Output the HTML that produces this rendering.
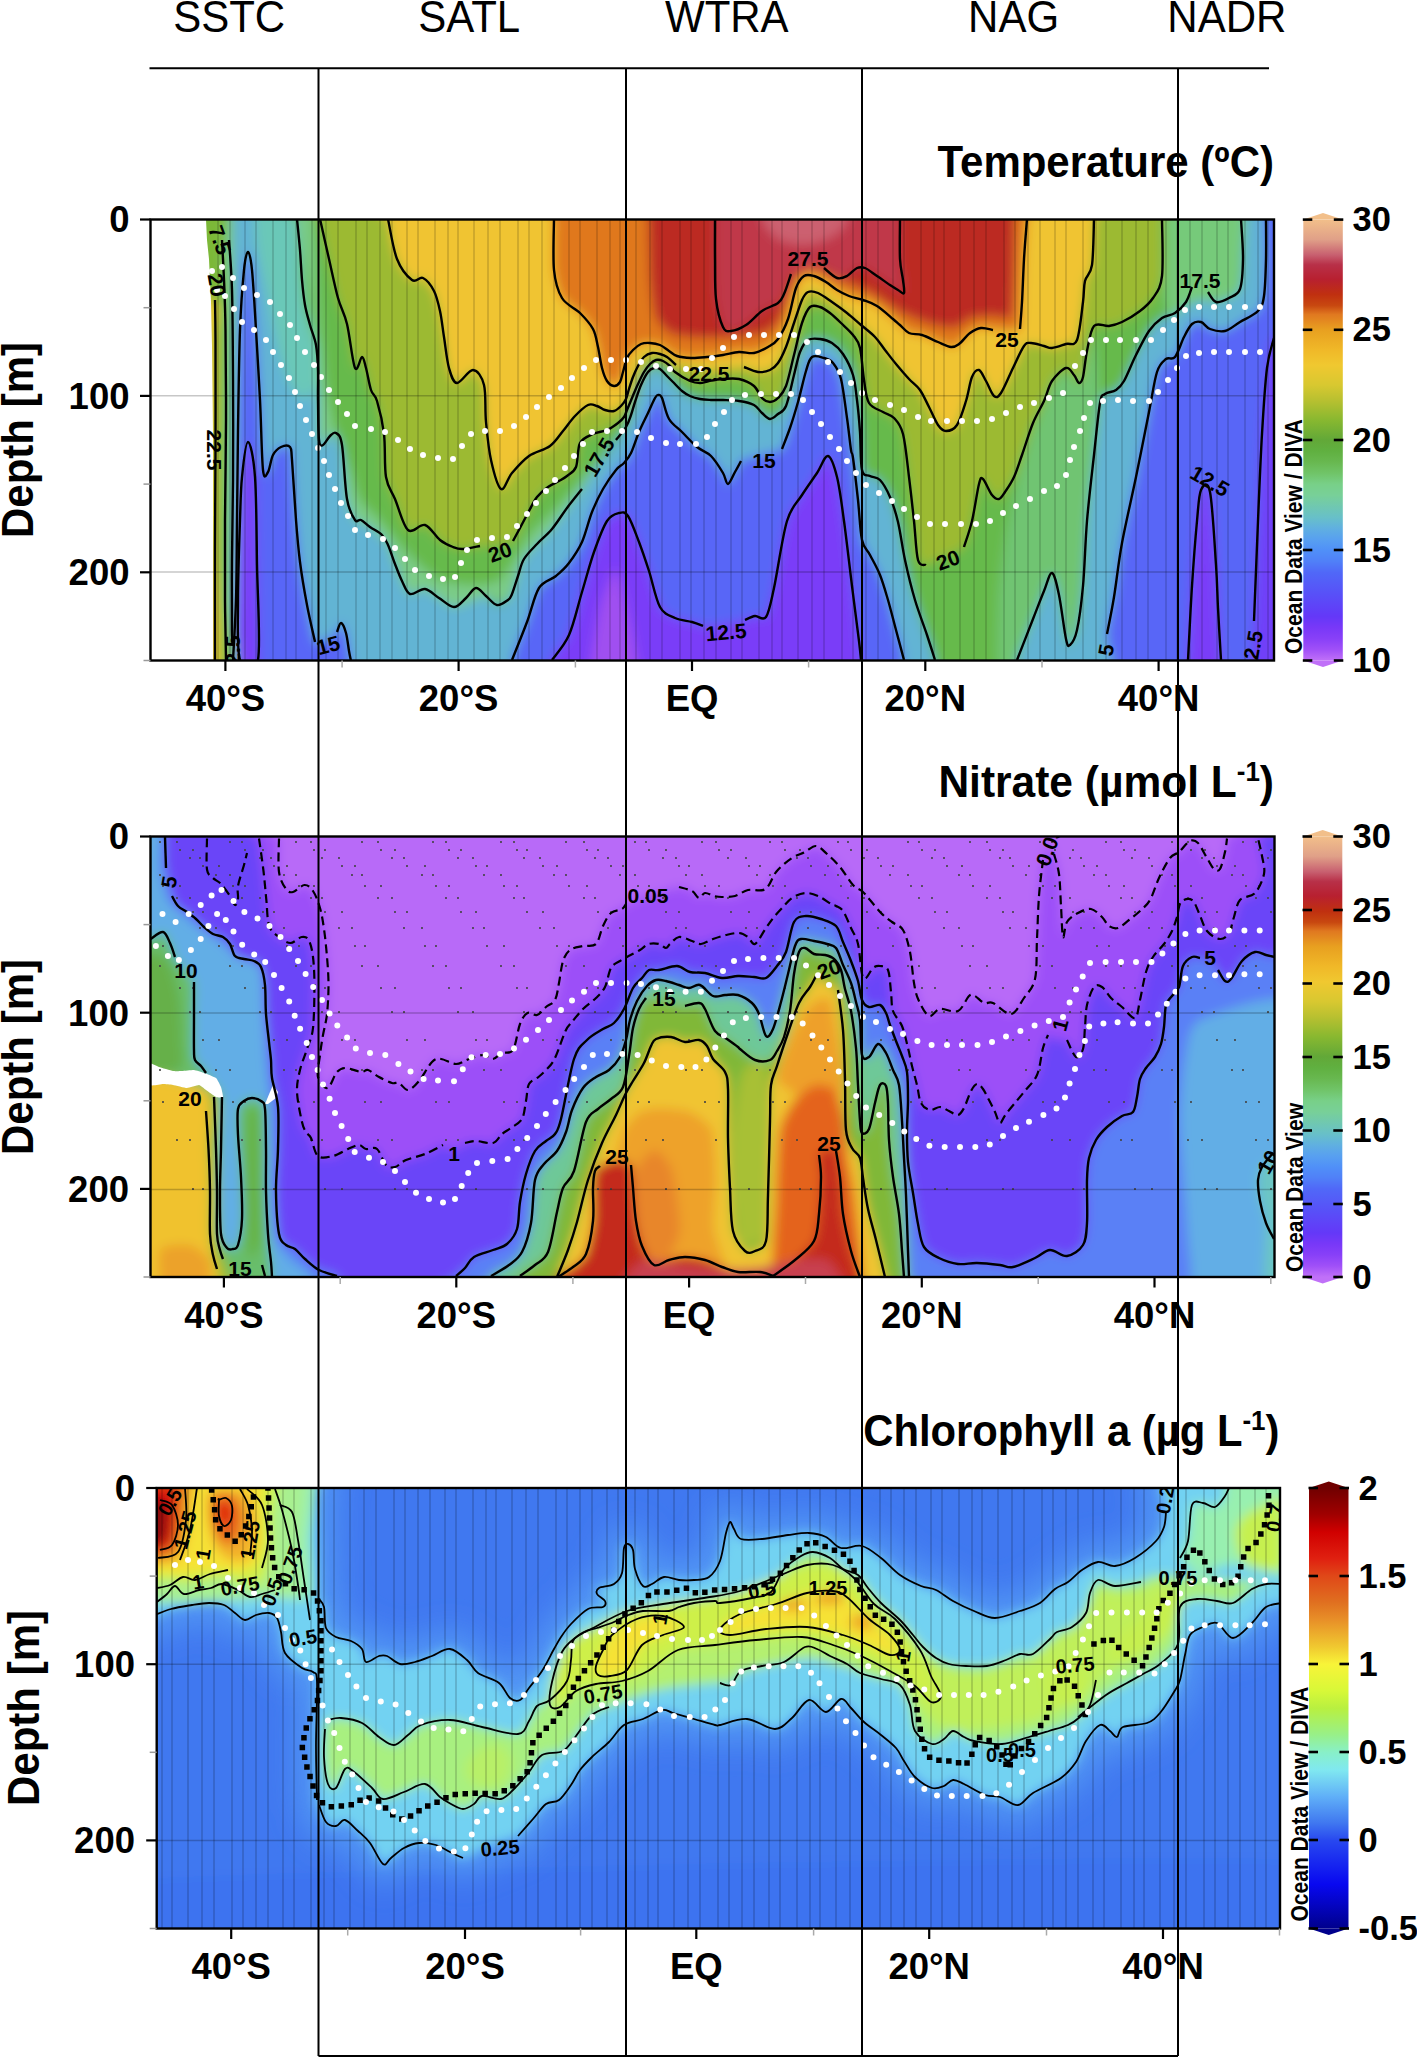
<!DOCTYPE html><html><head><meta charset="utf-8"><style>html,body{margin:0;padding:0;background:#fff;overflow:hidden}svg{display:block}text{font-family:"Liberation Sans", sans-serif;fill:#000}</style></head><body>
<svg width="1417" height="2059" viewBox="0 0 1417 2059">
<defs>
<filter id="b6" x="-5%" y="-10%" width="110%" height="120%"><feGaussianBlur stdDeviation="5.5"/></filter>
<filter id="b14" x="-10%" y="-20%" width="120%" height="140%"><feGaussianBlur stdDeviation="16"/></filter>
<clipPath id="c1"><rect x="150.5" y="219.5" width="1123.5" height="441.0"/></clipPath>
<clipPath id="c2"><rect x="150.5" y="836.5" width="1124.0" height="440.5"/></clipPath>
<clipPath id="c3"><rect x="156.7" y="1488.0" width="1123.3" height="440.5"/></clipPath>
<linearGradient id="gT" x1="0" y1="0" x2="0" y2="1"><stop offset="0.0000" stop-color="#f2bf8a"/><stop offset="0.0450" stop-color="#e0a088"/><stop offset="0.0800" stop-color="#c86070"/><stop offset="0.1025" stop-color="#b83048"/><stop offset="0.1350" stop-color="#b82030"/><stop offset="0.1700" stop-color="#c03010"/><stop offset="0.1950" stop-color="#c84810"/><stop offset="0.2150" stop-color="#e07820"/><stop offset="0.2500" stop-color="#e8a020"/><stop offset="0.2950" stop-color="#f0b828"/><stop offset="0.3300" stop-color="#f0c830"/><stop offset="0.3750" stop-color="#d8c830"/><stop offset="0.4100" stop-color="#b8c030"/><stop offset="0.4550" stop-color="#88b830"/><stop offset="0.5000" stop-color="#62a838"/><stop offset="0.5250" stop-color="#60b040"/><stop offset="0.5500" stop-color="#68b850"/><stop offset="0.5750" stop-color="#70c468"/><stop offset="0.6000" stop-color="#78d088"/><stop offset="0.6250" stop-color="#78d098"/><stop offset="0.6500" stop-color="#70c8b0"/><stop offset="0.6750" stop-color="#68c0c8"/><stop offset="0.7000" stop-color="#60b0e0"/><stop offset="0.7250" stop-color="#58a0f0"/><stop offset="0.7500" stop-color="#5090f8"/><stop offset="0.7750" stop-color="#5080f8"/><stop offset="0.8000" stop-color="#5068f8"/><stop offset="0.8500" stop-color="#5850f8"/><stop offset="0.9000" stop-color="#6438f8"/><stop offset="0.9250" stop-color="#7838f8"/><stop offset="0.9500" stop-color="#8840f8"/><stop offset="0.9750" stop-color="#a050f8"/><stop offset="1.0000" stop-color="#c070f8"/></linearGradient>
<linearGradient id="gN" x1="0" y1="0" x2="0" y2="1"><stop offset="0.0000" stop-color="#f2bf8a"/><stop offset="0.0450" stop-color="#e0a088"/><stop offset="0.0800" stop-color="#c86070"/><stop offset="0.1025" stop-color="#b83048"/><stop offset="0.1350" stop-color="#b82030"/><stop offset="0.1700" stop-color="#c03010"/><stop offset="0.1950" stop-color="#c84810"/><stop offset="0.2150" stop-color="#e07820"/><stop offset="0.2500" stop-color="#e8a020"/><stop offset="0.2950" stop-color="#f0b828"/><stop offset="0.3300" stop-color="#f0c830"/><stop offset="0.3750" stop-color="#d8c830"/><stop offset="0.4100" stop-color="#b8c030"/><stop offset="0.4550" stop-color="#88b830"/><stop offset="0.5000" stop-color="#62a838"/><stop offset="0.5250" stop-color="#60b040"/><stop offset="0.5500" stop-color="#68b850"/><stop offset="0.5750" stop-color="#70c468"/><stop offset="0.6000" stop-color="#78d088"/><stop offset="0.6250" stop-color="#78d098"/><stop offset="0.6500" stop-color="#70c8b0"/><stop offset="0.6750" stop-color="#68c0c8"/><stop offset="0.7000" stop-color="#60b0e0"/><stop offset="0.7250" stop-color="#58a0f0"/><stop offset="0.7500" stop-color="#5090f8"/><stop offset="0.7750" stop-color="#5080f8"/><stop offset="0.8000" stop-color="#5068f8"/><stop offset="0.8500" stop-color="#5850f8"/><stop offset="0.9000" stop-color="#6438f8"/><stop offset="0.9250" stop-color="#7838f8"/><stop offset="0.9500" stop-color="#8840f8"/><stop offset="0.9750" stop-color="#a050f8"/><stop offset="1.0000" stop-color="#c070f8"/></linearGradient>
<linearGradient id="gC" x1="0" y1="0" x2="0" y2="1"><stop offset="0.0000" stop-color="#700000"/><stop offset="0.0600" stop-color="#a00000"/><stop offset="0.1000" stop-color="#d00000"/><stop offset="0.1600" stop-color="#e02010"/><stop offset="0.2000" stop-color="#e04818"/><stop offset="0.2600" stop-color="#e07020"/><stop offset="0.3000" stop-color="#e89028"/><stop offset="0.3600" stop-color="#f0c830"/><stop offset="0.4000" stop-color="#f8f438"/><stop offset="0.4600" stop-color="#d8f838"/><stop offset="0.5000" stop-color="#b8f040"/><stop offset="0.5600" stop-color="#98f088"/><stop offset="0.6000" stop-color="#88f0c8"/><stop offset="0.6400" stop-color="#80e8f0"/><stop offset="0.7000" stop-color="#60b0f8"/><stop offset="0.7600" stop-color="#4078f0"/><stop offset="0.8000" stop-color="#2848f0"/><stop offset="0.9000" stop-color="#0808f0"/><stop offset="1.0000" stop-color="#00008c"/></linearGradient>
</defs>
<rect width="1417" height="2059" fill="#fff"/>
<g clip-path="url(#c1)">
<g filter="url(#b6)">
<path d="M120.5,189.5 C238.8,139.4 1185.7,139.4 1304.0,189.5 C1422.3,239.6 1422.3,640.4 1304.0,690.5 C1185.7,740.6 238.8,740.6 120.5,690.5 C2.2,640.4 2.2,239.6 120.5,189.5 Z" fill="#5866f7"/>
<path d="M120.5,189.5 C238.8,139.4 1189.5,189.5 1304.0,189.5 C1418.5,189.5 1269.8,182.6 1266.0,189.5 C1262.2,196.4 1266.2,248.3 1266.0,259.0 C1265.8,269.6 1264.8,290.8 1264.0,296.0 C1263.2,301.2 1260.4,308.4 1258.0,311.0 C1255.6,313.6 1243.3,320.0 1240.0,322.0 C1236.7,324.0 1228.0,330.3 1225.0,331.0 C1222.0,331.7 1212.4,329.9 1210.0,329.0 C1207.6,328.1 1202.8,322.5 1201.0,322.0 C1199.2,321.5 1193.7,322.5 1192.0,324.0 C1190.3,325.5 1185.7,333.7 1184.0,337.0 C1182.3,340.3 1176.8,354.8 1175.0,357.0 C1173.2,359.2 1167.8,357.5 1166.0,359.0 C1164.2,360.5 1158.7,366.7 1157.0,372.0 C1155.3,377.3 1151.1,401.5 1149.0,412.0 C1146.9,422.5 1138.7,463.9 1136.0,477.0 C1133.3,490.1 1124.2,531.0 1122.0,543.0 C1119.8,555.0 1115.5,587.9 1114.0,597.0 C1112.5,606.1 1107.9,624.6 1107.0,634.0 C1106.1,643.4 1125.3,684.9 1105.0,690.5 C1084.7,696.1 924.1,693.5 904.0,690.5 C883.9,687.5 904.8,666.0 904.0,660.0 C903.2,654.0 897.6,636.0 896.0,630.0 C894.4,624.0 889.6,605.5 888.0,600.0 C886.4,594.5 881.8,579.5 880.0,575.0 C878.2,570.5 871.8,558.5 870.0,555.0 C868.2,551.5 863.2,545.5 862.0,540.0 C860.8,534.5 858.9,508.2 858.0,500.0 C857.1,491.8 854.1,466.2 853.0,458.0 C851.9,449.8 848.2,425.9 847.0,418.0 C845.8,410.1 842.4,384.5 841.0,379.0 C839.6,373.5 834.7,365.1 833.0,363.0 C831.3,360.9 826.1,358.6 824.0,358.0 C821.9,357.4 813.8,355.7 812.0,357.0 C810.2,358.3 807.4,366.5 806.0,371.0 C804.6,375.5 799.6,396.3 798.0,402.0 C796.4,407.7 791.6,423.3 790.0,428.0 C788.4,432.7 785.0,446.3 782.0,449.0 C779.0,451.7 764.1,453.8 760.0,455.0 C755.9,456.2 743.5,459.3 741.0,461.0 C738.5,462.7 736.3,469.7 735.0,472.0 C733.7,474.3 729.2,483.9 728.0,484.0 C726.8,484.1 724.7,475.8 723.0,473.0 C721.3,470.2 713.6,458.6 711.0,456.0 C708.4,453.4 699.9,449.4 697.0,447.0 C694.1,444.6 684.8,434.8 682.0,432.0 C679.2,429.2 671.0,422.4 669.0,419.0 C667.0,415.6 663.1,400.4 662.0,398.0 C660.9,395.6 658.7,395.0 658.0,395.0 C657.3,395.0 656.0,396.2 655.0,398.0 C654.0,399.8 649.6,409.6 648.0,413.0 C646.4,416.4 640.7,428.0 639.0,432.0 C637.3,436.0 632.5,449.9 631.0,453.0 C629.5,456.1 625.5,461.3 624.0,463.0 C622.5,464.7 618.1,467.4 616.0,470.0 C613.9,472.6 605.4,484.8 603.0,489.0 C600.6,493.2 594.1,506.7 592.0,512.0 C589.9,517.3 584.3,536.9 582.0,542.0 C579.7,547.1 571.6,559.6 569.0,563.0 C566.4,566.4 559.0,573.5 556.0,576.0 C553.0,578.5 541.9,583.4 539.0,588.0 C536.1,592.6 529.7,614.8 527.0,622.0 C524.3,629.2 513.7,653.1 512.0,660.0 C510.3,666.9 526.1,687.5 510.0,690.5 C493.9,693.5 366.9,693.5 351.0,690.5 C335.1,687.5 351.2,665.0 351.0,661.0 C350.8,657.0 349.5,653.8 349.0,651.0 C348.5,648.2 346.8,635.8 346.0,633.0 C345.2,630.2 341.9,623.1 341.0,623.0 C340.1,622.9 338.5,630.3 337.0,632.0 C335.5,633.7 328.2,639.0 326.0,640.0 C323.8,641.0 316.9,645.5 315.0,642.0 C313.1,638.5 308.5,613.0 307.0,605.0 C305.5,597.0 301.1,570.5 300.0,562.0 C298.9,553.5 296.8,530.2 296.0,520.0 C295.2,509.8 292.6,467.3 292.0,460.0 C291.4,452.7 291.1,448.3 290.0,447.0 C288.9,445.7 282.7,446.2 281.0,447.0 C279.3,447.8 274.3,452.5 273.0,455.0 C271.7,457.5 269.0,470.5 268.0,472.0 C267.0,473.5 263.8,477.2 263.0,470.0 C262.2,462.8 260.7,414.0 260.0,400.0 C259.3,386.0 256.8,343.0 256.0,330.0 C255.2,317.0 252.8,277.8 252.0,270.0 C251.2,262.2 248.8,252.0 248.0,252.0 C247.2,252.0 244.8,262.2 244.0,270.0 C243.2,277.8 240.6,314.0 240.0,330.0 C239.4,346.0 238.3,411.0 238.0,430.0 C237.7,449.0 237.2,503.0 237.0,520.0 C236.8,537.0 236.4,586.0 236.0,600.0 C235.6,614.0 233.3,651.0 233.0,660.0 C232.7,669.0 244.2,687.5 233.0,690.5 C221.8,693.5 131.8,740.6 120.5,690.5 C109.2,640.4 2.2,239.6 120.5,189.5 Z" fill="#62b4d4"/>
<path d="M256.0,189.5 C260.1,184.9 292.9,186.6 297.0,189.5 C301.1,192.4 296.7,212.9 297.0,219.0 C297.3,225.1 299.5,243.9 300.0,250.0 C300.5,256.1 301.5,274.5 302.0,280.0 C302.5,285.5 304.2,300.5 305.0,305.0 C305.8,309.5 308.9,321.0 310.0,325.0 C311.1,329.0 315.2,339.5 316.0,345.0 C316.8,350.5 319.1,374.5 318.0,380.0 C316.9,385.5 307.8,399.5 305.0,400.0 C302.2,400.5 292.7,390.0 290.0,385.0 C287.3,380.0 280.2,358.5 278.0,350.0 C275.8,341.5 269.8,308.8 268.0,300.0 C266.2,291.2 261.2,268.5 260.0,262.0 C258.8,255.5 256.4,242.2 256.0,235.0 C255.6,227.8 251.9,194.1 256.0,189.5 Z" fill="#6ac8b8"/>
<path d="M297.0,189.5 C202.6,192.4 296.7,212.9 297.0,219.0 C297.3,225.1 299.5,243.9 300.0,250.0 C300.5,256.1 301.5,274.5 302.0,280.0 C302.5,285.5 304.2,300.5 305.0,305.0 C305.8,309.5 308.9,321.0 310.0,325.0 C311.1,329.0 315.2,340.5 316.0,345.0 C316.8,349.5 317.8,364.5 318.0,370.0 C318.2,375.5 317.9,393.0 318.0,400.0 C318.1,407.0 318.5,435.5 319.0,440.0 C319.5,444.5 321.9,445.4 323.0,445.0 C324.1,444.6 328.7,437.2 330.0,436.0 C331.3,434.8 334.8,432.1 336.0,433.0 C337.2,433.9 340.9,438.4 342.0,445.0 C343.1,451.6 345.7,491.5 347.0,499.0 C348.3,506.5 353.6,517.9 355.0,520.0 C356.4,522.1 359.5,519.3 361.0,520.0 C362.5,520.7 367.9,525.5 370.0,527.0 C372.1,528.5 380.2,533.2 382.0,535.0 C383.8,536.8 386.7,542.1 388.0,545.0 C389.3,547.9 393.6,560.4 395.0,564.0 C396.4,567.6 400.5,578.0 402.0,581.0 C403.5,584.0 407.7,593.2 410.0,594.0 C412.3,594.8 422.1,588.6 425.0,589.0 C427.9,589.4 436.1,596.2 439.0,598.0 C441.9,599.8 451.3,607.0 454.0,607.0 C456.7,607.0 463.8,599.9 466.0,598.0 C468.2,596.1 474.0,588.2 476.0,588.0 C478.0,587.8 483.9,594.3 486.0,596.0 C488.1,597.7 494.8,604.6 497.0,605.0 C499.2,605.4 506.5,601.1 508.0,600.0 C509.5,598.9 511.0,596.4 512.0,594.0 C513.0,591.6 516.8,579.5 518.0,576.0 C519.2,572.5 522.1,562.2 524.0,559.0 C525.9,555.8 534.2,547.0 537.0,544.0 C539.8,541.0 549.0,532.6 552.0,529.0 C555.0,525.4 564.0,512.0 567.0,508.0 C570.0,504.0 578.9,493.3 582.0,489.0 C585.1,484.7 594.6,469.9 598.0,465.0 C601.4,460.1 613.2,443.8 616.0,440.0 C618.8,436.2 624.5,429.5 626.0,427.0 C627.5,424.5 630.1,417.5 631.0,415.0 C631.9,412.5 634.0,405.0 635.0,402.0 C636.0,399.0 639.7,388.0 641.0,385.0 C642.3,382.0 646.7,373.7 648.0,372.0 C649.3,370.3 652.8,368.3 654.0,368.0 C655.2,367.7 658.7,368.2 660.0,369.0 C661.3,369.8 665.7,374.7 667.0,376.0 C668.3,377.3 671.5,380.5 673.0,382.0 C674.5,383.5 680.3,389.6 682.0,391.0 C683.7,392.4 688.2,395.2 690.0,396.0 C691.8,396.8 697.9,398.6 700.0,399.0 C702.1,399.4 708.7,399.9 711.0,400.0 C713.3,400.1 720.2,399.9 723.0,400.0 C725.8,400.1 735.9,400.5 739.0,401.0 C742.1,401.5 751.7,403.8 754.0,405.0 C756.3,406.2 760.4,411.6 762.0,413.0 C763.6,414.4 768.4,418.9 770.0,419.0 C771.6,419.1 776.4,415.3 778.0,414.0 C779.6,412.7 784.4,409.9 786.0,406.0 C787.6,402.1 792.6,380.4 794.0,375.0 C795.4,369.6 798.6,355.5 800.0,352.0 C801.4,348.5 806.0,341.3 808.0,340.0 C810.0,338.7 817.6,338.7 820.0,339.0 C822.4,339.3 829.7,341.5 832.0,343.0 C834.3,344.5 840.9,350.8 843.0,354.0 C845.1,357.2 851.6,370.4 853.0,375.0 C854.4,379.6 856.3,394.3 857.0,400.0 C857.7,405.7 859.5,425.0 860.0,432.0 C860.5,439.0 861.0,465.6 862.0,470.0 C863.0,474.4 868.2,475.0 870.0,476.0 C871.8,477.0 878.0,477.9 880.0,480.0 C882.0,482.1 888.2,492.8 890.0,497.0 C891.8,501.2 896.5,515.7 898.0,522.0 C899.5,528.3 903.3,552.2 905.0,560.0 C906.7,567.8 912.8,592.5 915.0,600.0 C917.2,607.5 925.0,629.0 927.0,635.0 C929.0,641.0 934.2,654.5 935.0,660.0 C935.8,665.5 926.8,687.5 935.0,690.5 C943.2,693.5 1008.8,693.5 1017.0,690.5 C1025.2,687.5 1015.4,667.1 1017.0,660.0 C1018.6,652.9 1030.3,625.9 1033.0,619.0 C1035.7,612.1 1042.1,595.6 1044.0,591.0 C1045.9,586.4 1050.5,572.6 1052.0,573.0 C1053.5,573.4 1057.6,588.4 1059.0,595.0 C1060.4,601.6 1064.9,634.0 1066.0,639.0 C1067.1,644.0 1068.9,645.9 1070.0,645.0 C1071.1,644.1 1075.7,635.9 1077.0,630.0 C1078.3,624.1 1082.0,596.9 1083.0,586.0 C1084.0,575.1 1085.9,534.1 1087.0,521.0 C1088.1,507.9 1092.7,466.8 1094.0,455.0 C1095.3,443.2 1098.9,409.1 1100.0,403.0 C1101.1,396.9 1103.4,395.3 1105.0,394.0 C1106.6,392.7 1114.1,391.3 1116.0,390.0 C1117.9,388.7 1122.0,384.5 1124.0,381.0 C1126.0,377.5 1133.5,360.0 1136.0,355.0 C1138.5,350.0 1146.4,334.7 1149.0,331.0 C1151.6,327.3 1159.4,319.8 1162.0,318.0 C1164.6,316.2 1172.6,314.6 1175.0,313.0 C1177.4,311.4 1184.3,304.6 1186.0,302.0 C1187.7,299.4 1190.6,288.2 1192.0,287.0 C1193.4,285.8 1198.4,289.5 1200.0,290.0 C1201.6,290.5 1206.4,290.8 1208.0,292.0 C1209.6,293.2 1213.9,301.4 1216.0,302.0 C1218.1,302.6 1226.6,299.3 1229.0,298.0 C1231.4,296.7 1238.6,292.9 1240.0,289.0 C1241.4,285.1 1242.9,266.0 1243.0,259.0 C1243.1,252.0 1241.2,225.9 1241.0,219.0 C1240.8,212.1 1335.4,192.4 1241.0,189.5 C1146.6,186.6 391.4,186.6 297.0,189.5 Z" fill="#66ba4c"/>
<path d="M298.0,189.5 C296.8,192.4 297.3,211.9 298.0,219.0 C298.7,226.1 303.6,251.9 305.0,260.0 C306.4,268.1 310.8,291.0 312.0,300.0 C313.2,309.0 316.4,340.0 317.0,350.0 C317.6,360.0 317.8,391.0 318.0,400.0 C318.2,409.0 318.5,435.5 319.0,440.0 C319.5,444.5 321.9,445.4 323.0,445.0 C324.1,444.6 328.7,437.2 330.0,436.0 C331.3,434.8 334.8,432.1 336.0,433.0 C337.2,433.9 340.9,438.4 342.0,445.0 C343.1,451.6 345.7,491.5 347.0,499.0 C348.3,506.5 352.7,517.2 355.0,520.0 C357.3,522.8 366.7,524.5 370.0,527.0 C373.3,529.5 384.8,539.6 388.0,545.0 C391.2,550.4 399.8,576.1 402.0,581.0 C404.2,585.9 407.7,593.2 410.0,594.0 C412.3,594.8 420.6,587.7 425.0,589.0 C429.4,590.3 447.9,606.3 454.0,607.0 C460.1,607.7 480.6,596.7 486.0,596.0 C491.4,595.3 504.2,603.7 508.0,600.0 C511.8,596.3 519.6,566.1 524.0,559.0 C528.4,551.9 546.2,536.0 552.0,529.0 C557.8,522.0 577.4,495.4 582.0,489.0 C586.6,482.6 594.6,469.9 598.0,465.0 C601.4,460.1 615.3,441.0 616.0,440.0 C616.7,439.0 607.6,452.0 605.0,455.0 C602.4,458.0 594.5,465.0 590.0,470.0 C585.5,475.0 566.0,498.5 560.0,505.0 C554.0,511.5 536.0,527.5 530.0,535.0 C524.0,542.5 506.0,575.0 500.0,580.0 C494.0,585.0 476.0,585.0 470.0,585.0 C464.0,585.0 445.0,582.0 440.0,580.0 C435.0,578.0 424.0,568.5 420.0,565.0 C416.0,561.5 404.0,549.5 400.0,545.0 C396.0,540.5 384.0,524.5 380.0,520.0 C376.0,515.5 363.0,505.0 360.0,500.0 C357.0,495.0 352.5,477.0 350.0,470.0 C347.5,463.0 337.5,439.0 335.0,430.0 C332.5,421.0 326.7,393.0 325.0,380.0 C323.3,367.0 319.5,319.1 318.0,300.0 C316.5,280.9 312.0,200.6 310.0,189.5 C308.0,178.4 299.2,186.6 298.0,189.5 Z" fill="#7ccc88"/>
<path d="M1170.0,189.5 C1177.6,183.4 1234.7,182.6 1242.0,189.5 C1249.3,196.4 1243.2,249.1 1243.0,259.0 C1242.8,268.9 1241.4,285.1 1240.0,289.0 C1238.6,292.9 1231.4,296.7 1229.0,298.0 C1226.6,299.3 1218.9,301.8 1216.0,302.0 C1213.1,302.2 1203.0,299.6 1200.0,300.0 C1197.0,300.4 1188.8,304.4 1186.0,306.0 C1183.2,307.6 1174.1,316.6 1172.0,316.0 C1169.9,315.4 1165.6,306.6 1165.0,300.0 C1164.4,293.4 1165.5,261.1 1166.0,250.0 C1166.5,238.9 1162.4,195.6 1170.0,189.5 Z" fill="#76ca7a"/>
<path d="M998.0,690.5 C996.1,681.5 997.3,615.0 998.0,600.0 C998.7,585.0 1003.3,551.0 1005.0,540.0 C1006.7,529.0 1012.5,500.0 1015.0,490.0 C1017.5,480.0 1027.1,448.5 1030.0,440.0 C1032.9,431.5 1041.8,410.5 1044.0,405.0 C1046.2,399.5 1049.8,388.3 1052.0,385.0 C1054.2,381.7 1063.2,372.0 1066.0,372.0 C1068.8,372.0 1077.9,386.2 1080.0,385.0 C1082.1,383.8 1085.6,365.0 1087.0,360.0 C1088.4,355.0 1092.7,330.7 1094.0,335.0 C1095.3,339.3 1100.0,391.0 1100.0,403.0 C1100.0,415.0 1095.3,443.2 1094.0,455.0 C1092.7,466.8 1088.1,507.9 1087.0,521.0 C1085.9,534.1 1084.0,575.1 1083.0,586.0 C1082.0,596.9 1078.3,624.1 1077.0,630.0 C1075.7,635.9 1071.1,644.1 1070.0,645.0 C1068.9,645.9 1067.1,644.0 1066.0,639.0 C1064.9,634.0 1060.4,601.6 1059.0,595.0 C1057.6,588.4 1053.5,573.4 1052.0,573.0 C1050.5,572.6 1045.9,586.4 1044.0,591.0 C1042.1,595.6 1035.7,612.1 1033.0,619.0 C1030.3,625.9 1018.6,652.9 1017.0,660.0 C1015.4,667.1 1018.9,687.5 1017.0,690.5 C1015.1,693.5 999.9,699.5 998.0,690.5 Z" fill="#70c472"/>
<path d="M320.0,189.5 C235.8,192.4 319.1,212.1 320.0,219.0 C320.9,225.9 327.2,251.1 329.0,259.0 C330.8,266.9 336.2,291.5 338.0,298.0 C339.8,304.5 345.3,317.0 347.0,324.0 C348.7,331.0 353.5,364.7 355.0,368.0 C356.5,371.3 360.9,357.0 362.0,357.0 C363.1,357.0 365.1,364.7 366.0,368.0 C366.9,371.3 369.9,386.7 371.0,390.0 C372.1,393.3 375.7,396.6 377.0,401.0 C378.3,405.4 383.1,426.4 384.0,434.0 C384.9,441.6 384.9,470.5 386.0,477.0 C387.1,483.5 392.8,493.7 395.0,499.0 C397.2,504.3 405.0,527.4 408.0,530.0 C411.0,532.6 421.8,524.0 425.0,525.0 C428.2,526.0 437.2,537.8 440.0,540.0 C442.8,542.2 450.7,546.1 453.0,547.0 C455.3,547.9 460.3,549.1 463.0,549.0 C465.7,548.9 476.7,546.4 480.0,546.0 C483.3,545.6 492.7,545.5 496.0,545.0 C499.3,544.5 510.6,542.7 513.0,541.0 C515.4,539.3 518.4,531.0 520.0,528.0 C521.6,525.0 527.3,514.1 529.0,511.0 C530.7,507.9 535.1,499.4 537.0,497.0 C538.9,494.6 545.8,488.6 548.0,487.0 C550.2,485.4 557.1,482.1 559.0,481.0 C560.9,479.9 565.3,477.4 567.0,476.0 C568.7,474.6 574.7,470.3 576.0,467.0 C577.3,463.7 578.3,446.3 580.0,443.0 C581.7,439.7 590.3,435.3 593.0,434.0 C595.7,432.7 604.5,431.1 607.0,430.0 C609.5,428.9 616.3,424.3 618.0,423.0 C619.7,421.7 623.1,418.3 624.0,417.0 C624.9,415.7 626.2,411.9 627.0,410.0 C627.8,408.1 630.9,400.6 632.0,398.0 C633.1,395.4 636.8,386.6 638.0,384.0 C639.2,381.4 642.8,374.0 644.0,372.0 C645.2,370.0 648.8,365.2 650.0,364.0 C651.2,362.8 654.7,360.3 656.0,360.0 C657.3,359.7 661.6,360.4 663.0,361.0 C664.4,361.6 668.8,364.9 670.0,366.0 C671.2,367.1 673.0,370.5 675.0,372.0 C677.0,373.5 687.5,379.9 690.0,381.0 C692.5,382.1 698.1,383.0 700.0,383.0 C701.9,383.0 706.7,381.4 709.0,381.0 C711.3,380.6 720.0,379.2 723.0,379.0 C726.0,378.8 735.9,378.3 739.0,379.0 C742.1,379.7 751.7,384.1 754.0,386.0 C756.3,387.9 760.4,396.4 762.0,398.0 C763.6,399.6 768.4,402.0 770.0,402.0 C771.6,402.0 776.4,399.6 778.0,398.0 C779.6,396.4 784.4,390.3 786.0,386.0 C787.6,381.7 792.4,361.3 794.0,355.0 C795.6,348.7 800.4,327.8 802.0,323.0 C803.6,318.2 808.2,308.6 810.0,307.0 C811.8,305.4 818.0,306.4 820.0,307.0 C822.0,307.6 827.9,311.4 830.0,313.0 C832.1,314.6 838.7,320.8 841.0,323.0 C843.3,325.2 851.1,332.5 853.0,335.0 C854.9,337.5 858.9,343.5 860.0,348.0 C861.1,352.5 863.1,374.5 864.0,380.0 C864.9,385.5 867.1,399.8 869.0,403.0 C870.9,406.2 880.5,410.5 883.0,412.0 C885.5,413.5 892.0,415.8 894.0,418.0 C896.0,420.2 901.5,428.1 903.0,434.0 C904.5,439.9 907.9,468.3 909.0,477.0 C910.1,485.7 913.1,512.7 914.0,521.0 C914.9,529.3 916.8,555.6 918.0,560.0 C919.2,564.4 923.3,565.4 926.0,565.0 C928.7,564.6 941.2,557.8 945.0,556.0 C948.8,554.2 961.3,550.5 964.0,547.0 C966.7,543.5 970.5,527.3 972.0,521.0 C973.5,514.7 977.9,488.2 979.0,484.0 C980.1,479.8 981.7,477.9 983.0,479.0 C984.3,480.1 990.4,493.0 992.0,495.0 C993.6,497.0 997.7,499.3 999.0,499.0 C1000.3,498.7 1003.5,494.2 1005.0,492.0 C1006.5,489.8 1012.3,480.7 1014.0,477.0 C1015.7,473.3 1020.1,460.4 1022.0,455.0 C1023.9,449.6 1030.8,428.4 1033.0,423.0 C1035.2,417.6 1042.1,405.2 1044.0,401.0 C1045.9,396.8 1049.8,384.3 1052.0,381.0 C1054.2,377.7 1063.8,368.6 1066.0,368.0 C1068.2,367.4 1072.7,373.5 1074.0,375.0 C1075.3,376.5 1078.1,382.8 1079.0,383.0 C1079.9,383.2 1082.2,380.2 1083.0,377.0 C1083.8,373.8 1085.9,356.1 1087.0,351.0 C1088.1,345.9 1091.8,328.5 1094.0,326.0 C1096.2,323.5 1106.2,326.4 1109.0,326.0 C1111.8,325.6 1118.9,323.5 1122.0,322.0 C1125.1,320.5 1136.9,313.4 1140.0,311.0 C1143.1,308.6 1150.8,301.5 1153.0,298.0 C1155.2,294.5 1161.1,283.9 1162.0,276.0 C1162.9,268.1 1162.0,227.7 1162.0,219.0 C1162.0,210.3 1246.2,192.4 1162.0,189.5 C1077.8,186.6 404.2,186.6 320.0,189.5 Z" fill="#9cba32"/>
<path d="M388.0,189.5 C317.4,192.4 387.1,212.1 388.0,219.0 C388.9,225.9 394.6,252.9 397.0,259.0 C399.4,265.1 409.4,278.1 412.0,280.0 C414.6,281.9 420.8,276.9 423.0,278.0 C425.2,279.1 432.3,287.7 434.0,291.0 C435.7,294.3 439.0,306.4 440.0,311.0 C441.0,315.6 443.1,331.3 444.0,337.0 C444.9,342.7 447.7,363.4 449.0,368.0 C450.3,372.6 454.6,382.8 457.0,383.0 C459.4,383.2 470.3,369.8 473.0,370.0 C475.7,370.2 482.7,379.8 484.0,385.0 C485.3,390.2 485.3,414.5 486.0,422.0 C486.7,429.5 489.5,453.3 491.0,460.0 C492.5,466.7 498.9,487.7 501.0,489.0 C503.1,490.3 509.2,476.3 512.0,473.0 C514.8,469.7 525.2,458.7 529.0,456.0 C532.8,453.3 546.6,448.5 550.0,446.0 C553.4,443.5 560.5,434.0 563.0,431.0 C565.5,428.0 572.5,418.6 575.0,416.0 C577.5,413.4 585.8,406.0 588.0,405.0 C590.2,404.0 595.3,405.5 597.0,406.0 C598.7,406.5 603.3,409.5 605.0,410.0 C606.7,410.5 612.4,411.4 614.0,411.0 C615.6,410.6 619.8,407.2 621.0,406.0 C622.2,404.8 625.2,400.7 626.0,399.0 C626.8,397.3 628.3,391.2 629.0,389.0 C629.7,386.8 632.1,379.3 633.0,377.0 C633.9,374.7 636.9,368.0 638.0,366.0 C639.1,364.0 642.6,358.3 644.0,357.0 C645.4,355.7 650.4,353.3 652.0,353.0 C653.6,352.7 658.5,353.6 660.0,354.0 C661.5,354.4 665.4,355.9 667.0,357.0 C668.6,358.1 671.7,363.7 676.0,365.0 C680.3,366.3 703.2,369.8 710.0,370.0 C716.8,370.2 739.2,366.8 744.0,367.0 C748.8,367.2 755.4,371.7 758.0,372.0 C760.6,372.3 768.0,370.9 770.0,370.0 C772.0,369.1 776.4,365.3 778.0,363.0 C779.6,360.7 784.4,351.0 786.0,347.0 C787.6,343.0 792.4,327.7 794.0,323.0 C795.6,318.3 800.6,303.1 802.0,300.0 C803.4,296.9 806.4,292.7 808.0,292.0 C809.6,291.3 815.6,292.0 818.0,293.0 C820.4,294.0 829.1,300.0 832.0,302.0 C834.9,304.0 844.1,310.7 847.0,313.0 C849.9,315.3 858.2,322.6 861.0,325.0 C863.8,327.4 872.6,334.5 875.0,337.0 C877.4,339.5 882.9,347.3 885.0,350.0 C887.1,352.7 893.6,361.1 896.0,364.0 C898.4,366.9 906.6,376.4 909.0,379.0 C911.4,381.6 918.0,387.2 920.0,390.0 C922.0,392.8 927.2,403.5 929.0,407.0 C930.8,410.5 936.3,422.6 938.0,425.0 C939.7,427.4 944.1,431.0 946.0,431.0 C947.9,431.0 955.0,428.0 957.0,425.0 C959.0,422.0 964.5,405.8 966.0,401.0 C967.5,396.2 970.7,380.1 972.0,377.0 C973.3,373.9 977.6,369.6 979.0,370.0 C980.4,370.4 984.5,378.4 986.0,381.0 C987.5,383.6 992.5,394.8 994.0,396.0 C995.5,397.2 999.1,395.8 1001.0,393.0 C1002.9,390.2 1010.7,372.7 1013.0,368.0 C1015.3,363.3 1022.2,348.5 1024.0,346.0 C1025.8,343.5 1029.0,343.0 1031.0,343.0 C1033.0,343.0 1041.9,345.5 1044.0,346.0 C1046.1,346.5 1049.8,348.2 1052.0,348.0 C1054.2,347.8 1063.5,344.8 1066.0,344.0 C1068.5,343.2 1075.3,344.2 1077.0,340.0 C1078.7,335.8 1082.2,307.9 1083.0,302.0 C1083.8,296.1 1084.1,284.7 1085.0,281.0 C1085.9,277.3 1091.1,271.2 1092.0,265.0 C1092.9,258.8 1093.8,226.6 1094.0,219.0 C1094.2,211.4 1164.6,192.4 1094.0,189.5 C1023.4,186.6 458.6,186.6 388.0,189.5 Z" fill="#f0c430"/>
<path d="M554.0,189.5 C506.7,192.4 554.0,210.9 554.0,219.0 C554.0,227.1 553.2,262.1 554.0,270.0 C554.8,277.9 559.4,293.7 562.0,298.0 C564.6,302.3 576.9,309.9 580.0,313.0 C583.1,316.1 591.2,325.6 593.0,329.0 C594.8,332.4 597.1,343.1 598.0,347.0 C598.9,350.9 601.1,364.6 602.0,368.0 C602.9,371.4 605.8,379.2 607.0,381.0 C608.2,382.8 612.7,385.9 614.0,386.0 C615.3,386.1 619.1,383.4 620.0,382.0 C620.9,380.6 622.3,374.4 623.0,372.0 C623.7,369.6 626.0,360.2 627.0,358.0 C628.0,355.8 631.6,351.4 633.0,350.0 C634.4,348.6 639.3,344.7 641.0,344.0 C642.7,343.3 648.1,342.9 650.0,343.0 C651.9,343.1 658.1,344.2 660.0,345.0 C661.9,345.8 667.3,349.9 669.0,351.0 C670.7,352.1 674.8,355.3 677.0,356.0 C679.2,356.7 688.0,357.9 691.0,358.0 C694.0,358.1 703.8,357.3 707.0,357.0 C710.2,356.7 719.8,355.5 723.0,355.0 C726.2,354.5 735.9,352.2 739.0,352.0 C742.1,351.8 751.1,353.5 754.0,353.0 C756.9,352.5 765.6,348.4 768.0,347.0 C770.4,345.6 776.0,341.8 778.0,339.0 C780.0,336.2 786.2,324.1 788.0,319.0 C789.8,313.9 794.4,292.3 796.0,288.0 C797.6,283.7 802.2,277.2 804.0,276.0 C805.8,274.8 811.8,275.4 814.0,276.0 C816.2,276.6 823.7,280.6 826.0,282.0 C828.3,283.4 834.7,288.6 837.0,290.0 C839.3,291.4 846.4,295.0 849.0,296.0 C851.6,297.0 860.2,299.0 863.0,300.0 C865.8,301.0 874.0,304.1 877.0,306.0 C880.0,307.9 890.7,317.1 893.0,319.0 C895.3,320.9 898.4,323.6 900.0,325.0 C901.6,326.4 906.8,332.0 909.0,333.0 C911.2,334.0 919.1,334.1 922.0,335.0 C924.9,335.9 935.1,340.8 938.0,342.0 C940.9,343.2 948.9,346.8 951.0,347.0 C953.1,347.2 957.1,345.4 959.0,344.0 C960.9,342.6 967.8,334.6 970.0,333.0 C972.2,331.4 978.7,328.3 981.0,328.0 C983.3,327.7 990.5,329.7 993.0,330.0 C995.5,330.3 1003.3,331.1 1006.0,331.0 C1008.7,330.9 1018.4,331.9 1020.0,329.0 C1021.6,326.1 1021.6,309.0 1022.0,302.0 C1022.4,295.0 1023.5,267.3 1024.0,259.0 C1024.5,250.7 1026.7,225.9 1027.0,219.0 C1027.3,212.1 1074.3,192.4 1027.0,189.5 C979.7,186.6 601.3,186.6 554.0,189.5 Z" fill="#e0781c"/>
<path d="M648.0,189.5 C611.3,192.4 647.8,209.9 648.0,219.0 C648.2,228.1 649.2,270.1 650.0,280.0 C650.8,289.9 653.8,312.6 656.0,318.0 C658.2,323.4 667.6,332.0 672.0,334.0 C676.4,336.0 694.2,337.7 700.0,338.0 C705.8,338.3 724.0,337.4 730.0,337.0 C736.0,336.6 755.4,335.2 760.0,334.0 C764.6,332.8 773.4,328.0 776.0,325.0 C778.6,322.0 784.0,308.7 786.0,304.0 C788.0,299.3 793.4,281.6 796.0,278.0 C798.6,274.4 807.6,267.8 812.0,268.0 C816.4,268.2 834.2,277.6 840.0,280.0 C845.8,282.4 864.0,288.8 870.0,292.0 C876.0,295.2 894.0,308.8 900.0,312.0 C906.0,315.2 924.5,322.4 930.0,324.0 C935.5,325.6 950.8,328.6 955.0,328.0 C959.2,327.4 968.0,319.2 972.0,318.0 C976.0,316.8 991.0,316.4 995.0,316.0 C999.0,315.6 1010.0,323.7 1012.0,314.0 C1014.0,304.3 1014.7,231.4 1015.0,219.0 C1015.3,206.6 1051.7,192.4 1015.0,189.5 C978.3,186.6 684.7,186.6 648.0,189.5 Z" fill="#bc2a20"/>
<path d="M715.0,189.5 C696.5,192.4 715.0,211.9 715.0,219.0 C715.0,226.1 714.9,252.0 715.0,260.0 C715.1,268.0 715.2,292.3 716.0,299.0 C716.8,305.7 721.5,323.8 723.0,327.0 C724.5,330.2 728.7,331.2 731.0,331.0 C733.3,330.8 742.9,327.0 746.0,325.0 C749.1,323.0 758.8,313.2 762.0,311.0 C765.2,308.8 775.8,304.7 778.0,303.0 C780.2,301.3 782.7,296.9 784.0,294.0 C785.3,291.1 788.6,276.4 791.0,274.0 C793.4,271.6 804.7,270.6 808.0,270.0 C811.3,269.4 821.1,267.2 824.0,268.0 C826.9,268.8 834.7,277.2 837.0,278.0 C839.3,278.8 845.0,277.0 847.0,276.0 C849.0,275.0 855.2,268.8 857.0,268.0 C858.8,267.2 863.0,267.2 865.0,268.0 C867.0,268.8 874.5,274.3 877.0,276.0 C879.5,277.7 887.9,283.6 890.0,285.0 C892.1,286.4 896.6,289.2 898.0,290.0 C899.4,290.8 903.5,294.0 904.0,293.0 C904.5,292.0 903.4,283.4 903.0,280.0 C902.6,276.6 900.3,265.1 900.0,259.0 C899.7,252.9 900.0,225.9 900.0,219.0 C900.0,212.1 918.5,192.4 900.0,189.5 C881.5,186.6 733.5,186.6 715.0,189.5 Z" fill="#c03848"/>
<path d="M760.0,189.5 C751.5,193.1 763.0,219.9 765.0,225.0 C767.0,230.1 776.0,238.0 780.0,240.0 C784.0,242.0 800.0,245.2 805.0,245.0 C810.0,244.8 826.0,240.0 830.0,238.0 C834.0,236.0 843.0,229.8 845.0,225.0 C847.0,220.2 858.5,193.1 850.0,189.5 C841.5,185.9 768.5,185.9 760.0,189.5 Z" fill="#cc6070"/>
<path d="M240.0,690.5 C238.0,681.5 238.0,617.0 238.0,600.0 C238.0,583.0 239.6,532.3 240.0,520.0 C240.4,507.7 241.2,484.8 242.0,477.0 C242.8,469.2 246.7,442.0 248.0,442.0 C249.3,442.0 254.1,464.7 255.0,477.0 C255.9,489.3 256.7,543.6 257.0,565.0 C257.3,586.4 259.7,678.0 258.0,690.5 C256.3,703.0 242.0,699.5 240.0,690.5 Z" fill="#7a3cf8"/>
<path d="M552.0,690.5 C521.1,687.5 550.3,665.5 552.0,660.0 C553.7,654.5 566.0,641.8 569.0,635.0 C572.0,628.2 579.5,600.3 582.0,592.0 C584.5,583.7 591.5,559.1 594.0,552.0 C596.5,544.9 604.5,524.9 607.0,521.0 C609.5,517.1 616.9,513.5 619.0,513.0 C621.1,512.5 626.0,513.1 628.0,516.0 C630.0,518.9 636.9,536.5 639.0,542.0 C641.1,547.5 646.9,564.5 649.0,571.0 C651.1,577.5 657.4,602.3 660.0,607.0 C662.6,611.7 671.8,616.5 675.0,618.0 C678.2,619.5 689.2,621.2 692.0,622.0 C694.8,622.8 699.7,625.8 703.0,626.0 C706.3,626.2 720.8,624.6 725.0,624.0 C729.2,623.4 742.0,620.8 745.0,620.0 C748.0,619.2 752.9,616.3 755.0,616.0 C757.1,615.7 764.1,619.8 766.0,617.0 C767.9,614.2 771.9,597.6 774.0,588.0 C776.1,578.4 784.2,530.3 787.0,521.0 C789.8,511.7 799.0,499.8 802.0,495.0 C805.0,490.2 814.4,476.9 817.0,473.0 C819.6,469.1 826.0,455.6 828.0,456.0 C830.0,456.4 835.4,470.5 837.0,477.0 C838.6,483.5 842.5,510.1 844.0,521.0 C845.5,531.9 850.5,574.0 852.0,586.0 C853.5,598.0 858.1,633.6 859.0,641.0 C859.9,648.4 860.8,655.0 861.0,660.0 C861.2,665.0 891.9,687.5 861.0,690.5 C830.1,693.5 582.9,693.5 552.0,690.5 Z" fill="#7a3cf8"/>
<path d="M590.0,690.5 C586.0,682.5 597.5,622.0 600.0,610.0 C602.5,598.0 612.5,571.0 615.0,570.0 C617.5,569.0 622.5,588.0 625.0,600.0 C627.5,612.0 643.5,681.5 640.0,690.5 C636.5,699.5 594.0,698.5 590.0,690.5 Z" fill="#a050f0"/>
<path d="M1188.0,690.5 C1184.7,687.5 1187.6,670.5 1188.0,660.0 C1188.4,649.5 1191.1,599.9 1192.0,586.0 C1192.9,572.1 1196.1,530.6 1197.0,521.0 C1197.9,511.4 1199.7,492.9 1201.0,490.0 C1202.3,487.1 1208.5,484.5 1210.0,492.0 C1211.5,499.5 1215.2,553.4 1216.0,565.0 C1216.8,576.6 1217.5,598.5 1218.0,608.0 C1218.5,617.5 1220.7,651.8 1221.0,660.0 C1221.3,668.2 1224.3,687.5 1221.0,690.5 C1217.7,693.5 1191.3,693.5 1188.0,690.5 Z" fill="#7a3cf8"/>
<path d="M1304.0,330.0 C1301.0,294.8 1277.7,334.2 1274.0,338.0 C1270.3,341.8 1268.2,358.4 1267.0,368.0 C1265.8,377.6 1262.9,418.7 1262.0,434.0 C1261.1,449.3 1258.8,502.3 1258.0,521.0 C1257.2,539.7 1254.6,604.0 1254.0,621.0 C1253.4,638.0 1247.0,683.5 1252.0,690.5 C1257.0,697.5 1298.8,726.5 1304.0,690.5 C1309.2,654.5 1307.0,365.2 1304.0,330.0 Z" fill="#7040f8"/>
<path d="M120.5,189.5 C131.8,139.4 221.8,186.6 233.0,189.5 C244.2,192.4 233.0,211.9 233.0,219.0 C233.0,226.1 232.9,251.9 233.0,260.0 C233.1,268.1 234.0,286.0 234.0,300.0 C234.0,314.0 233.1,380.0 233.0,400.0 C232.9,420.0 233.1,480.0 233.0,500.0 C232.9,520.0 232.1,581.0 232.0,600.0 C231.9,619.0 243.2,681.5 232.0,690.5 C220.8,699.5 131.7,740.6 120.5,690.5 C109.3,640.4 109.2,239.6 120.5,189.5 Z" fill="#78cc80"/>
<path d="M120.5,189.5 C130.7,139.4 211.7,182.4 222.0,189.5 C232.3,196.6 223.6,248.9 224.0,260.0 C224.4,271.1 225.8,286.0 226.0,300.0 C226.2,314.0 226.1,380.0 226.0,400.0 C225.9,420.0 225.1,480.0 225.0,500.0 C224.9,520.0 224.9,581.0 225.0,600.0 C225.1,619.0 236.4,681.5 226.0,690.5 C215.6,699.5 131.1,740.6 120.5,690.5 C110.0,640.4 110.3,239.6 120.5,189.5 Z" fill="#7cb838"/>
<path d="M120.5,290.0 C129.8,250.9 203.5,295.0 213.0,300.0 C222.5,305.0 215.2,325.0 215.5,340.0 C215.8,355.0 215.5,429.0 215.5,450.0 C215.5,471.0 215.4,526.0 215.5,550.0 C215.6,574.0 225.5,676.5 216.0,690.5 C206.5,704.5 130.1,730.5 120.5,690.5 C111.0,650.5 111.2,329.1 120.5,290.0 Z" fill="#e8c430"/>
</g>
<path d="M150.5,219.5 L206.0,219.5 L207.0,240.0 L209.0,259.0 L211.0,302.0 L212.0,346.0 L213.0,434.0 L213.0,660.5 L150.5,660.5 Z" fill="#fff"/>
<path d="M218.0,219.5 V660.5 M230.0,219.5 V660.5 M245.0,219.5 V660.5 M256.0,219.5 V660.5 M273.0,219.5 V660.5 M286.0,219.5 V660.5 M296.0,219.5 V660.5 M312.0,219.5 V660.5 M326.0,219.5 V660.5 M338.0,219.5 V660.5 M356.0,219.5 V660.5 M367.0,219.5 V660.5 M380.0,219.5 V660.5 M392.0,219.5 V660.5 M407.0,219.5 V660.5 M418.0,219.5 V660.5 M435.0,219.5 V660.5 M448.0,219.5 V660.5 M458.0,219.5 V660.5 M474.0,219.5 V660.5 M488.0,219.5 V660.5 M500.0,219.5 V660.5 M518.0,219.5 V660.5 M529.0,219.5 V660.5 M542.0,219.5 V660.5 M554.0,219.5 V660.5 M569.0,219.5 V660.5 M580.0,219.5 V660.5 M597.0,219.5 V660.5 M610.0,219.5 V660.5 M620.0,219.5 V660.5 M636.0,219.5 V660.5 M650.0,219.5 V660.5 M662.0,219.5 V660.5 M680.0,219.5 V660.5 M691.0,219.5 V660.5 M704.0,219.5 V660.5 M716.0,219.5 V660.5 M731.0,219.5 V660.5 M742.0,219.5 V660.5 M759.0,219.5 V660.5 M772.0,219.5 V660.5 M782.0,219.5 V660.5 M798.0,219.5 V660.5 M812.0,219.5 V660.5 M824.0,219.5 V660.5 M842.0,219.5 V660.5 M853.0,219.5 V660.5 M866.0,219.5 V660.5 M878.0,219.5 V660.5 M893.0,219.5 V660.5 M904.0,219.5 V660.5 M921.0,219.5 V660.5 M934.0,219.5 V660.5 M944.0,219.5 V660.5 M960.0,219.5 V660.5 M974.0,219.5 V660.5 M986.0,219.5 V660.5 M1004.0,219.5 V660.5 M1015.0,219.5 V660.5 M1028.0,219.5 V660.5 M1040.0,219.5 V660.5 M1055.0,219.5 V660.5 M1066.0,219.5 V660.5 M1083.0,219.5 V660.5 M1096.0,219.5 V660.5 M1106.0,219.5 V660.5 M1122.0,219.5 V660.5 M1136.0,219.5 V660.5 M1148.0,219.5 V660.5 M1166.0,219.5 V660.5 M1177.0,219.5 V660.5 M1190.0,219.5 V660.5 M1202.0,219.5 V660.5 M1217.0,219.5 V660.5 M1228.0,219.5 V660.5 M1245.0,219.5 V660.5 M1258.0,219.5 V660.5 M1268.0,219.5 V660.5" stroke="#000" stroke-opacity="0.28" stroke-width="1" fill="none"/>
<line x1="150.5" y1="395.7" x2="1274.0" y2="395.7" stroke="#000" stroke-opacity="0.22" stroke-width="1.5"/>
<line x1="150.5" y1="571.9" x2="1274.0" y2="571.9" stroke="#000" stroke-opacity="0.22" stroke-width="1.5"/>
<path d="M715.0,219.0 C715.0,225.8 714.8,246.7 715.0,260.0 C715.2,273.3 714.7,287.8 716.0,299.0 C717.3,310.2 720.5,321.7 723.0,327.0 C725.5,332.3 727.2,331.3 731.0,331.0 C734.8,330.7 740.8,328.3 746.0,325.0 C751.2,321.7 756.7,314.7 762.0,311.0 C767.3,307.3 774.3,305.8 778.0,303.0 C781.7,300.2 781.8,298.8 784.0,294.0 C786.2,289.2 789.8,277.3 791.0,274.0" fill="none" stroke="#000" stroke-width="2.4" stroke-linejoin="round"/>
<path d="M824.0,268.0 C826.2,269.7 833.2,276.7 837.0,278.0 C840.8,279.3 843.7,277.7 847.0,276.0 C850.3,274.3 854.0,269.3 857.0,268.0 C860.0,266.7 861.7,266.7 865.0,268.0 C868.3,269.3 872.8,273.2 877.0,276.0 C881.2,278.8 886.5,282.7 890.0,285.0 C893.5,287.3 895.7,288.7 898.0,290.0 C900.3,291.3 903.2,294.7 904.0,293.0 C904.8,291.3 903.7,285.7 903.0,280.0 C902.3,274.3 900.5,269.2 900.0,259.0 C899.5,248.8 900.0,225.7 900.0,219.0" fill="none" stroke="#000" stroke-width="2.4" stroke-linejoin="round"/>
<path d="M554.0,219.0 C554.0,227.5 552.7,256.8 554.0,270.0 C555.3,283.2 557.7,290.8 562.0,298.0 C566.3,305.2 574.8,307.8 580.0,313.0 C585.2,318.2 590.0,323.3 593.0,329.0 C596.0,334.7 596.5,340.5 598.0,347.0 C599.5,353.5 600.5,362.3 602.0,368.0 C603.5,373.7 605.0,378.0 607.0,381.0 C609.0,384.0 611.8,385.8 614.0,386.0 C616.2,386.2 618.5,384.3 620.0,382.0 C621.5,379.7 621.8,376.0 623.0,372.0 C624.2,368.0 625.3,361.7 627.0,358.0 C628.7,354.3 630.7,352.3 633.0,350.0 C635.3,347.7 638.2,345.2 641.0,344.0 C643.8,342.8 646.8,342.8 650.0,343.0 C653.2,343.2 656.8,343.7 660.0,345.0 C663.2,346.3 666.2,349.2 669.0,351.0 C671.8,352.8 673.3,354.8 677.0,356.0 C680.7,357.2 686.0,357.8 691.0,358.0 C696.0,358.2 701.7,357.5 707.0,357.0 C712.3,356.5 717.7,355.8 723.0,355.0 C728.3,354.2 733.8,352.3 739.0,352.0 C744.2,351.7 749.2,353.8 754.0,353.0 C758.8,352.2 764.0,349.3 768.0,347.0 C772.0,344.7 774.7,343.7 778.0,339.0 C781.3,334.3 785.0,327.5 788.0,319.0 C791.0,310.5 793.3,295.2 796.0,288.0 C798.7,280.8 801.0,278.0 804.0,276.0 C807.0,274.0 810.3,275.0 814.0,276.0 C817.7,277.0 822.2,279.7 826.0,282.0 C829.8,284.3 833.2,287.7 837.0,290.0 C840.8,292.3 844.7,294.3 849.0,296.0 C853.3,297.7 858.3,298.3 863.0,300.0 C867.7,301.7 872.0,302.8 877.0,306.0 C882.0,309.2 889.2,315.8 893.0,319.0 C896.8,322.2 897.3,322.7 900.0,325.0 C902.7,327.3 905.3,331.3 909.0,333.0 C912.7,334.7 917.2,333.5 922.0,335.0 C926.8,336.5 933.2,340.0 938.0,342.0 C942.8,344.0 947.5,346.7 951.0,347.0 C954.5,347.3 955.8,346.3 959.0,344.0 C962.2,341.7 966.3,335.7 970.0,333.0 C973.7,330.3 977.2,328.5 981.0,328.0 C984.8,327.5 991.0,329.7 993.0,330.0" fill="none" stroke="#000" stroke-width="2.4" stroke-linejoin="round"/>
<path d="M1020.0,329.0 C1020.3,324.5 1021.3,313.7 1022.0,302.0 C1022.7,290.3 1023.2,272.8 1024.0,259.0 C1024.8,245.2 1026.5,225.7 1027.0,219.0" fill="none" stroke="#000" stroke-width="2.4" stroke-linejoin="round"/>
<path d="M388.0,219.0 C389.5,225.7 393.0,248.8 397.0,259.0 C401.0,269.2 407.7,276.8 412.0,280.0 C416.3,283.2 419.3,276.2 423.0,278.0 C426.7,279.8 431.2,285.5 434.0,291.0 C436.8,296.5 438.3,303.3 440.0,311.0 C441.7,318.7 442.5,327.5 444.0,337.0 C445.5,346.5 446.8,360.3 449.0,368.0 C451.2,375.7 453.0,382.7 457.0,383.0 C461.0,383.3 468.5,369.7 473.0,370.0 C477.5,370.3 481.8,376.3 484.0,385.0 C486.2,393.7 484.8,409.5 486.0,422.0 C487.2,434.5 488.5,448.8 491.0,460.0 C493.5,471.2 497.5,486.8 501.0,489.0 C504.5,491.2 507.3,478.5 512.0,473.0 C516.7,467.5 522.7,460.5 529.0,456.0 C535.3,451.5 544.3,450.2 550.0,446.0 C555.7,441.8 558.8,436.0 563.0,431.0 C567.2,426.0 570.8,420.3 575.0,416.0 C579.2,411.7 584.3,406.7 588.0,405.0 C591.7,403.3 594.2,405.2 597.0,406.0 C599.8,406.8 602.2,409.2 605.0,410.0 C607.8,410.8 611.3,411.7 614.0,411.0 C616.7,410.3 619.0,408.0 621.0,406.0 C623.0,404.0 624.7,401.8 626.0,399.0 C627.3,396.2 627.8,392.7 629.0,389.0 C630.2,385.3 631.5,380.8 633.0,377.0 C634.5,373.2 636.2,369.3 638.0,366.0 C639.8,362.7 641.7,359.2 644.0,357.0 C646.3,354.8 649.3,353.5 652.0,353.0 C654.7,352.5 657.5,353.3 660.0,354.0 C662.5,354.7 664.3,355.2 667.0,357.0 C669.7,358.8 674.5,363.7 676.0,365.0" fill="none" stroke="#000" stroke-width="2.4" stroke-linejoin="round"/>
<path d="M744.0,367.0 C746.3,367.8 753.7,371.5 758.0,372.0 C762.3,372.5 766.7,371.5 770.0,370.0 C773.3,368.5 775.3,366.8 778.0,363.0 C780.7,359.2 783.3,353.7 786.0,347.0 C788.7,340.3 791.3,330.8 794.0,323.0 C796.7,315.2 799.7,305.2 802.0,300.0 C804.3,294.8 805.3,293.2 808.0,292.0 C810.7,290.8 814.0,291.3 818.0,293.0 C822.0,294.7 827.2,298.7 832.0,302.0 C836.8,305.3 842.2,309.2 847.0,313.0 C851.8,316.8 856.3,321.0 861.0,325.0 C865.7,329.0 871.0,332.8 875.0,337.0 C879.0,341.2 881.5,345.5 885.0,350.0 C888.5,354.5 892.0,359.2 896.0,364.0 C900.0,368.8 905.0,374.7 909.0,379.0 C913.0,383.3 916.7,385.3 920.0,390.0 C923.3,394.7 926.0,401.2 929.0,407.0 C932.0,412.8 935.2,421.0 938.0,425.0 C940.8,429.0 942.8,431.0 946.0,431.0 C949.2,431.0 953.7,430.0 957.0,425.0 C960.3,420.0 963.5,409.0 966.0,401.0 C968.5,393.0 969.8,382.2 972.0,377.0 C974.2,371.8 976.7,369.3 979.0,370.0 C981.3,370.7 983.5,376.7 986.0,381.0 C988.5,385.3 991.5,394.0 994.0,396.0 C996.5,398.0 997.8,397.7 1001.0,393.0 C1004.2,388.3 1009.2,375.8 1013.0,368.0 C1016.8,360.2 1021.0,350.2 1024.0,346.0 C1027.0,341.8 1027.7,343.0 1031.0,343.0 C1034.3,343.0 1040.5,345.2 1044.0,346.0 C1047.5,346.8 1048.3,348.3 1052.0,348.0 C1055.7,347.7 1061.8,345.3 1066.0,344.0 C1070.2,342.7 1074.2,347.0 1077.0,340.0 C1079.8,333.0 1081.7,311.8 1083.0,302.0 C1084.3,292.2 1083.5,287.2 1085.0,281.0 C1086.5,274.8 1090.5,275.3 1092.0,265.0 C1093.5,254.7 1093.7,226.7 1094.0,219.0" fill="none" stroke="#000" stroke-width="2.4" stroke-linejoin="round"/>
<path d="M320.0,219.0 C321.5,225.7 326.0,245.8 329.0,259.0 C332.0,272.2 335.0,287.2 338.0,298.0 C341.0,308.8 344.2,312.3 347.0,324.0 C349.8,335.7 352.5,362.5 355.0,368.0 C357.5,373.5 360.2,357.0 362.0,357.0 C363.8,357.0 364.5,362.5 366.0,368.0 C367.5,373.5 369.2,384.5 371.0,390.0 C372.8,395.5 374.8,393.7 377.0,401.0 C379.2,408.3 382.5,421.3 384.0,434.0 C385.5,446.7 384.2,466.2 386.0,477.0 C387.8,487.8 391.3,490.2 395.0,499.0 C398.7,507.8 403.0,525.7 408.0,530.0 C413.0,534.3 419.7,523.3 425.0,525.0 C430.3,526.7 435.3,536.3 440.0,540.0 C444.7,543.7 449.2,545.5 453.0,547.0 C456.8,548.5 458.5,549.2 463.0,549.0 C467.5,548.8 477.2,546.5 480.0,546.0" fill="none" stroke="#000" stroke-width="2.4" stroke-linejoin="round"/>
<path d="M513.0,541.0 C514.2,538.8 517.3,533.0 520.0,528.0 C522.7,523.0 526.2,516.2 529.0,511.0 C531.8,505.8 533.8,501.0 537.0,497.0 C540.2,493.0 544.3,489.7 548.0,487.0 C551.7,484.3 555.8,482.8 559.0,481.0 C562.2,479.2 564.2,478.3 567.0,476.0 C569.8,473.7 573.8,472.5 576.0,467.0 C578.2,461.5 577.2,448.5 580.0,443.0 C582.8,437.5 588.5,436.2 593.0,434.0 C597.5,431.8 602.8,431.8 607.0,430.0 C611.2,428.2 615.2,425.2 618.0,423.0 C620.8,420.8 622.5,419.2 624.0,417.0 C625.5,414.8 625.7,413.2 627.0,410.0 C628.3,406.8 630.2,402.3 632.0,398.0 C633.8,393.7 636.0,388.3 638.0,384.0 C640.0,379.7 642.0,375.3 644.0,372.0 C646.0,368.7 648.0,366.0 650.0,364.0 C652.0,362.0 653.8,360.5 656.0,360.0 C658.2,359.5 660.7,360.0 663.0,361.0 C665.3,362.0 668.0,364.2 670.0,366.0 C672.0,367.8 671.7,369.5 675.0,372.0 C678.3,374.5 685.8,379.2 690.0,381.0 C694.2,382.8 696.8,383.0 700.0,383.0 C703.2,383.0 705.2,381.7 709.0,381.0 C712.8,380.3 718.0,379.3 723.0,379.0 C728.0,378.7 733.8,377.8 739.0,379.0 C744.2,380.2 750.2,382.8 754.0,386.0 C757.8,389.2 759.3,395.3 762.0,398.0 C764.7,400.7 767.3,402.0 770.0,402.0 C772.7,402.0 775.3,400.7 778.0,398.0 C780.7,395.3 783.3,393.2 786.0,386.0 C788.7,378.8 791.3,365.5 794.0,355.0 C796.7,344.5 799.3,331.0 802.0,323.0 C804.7,315.0 807.0,309.7 810.0,307.0 C813.0,304.3 816.7,306.0 820.0,307.0 C823.3,308.0 826.5,310.3 830.0,313.0 C833.5,315.7 837.2,319.3 841.0,323.0 C844.8,326.7 849.8,330.8 853.0,335.0 C856.2,339.2 858.2,340.5 860.0,348.0 C861.8,355.5 862.5,370.8 864.0,380.0 C865.5,389.2 865.8,397.7 869.0,403.0 C872.2,408.3 878.8,409.5 883.0,412.0 C887.2,414.5 890.7,414.3 894.0,418.0 C897.3,421.7 900.5,424.2 903.0,434.0 C905.5,443.8 907.2,462.5 909.0,477.0 C910.8,491.5 912.5,507.2 914.0,521.0 C915.5,534.8 916.0,552.7 918.0,560.0 C920.0,567.3 924.7,564.2 926.0,565.0" fill="none" stroke="#000" stroke-width="2.4" stroke-linejoin="round"/>
<path d="M964.0,547.0 C965.3,542.7 969.5,531.5 972.0,521.0 C974.5,510.5 977.2,491.0 979.0,484.0 C980.8,477.0 980.8,477.2 983.0,479.0 C985.2,480.8 989.3,491.7 992.0,495.0 C994.7,498.3 996.8,499.5 999.0,499.0 C1001.2,498.5 1002.5,495.7 1005.0,492.0 C1007.5,488.3 1011.2,483.2 1014.0,477.0 C1016.8,470.8 1018.8,464.0 1022.0,455.0 C1025.2,446.0 1029.3,432.0 1033.0,423.0 C1036.7,414.0 1040.8,408.0 1044.0,401.0 C1047.2,394.0 1048.3,386.5 1052.0,381.0 C1055.7,375.5 1062.3,369.0 1066.0,368.0 C1069.7,367.0 1071.8,372.5 1074.0,375.0 C1076.2,377.5 1077.5,382.7 1079.0,383.0 C1080.5,383.3 1081.7,382.3 1083.0,377.0 C1084.3,371.7 1085.2,359.5 1087.0,351.0 C1088.8,342.5 1090.3,330.2 1094.0,326.0 C1097.7,321.8 1104.3,326.7 1109.0,326.0 C1113.7,325.3 1116.8,324.5 1122.0,322.0 C1127.2,319.5 1134.8,315.0 1140.0,311.0 C1145.2,307.0 1149.3,303.8 1153.0,298.0 C1156.7,292.2 1160.5,289.2 1162.0,276.0 C1163.5,262.8 1162.0,228.5 1162.0,219.0" fill="none" stroke="#000" stroke-width="2.4" stroke-linejoin="round"/>
<path d="M297.0,219.0 C297.5,224.2 299.2,239.8 300.0,250.0 C300.8,260.2 301.2,270.8 302.0,280.0 C302.8,289.2 303.7,297.5 305.0,305.0 C306.3,312.5 308.2,318.3 310.0,325.0 C311.8,331.7 314.7,337.5 316.0,345.0 C317.3,352.5 317.7,360.8 318.0,370.0 C318.3,379.2 317.8,388.3 318.0,400.0 C318.2,411.7 318.2,432.5 319.0,440.0 C319.8,447.5 321.2,445.7 323.0,445.0 C324.8,444.3 327.8,438.0 330.0,436.0 C332.2,434.0 334.0,431.5 336.0,433.0 C338.0,434.5 340.2,434.0 342.0,445.0 C343.8,456.0 344.8,486.5 347.0,499.0 C349.2,511.5 352.7,516.5 355.0,520.0 C357.3,523.5 358.5,518.8 361.0,520.0 C363.5,521.2 366.5,524.5 370.0,527.0 C373.5,529.5 379.0,532.0 382.0,535.0 C385.0,538.0 385.8,540.2 388.0,545.0 C390.2,549.8 392.7,558.0 395.0,564.0 C397.3,570.0 399.5,576.0 402.0,581.0 C404.5,586.0 406.2,592.7 410.0,594.0 C413.8,595.3 420.2,588.3 425.0,589.0 C429.8,589.7 434.2,595.0 439.0,598.0 C443.8,601.0 449.5,607.0 454.0,607.0 C458.5,607.0 462.3,601.2 466.0,598.0 C469.7,594.8 472.7,588.3 476.0,588.0 C479.3,587.7 482.5,593.2 486.0,596.0 C489.5,598.8 493.3,604.3 497.0,605.0 C500.7,605.7 505.5,601.8 508.0,600.0 C510.5,598.2 510.3,598.0 512.0,594.0 C513.7,590.0 516.0,581.8 518.0,576.0 C520.0,570.2 520.8,564.3 524.0,559.0 C527.2,553.7 532.3,549.0 537.0,544.0 C541.7,539.0 547.0,535.0 552.0,529.0 C557.0,523.0 562.0,514.7 567.0,508.0 C572.0,501.3 579.5,492.2 582.0,489.0" fill="none" stroke="#000" stroke-width="2.4" stroke-linejoin="round"/>
<path d="M616.0,440.0 C617.7,437.8 623.5,431.2 626.0,427.0 C628.5,422.8 629.5,419.2 631.0,415.0 C632.5,410.8 633.3,407.0 635.0,402.0 C636.7,397.0 638.8,390.0 641.0,385.0 C643.2,380.0 645.8,374.8 648.0,372.0 C650.2,369.2 652.0,368.5 654.0,368.0 C656.0,367.5 657.8,367.7 660.0,369.0 C662.2,370.3 664.8,373.8 667.0,376.0 C669.2,378.2 670.5,379.5 673.0,382.0 C675.5,384.5 679.2,388.7 682.0,391.0 C684.8,393.3 687.0,394.7 690.0,396.0 C693.0,397.3 696.5,398.3 700.0,399.0 C703.5,399.7 707.2,399.8 711.0,400.0 C714.8,400.2 718.3,399.8 723.0,400.0 C727.7,400.2 733.8,400.2 739.0,401.0 C744.2,401.8 750.2,403.0 754.0,405.0 C757.8,407.0 759.3,410.7 762.0,413.0 C764.7,415.3 767.3,418.8 770.0,419.0 C772.7,419.2 775.3,416.2 778.0,414.0 C780.7,411.8 783.3,412.5 786.0,406.0 C788.7,399.5 791.7,384.0 794.0,375.0 C796.3,366.0 797.7,357.8 800.0,352.0 C802.3,346.2 804.7,342.2 808.0,340.0 C811.3,337.8 816.0,338.5 820.0,339.0 C824.0,339.5 828.2,340.5 832.0,343.0 C835.8,345.5 839.5,348.7 843.0,354.0 C846.5,359.3 850.7,367.3 853.0,375.0 C855.3,382.7 855.8,390.5 857.0,400.0 C858.2,409.5 859.2,420.3 860.0,432.0 C860.8,443.7 860.3,462.7 862.0,470.0 C863.7,477.3 867.0,474.3 870.0,476.0 C873.0,477.7 876.7,476.5 880.0,480.0 C883.3,483.5 887.0,490.0 890.0,497.0 C893.0,504.0 895.5,511.5 898.0,522.0 C900.5,532.5 902.2,547.0 905.0,560.0 C907.8,573.0 911.3,587.5 915.0,600.0 C918.7,612.5 923.7,625.0 927.0,635.0 C930.3,645.0 933.7,655.8 935.0,660.0" fill="none" stroke="#000" stroke-width="2.4" stroke-linejoin="round"/>
<path d="M1017.0,660.0 C1019.7,653.2 1028.5,630.5 1033.0,619.0 C1037.5,607.5 1040.8,598.7 1044.0,591.0 C1047.2,583.3 1049.5,572.3 1052.0,573.0 C1054.5,573.7 1056.7,584.0 1059.0,595.0 C1061.3,606.0 1064.2,630.7 1066.0,639.0 C1067.8,647.3 1068.2,646.5 1070.0,645.0 C1071.8,643.5 1074.8,639.8 1077.0,630.0 C1079.2,620.2 1081.3,604.2 1083.0,586.0 C1084.7,567.8 1085.2,542.8 1087.0,521.0 C1088.8,499.2 1091.8,474.7 1094.0,455.0 C1096.2,435.3 1098.2,413.2 1100.0,403.0 C1101.8,392.8 1102.3,396.2 1105.0,394.0 C1107.7,391.8 1112.8,392.2 1116.0,390.0 C1119.2,387.8 1120.7,386.8 1124.0,381.0 C1127.3,375.2 1131.8,363.3 1136.0,355.0 C1140.2,346.7 1144.7,337.2 1149.0,331.0 C1153.3,324.8 1157.7,321.0 1162.0,318.0 C1166.3,315.0 1171.0,315.7 1175.0,313.0 C1179.0,310.3 1183.2,306.3 1186.0,302.0 C1188.8,297.7 1191.0,289.5 1192.0,287.0" fill="none" stroke="#000" stroke-width="2.4" stroke-linejoin="round"/>
<path d="M1208.0,292.0 C1209.3,293.7 1212.5,301.0 1216.0,302.0 C1219.5,303.0 1225.0,300.2 1229.0,298.0 C1233.0,295.8 1237.7,295.5 1240.0,289.0 C1242.3,282.5 1242.8,270.7 1243.0,259.0 C1243.2,247.3 1241.3,225.7 1241.0,219.0" fill="none" stroke="#000" stroke-width="2.4" stroke-linejoin="round"/>
<path d="M233.0,660.0 C233.5,650.0 235.3,623.3 236.0,600.0 C236.7,576.7 236.7,548.3 237.0,520.0 C237.3,491.7 237.5,461.7 238.0,430.0 C238.5,398.3 239.0,356.7 240.0,330.0 C241.0,303.3 242.7,283.0 244.0,270.0 C245.3,257.0 246.7,252.0 248.0,252.0 C249.3,252.0 250.7,257.0 252.0,270.0 C253.3,283.0 254.7,308.3 256.0,330.0 C257.3,351.7 258.8,376.7 260.0,400.0 C261.2,423.3 261.7,458.0 263.0,470.0 C264.3,482.0 266.3,474.5 268.0,472.0 C269.7,469.5 270.8,459.2 273.0,455.0 C275.2,450.8 278.2,448.3 281.0,447.0 C283.8,445.7 288.2,444.8 290.0,447.0 C291.8,449.2 291.0,447.8 292.0,460.0 C293.0,472.2 294.7,503.0 296.0,520.0 C297.3,537.0 298.2,547.8 300.0,562.0 C301.8,576.2 304.5,591.7 307.0,605.0 C309.5,618.3 313.7,635.8 315.0,642.0" fill="none" stroke="#000" stroke-width="2.4" stroke-linejoin="round"/>
<path d="M337.0,632.0 C337.7,630.5 339.5,622.8 341.0,623.0 C342.5,623.2 344.7,628.3 346.0,633.0 C347.3,637.7 348.2,646.3 349.0,651.0 C349.8,655.7 350.7,659.3 351.0,661.0" fill="none" stroke="#000" stroke-width="2.4" stroke-linejoin="round"/>
<path d="M512.0,660.0 C514.5,653.7 522.5,634.0 527.0,622.0 C531.5,610.0 534.2,595.7 539.0,588.0 C543.8,580.3 551.0,580.2 556.0,576.0 C561.0,571.8 564.7,568.7 569.0,563.0 C573.3,557.3 578.2,550.5 582.0,542.0 C585.8,533.5 588.5,520.8 592.0,512.0 C595.5,503.2 599.0,496.0 603.0,489.0 C607.0,482.0 612.5,474.3 616.0,470.0 C619.5,465.7 621.5,465.8 624.0,463.0 C626.5,460.2 628.5,458.2 631.0,453.0 C633.5,447.8 636.2,438.7 639.0,432.0 C641.8,425.3 645.3,418.7 648.0,413.0 C650.7,407.3 653.3,401.0 655.0,398.0 C656.7,395.0 656.8,395.0 658.0,395.0 C659.2,395.0 660.2,394.0 662.0,398.0 C663.8,402.0 665.7,413.3 669.0,419.0 C672.3,424.7 677.3,427.3 682.0,432.0 C686.7,436.7 692.2,443.0 697.0,447.0 C701.8,451.0 706.7,451.7 711.0,456.0 C715.3,460.3 720.2,468.3 723.0,473.0 C725.8,477.7 726.0,484.2 728.0,484.0 C730.0,483.8 732.8,475.8 735.0,472.0 C737.2,468.2 740.0,462.8 741.0,461.0" fill="none" stroke="#000" stroke-width="2.4" stroke-linejoin="round"/>
<path d="M782.0,449.0 C783.3,445.5 787.3,435.8 790.0,428.0 C792.7,420.2 795.3,411.5 798.0,402.0 C800.7,392.5 803.7,378.5 806.0,371.0 C808.3,363.5 809.0,359.2 812.0,357.0 C815.0,354.8 820.5,357.0 824.0,358.0 C827.5,359.0 830.2,359.5 833.0,363.0 C835.8,366.5 838.7,369.8 841.0,379.0 C843.3,388.2 845.3,406.2 847.0,418.0 C848.7,429.8 850.0,443.3 851.0,450.0 C852.0,456.7 851.8,449.7 853.0,458.0 C854.2,466.3 856.5,486.3 858.0,500.0 C859.5,513.7 860.0,530.8 862.0,540.0 C864.0,549.2 867.0,549.2 870.0,555.0 C873.0,560.8 877.0,567.5 880.0,575.0 C883.0,582.5 885.3,590.8 888.0,600.0 C890.7,609.2 893.3,620.0 896.0,630.0 C898.7,640.0 902.7,655.0 904.0,660.0" fill="none" stroke="#000" stroke-width="2.4" stroke-linejoin="round"/>
<path d="M1107.0,634.0 C1108.2,627.8 1111.5,612.2 1114.0,597.0 C1116.5,581.8 1118.3,563.0 1122.0,543.0 C1125.7,523.0 1131.5,498.8 1136.0,477.0 C1140.5,455.2 1145.5,429.5 1149.0,412.0 C1152.5,394.5 1154.2,380.8 1157.0,372.0 C1159.8,363.2 1163.0,361.5 1166.0,359.0 C1169.0,356.5 1172.0,360.7 1175.0,357.0 C1178.0,353.3 1181.2,342.5 1184.0,337.0 C1186.8,331.5 1189.2,326.5 1192.0,324.0 C1194.8,321.5 1198.0,321.2 1201.0,322.0 C1204.0,322.8 1206.0,327.5 1210.0,329.0 C1214.0,330.5 1220.0,332.2 1225.0,331.0 C1230.0,329.8 1234.5,325.3 1240.0,322.0 C1245.5,318.7 1254.0,315.3 1258.0,311.0 C1262.0,306.7 1262.7,304.7 1264.0,296.0 C1265.3,287.3 1265.7,271.8 1266.0,259.0 C1266.3,246.2 1266.0,225.7 1266.0,219.0" fill="none" stroke="#000" stroke-width="2.4" stroke-linejoin="round"/>
<path d="M240.0,660.0 C236.7,650.0 238.0,623.3 238.0,600.0 C238.0,576.7 239.3,540.5 240.0,520.0 C240.7,499.5 240.7,490.0 242.0,477.0 C243.3,464.0 245.8,442.0 248.0,442.0 C250.2,442.0 253.5,456.5 255.0,477.0 C256.5,497.5 256.5,534.5 257.0,565.0 C257.5,595.5 260.8,644.2 258.0,660.0 C255.2,675.8 243.3,670.0 240.0,660.0 Z" fill="none" stroke="#000" stroke-width="2.4" stroke-linejoin="round"/>
<path d="M552.0,660.0 C554.8,655.8 564.0,646.3 569.0,635.0 C574.0,623.7 577.8,605.8 582.0,592.0 C586.2,578.2 589.8,563.8 594.0,552.0 C598.2,540.2 602.8,527.5 607.0,521.0 C611.2,514.5 615.5,513.8 619.0,513.0 C622.5,512.2 624.7,511.2 628.0,516.0 C631.3,520.8 635.5,532.8 639.0,542.0 C642.5,551.2 645.5,560.2 649.0,571.0 C652.5,581.8 655.7,599.2 660.0,607.0 C664.3,614.8 669.7,615.5 675.0,618.0 C680.3,620.5 687.3,620.7 692.0,622.0 C696.7,623.3 701.2,625.3 703.0,626.0" fill="none" stroke="#000" stroke-width="2.4" stroke-linejoin="round"/>
<path d="M745.0,620.0 C746.7,619.3 751.5,616.5 755.0,616.0 C758.5,615.5 762.8,621.7 766.0,617.0 C769.2,612.3 770.5,604.0 774.0,588.0 C777.5,572.0 782.3,536.5 787.0,521.0 C791.7,505.5 797.0,503.0 802.0,495.0 C807.0,487.0 812.7,479.5 817.0,473.0 C821.3,466.5 824.7,455.3 828.0,456.0 C831.3,456.7 834.3,466.2 837.0,477.0 C839.7,487.8 841.5,502.8 844.0,521.0 C846.5,539.2 849.5,566.0 852.0,586.0 C854.5,606.0 857.5,628.7 859.0,641.0 C860.5,653.3 860.7,656.8 861.0,660.0" fill="none" stroke="#000" stroke-width="2.4" stroke-linejoin="round"/>
<path d="M1188.0,660.0 C1188.7,647.7 1190.5,609.2 1192.0,586.0 C1193.5,562.8 1195.5,537.0 1197.0,521.0 C1198.5,505.0 1198.8,494.8 1201.0,490.0 C1203.2,485.2 1207.5,479.5 1210.0,492.0 C1212.5,504.5 1214.7,545.7 1216.0,565.0 C1217.3,584.3 1217.2,592.2 1218.0,608.0 C1218.8,623.8 1220.5,651.3 1221.0,660.0" fill="none" stroke="#000" stroke-width="2.4" stroke-linejoin="round"/>
<path d="M1274.0,338.0 C1272.8,343.0 1269.0,352.0 1267.0,368.0 C1265.0,384.0 1263.5,408.5 1262.0,434.0 C1260.5,459.5 1259.3,489.8 1258.0,521.0 C1256.7,552.2 1254.7,604.3 1254.0,621.0" fill="none" stroke="#000" stroke-width="2.4" stroke-linejoin="round"/>
<path d="M215.0,300.0 C215.1,306.7 215.4,315.0 215.5,340.0 C215.6,365.0 215.6,415.0 215.5,450.0 C215.4,485.0 215.1,515.0 215.0,550.0 C214.9,585.0 215.0,641.7 215.0,660.0" fill="none" stroke="#000" stroke-width="2.4" stroke-linejoin="round"/>
<path d="M222.0,240.0 C222.3,246.7 223.4,265.0 224.0,280.0 C224.6,295.0 225.2,306.7 225.5,330.0 C225.8,353.3 226.1,388.3 226.0,420.0 C225.9,451.7 225.2,490.0 225.0,520.0 C224.8,550.0 224.8,576.7 225.0,600.0 C225.2,623.3 225.8,650.0 226.0,660.0" fill="none" stroke="#000" stroke-width="2.4" stroke-linejoin="round"/>
<path d="M229.0,240.0 C229.5,248.3 231.3,266.7 232.0,290.0 C232.7,313.3 232.8,348.3 233.0,380.0 C233.2,411.7 233.2,450.0 233.0,480.0 C232.8,510.0 232.2,535.0 232.0,560.0 C231.8,585.0 231.8,615.8 232.0,630.0 C232.2,644.2 232.8,642.5 233.0,645.0" fill="none" stroke="#000" stroke-width="2.4" stroke-linejoin="round"/>
<path d="M222.0,267.0 m-3.0,0 a3.0,3.0 0 1,0 6.0,0 a3.0,3.0 0 1,0 -6.0,0 M233.0,278.0 m-3.0,0 a3.0,3.0 0 1,0 6.0,0 a3.0,3.0 0 1,0 -6.0,0 M244.0,288.0 m-3.0,0 a3.0,3.0 0 1,0 6.0,0 a3.0,3.0 0 1,0 -6.0,0 M257.0,295.0 m-3.0,0 a3.0,3.0 0 1,0 6.0,0 a3.0,3.0 0 1,0 -6.0,0 M270.0,302.0 m-3.0,0 a3.0,3.0 0 1,0 6.0,0 a3.0,3.0 0 1,0 -6.0,0 M280.0,314.0 m-3.0,0 a3.0,3.0 0 1,0 6.0,0 a3.0,3.0 0 1,0 -6.0,0 M290.0,325.0 m-3.0,0 a3.0,3.0 0 1,0 6.0,0 a3.0,3.0 0 1,0 -6.0,0 M297.0,338.0 m-3.0,0 a3.0,3.0 0 1,0 6.0,0 a3.0,3.0 0 1,0 -6.0,0 M305.0,352.0 m-3.0,0 a3.0,3.0 0 1,0 6.0,0 a3.0,3.0 0 1,0 -6.0,0 M314.0,365.0 m-3.0,0 a3.0,3.0 0 1,0 6.0,0 a3.0,3.0 0 1,0 -6.0,0 M321.0,377.0 m-3.0,0 a3.0,3.0 0 1,0 6.0,0 a3.0,3.0 0 1,0 -6.0,0 M329.0,390.0 m-3.0,0 a3.0,3.0 0 1,0 6.0,0 a3.0,3.0 0 1,0 -6.0,0 M338.0,402.0 m-3.0,0 a3.0,3.0 0 1,0 6.0,0 a3.0,3.0 0 1,0 -6.0,0 M347.0,414.0 m-3.0,0 a3.0,3.0 0 1,0 6.0,0 a3.0,3.0 0 1,0 -6.0,0 M355.0,426.0 m-3.0,0 a3.0,3.0 0 1,0 6.0,0 a3.0,3.0 0 1,0 -6.0,0 M371.0,429.0 m-3.0,0 a3.0,3.0 0 1,0 6.0,0 a3.0,3.0 0 1,0 -6.0,0 M385.0,432.0 m-3.0,0 a3.0,3.0 0 1,0 6.0,0 a3.0,3.0 0 1,0 -6.0,0 M398.0,440.0 m-3.0,0 a3.0,3.0 0 1,0 6.0,0 a3.0,3.0 0 1,0 -6.0,0 M410.0,449.0 m-3.0,0 a3.0,3.0 0 1,0 6.0,0 a3.0,3.0 0 1,0 -6.0,0 M423.0,455.0 m-3.0,0 a3.0,3.0 0 1,0 6.0,0 a3.0,3.0 0 1,0 -6.0,0 M438.0,458.0 m-3.0,0 a3.0,3.0 0 1,0 6.0,0 a3.0,3.0 0 1,0 -6.0,0 M453.0,459.0 m-3.0,0 a3.0,3.0 0 1,0 6.0,0 a3.0,3.0 0 1,0 -6.0,0 M462.0,446.0 m-3.0,0 a3.0,3.0 0 1,0 6.0,0 a3.0,3.0 0 1,0 -6.0,0 M471.0,434.0 m-3.0,0 a3.0,3.0 0 1,0 6.0,0 a3.0,3.0 0 1,0 -6.0,0 M485.0,431.0 m-3.0,0 a3.0,3.0 0 1,0 6.0,0 a3.0,3.0 0 1,0 -6.0,0 M500.0,431.0 m-3.0,0 a3.0,3.0 0 1,0 6.0,0 a3.0,3.0 0 1,0 -6.0,0 M514.0,426.0 m-3.0,0 a3.0,3.0 0 1,0 6.0,0 a3.0,3.0 0 1,0 -6.0,0 M526.0,417.0 m-3.0,0 a3.0,3.0 0 1,0 6.0,0 a3.0,3.0 0 1,0 -6.0,0 M537.0,407.0 m-3.0,0 a3.0,3.0 0 1,0 6.0,0 a3.0,3.0 0 1,0 -6.0,0 M549.0,397.0 m-3.0,0 a3.0,3.0 0 1,0 6.0,0 a3.0,3.0 0 1,0 -6.0,0 M561.0,388.0 m-3.0,0 a3.0,3.0 0 1,0 6.0,0 a3.0,3.0 0 1,0 -6.0,0 M572.0,378.0 m-3.0,0 a3.0,3.0 0 1,0 6.0,0 a3.0,3.0 0 1,0 -6.0,0 M584.0,368.0 m-3.0,0 a3.0,3.0 0 1,0 6.0,0 a3.0,3.0 0 1,0 -6.0,0 M596.0,360.0 m-3.0,0 a3.0,3.0 0 1,0 6.0,0 a3.0,3.0 0 1,0 -6.0,0 M611.0,360.0 m-3.0,0 a3.0,3.0 0 1,0 6.0,0 a3.0,3.0 0 1,0 -6.0,0 M626.0,360.0 m-3.0,0 a3.0,3.0 0 1,0 6.0,0 a3.0,3.0 0 1,0 -6.0,0 M641.0,362.0 m-3.0,0 a3.0,3.0 0 1,0 6.0,0 a3.0,3.0 0 1,0 -6.0,0 M656.0,366.0 m-3.0,0 a3.0,3.0 0 1,0 6.0,0 a3.0,3.0 0 1,0 -6.0,0 M670.0,369.0 m-3.0,0 a3.0,3.0 0 1,0 6.0,0 a3.0,3.0 0 1,0 -6.0,0 M686.0,369.0 m-3.0,0 a3.0,3.0 0 1,0 6.0,0 a3.0,3.0 0 1,0 -6.0,0 M701.0,369.0 m-3.0,0 a3.0,3.0 0 1,0 6.0,0 a3.0,3.0 0 1,0 -6.0,0 M712.0,358.0 m-3.0,0 a3.0,3.0 0 1,0 6.0,0 a3.0,3.0 0 1,0 -6.0,0 M723.0,348.0 m-3.0,0 a3.0,3.0 0 1,0 6.0,0 a3.0,3.0 0 1,0 -6.0,0 M734.0,337.0 m-3.0,0 a3.0,3.0 0 1,0 6.0,0 a3.0,3.0 0 1,0 -6.0,0 M749.0,335.0 m-3.0,0 a3.0,3.0 0 1,0 6.0,0 a3.0,3.0 0 1,0 -6.0,0 M764.0,335.0 m-3.0,0 a3.0,3.0 0 1,0 6.0,0 a3.0,3.0 0 1,0 -6.0,0 M779.0,335.0 m-3.0,0 a3.0,3.0 0 1,0 6.0,0 a3.0,3.0 0 1,0 -6.0,0 M794.0,335.0 m-3.0,0 a3.0,3.0 0 1,0 6.0,0 a3.0,3.0 0 1,0 -6.0,0 M807.0,342.0 m-3.0,0 a3.0,3.0 0 1,0 6.0,0 a3.0,3.0 0 1,0 -6.0,0 M818.0,352.0 m-3.0,0 a3.0,3.0 0 1,0 6.0,0 a3.0,3.0 0 1,0 -6.0,0 M828.0,362.0 m-3.0,0 a3.0,3.0 0 1,0 6.0,0 a3.0,3.0 0 1,0 -6.0,0 M840.0,372.0 m-3.0,0 a3.0,3.0 0 1,0 6.0,0 a3.0,3.0 0 1,0 -6.0,0 M851.0,383.0 m-3.0,0 a3.0,3.0 0 1,0 6.0,0 a3.0,3.0 0 1,0 -6.0,0 M862.0,393.0 m-3.0,0 a3.0,3.0 0 1,0 6.0,0 a3.0,3.0 0 1,0 -6.0,0 M875.0,400.0 m-3.0,0 a3.0,3.0 0 1,0 6.0,0 a3.0,3.0 0 1,0 -6.0,0 M890.0,405.0 m-3.0,0 a3.0,3.0 0 1,0 6.0,0 a3.0,3.0 0 1,0 -6.0,0 M904.0,410.0 m-3.0,0 a3.0,3.0 0 1,0 6.0,0 a3.0,3.0 0 1,0 -6.0,0 M918.0,417.0 m-3.0,0 a3.0,3.0 0 1,0 6.0,0 a3.0,3.0 0 1,0 -6.0,0 M931.0,421.0 m-3.0,0 a3.0,3.0 0 1,0 6.0,0 a3.0,3.0 0 1,0 -6.0,0 M947.0,421.0 m-3.0,0 a3.0,3.0 0 1,0 6.0,0 a3.0,3.0 0 1,0 -6.0,0 M962.0,421.0 m-3.0,0 a3.0,3.0 0 1,0 6.0,0 a3.0,3.0 0 1,0 -6.0,0 M977.0,421.0 m-3.0,0 a3.0,3.0 0 1,0 6.0,0 a3.0,3.0 0 1,0 -6.0,0 M992.0,419.0 m-3.0,0 a3.0,3.0 0 1,0 6.0,0 a3.0,3.0 0 1,0 -6.0,0 M1006.0,413.0 m-3.0,0 a3.0,3.0 0 1,0 6.0,0 a3.0,3.0 0 1,0 -6.0,0 M1020.0,407.0 m-3.0,0 a3.0,3.0 0 1,0 6.0,0 a3.0,3.0 0 1,0 -6.0,0 M1034.0,403.0 m-3.0,0 a3.0,3.0 0 1,0 6.0,0 a3.0,3.0 0 1,0 -6.0,0 M1049.0,398.0 m-3.0,0 a3.0,3.0 0 1,0 6.0,0 a3.0,3.0 0 1,0 -6.0,0 M1063.0,393.0 m-3.0,0 a3.0,3.0 0 1,0 6.0,0 a3.0,3.0 0 1,0 -6.0,0 M1075.0,366.0 m-3.0,0 a3.0,3.0 0 1,0 6.0,0 a3.0,3.0 0 1,0 -6.0,0 M1083.0,353.0 m-3.0,0 a3.0,3.0 0 1,0 6.0,0 a3.0,3.0 0 1,0 -6.0,0 M1091.0,340.0 m-3.0,0 a3.0,3.0 0 1,0 6.0,0 a3.0,3.0 0 1,0 -6.0,0 M1106.0,340.0 m-3.0,0 a3.0,3.0 0 1,0 6.0,0 a3.0,3.0 0 1,0 -6.0,0 M1120.0,340.0 m-3.0,0 a3.0,3.0 0 1,0 6.0,0 a3.0,3.0 0 1,0 -6.0,0 M1136.0,340.0 m-3.0,0 a3.0,3.0 0 1,0 6.0,0 a3.0,3.0 0 1,0 -6.0,0 M1151.0,340.0 m-3.0,0 a3.0,3.0 0 1,0 6.0,0 a3.0,3.0 0 1,0 -6.0,0 M1163.0,330.0 m-3.0,0 a3.0,3.0 0 1,0 6.0,0 a3.0,3.0 0 1,0 -6.0,0 M1174.0,320.0 m-3.0,0 a3.0,3.0 0 1,0 6.0,0 a3.0,3.0 0 1,0 -6.0,0 M1185.0,310.0 m-3.0,0 a3.0,3.0 0 1,0 6.0,0 a3.0,3.0 0 1,0 -6.0,0 M1199.0,307.0 m-3.0,0 a3.0,3.0 0 1,0 6.0,0 a3.0,3.0 0 1,0 -6.0,0 M1214.0,307.0 m-3.0,0 a3.0,3.0 0 1,0 6.0,0 a3.0,3.0 0 1,0 -6.0,0 M1229.0,307.0 m-3.0,0 a3.0,3.0 0 1,0 6.0,0 a3.0,3.0 0 1,0 -6.0,0 M1245.0,307.0 m-3.0,0 a3.0,3.0 0 1,0 6.0,0 a3.0,3.0 0 1,0 -6.0,0 M1260.0,307.0 m-3.0,0 a3.0,3.0 0 1,0 6.0,0 a3.0,3.0 0 1,0 -6.0,0" fill="#fff"/>
<path d="M212.0,271.0 m-3.0,0 a3.0,3.0 0 1,0 6.0,0 a3.0,3.0 0 1,0 -6.0,0 M217.0,290.0 m-3.0,0 a3.0,3.0 0 1,0 6.0,0 a3.0,3.0 0 1,0 -6.0,0 M225.0,296.0 m-3.0,0 a3.0,3.0 0 1,0 6.0,0 a3.0,3.0 0 1,0 -6.0,0 M234.0,309.0 m-3.0,0 a3.0,3.0 0 1,0 6.0,0 a3.0,3.0 0 1,0 -6.0,0 M242.0,322.0 m-3.0,0 a3.0,3.0 0 1,0 6.0,0 a3.0,3.0 0 1,0 -6.0,0 M254.0,330.0 m-3.0,0 a3.0,3.0 0 1,0 6.0,0 a3.0,3.0 0 1,0 -6.0,0 M266.0,340.0 m-3.0,0 a3.0,3.0 0 1,0 6.0,0 a3.0,3.0 0 1,0 -6.0,0 M273.0,352.0 m-3.0,0 a3.0,3.0 0 1,0 6.0,0 a3.0,3.0 0 1,0 -6.0,0 M281.0,365.0 m-3.0,0 a3.0,3.0 0 1,0 6.0,0 a3.0,3.0 0 1,0 -6.0,0 M289.0,378.0 m-3.0,0 a3.0,3.0 0 1,0 6.0,0 a3.0,3.0 0 1,0 -6.0,0 M295.0,392.0 m-3.0,0 a3.0,3.0 0 1,0 6.0,0 a3.0,3.0 0 1,0 -6.0,0 M300.0,406.0 m-3.0,0 a3.0,3.0 0 1,0 6.0,0 a3.0,3.0 0 1,0 -6.0,0 M306.0,420.0 m-3.0,0 a3.0,3.0 0 1,0 6.0,0 a3.0,3.0 0 1,0 -6.0,0 M312.0,434.0 m-3.0,0 a3.0,3.0 0 1,0 6.0,0 a3.0,3.0 0 1,0 -6.0,0 M318.0,448.0 m-3.0,0 a3.0,3.0 0 1,0 6.0,0 a3.0,3.0 0 1,0 -6.0,0 M324.0,461.0 m-3.0,0 a3.0,3.0 0 1,0 6.0,0 a3.0,3.0 0 1,0 -6.0,0 M329.0,475.0 m-3.0,0 a3.0,3.0 0 1,0 6.0,0 a3.0,3.0 0 1,0 -6.0,0 M335.0,489.0 m-3.0,0 a3.0,3.0 0 1,0 6.0,0 a3.0,3.0 0 1,0 -6.0,0 M341.0,503.0 m-3.0,0 a3.0,3.0 0 1,0 6.0,0 a3.0,3.0 0 1,0 -6.0,0 M348.0,516.0 m-3.0,0 a3.0,3.0 0 1,0 6.0,0 a3.0,3.0 0 1,0 -6.0,0 M355.0,530.0 m-3.0,0 a3.0,3.0 0 1,0 6.0,0 a3.0,3.0 0 1,0 -6.0,0 M368.0,535.0 m-3.0,0 a3.0,3.0 0 1,0 6.0,0 a3.0,3.0 0 1,0 -6.0,0 M383.0,539.0 m-3.0,0 a3.0,3.0 0 1,0 6.0,0 a3.0,3.0 0 1,0 -6.0,0 M395.0,548.0 m-3.0,0 a3.0,3.0 0 1,0 6.0,0 a3.0,3.0 0 1,0 -6.0,0 M405.0,559.0 m-3.0,0 a3.0,3.0 0 1,0 6.0,0 a3.0,3.0 0 1,0 -6.0,0 M415.0,570.0 m-3.0,0 a3.0,3.0 0 1,0 6.0,0 a3.0,3.0 0 1,0 -6.0,0 M429.0,576.0 m-3.0,0 a3.0,3.0 0 1,0 6.0,0 a3.0,3.0 0 1,0 -6.0,0 M443.0,579.0 m-3.0,0 a3.0,3.0 0 1,0 6.0,0 a3.0,3.0 0 1,0 -6.0,0 M455.0,577.0 m-3.0,0 a3.0,3.0 0 1,0 6.0,0 a3.0,3.0 0 1,0 -6.0,0 M461.0,563.0 m-3.0,0 a3.0,3.0 0 1,0 6.0,0 a3.0,3.0 0 1,0 -6.0,0 M467.0,550.0 m-3.0,0 a3.0,3.0 0 1,0 6.0,0 a3.0,3.0 0 1,0 -6.0,0 M477.0,540.0 m-3.0,0 a3.0,3.0 0 1,0 6.0,0 a3.0,3.0 0 1,0 -6.0,0 M492.0,538.0 m-3.0,0 a3.0,3.0 0 1,0 6.0,0 a3.0,3.0 0 1,0 -6.0,0 M507.0,537.0 m-3.0,0 a3.0,3.0 0 1,0 6.0,0 a3.0,3.0 0 1,0 -6.0,0 M517.0,526.0 m-3.0,0 a3.0,3.0 0 1,0 6.0,0 a3.0,3.0 0 1,0 -6.0,0 M527.0,514.0 m-3.0,0 a3.0,3.0 0 1,0 6.0,0 a3.0,3.0 0 1,0 -6.0,0 M536.0,503.0 m-3.0,0 a3.0,3.0 0 1,0 6.0,0 a3.0,3.0 0 1,0 -6.0,0 M546.0,491.0 m-3.0,0 a3.0,3.0 0 1,0 6.0,0 a3.0,3.0 0 1,0 -6.0,0 M555.0,480.0 m-3.0,0 a3.0,3.0 0 1,0 6.0,0 a3.0,3.0 0 1,0 -6.0,0 M565.0,468.0 m-3.0,0 a3.0,3.0 0 1,0 6.0,0 a3.0,3.0 0 1,0 -6.0,0 M574.0,456.0 m-3.0,0 a3.0,3.0 0 1,0 6.0,0 a3.0,3.0 0 1,0 -6.0,0 M583.0,444.0 m-3.0,0 a3.0,3.0 0 1,0 6.0,0 a3.0,3.0 0 1,0 -6.0,0 M592.0,432.0 m-3.0,0 a3.0,3.0 0 1,0 6.0,0 a3.0,3.0 0 1,0 -6.0,0 M607.0,431.0 m-3.0,0 a3.0,3.0 0 1,0 6.0,0 a3.0,3.0 0 1,0 -6.0,0 M622.0,431.0 m-3.0,0 a3.0,3.0 0 1,0 6.0,0 a3.0,3.0 0 1,0 -6.0,0 M637.0,432.0 m-3.0,0 a3.0,3.0 0 1,0 6.0,0 a3.0,3.0 0 1,0 -6.0,0 M651.0,438.0 m-3.0,0 a3.0,3.0 0 1,0 6.0,0 a3.0,3.0 0 1,0 -6.0,0 M666.0,443.0 m-3.0,0 a3.0,3.0 0 1,0 6.0,0 a3.0,3.0 0 1,0 -6.0,0 M680.0,444.0 m-3.0,0 a3.0,3.0 0 1,0 6.0,0 a3.0,3.0 0 1,0 -6.0,0 M696.0,444.0 m-3.0,0 a3.0,3.0 0 1,0 6.0,0 a3.0,3.0 0 1,0 -6.0,0 M707.0,437.0 m-3.0,0 a3.0,3.0 0 1,0 6.0,0 a3.0,3.0 0 1,0 -6.0,0 M715.0,424.0 m-3.0,0 a3.0,3.0 0 1,0 6.0,0 a3.0,3.0 0 1,0 -6.0,0 M724.0,412.0 m-3.0,0 a3.0,3.0 0 1,0 6.0,0 a3.0,3.0 0 1,0 -6.0,0 M732.0,400.0 m-3.0,0 a3.0,3.0 0 1,0 6.0,0 a3.0,3.0 0 1,0 -6.0,0 M745.0,395.0 m-3.0,0 a3.0,3.0 0 1,0 6.0,0 a3.0,3.0 0 1,0 -6.0,0 M761.0,394.0 m-3.0,0 a3.0,3.0 0 1,0 6.0,0 a3.0,3.0 0 1,0 -6.0,0 M776.0,394.0 m-3.0,0 a3.0,3.0 0 1,0 6.0,0 a3.0,3.0 0 1,0 -6.0,0 M791.0,394.0 m-3.0,0 a3.0,3.0 0 1,0 6.0,0 a3.0,3.0 0 1,0 -6.0,0 M803.0,400.0 m-3.0,0 a3.0,3.0 0 1,0 6.0,0 a3.0,3.0 0 1,0 -6.0,0 M812.0,412.0 m-3.0,0 a3.0,3.0 0 1,0 6.0,0 a3.0,3.0 0 1,0 -6.0,0 M821.0,424.0 m-3.0,0 a3.0,3.0 0 1,0 6.0,0 a3.0,3.0 0 1,0 -6.0,0 M830.0,437.0 m-3.0,0 a3.0,3.0 0 1,0 6.0,0 a3.0,3.0 0 1,0 -6.0,0 M839.0,449.0 m-3.0,0 a3.0,3.0 0 1,0 6.0,0 a3.0,3.0 0 1,0 -6.0,0 M847.0,461.0 m-3.0,0 a3.0,3.0 0 1,0 6.0,0 a3.0,3.0 0 1,0 -6.0,0 M856.0,473.0 m-3.0,0 a3.0,3.0 0 1,0 6.0,0 a3.0,3.0 0 1,0 -6.0,0 M866.0,485.0 m-3.0,0 a3.0,3.0 0 1,0 6.0,0 a3.0,3.0 0 1,0 -6.0,0 M879.0,493.0 m-3.0,0 a3.0,3.0 0 1,0 6.0,0 a3.0,3.0 0 1,0 -6.0,0 M892.0,501.0 m-3.0,0 a3.0,3.0 0 1,0 6.0,0 a3.0,3.0 0 1,0 -6.0,0 M904.0,509.0 m-3.0,0 a3.0,3.0 0 1,0 6.0,0 a3.0,3.0 0 1,0 -6.0,0 M917.0,517.0 m-3.0,0 a3.0,3.0 0 1,0 6.0,0 a3.0,3.0 0 1,0 -6.0,0 M930.0,524.0 m-3.0,0 a3.0,3.0 0 1,0 6.0,0 a3.0,3.0 0 1,0 -6.0,0 M945.0,524.0 m-3.0,0 a3.0,3.0 0 1,0 6.0,0 a3.0,3.0 0 1,0 -6.0,0 M961.0,524.0 m-3.0,0 a3.0,3.0 0 1,0 6.0,0 a3.0,3.0 0 1,0 -6.0,0 M976.0,524.0 m-3.0,0 a3.0,3.0 0 1,0 6.0,0 a3.0,3.0 0 1,0 -6.0,0 M990.0,521.0 m-3.0,0 a3.0,3.0 0 1,0 6.0,0 a3.0,3.0 0 1,0 -6.0,0 M1003.0,513.0 m-3.0,0 a3.0,3.0 0 1,0 6.0,0 a3.0,3.0 0 1,0 -6.0,0 M1016.0,506.0 m-3.0,0 a3.0,3.0 0 1,0 6.0,0 a3.0,3.0 0 1,0 -6.0,0 M1030.0,499.0 m-3.0,0 a3.0,3.0 0 1,0 6.0,0 a3.0,3.0 0 1,0 -6.0,0 M1044.0,491.0 m-3.0,0 a3.0,3.0 0 1,0 6.0,0 a3.0,3.0 0 1,0 -6.0,0 M1057.0,486.0 m-3.0,0 a3.0,3.0 0 1,0 6.0,0 a3.0,3.0 0 1,0 -6.0,0 M1066.0,475.0 m-3.0,0 a3.0,3.0 0 1,0 6.0,0 a3.0,3.0 0 1,0 -6.0,0 M1070.0,460.0 m-3.0,0 a3.0,3.0 0 1,0 6.0,0 a3.0,3.0 0 1,0 -6.0,0 M1074.0,447.0 m-3.0,0 a3.0,3.0 0 1,0 6.0,0 a3.0,3.0 0 1,0 -6.0,0 M1080.0,431.0 m-3.0,0 a3.0,3.0 0 1,0 6.0,0 a3.0,3.0 0 1,0 -6.0,0 M1084.0,418.0 m-3.0,0 a3.0,3.0 0 1,0 6.0,0 a3.0,3.0 0 1,0 -6.0,0 M1090.0,403.0 m-3.0,0 a3.0,3.0 0 1,0 6.0,0 a3.0,3.0 0 1,0 -6.0,0 M1103.0,401.0 m-3.0,0 a3.0,3.0 0 1,0 6.0,0 a3.0,3.0 0 1,0 -6.0,0 M1118.0,400.0 m-3.0,0 a3.0,3.0 0 1,0 6.0,0 a3.0,3.0 0 1,0 -6.0,0 M1133.0,401.0 m-3.0,0 a3.0,3.0 0 1,0 6.0,0 a3.0,3.0 0 1,0 -6.0,0 M1149.0,401.0 m-3.0,0 a3.0,3.0 0 1,0 6.0,0 a3.0,3.0 0 1,0 -6.0,0 M1158.0,392.0 m-3.0,0 a3.0,3.0 0 1,0 6.0,0 a3.0,3.0 0 1,0 -6.0,0 M1168.0,380.0 m-3.0,0 a3.0,3.0 0 1,0 6.0,0 a3.0,3.0 0 1,0 -6.0,0 M1177.0,368.0 m-3.0,0 a3.0,3.0 0 1,0 6.0,0 a3.0,3.0 0 1,0 -6.0,0 M1186.0,356.0 m-3.0,0 a3.0,3.0 0 1,0 6.0,0 a3.0,3.0 0 1,0 -6.0,0 M1199.0,353.0 m-3.0,0 a3.0,3.0 0 1,0 6.0,0 a3.0,3.0 0 1,0 -6.0,0 M1214.0,352.0 m-3.0,0 a3.0,3.0 0 1,0 6.0,0 a3.0,3.0 0 1,0 -6.0,0 M1229.0,352.0 m-3.0,0 a3.0,3.0 0 1,0 6.0,0 a3.0,3.0 0 1,0 -6.0,0 M1245.0,352.0 m-3.0,0 a3.0,3.0 0 1,0 6.0,0 a3.0,3.0 0 1,0 -6.0,0 M1260.0,352.0 m-3.0,0 a3.0,3.0 0 1,0 6.0,0 a3.0,3.0 0 1,0 -6.0,0" fill="#fff"/>
<text x="808.0" y="258.0" font-size="21" font-weight="bold" text-anchor="middle" dominant-baseline="central" transform="rotate(0 808.0 258.0)">27.5</text>
<text x="1007.0" y="339.0" font-size="21" font-weight="bold" text-anchor="middle" dominant-baseline="central" transform="rotate(0 1007.0 339.0)">25</text>
<text x="709.0" y="373.0" font-size="21" font-weight="bold" text-anchor="middle" dominant-baseline="central" transform="rotate(0 709.0 373.0)">22.5</text>
<text x="500.0" y="552.0" font-size="21" font-weight="bold" text-anchor="middle" dominant-baseline="central" transform="rotate(-20 500.0 552.0)">20</text>
<text x="948.0" y="560.0" font-size="21" font-weight="bold" text-anchor="middle" dominant-baseline="central" transform="rotate(-20 948.0 560.0)">20</text>
<text x="599.0" y="457.0" font-size="21" font-weight="bold" text-anchor="middle" dominant-baseline="central" transform="rotate(-60 599.0 457.0)">17.5</text>
<text x="1200.0" y="280.0" font-size="21" font-weight="bold" text-anchor="middle" dominant-baseline="central" transform="rotate(0 1200.0 280.0)">17.5</text>
<text x="764.0" y="460.0" font-size="21" font-weight="bold" text-anchor="middle" dominant-baseline="central" transform="rotate(0 764.0 460.0)">15</text>
<text x="328.0" y="645.0" font-size="21" font-weight="bold" text-anchor="middle" dominant-baseline="central" transform="rotate(-15 328.0 645.0)">15</text>
<text x="726.0" y="632.0" font-size="21" font-weight="bold" text-anchor="middle" dominant-baseline="central" transform="rotate(-5 726.0 632.0)">12.5</text>
<text x="1210.0" y="481.0" font-size="21" font-weight="bold" text-anchor="middle" dominant-baseline="central" transform="rotate(30 1210.0 481.0)">12.5</text>
<text x="1106.0" y="650.0" font-size="21" font-weight="bold" text-anchor="middle" dominant-baseline="central" transform="rotate(-80 1106.0 650.0)">5</text>
<text x="1253.0" y="645.0" font-size="21" font-weight="bold" text-anchor="middle" dominant-baseline="central" transform="rotate(-80 1253.0 645.0)">2.5</text>
<text x="220.0" y="240.0" font-size="21" font-weight="bold" text-anchor="middle" dominant-baseline="central" transform="rotate(70 220.0 240.0)">7.5</text>
<text x="217.0" y="285.0" font-size="21" font-weight="bold" text-anchor="middle" dominant-baseline="central" transform="rotate(80 217.0 285.0)">20</text>
<text x="214.0" y="450.0" font-size="21" font-weight="bold" text-anchor="middle" dominant-baseline="central" transform="rotate(90 214.0 450.0)">22.5</text>
<text x="232.0" y="650.0" font-size="21" font-weight="bold" text-anchor="middle" dominant-baseline="central" transform="rotate(-90 232.0 650.0)">2.5</text>
</g>
<rect x="150.5" y="219.5" width="1123.5" height="441.0" fill="none" stroke="#000" stroke-width="2.4"/>
<line x1="140.0" y1="219.5" x2="150.5" y2="219.5" stroke="#000" stroke-width="2.2"/>
<text x="129.5" y="232.3" font-size="36.5" font-weight="bold" text-anchor="end">0</text>
<line x1="143.5" y1="307.7" x2="150.5" y2="307.7" stroke="#999" stroke-width="1.5"/>
<line x1="140.0" y1="395.9" x2="150.5" y2="395.9" stroke="#000" stroke-width="2.2"/>
<text x="129.5" y="408.7" font-size="36.5" font-weight="bold" text-anchor="end">100</text>
<line x1="143.5" y1="484.1" x2="150.5" y2="484.1" stroke="#999" stroke-width="1.5"/>
<line x1="140.0" y1="572.3" x2="150.5" y2="572.3" stroke="#000" stroke-width="2.2"/>
<text x="129.5" y="585.1" font-size="36.5" font-weight="bold" text-anchor="end">200</text>
<line x1="143.5" y1="660.5" x2="150.5" y2="660.5" stroke="#999" stroke-width="1.5"/>
<line x1="225.4" y1="660.5" x2="225.4" y2="671.0" stroke="#000" stroke-width="2.2"/>
<text x="225.4" y="711.0" font-size="36.5" font-weight="bold" text-anchor="middle">40°S</text>
<line x1="458.6" y1="660.5" x2="458.6" y2="671.0" stroke="#000" stroke-width="2.2"/>
<text x="458.6" y="711.0" font-size="36.5" font-weight="bold" text-anchor="middle">20°S</text>
<line x1="692.0" y1="660.5" x2="692.0" y2="671.0" stroke="#000" stroke-width="2.2"/>
<text x="692.0" y="711.0" font-size="36.5" font-weight="bold" text-anchor="middle">EQ</text>
<line x1="925.3" y1="660.5" x2="925.3" y2="671.0" stroke="#000" stroke-width="2.2"/>
<text x="925.3" y="711.0" font-size="36.5" font-weight="bold" text-anchor="middle">20°N</text>
<line x1="1158.6" y1="660.5" x2="1158.6" y2="671.0" stroke="#000" stroke-width="2.2"/>
<text x="1158.6" y="711.0" font-size="36.5" font-weight="bold" text-anchor="middle">40°N</text>
<line x1="342.1" y1="660.5" x2="342.1" y2="667.5" stroke="#aaa" stroke-width="1.5"/>
<line x1="575.4" y1="660.5" x2="575.4" y2="667.5" stroke="#aaa" stroke-width="1.5"/>
<line x1="808.6" y1="660.5" x2="808.6" y2="667.5" stroke="#aaa" stroke-width="1.5"/>
<line x1="1042.0" y1="660.5" x2="1042.0" y2="667.5" stroke="#aaa" stroke-width="1.5"/>
<text x="0" y="0" font-size="42" font-weight="bold" text-anchor="middle" transform="translate(32.5 440.0) rotate(-90) scale(1,1.045)">Depth [m]</text>
<g clip-path="url(#c2)">
<g filter="url(#b6)">
<path d="M120.5,806.5 C238.9,756.5 1186.1,756.5 1304.5,806.5 C1422.9,856.5 1422.9,1257.0 1304.5,1307.0 C1186.1,1357.0 238.9,1357.0 120.5,1307.0 C2.1,1257.0 2.1,856.5 120.5,806.5 Z" fill="#6a44f8"/>
<path d="M259.0,806.5 C159.1,809.7 258.5,832.0 259.0,838.5 C259.5,845.0 262.9,865.8 263.6,872.0 C264.3,878.2 265.8,895.2 266.4,900.6 C267.0,906.0 267.9,922.4 269.2,926.0 C270.5,929.6 276.9,935.3 279.0,937.0 C281.1,938.7 288.1,943.0 290.4,943.0 C292.7,943.0 299.9,937.3 301.7,937.0 C303.5,936.7 307.6,938.0 308.7,940.0 C309.8,942.0 312.4,952.5 313.0,957.0 C313.6,961.5 314.4,977.9 314.4,985.0 C314.4,992.1 313.7,1021.6 313.0,1028.0 C312.3,1034.4 308.3,1044.8 307.0,1049.0 C305.7,1053.2 301.0,1065.7 300.0,1070.0 C299.0,1074.3 296.8,1086.8 297.0,1092.0 C297.2,1097.2 301.1,1118.0 302.0,1122.0 C302.9,1126.0 305.1,1130.4 306.0,1132.0 C306.9,1133.6 309.8,1135.6 311.0,1138.0 C312.2,1140.4 315.8,1154.2 318.0,1156.0 C320.2,1157.8 330.0,1156.7 333.0,1156.0 C336.0,1155.3 345.4,1150.1 348.0,1149.0 C350.6,1147.9 357.2,1145.0 359.0,1145.0 C360.8,1145.0 364.2,1148.6 366.0,1149.0 C367.8,1149.4 375.0,1147.4 377.0,1149.0 C379.0,1150.6 384.2,1163.2 386.0,1165.0 C387.8,1166.8 393.0,1167.5 395.0,1167.0 C397.0,1166.5 403.0,1161.3 406.0,1160.0 C409.0,1158.7 421.3,1155.5 425.0,1154.0 C428.7,1152.5 440.1,1145.4 443.0,1145.0 C445.9,1144.6 451.8,1150.2 454.0,1150.0 C456.2,1149.8 462.8,1143.9 465.0,1143.0 C467.2,1142.1 473.2,1141.0 476.0,1141.0 C478.8,1141.0 490.4,1143.7 493.0,1143.0 C495.6,1142.3 500.2,1135.5 502.0,1134.0 C503.8,1132.5 509.0,1129.5 511.0,1128.0 C513.0,1126.5 520.5,1121.7 522.0,1119.0 C523.5,1116.3 525.3,1104.5 526.0,1101.0 C526.7,1097.5 527.8,1086.4 529.0,1084.0 C530.2,1081.6 536.8,1078.4 538.5,1077.0 C540.2,1075.6 544.4,1071.8 546.0,1070.0 C547.6,1068.2 552.5,1062.9 554.5,1059.0 C556.5,1055.1 563.8,1034.7 565.5,1031.0 C567.2,1027.3 570.2,1024.2 572.0,1022.0 C573.8,1019.8 580.6,1011.4 583.0,1009.0 C585.4,1006.6 593.8,1000.2 596.0,998.0 C598.2,995.8 603.5,990.0 605.0,987.0 C606.5,984.0 609.5,970.6 611.0,968.0 C612.5,965.4 618.4,962.1 620.0,961.0 C621.6,959.9 625.0,958.1 627.0,957.0 C629.0,955.9 637.9,951.3 640.0,950.0 C642.1,948.7 646.6,944.6 648.5,944.0 C650.4,943.4 657.2,943.6 659.0,944.0 C660.8,944.4 664.9,948.0 666.0,948.0 C667.1,948.0 668.7,945.1 670.0,944.0 C671.3,942.9 676.8,937.3 679.0,937.0 C681.2,936.7 689.8,940.3 692.0,941.0 C694.2,941.7 698.9,944.2 701.0,944.0 C703.1,943.8 710.5,939.9 713.0,939.0 C715.5,938.1 723.4,935.6 726.0,935.0 C728.6,934.4 736.8,932.8 739.0,933.0 C741.2,933.2 746.4,935.9 748.0,937.0 C749.6,938.1 753.2,944.9 755.0,944.0 C756.8,943.1 764.1,930.7 766.0,928.0 C767.9,925.3 772.3,919.1 774.0,917.0 C775.7,914.9 781.2,908.9 783.0,907.0 C784.8,905.1 789.8,899.4 792.0,898.0 C794.2,896.6 802.4,893.2 805.0,893.0 C807.6,892.8 815.4,894.9 818.0,896.0 C820.6,897.1 829.2,903.0 831.0,904.0 C832.8,905.0 834.8,905.3 836.0,906.0 C837.2,906.7 841.5,908.8 843.0,911.0 C844.5,913.2 849.5,924.7 851.0,928.0 C852.5,931.3 856.9,939.4 858.0,944.0 C859.1,948.6 861.2,970.6 862.0,974.0 C862.8,977.4 864.9,978.6 866.0,978.0 C867.1,977.4 871.6,969.2 873.0,968.0 C874.4,966.8 878.5,965.8 880.0,966.0 C881.5,966.2 886.9,967.4 888.0,970.0 C889.1,972.6 890.5,987.9 891.0,992.0 C891.5,996.1 891.9,1007.6 893.0,1011.0 C894.1,1014.4 900.5,1022.3 902.0,1026.0 C903.5,1029.7 907.0,1044.0 908.0,1048.0 C909.0,1052.0 911.1,1062.3 912.0,1066.0 C912.9,1069.7 916.1,1081.3 917.0,1085.0 C917.9,1088.7 919.7,1100.5 921.0,1103.0 C922.3,1105.5 928.1,1109.6 930.0,1110.0 C931.9,1110.4 938.1,1106.9 940.0,1107.0 C941.9,1107.1 947.2,1110.2 949.0,1111.0 C950.8,1111.8 956.5,1115.3 958.0,1115.0 C959.5,1114.7 962.7,1110.4 964.0,1108.0 C965.3,1105.6 969.7,1093.4 971.0,1091.0 C972.3,1088.6 975.8,1084.2 977.0,1084.0 C978.2,1083.8 981.8,1087.4 983.0,1089.0 C984.2,1090.6 987.8,1097.7 989.0,1100.0 C990.2,1102.3 993.9,1109.7 995.0,1112.0 C996.1,1114.3 998.9,1122.8 1000.0,1123.0 C1001.1,1123.2 1003.6,1117.1 1006.0,1114.0 C1008.4,1110.9 1020.9,1095.9 1024.0,1092.0 C1027.1,1088.1 1035.1,1079.4 1037.0,1075.0 C1038.9,1070.6 1041.9,1052.0 1043.0,1048.0 C1044.1,1044.0 1046.6,1035.8 1048.0,1035.0 C1049.4,1034.2 1055.1,1039.5 1057.0,1040.0 C1058.9,1040.5 1065.1,1038.3 1067.0,1040.0 C1068.9,1041.7 1074.4,1056.1 1076.0,1057.0 C1077.6,1057.9 1082.1,1052.0 1083.0,1049.0 C1083.9,1046.0 1084.6,1031.4 1085.0,1027.0 C1085.4,1022.6 1086.1,1009.0 1087.0,1005.0 C1087.9,1001.0 1092.5,988.8 1094.0,987.0 C1095.5,985.2 1100.3,985.9 1102.0,987.0 C1103.7,988.1 1109.0,996.0 1111.0,998.0 C1113.0,1000.0 1119.6,1005.0 1122.0,1007.0 C1124.4,1009.0 1133.2,1018.7 1135.0,1018.0 C1136.8,1017.3 1138.9,1004.6 1140.0,1000.0 C1141.1,995.4 1144.7,976.3 1146.0,972.0 C1147.3,967.7 1151.2,959.8 1153.0,957.0 C1154.8,954.2 1162.1,946.6 1164.0,944.0 C1165.9,941.4 1170.7,933.7 1172.0,931.0 C1173.3,928.3 1176.1,919.9 1177.0,917.0 C1177.9,914.1 1179.5,903.7 1181.0,902.0 C1182.5,900.3 1190.2,898.9 1192.0,900.0 C1193.8,901.1 1197.5,909.9 1199.0,913.0 C1200.5,916.1 1204.9,928.4 1207.0,931.0 C1209.1,933.6 1217.8,938.8 1220.0,939.0 C1222.2,939.2 1227.6,935.2 1229.0,933.0 C1230.4,930.8 1232.9,920.3 1234.0,917.0 C1235.1,913.7 1237.9,902.4 1240.0,900.0 C1242.1,897.6 1252.6,895.6 1255.0,893.0 C1257.4,890.4 1263.3,877.7 1264.0,874.0 C1264.7,870.3 1262.6,859.5 1262.0,856.0 C1261.4,852.5 1258.4,843.5 1258.0,838.5 C1257.6,833.5 1357.9,809.7 1258.0,806.5 C1158.1,803.3 358.9,803.3 259.0,806.5 Z" fill="#9c50f8"/>
<path d="M279.0,806.5 C184.2,809.7 279.0,832.0 279.0,838.5 C279.0,845.0 278.3,867.0 279.0,872.0 C279.7,877.0 284.6,887.0 286.0,889.0 C287.4,891.0 291.1,892.4 293.0,892.0 C294.9,891.6 302.5,885.1 304.5,885.0 C306.5,884.9 311.4,888.7 313.0,891.0 C314.6,893.3 318.9,904.2 320.0,908.0 C321.1,911.8 323.3,924.1 324.0,929.0 C324.7,933.9 326.6,951.4 327.0,957.0 C327.4,962.6 328.5,979.3 328.5,985.0 C328.5,990.7 327.6,1009.0 327.0,1014.0 C326.4,1019.0 323.7,1030.9 323.0,1035.0 C322.3,1039.1 320.5,1050.8 320.0,1055.0 C319.5,1059.2 317.2,1073.7 318.0,1077.0 C318.8,1080.3 325.6,1088.5 327.5,1088.0 C329.4,1087.5 335.1,1074.0 337.0,1072.0 C338.9,1070.0 343.6,1068.0 346.0,1068.0 C348.4,1068.0 358.8,1071.8 361.0,1072.0 C363.2,1072.2 366.2,1069.5 368.0,1070.0 C369.8,1070.5 376.6,1075.7 379.0,1077.0 C381.4,1078.3 390.0,1082.4 392.0,1083.0 C394.0,1083.6 397.4,1082.3 399.0,1083.0 C400.6,1083.7 406.0,1090.2 408.0,1090.0 C410.0,1089.8 416.6,1083.8 419.0,1081.0 C421.4,1078.2 429.8,1064.2 432.0,1062.0 C434.2,1059.8 438.6,1058.8 441.0,1059.0 C443.4,1059.2 453.2,1064.0 456.0,1064.0 C458.8,1064.0 466.2,1059.9 469.0,1059.0 C471.8,1058.1 481.1,1055.0 483.5,1055.0 C485.9,1055.0 491.1,1059.2 493.0,1059.0 C494.9,1058.8 500.0,1053.9 502.0,1053.0 C504.0,1052.1 511.2,1052.9 513.0,1050.0 C514.8,1047.1 518.5,1027.7 520.0,1024.0 C521.5,1020.3 525.8,1013.9 527.5,1013.0 C529.2,1012.1 535.1,1015.6 537.0,1015.0 C538.9,1014.4 544.2,1008.5 546.0,1007.0 C547.8,1005.5 553.7,1002.4 555.0,1000.0 C556.3,997.6 558.2,986.9 559.0,983.0 C559.8,979.1 561.9,964.3 563.0,961.0 C564.1,957.7 568.0,951.5 570.0,950.0 C572.0,948.5 580.4,946.6 583.0,946.0 C585.6,945.4 594.0,946.0 596.0,944.0 C598.0,942.0 601.5,929.1 603.0,926.0 C604.5,922.9 609.1,914.7 611.0,913.0 C612.9,911.3 620.5,909.9 622.0,909.0 C623.5,908.1 623.2,905.4 626.0,904.0 C628.8,902.6 644.7,896.7 650.0,895.0 C655.3,893.3 674.8,887.4 679.0,887.0 C683.2,886.6 690.0,889.9 692.0,891.0 C694.0,892.1 697.7,897.8 699.0,898.0 C700.3,898.2 703.5,893.2 705.0,893.0 C706.5,892.8 712.3,895.6 714.0,896.0 C715.7,896.4 719.9,897.0 722.0,897.0 C724.1,897.0 732.4,896.7 735.0,896.0 C737.6,895.3 745.0,890.7 748.0,890.0 C751.0,889.3 762.6,890.9 765.5,889.0 C768.4,887.1 773.9,874.6 776.5,871.5 C779.1,868.4 789.1,860.0 792.0,858.0 C794.9,856.0 802.6,853.2 805.0,852.0 C807.4,850.8 813.8,845.8 816.0,846.0 C818.2,846.2 824.6,851.9 827.0,854.0 C829.4,856.1 837.4,863.9 840.0,867.0 C842.6,870.1 850.8,882.6 853.0,885.0 C855.2,887.4 860.3,889.5 862.0,891.0 C863.7,892.5 868.1,897.8 870.0,900.0 C871.9,902.2 878.8,910.8 881.0,913.0 C883.2,915.2 889.8,920.3 892.0,922.0 C894.2,923.7 901.2,927.0 903.0,930.0 C904.8,933.0 908.9,946.7 910.0,952.0 C911.1,957.3 913.1,978.2 914.0,983.0 C914.9,987.8 917.0,996.7 918.5,1000.0 C920.0,1003.3 926.9,1015.1 929.0,1016.0 C931.1,1016.9 937.1,1009.5 940.0,1009.0 C942.9,1008.5 955.1,1012.3 958.0,1011.0 C960.9,1009.7 967.3,997.5 969.0,996.0 C970.7,994.5 973.5,995.3 975.0,996.0 C976.5,996.7 982.2,1002.3 984.0,1003.0 C985.8,1003.7 990.3,1001.9 993.0,1003.0 C995.7,1004.1 1007.9,1014.5 1011.0,1014.0 C1014.1,1013.5 1021.6,1001.5 1024.0,998.0 C1026.4,994.5 1033.7,984.9 1035.0,979.0 C1036.3,973.1 1036.6,947.3 1037.0,939.0 C1037.4,930.7 1038.4,903.9 1039.0,896.0 C1039.6,888.1 1042.1,865.1 1043.0,860.0 C1043.9,854.9 1046.9,845.6 1048.0,845.0 C1049.1,844.4 1052.9,851.1 1054.0,854.0 C1055.1,856.9 1058.3,868.8 1059.0,874.0 C1059.7,879.2 1060.6,899.7 1061.0,906.0 C1061.4,912.3 1062.4,935.4 1063.0,937.0 C1063.6,938.6 1065.5,924.4 1067.0,922.0 C1068.5,919.6 1075.6,914.3 1078.0,913.0 C1080.4,911.7 1088.6,908.6 1091.0,909.0 C1093.4,909.4 1100.2,915.3 1102.0,917.0 C1103.8,918.7 1107.4,924.9 1109.0,926.0 C1110.6,927.1 1116.0,928.6 1118.0,928.0 C1120.0,927.4 1126.8,921.7 1129.0,920.0 C1131.2,918.3 1137.9,913.0 1140.0,911.0 C1142.1,909.0 1148.1,903.3 1150.0,900.0 C1151.9,896.7 1157.0,882.2 1159.0,878.0 C1161.0,873.8 1168.0,860.6 1170.0,858.0 C1172.0,855.4 1177.0,853.7 1179.0,852.0 C1181.0,850.3 1188.1,841.9 1190.0,841.0 C1191.9,840.1 1196.3,841.3 1198.0,843.0 C1199.7,844.7 1205.4,855.4 1207.0,858.0 C1208.6,860.6 1212.7,867.9 1214.0,869.0 C1215.3,870.1 1218.9,870.7 1220.0,869.0 C1221.1,867.3 1224.3,855.0 1225.0,852.0 C1225.7,849.0 1226.8,843.0 1227.0,838.5 C1227.2,834.0 1321.8,809.7 1227.0,806.5 C1132.2,803.3 373.8,803.3 279.0,806.5 Z" fill="#b86af8"/>
<path d="M1304.5,940.0 C1301.5,905.0 1278.8,955.5 1275.0,957.0 C1271.2,958.5 1268.0,955.5 1266.0,955.0 C1264.0,954.5 1257.4,951.4 1255.0,952.0 C1252.6,952.6 1244.4,958.3 1242.0,961.0 C1239.6,963.7 1232.7,977.0 1231.0,979.0 C1229.3,981.0 1226.3,981.9 1225.0,981.0 C1223.7,980.1 1219.6,972.1 1218.0,970.0 C1216.4,967.9 1210.8,961.2 1209.0,960.0 C1207.2,958.8 1201.7,958.3 1200.0,958.0 C1198.3,957.7 1193.7,956.2 1192.0,957.0 C1190.3,957.8 1184.3,963.0 1183.0,966.0 C1181.7,969.0 1180.1,984.0 1179.0,987.0 C1177.9,990.0 1173.3,994.2 1172.0,996.0 C1170.7,997.8 1166.8,1001.9 1166.0,1005.0 C1165.2,1008.1 1164.5,1023.1 1164.0,1027.0 C1163.5,1030.9 1161.9,1041.0 1161.0,1044.0 C1160.1,1047.0 1156.5,1054.6 1155.0,1057.0 C1153.5,1059.4 1147.5,1065.8 1146.0,1068.0 C1144.5,1070.2 1140.9,1076.1 1140.0,1079.0 C1139.1,1081.9 1137.7,1093.7 1137.0,1097.0 C1136.3,1100.3 1134.5,1110.1 1133.0,1112.0 C1131.5,1113.9 1124.6,1114.5 1122.0,1116.0 C1119.4,1117.5 1109.6,1124.6 1107.0,1127.0 C1104.4,1129.4 1097.8,1136.9 1096.0,1140.0 C1094.2,1143.1 1089.9,1154.0 1089.0,1158.0 C1088.1,1162.0 1087.2,1173.5 1087.0,1180.0 C1086.8,1186.5 1087.4,1216.5 1087.0,1223.0 C1086.6,1229.5 1085.0,1241.7 1083.0,1245.0 C1081.0,1248.3 1070.3,1255.5 1067.0,1256.0 C1063.7,1256.5 1053.2,1249.8 1050.0,1250.0 C1046.8,1250.2 1038.7,1256.3 1035.0,1258.0 C1031.3,1259.7 1016.5,1266.3 1013.0,1267.0 C1009.5,1267.7 1003.6,1265.4 1000.0,1265.0 C996.4,1264.6 981.2,1263.1 977.0,1263.0 C972.8,1262.9 961.8,1264.5 958.0,1264.0 C954.2,1263.5 942.4,1259.7 939.0,1258.0 C935.6,1256.3 926.1,1250.4 924.0,1247.0 C921.9,1243.6 919.1,1229.4 918.0,1224.0 C916.9,1218.6 914.0,1199.2 913.0,1193.0 C912.0,1186.8 908.6,1168.2 908.0,1162.0 C907.4,1155.8 907.0,1137.2 907.0,1131.0 C907.0,1124.8 908.0,1105.9 908.0,1100.0 C908.0,1094.1 907.6,1076.4 907.0,1072.0 C906.4,1067.6 903.1,1059.1 902.0,1056.0 C900.9,1052.9 897.2,1044.1 896.0,1041.0 C894.8,1037.9 891.0,1027.8 890.0,1025.0 C889.0,1022.2 887.0,1015.0 886.0,1013.0 C885.0,1011.0 881.7,1005.6 880.0,1005.0 C878.3,1004.4 870.8,1007.5 869.0,1007.0 C867.2,1006.5 863.1,1002.6 862.0,1000.0 C860.9,997.4 859.1,984.9 858.0,981.0 C856.9,977.1 852.5,964.9 851.0,961.0 C849.5,957.1 844.5,945.5 843.0,942.0 C841.5,938.5 838.2,928.3 836.0,926.0 C833.8,923.7 824.0,920.0 821.0,919.0 C818.0,918.0 808.7,915.7 806.0,916.0 C803.3,916.3 796.0,918.4 794.0,922.0 C792.0,925.6 787.7,947.6 786.0,952.0 C784.3,956.4 779.0,963.4 777.0,966.0 C775.0,968.6 768.3,976.9 766.0,978.0 C763.7,979.1 756.8,977.2 754.0,977.0 C751.2,976.8 741.2,975.9 738.0,976.0 C734.8,976.1 725.3,978.3 722.0,978.0 C718.7,977.7 708.2,973.6 705.0,973.0 C701.8,972.4 692.8,972.7 690.0,972.0 C687.2,971.3 680.1,966.2 677.0,966.0 C673.9,965.8 661.8,969.6 659.0,970.0 C656.2,970.4 650.7,969.2 649.0,970.0 C647.3,970.8 643.6,976.2 642.0,978.0 C640.4,979.8 634.8,984.9 633.0,988.0 C631.2,991.1 625.9,1005.5 624.0,1009.0 C622.1,1012.5 616.1,1021.0 614.0,1023.0 C611.9,1025.0 605.7,1027.3 603.0,1029.0 C600.3,1030.7 589.9,1037.0 587.0,1040.0 C584.1,1043.0 576.6,1051.1 574.0,1059.0 C571.4,1066.9 562.9,1111.5 561.0,1119.0 C559.1,1126.5 556.5,1131.8 555.0,1134.0 C553.5,1136.2 548.0,1139.3 546.0,1141.0 C544.0,1142.7 537.0,1147.7 535.0,1151.0 C533.0,1154.3 527.5,1168.9 526.0,1174.0 C524.5,1179.1 520.9,1196.5 520.0,1202.0 C519.1,1207.5 518.3,1224.8 517.0,1229.0 C515.7,1233.2 509.4,1241.9 507.0,1244.0 C504.6,1246.1 496.3,1248.7 493.0,1250.0 C489.7,1251.3 476.8,1255.2 474.0,1257.0 C471.2,1258.8 466.8,1266.1 465.0,1268.0 C463.2,1269.9 456.9,1272.1 456.0,1276.0 C455.1,1279.9 371.1,1303.9 456.0,1307.0 C540.9,1310.1 1219.7,1343.7 1304.5,1307.0 C1389.3,1270.3 1307.5,975.0 1304.5,940.0 Z" fill="#5a80f6"/>
<path d="M1304.5,1010.0 C1294.0,981.3 1212.0,1015.0 1200.0,1020.0 C1188.0,1025.0 1187.0,1050.0 1185.0,1060.0 C1183.0,1070.0 1180.0,1106.0 1180.0,1120.0 C1180.0,1134.0 1184.0,1186.0 1185.0,1200.0 C1186.0,1214.0 1188.5,1249.3 1190.0,1260.0 C1191.5,1270.7 1188.5,1302.3 1200.0,1307.0 C1211.5,1311.7 1294.0,1336.7 1304.5,1307.0 C1315.0,1277.3 1315.0,1038.7 1304.5,1010.0 Z" fill="#62aee6"/>
<path d="M1304.5,1150.0 C1300.2,1136.0 1266.7,1164.0 1262.0,1167.0 C1257.3,1170.0 1258.2,1176.6 1258.0,1180.0 C1257.8,1183.4 1259.2,1196.7 1260.0,1201.0 C1260.8,1205.3 1265.5,1212.4 1266.0,1223.0 C1266.5,1233.6 1261.2,1298.6 1265.0,1307.0 C1268.8,1315.4 1300.5,1322.7 1304.5,1307.0 C1308.5,1291.3 1308.8,1164.0 1304.5,1150.0 Z" fill="#6cc6c4"/>
<path d="M120.5,806.5 C125.0,756.5 160.6,803.5 165.0,806.5 C169.4,809.5 164.9,830.9 165.0,837.0 C165.1,843.1 165.6,863.7 166.0,868.0 C166.4,872.3 168.4,877.2 169.0,880.0 C169.6,882.8 171.1,893.4 172.0,896.0 C172.9,898.6 176.5,904.4 178.0,906.0 C179.5,907.6 185.2,910.7 187.0,912.0 C188.8,913.3 194.3,917.5 196.0,919.0 C197.7,920.5 202.3,925.5 204.0,927.0 C205.7,928.5 211.1,933.0 213.0,934.0 C214.9,935.0 221.3,936.0 223.0,937.0 C224.7,938.0 228.8,942.1 230.0,944.0 C231.2,945.9 233.6,954.5 235.0,956.0 C236.4,957.5 242.1,958.5 244.0,959.0 C245.9,959.5 252.3,960.2 254.0,961.0 C255.7,961.8 259.9,964.6 261.0,967.0 C262.1,969.4 264.5,980.3 265.0,985.0 C265.5,989.7 265.6,1008.3 266.0,1014.0 C266.4,1019.7 268.5,1037.4 269.0,1042.0 C269.5,1046.6 270.7,1056.4 271.0,1060.0 C271.3,1063.6 271.3,1073.3 272.0,1078.0 C272.7,1082.7 277.4,1099.9 278.0,1107.0 C278.6,1114.1 278.2,1140.6 278.0,1149.0 C277.8,1157.4 275.9,1182.5 276.0,1191.0 C276.1,1199.5 278.0,1228.6 279.0,1234.0 C280.0,1239.4 284.4,1243.5 286.0,1245.0 C287.6,1246.5 293.1,1247.6 295.0,1249.0 C296.9,1250.4 302.6,1256.9 305.0,1259.0 C307.4,1261.1 315.8,1268.3 319.0,1270.0 C322.2,1271.7 335.2,1272.3 337.0,1276.0 C338.8,1279.7 358.6,1303.9 337.0,1307.0 C315.4,1310.1 142.2,1357.0 120.5,1307.0 C98.8,1257.0 116.0,856.5 120.5,806.5 Z" fill="#5a86f4"/>
<path d="M120.5,806.5 C124.5,756.5 156.1,800.1 160.0,806.5 C163.9,812.9 159.2,860.6 160.0,870.0 C160.8,879.4 166.0,895.8 168.0,900.0 C170.0,904.2 177.3,909.5 180.0,912.0 C182.7,914.5 191.5,922.4 195.0,925.0 C198.5,927.6 210.5,934.7 215.0,938.0 C219.5,941.3 236.0,955.6 240.0,958.0 C244.0,960.4 252.8,960.8 255.0,962.0 C257.2,963.2 261.1,965.2 262.0,970.0 C262.9,974.8 263.6,1001.0 264.0,1010.0 C264.4,1019.0 265.4,1051.0 266.0,1060.0 C266.6,1069.0 269.4,1091.0 270.0,1100.0 C270.6,1109.0 271.8,1140.0 272.0,1150.0 C272.2,1160.0 271.6,1191.0 272.0,1200.0 C272.4,1209.0 274.2,1234.0 276.0,1240.0 C277.8,1246.0 286.6,1256.4 290.0,1260.0 C293.4,1263.6 308.0,1271.3 310.0,1276.0 C312.0,1280.7 328.9,1303.9 310.0,1307.0 C291.1,1310.1 139.4,1357.0 120.5,1307.0 C101.5,1257.0 116.5,856.5 120.5,806.5 Z" fill="#62aee6"/>
<path d="M120.5,939.0 C123.5,902.2 146.3,939.7 150.6,939.0 C154.8,938.3 161.1,931.6 163.0,932.0 C164.9,932.4 168.8,940.5 170.0,943.0 C171.2,945.5 173.5,954.3 175.0,957.0 C176.5,959.7 183.1,967.5 185.0,970.0 C186.9,972.5 193.1,977.6 194.0,982.0 C194.9,986.4 194.0,1007.2 194.0,1014.0 C194.0,1020.8 193.9,1045.4 194.0,1050.0 C194.1,1054.6 194.3,1058.4 195.0,1060.0 C195.7,1061.6 199.9,1064.7 201.0,1066.0 C202.1,1067.3 204.6,1071.1 206.0,1073.0 C207.4,1074.9 213.4,1082.6 215.0,1085.0 C216.6,1087.4 221.4,1090.6 222.0,1097.0 C222.6,1103.4 221.2,1139.6 221.0,1149.0 C220.8,1158.4 220.0,1182.5 220.0,1191.0 C220.0,1199.5 220.3,1228.3 221.0,1234.0 C221.7,1239.7 225.8,1246.5 227.0,1248.0 C228.2,1249.5 231.9,1249.3 233.0,1249.0 C234.1,1248.7 237.1,1248.0 238.0,1245.0 C238.9,1242.0 241.7,1225.8 242.0,1219.0 C242.3,1212.2 241.4,1185.4 241.0,1177.0 C240.6,1168.6 238.3,1141.8 238.0,1135.0 C237.7,1128.2 237.4,1112.4 238.0,1109.0 C238.6,1105.6 242.6,1102.1 244.0,1101.0 C245.4,1099.9 250.3,1098.0 252.0,1098.0 C253.7,1098.0 259.7,1099.9 261.0,1101.0 C262.3,1102.1 264.5,1104.2 265.0,1109.0 C265.5,1113.8 265.9,1140.8 266.0,1149.0 C266.1,1157.2 265.8,1182.5 266.0,1191.0 C266.2,1199.5 267.5,1226.9 268.0,1234.0 C268.5,1241.1 270.6,1257.7 271.0,1262.0 C271.4,1266.3 271.9,1272.5 272.0,1277.0 C272.1,1281.5 287.1,1304.0 272.0,1307.0 C256.9,1310.0 135.7,1343.8 120.5,1307.0 C105.3,1270.2 117.5,975.8 120.5,939.0 Z" fill="#68be6c"/>
<path d="M120.5,960.0 C124.5,948.5 154.8,954.0 160.0,955.0 C165.2,956.0 170.0,965.5 172.0,970.0 C174.0,974.5 179.0,993.0 180.0,1000.0 C181.0,1007.0 182.0,1033.0 182.0,1040.0 C182.0,1047.0 186.2,1067.0 180.0,1070.0 C173.8,1073.0 126.5,1081.0 120.5,1070.0 C114.5,1059.0 116.5,971.5 120.5,960.0 Z" fill="#66b048"/>
<path d="M246.0,1115.0 C246.8,1107.8 250.7,1108.3 252.0,1108.0 C253.3,1107.7 258.1,1107.8 259.0,1112.0 C259.9,1116.2 260.7,1141.2 261.0,1150.0 C261.3,1158.8 261.9,1191.0 262.0,1200.0 C262.1,1209.0 263.2,1234.0 262.0,1240.0 C260.8,1246.0 251.6,1260.0 250.0,1260.0 C248.4,1260.0 246.6,1248.0 246.0,1240.0 C245.4,1232.0 244.0,1192.5 244.0,1180.0 C244.0,1167.5 245.2,1122.2 246.0,1115.0 Z" fill="#66b448"/>
<path d="M120.5,1085.0 C129.8,1063.5 204.4,1085.6 214.0,1092.0 C223.6,1098.4 215.7,1139.1 216.0,1149.0 C216.3,1158.9 216.9,1182.5 217.0,1191.0 C217.1,1199.5 216.7,1228.1 217.0,1234.0 C217.3,1239.9 219.1,1247.2 220.0,1250.0 C220.9,1252.8 224.8,1259.3 226.0,1262.0 C227.2,1264.7 231.4,1272.5 232.0,1277.0 C232.6,1281.5 243.2,1304.0 232.0,1307.0 C220.8,1310.0 131.7,1329.2 120.5,1307.0 C109.3,1284.8 111.2,1106.5 120.5,1085.0 Z" fill="#9cbc34"/>
<path d="M120.5,1085.0 C129.1,1063.3 197.2,1083.6 206.0,1090.0 C214.8,1096.4 208.1,1138.9 208.5,1149.0 C208.9,1159.1 209.8,1182.5 210.0,1191.0 C210.2,1199.5 209.7,1227.6 210.0,1234.0 C210.3,1240.4 212.3,1251.5 213.0,1255.0 C213.7,1258.5 216.5,1263.8 217.0,1269.0 C217.5,1274.2 227.7,1303.2 218.0,1307.0 C208.3,1310.8 130.2,1329.2 120.5,1307.0 C110.8,1284.8 112.0,1106.7 120.5,1085.0 Z" fill="#f0c22e"/>
<path d="M160.0,1250.0 C162.5,1243.8 185.0,1243.8 190.0,1245.0 C195.0,1246.2 208.5,1255.8 210.0,1262.0 C211.5,1268.2 209.5,1302.5 205.0,1307.0 C200.5,1311.5 169.5,1312.7 165.0,1307.0 C160.5,1301.3 157.5,1256.2 160.0,1250.0 Z" fill="#eca22a"/>
<path d="M491.0,1307.0 C449.2,1303.9 489.2,1280.2 491.0,1276.0 C492.8,1271.8 505.9,1267.4 509.0,1265.0 C512.1,1262.6 519.8,1256.2 522.0,1252.0 C524.2,1247.8 529.7,1230.2 531.0,1223.0 C532.3,1215.8 533.7,1185.9 535.0,1180.0 C536.3,1174.1 541.8,1166.9 544.0,1164.0 C546.2,1161.1 554.8,1154.2 557.0,1151.0 C559.2,1147.8 564.5,1136.1 566.0,1132.0 C567.5,1127.9 570.3,1114.4 572.0,1110.0 C573.7,1105.6 580.6,1091.3 583.0,1088.0 C585.4,1084.7 593.4,1078.8 596.0,1077.0 C598.6,1075.2 606.6,1072.0 609.0,1070.0 C611.4,1068.0 618.3,1060.0 620.0,1057.0 C621.7,1054.0 625.0,1043.7 626.0,1040.0 C627.0,1036.3 628.9,1023.9 630.0,1020.0 C631.1,1016.1 635.3,1004.4 637.0,1001.0 C638.7,997.6 645.1,988.1 647.0,986.0 C648.9,983.9 654.1,980.5 656.0,980.0 C657.9,979.5 663.7,980.5 666.0,981.0 C668.3,981.5 676.7,984.3 679.0,985.0 C681.3,985.7 686.9,988.0 689.0,988.0 C691.1,988.0 697.6,984.2 700.0,985.0 C702.4,985.8 710.5,995.0 713.0,996.0 C715.5,997.0 722.5,995.1 725.0,995.0 C727.5,994.9 735.3,994.2 738.0,995.0 C740.7,995.8 749.9,1001.1 752.0,1003.0 C754.1,1004.9 757.6,1010.7 759.0,1014.0 C760.4,1017.3 764.6,1034.5 766.0,1036.0 C767.4,1037.5 771.5,1032.4 773.0,1029.0 C774.5,1025.6 779.5,1007.5 781.0,1002.0 C782.5,996.5 786.6,979.6 788.0,974.0 C789.4,968.4 793.7,949.5 795.0,946.0 C796.3,942.5 799.1,939.5 801.0,939.0 C802.9,938.5 811.4,940.5 814.0,941.0 C816.6,941.5 824.8,943.3 827.0,944.0 C829.2,944.7 834.4,945.9 836.0,948.0 C837.6,950.1 841.5,961.5 843.0,965.0 C844.5,968.5 849.7,979.3 851.0,983.0 C852.3,986.7 855.1,998.3 856.0,1002.0 C856.9,1005.7 859.4,1014.7 860.0,1020.0 C860.6,1025.3 861.1,1051.3 862.0,1055.0 C862.9,1058.7 867.4,1058.1 869.0,1057.0 C870.6,1055.9 876.3,1044.4 878.0,1044.0 C879.7,1043.6 884.5,1050.4 886.0,1053.0 C887.5,1055.6 891.7,1066.8 893.0,1070.0 C894.3,1073.2 898.1,1079.9 899.0,1085.0 C899.9,1090.1 901.5,1113.7 902.0,1121.0 C902.5,1128.3 903.6,1150.6 904.0,1158.0 C904.4,1165.4 905.6,1185.7 906.0,1195.0 C906.4,1204.3 907.7,1242.8 908.0,1251.0 C908.3,1259.2 908.9,1271.4 909.0,1277.0 C909.1,1282.6 950.8,1304.0 909.0,1307.0 C867.2,1310.0 532.8,1310.1 491.0,1307.0 Z" fill="#6ec898"/>
<path d="M520.0,1307.0 C481.6,1303.9 518.5,1280.2 520.0,1276.0 C521.5,1271.8 532.2,1267.4 535.0,1265.0 C537.8,1262.6 545.8,1257.3 548.0,1252.0 C550.2,1246.7 555.5,1218.4 557.0,1212.0 C558.5,1205.6 561.3,1192.1 563.0,1188.0 C564.7,1183.9 571.7,1177.6 574.0,1171.0 C576.3,1164.4 583.6,1128.2 586.0,1122.0 C588.4,1115.8 595.5,1111.3 598.0,1109.0 C600.5,1106.7 608.5,1101.2 611.0,1099.0 C613.5,1096.8 621.2,1091.3 623.0,1087.0 C624.8,1082.7 628.0,1061.9 629.0,1056.0 C630.0,1050.1 632.0,1032.7 633.0,1028.0 C634.0,1023.3 637.7,1012.0 639.0,1009.0 C640.3,1006.0 643.4,998.9 646.0,998.0 C648.6,997.1 661.1,999.2 665.0,1000.0 C668.9,1000.8 681.6,1005.7 685.0,1006.0 C688.4,1006.3 697.0,1002.7 699.0,1003.0 C701.0,1003.3 703.4,1006.2 705.0,1009.0 C706.6,1011.8 712.8,1028.0 715.0,1031.0 C717.2,1034.0 724.7,1037.4 727.0,1039.0 C729.3,1040.6 736.7,1046.0 738.0,1047.0 C739.3,1048.0 738.3,1047.7 740.0,1049.0 C741.7,1050.3 752.0,1058.9 755.0,1060.0 C758.0,1061.1 767.8,1060.9 770.0,1060.0 C772.2,1059.1 775.6,1053.3 777.0,1051.0 C778.4,1048.7 782.7,1041.0 784.0,1037.0 C785.3,1033.0 789.0,1017.3 790.0,1011.0 C791.0,1004.7 793.1,979.9 794.0,974.0 C794.9,968.1 797.9,954.6 799.0,952.0 C800.1,949.4 803.5,947.8 805.0,948.0 C806.5,948.2 812.0,953.3 814.0,954.0 C816.0,954.7 823.0,954.5 825.0,955.0 C827.0,955.5 832.4,957.5 834.0,959.0 C835.6,960.5 839.9,967.0 841.0,970.0 C842.1,973.0 844.0,984.9 845.0,989.0 C846.0,993.1 849.9,1005.1 851.0,1011.0 C852.1,1016.9 855.3,1040.6 856.0,1048.0 C856.7,1055.4 857.6,1077.7 858.0,1085.0 C858.4,1092.3 859.6,1116.2 860.0,1121.0 C860.4,1125.8 861.1,1132.2 862.0,1133.0 C862.9,1133.8 867.7,1132.0 869.0,1129.0 C870.3,1126.0 873.9,1107.4 875.0,1103.0 C876.1,1098.6 878.9,1086.7 880.0,1085.0 C881.1,1083.3 885.2,1084.2 886.0,1086.0 C886.8,1087.8 887.7,1097.6 888.0,1103.0 C888.3,1108.4 888.5,1132.6 889.0,1140.0 C889.5,1147.4 892.0,1169.6 893.0,1177.0 C894.0,1184.4 898.1,1206.6 899.0,1214.0 C899.9,1221.4 901.5,1244.7 902.0,1251.0 C902.5,1257.3 903.8,1271.4 904.0,1277.0 C904.2,1282.6 942.4,1304.0 904.0,1307.0 C865.6,1310.0 558.4,1310.1 520.0,1307.0 Z" fill="#80b838"/>
<path d="M557.0,1307.0 C524.2,1304.0 555.9,1282.7 557.0,1277.0 C558.1,1271.3 566.0,1255.5 568.0,1250.0 C570.0,1244.5 575.0,1229.0 577.0,1222.0 C579.0,1215.0 585.5,1187.9 588.0,1180.0 C590.5,1172.1 599.2,1149.5 602.0,1143.0 C604.8,1136.5 613.7,1119.8 616.0,1115.0 C618.3,1110.2 623.3,1098.4 625.0,1095.0 C626.7,1091.6 631.1,1084.2 633.0,1081.0 C634.9,1077.8 642.2,1066.5 644.0,1063.0 C645.8,1059.5 649.8,1048.4 651.0,1046.0 C652.2,1043.6 654.0,1039.9 656.0,1039.0 C658.0,1038.1 668.1,1036.7 671.0,1037.0 C673.9,1037.3 682.2,1041.7 685.0,1042.0 C687.8,1042.3 696.8,1039.6 699.0,1040.0 C701.2,1040.4 705.6,1044.1 707.0,1046.0 C708.4,1047.9 711.2,1056.4 713.0,1059.0 C714.8,1061.6 723.5,1069.0 725.0,1072.0 C726.5,1075.0 727.7,1082.4 728.0,1089.0 C728.3,1095.6 727.8,1128.1 728.0,1138.0 C728.2,1147.9 729.5,1178.7 730.0,1188.0 C730.5,1197.3 731.5,1224.7 733.0,1231.0 C734.5,1237.3 742.8,1249.0 745.0,1251.0 C747.2,1253.0 752.9,1252.0 755.0,1251.0 C757.1,1250.0 764.7,1246.6 766.0,1241.0 C767.3,1235.4 767.6,1207.0 768.0,1195.0 C768.4,1183.0 769.7,1132.0 770.0,1121.0 C770.3,1110.0 770.3,1090.5 771.0,1085.0 C771.7,1079.5 775.3,1071.2 777.0,1066.0 C778.7,1060.8 785.8,1039.3 788.0,1033.0 C790.2,1026.7 796.8,1007.6 799.0,1003.0 C801.2,998.4 808.3,989.7 810.0,987.0 C811.7,984.3 814.3,976.4 816.0,976.0 C817.7,975.6 824.8,981.6 827.0,983.0 C829.2,984.4 836.4,985.3 838.0,990.0 C839.6,994.7 842.3,1021.0 843.0,1030.0 C843.7,1039.0 844.7,1070.0 845.0,1080.0 C845.3,1090.0 845.3,1123.2 846.0,1130.0 C846.7,1136.8 850.6,1145.2 852.0,1148.0 C853.4,1150.8 858.9,1155.0 860.0,1158.0 C861.1,1161.0 862.2,1172.9 863.0,1178.0 C863.8,1183.1 866.7,1202.8 868.0,1209.0 C869.3,1215.2 874.3,1233.2 876.0,1240.0 C877.7,1246.8 884.1,1270.3 885.0,1277.0 C885.9,1283.7 917.8,1304.0 885.0,1307.0 C852.2,1310.0 589.8,1310.0 557.0,1307.0 Z" fill="#f0c430"/>
<path d="M600.0,1307.0 C586.6,1300.3 596.0,1250.7 596.0,1240.0 C596.0,1229.3 598.4,1207.0 600.0,1200.0 C601.6,1193.0 609.6,1177.0 612.0,1170.0 C614.4,1163.0 621.2,1135.8 624.0,1130.0 C626.8,1124.2 636.4,1114.2 640.0,1112.0 C643.6,1109.8 655.0,1108.0 660.0,1108.0 C665.0,1108.0 684.8,1109.8 690.0,1112.0 C695.2,1114.2 709.4,1123.2 712.0,1130.0 C714.6,1136.8 715.8,1170.0 716.0,1180.0 C716.2,1190.0 712.6,1217.3 714.0,1230.0 C715.4,1242.7 741.4,1299.3 730.0,1307.0 C718.6,1314.7 613.4,1313.7 600.0,1307.0 Z" fill="#eea22a"/>
<path d="M778.0,1080.0 C776.0,1074.0 787.2,1047.0 790.0,1040.0 C792.8,1033.0 803.2,1014.0 806.0,1010.0 C808.8,1006.0 815.6,1001.0 818.0,1000.0 C820.4,999.0 828.0,996.0 830.0,1000.0 C832.0,1004.0 836.8,1031.0 838.0,1040.0 C839.2,1049.0 844.8,1084.0 842.0,1090.0 C839.2,1096.0 816.4,1101.0 810.0,1100.0 C803.6,1099.0 780.0,1086.0 778.0,1080.0 Z" fill="#eea02a"/>
<path d="M738.0,1090.0 C739.3,1083.0 742.3,1072.8 744.0,1070.0 C745.7,1067.2 752.9,1062.5 755.0,1062.0 C757.1,1061.5 763.7,1061.2 765.0,1065.0 C766.3,1068.8 767.8,1088.5 768.0,1100.0 C768.2,1111.5 767.3,1166.5 767.0,1180.0 C766.7,1193.5 766.5,1228.4 765.0,1235.0 C763.5,1241.6 754.7,1245.5 752.0,1246.0 C749.3,1246.5 739.9,1244.6 738.0,1240.0 C736.1,1235.4 733.7,1210.0 733.0,1200.0 C732.3,1190.0 730.5,1151.0 731.0,1140.0 C731.5,1129.0 736.7,1097.0 738.0,1090.0 Z" fill="#a8c034"/>
<path d="M780.0,1130.0 C781.9,1120.0 791.5,1104.5 795.0,1100.0 C798.5,1095.5 811.0,1086.0 815.0,1085.0 C819.0,1084.0 832.1,1086.5 835.0,1090.0 C837.9,1093.5 842.7,1113.0 844.0,1120.0 C845.3,1127.0 846.9,1152.0 848.0,1160.0 C849.1,1168.0 853.8,1185.3 855.0,1200.0 C856.2,1214.7 867.9,1296.3 860.0,1307.0 C852.1,1317.7 784.4,1317.7 776.0,1307.0 C767.6,1296.3 775.6,1217.7 776.0,1200.0 C776.4,1182.3 778.1,1140.0 780.0,1130.0 Z" fill="#e4641e"/>
<path d="M628.0,1230.0 C627.6,1220.8 633.3,1178.0 636.0,1170.0 C638.7,1162.0 651.4,1150.0 655.0,1150.0 C658.6,1150.0 669.5,1162.0 672.0,1170.0 C674.5,1178.0 680.7,1220.8 680.0,1230.0 C679.3,1239.2 669.0,1258.8 665.0,1262.0 C661.0,1265.2 643.7,1265.2 640.0,1262.0 C636.3,1258.8 628.4,1239.2 628.0,1230.0 Z" fill="#e8862a"/>
<path d="M558.0,1307.0 C527.8,1304.0 556.5,1281.0 558.0,1277.0 C559.5,1273.0 570.2,1269.3 573.0,1267.0 C575.8,1264.7 584.0,1258.6 586.0,1254.0 C588.0,1249.4 592.3,1227.6 593.0,1221.0 C593.7,1214.4 592.8,1193.0 593.0,1188.0 C593.2,1183.0 594.3,1173.2 595.0,1171.0 C595.7,1168.8 598.0,1167.1 600.0,1166.0 C602.0,1164.9 611.9,1160.1 615.0,1160.0 C618.1,1159.9 629.2,1162.2 631.0,1165.0 C632.8,1167.8 632.5,1182.4 633.0,1188.0 C633.5,1193.6 635.1,1215.2 636.0,1221.0 C636.9,1226.8 640.2,1241.6 642.0,1246.0 C643.8,1250.4 651.3,1263.6 654.0,1265.0 C656.7,1266.4 665.9,1260.8 669.0,1260.0 C672.1,1259.2 681.4,1257.0 685.0,1257.0 C688.6,1257.0 701.3,1259.0 705.0,1260.0 C708.7,1261.0 718.7,1265.8 722.0,1267.0 C725.3,1268.2 734.2,1271.5 738.0,1272.0 C741.8,1272.5 756.5,1271.6 760.0,1272.0 C763.5,1272.4 771.7,1275.6 773.0,1276.0 C774.3,1276.4 770.8,1277.6 773.0,1276.0 C775.2,1274.4 790.9,1263.5 795.0,1260.0 C799.1,1256.5 811.6,1245.6 814.0,1241.0 C816.4,1236.4 818.3,1220.4 819.0,1214.0 C819.7,1207.6 821.0,1182.9 821.0,1177.0 C821.0,1171.1 818.4,1157.7 819.0,1155.0 C819.6,1152.3 825.3,1150.4 827.0,1150.0 C828.7,1149.6 834.7,1148.3 836.0,1151.0 C837.3,1153.7 839.3,1170.7 840.0,1177.0 C840.7,1183.3 841.9,1206.6 843.0,1214.0 C844.1,1221.4 849.3,1244.7 851.0,1251.0 C852.7,1257.3 859.1,1271.4 860.0,1277.0 C860.9,1282.6 890.2,1304.0 860.0,1307.0 C829.8,1310.0 588.2,1310.0 558.0,1307.0 Z" fill="#c42a1e"/>
<path d="M620.0,1307.0 C600.0,1302.5 634.0,1266.1 640.0,1262.0 C646.0,1257.9 672.0,1265.2 680.0,1266.0 C688.0,1266.8 712.0,1269.8 720.0,1270.0 C728.0,1270.2 752.0,1269.0 760.0,1268.0 C768.0,1267.0 793.0,1260.6 800.0,1260.0 C807.0,1259.4 826.0,1257.3 830.0,1262.0 C834.0,1266.7 861.0,1302.5 840.0,1307.0 C819.0,1311.5 640.0,1311.5 620.0,1307.0 Z" fill="#c84050"/>
</g>
<path d="M150.6,1064.0 C151.2,1062.8 157.5,1066.5 159.0,1067.0 C160.5,1067.5 171.5,1070.7 173.0,1071.0 C174.5,1071.3 180.6,1071.1 182.0,1071.0 C183.4,1070.9 192.5,1069.9 194.0,1070.0 C195.5,1070.1 202.5,1072.5 204.0,1073.0 C205.5,1073.5 214.9,1077.1 216.0,1078.0 C217.1,1078.9 220.5,1085.7 221.0,1087.0 C221.5,1088.3 223.3,1096.3 223.0,1097.0 C222.7,1097.7 217.1,1097.5 216.0,1097.0 C214.9,1096.5 207.1,1090.8 206.0,1090.0 C204.9,1089.2 200.3,1085.1 199.0,1085.0 C197.7,1084.9 188.7,1088.0 187.0,1088.0 C185.3,1088.0 174.6,1085.3 173.0,1085.0 C171.4,1084.7 164.5,1084.0 163.0,1084.0 C161.5,1084.0 151.4,1086.3 150.6,1085.0 C149.8,1083.7 150.0,1065.2 150.6,1064.0 Z" fill="#fff"/>
<path d="M265.0,1104.0 L270.0,1092.0 L273.0,1085.0 L278.0,1092.0 L276.0,1098.0 L268.0,1104.0 Z" fill="#fff"/>
<path d="M160.0,842.0 m-1.1,0 a1.1,1.1 0 1,0 2.2,0 a1.1,1.1 0 1,0 -2.2,0 M160.0,875.0 m-1.1,0 a1.1,1.1 0 1,0 2.2,0 a1.1,1.1 0 1,0 -2.2,0 M163.0,886.0 m-1.1,0 a1.1,1.1 0 1,0 2.2,0 a1.1,1.1 0 1,0 -2.2,0 M163.0,946.0 m-1.1,0 a1.1,1.1 0 1,0 2.2,0 a1.1,1.1 0 1,0 -2.2,0 M160.0,966.0 m-1.1,0 a1.1,1.1 0 1,0 2.2,0 a1.1,1.1 0 1,0 -2.2,0 M160.0,1070.0 m-1.1,0 a1.1,1.1 0 1,0 2.2,0 a1.1,1.1 0 1,0 -2.2,0 M163.0,1102.0 m-1.1,0 a1.1,1.1 0 1,0 2.2,0 a1.1,1.1 0 1,0 -2.2,0 M177.0,842.0 m-1.1,0 a1.1,1.1 0 1,0 2.2,0 a1.1,1.1 0 1,0 -2.2,0 M180.0,850.0 m-1.1,0 a1.1,1.1 0 1,0 2.2,0 a1.1,1.1 0 1,0 -2.2,0 M180.0,886.0 m-1.1,0 a1.1,1.1 0 1,0 2.2,0 a1.1,1.1 0 1,0 -2.2,0 M177.0,898.0 m-1.1,0 a1.1,1.1 0 1,0 2.2,0 a1.1,1.1 0 1,0 -2.2,0 M177.0,966.0 m-1.1,0 a1.1,1.1 0 1,0 2.2,0 a1.1,1.1 0 1,0 -2.2,0 M180.0,988.0 m-1.1,0 a1.1,1.1 0 1,0 2.2,0 a1.1,1.1 0 1,0 -2.2,0 M180.0,1102.0 m-1.1,0 a1.1,1.1 0 1,0 2.2,0 a1.1,1.1 0 1,0 -2.2,0 M177.0,1140.0 m-1.1,0 a1.1,1.1 0 1,0 2.2,0 a1.1,1.1 0 1,0 -2.2,0 M193.0,850.0 m-1.1,0 a1.1,1.1 0 1,0 2.2,0 a1.1,1.1 0 1,0 -2.2,0 M190.0,858.0 m-1.1,0 a1.1,1.1 0 1,0 2.2,0 a1.1,1.1 0 1,0 -2.2,0 M190.0,898.0 m-1.1,0 a1.1,1.1 0 1,0 2.2,0 a1.1,1.1 0 1,0 -2.2,0 M193.0,912.0 m-1.1,0 a1.1,1.1 0 1,0 2.2,0 a1.1,1.1 0 1,0 -2.2,0 M193.0,988.0 m-1.1,0 a1.1,1.1 0 1,0 2.2,0 a1.1,1.1 0 1,0 -2.2,0 M190.0,1012.0 m-1.1,0 a1.1,1.1 0 1,0 2.2,0 a1.1,1.1 0 1,0 -2.2,0 M190.0,1140.0 m-1.1,0 a1.1,1.1 0 1,0 2.2,0 a1.1,1.1 0 1,0 -2.2,0 M193.0,1189.0 m-1.1,0 a1.1,1.1 0 1,0 2.2,0 a1.1,1.1 0 1,0 -2.2,0 M200.0,858.0 m-1.1,0 a1.1,1.1 0 1,0 2.2,0 a1.1,1.1 0 1,0 -2.2,0 M203.0,866.0 m-1.1,0 a1.1,1.1 0 1,0 2.2,0 a1.1,1.1 0 1,0 -2.2,0 M203.0,912.0 m-1.1,0 a1.1,1.1 0 1,0 2.2,0 a1.1,1.1 0 1,0 -2.2,0 M200.0,928.0 m-1.1,0 a1.1,1.1 0 1,0 2.2,0 a1.1,1.1 0 1,0 -2.2,0 M200.0,1012.0 m-1.1,0 a1.1,1.1 0 1,0 2.2,0 a1.1,1.1 0 1,0 -2.2,0 M203.0,1040.0 m-1.1,0 a1.1,1.1 0 1,0 2.2,0 a1.1,1.1 0 1,0 -2.2,0 M203.0,1189.0 m-1.1,0 a1.1,1.1 0 1,0 2.2,0 a1.1,1.1 0 1,0 -2.2,0 M219.0,866.0 m-1.1,0 a1.1,1.1 0 1,0 2.2,0 a1.1,1.1 0 1,0 -2.2,0 M216.0,875.0 m-1.1,0 a1.1,1.1 0 1,0 2.2,0 a1.1,1.1 0 1,0 -2.2,0 M216.0,928.0 m-1.1,0 a1.1,1.1 0 1,0 2.2,0 a1.1,1.1 0 1,0 -2.2,0 M219.0,946.0 m-1.1,0 a1.1,1.1 0 1,0 2.2,0 a1.1,1.1 0 1,0 -2.2,0 M219.0,1040.0 m-1.1,0 a1.1,1.1 0 1,0 2.2,0 a1.1,1.1 0 1,0 -2.2,0 M216.0,1070.0 m-1.1,0 a1.1,1.1 0 1,0 2.2,0 a1.1,1.1 0 1,0 -2.2,0 M230.0,842.0 m-1.1,0 a1.1,1.1 0 1,0 2.2,0 a1.1,1.1 0 1,0 -2.2,0 M230.0,875.0 m-1.1,0 a1.1,1.1 0 1,0 2.2,0 a1.1,1.1 0 1,0 -2.2,0 M233.0,886.0 m-1.1,0 a1.1,1.1 0 1,0 2.2,0 a1.1,1.1 0 1,0 -2.2,0 M233.0,946.0 m-1.1,0 a1.1,1.1 0 1,0 2.2,0 a1.1,1.1 0 1,0 -2.2,0 M230.0,966.0 m-1.1,0 a1.1,1.1 0 1,0 2.2,0 a1.1,1.1 0 1,0 -2.2,0 M230.0,1070.0 m-1.1,0 a1.1,1.1 0 1,0 2.2,0 a1.1,1.1 0 1,0 -2.2,0 M233.0,1102.0 m-1.1,0 a1.1,1.1 0 1,0 2.2,0 a1.1,1.1 0 1,0 -2.2,0 M242.0,842.0 m-1.1,0 a1.1,1.1 0 1,0 2.2,0 a1.1,1.1 0 1,0 -2.2,0 M245.0,850.0 m-1.1,0 a1.1,1.1 0 1,0 2.2,0 a1.1,1.1 0 1,0 -2.2,0 M245.0,886.0 m-1.1,0 a1.1,1.1 0 1,0 2.2,0 a1.1,1.1 0 1,0 -2.2,0 M242.0,898.0 m-1.1,0 a1.1,1.1 0 1,0 2.2,0 a1.1,1.1 0 1,0 -2.2,0 M242.0,966.0 m-1.1,0 a1.1,1.1 0 1,0 2.2,0 a1.1,1.1 0 1,0 -2.2,0 M245.0,988.0 m-1.1,0 a1.1,1.1 0 1,0 2.2,0 a1.1,1.1 0 1,0 -2.2,0 M245.0,1102.0 m-1.1,0 a1.1,1.1 0 1,0 2.2,0 a1.1,1.1 0 1,0 -2.2,0 M242.0,1140.0 m-1.1,0 a1.1,1.1 0 1,0 2.2,0 a1.1,1.1 0 1,0 -2.2,0 M263.0,850.0 m-1.1,0 a1.1,1.1 0 1,0 2.2,0 a1.1,1.1 0 1,0 -2.2,0 M260.0,858.0 m-1.1,0 a1.1,1.1 0 1,0 2.2,0 a1.1,1.1 0 1,0 -2.2,0 M260.0,898.0 m-1.1,0 a1.1,1.1 0 1,0 2.2,0 a1.1,1.1 0 1,0 -2.2,0 M263.0,912.0 m-1.1,0 a1.1,1.1 0 1,0 2.2,0 a1.1,1.1 0 1,0 -2.2,0 M263.0,988.0 m-1.1,0 a1.1,1.1 0 1,0 2.2,0 a1.1,1.1 0 1,0 -2.2,0 M260.0,1012.0 m-1.1,0 a1.1,1.1 0 1,0 2.2,0 a1.1,1.1 0 1,0 -2.2,0 M260.0,1140.0 m-1.1,0 a1.1,1.1 0 1,0 2.2,0 a1.1,1.1 0 1,0 -2.2,0 M263.0,1189.0 m-1.1,0 a1.1,1.1 0 1,0 2.2,0 a1.1,1.1 0 1,0 -2.2,0 M271.0,858.0 m-1.1,0 a1.1,1.1 0 1,0 2.2,0 a1.1,1.1 0 1,0 -2.2,0 M274.0,866.0 m-1.1,0 a1.1,1.1 0 1,0 2.2,0 a1.1,1.1 0 1,0 -2.2,0 M274.0,912.0 m-1.1,0 a1.1,1.1 0 1,0 2.2,0 a1.1,1.1 0 1,0 -2.2,0 M271.0,928.0 m-1.1,0 a1.1,1.1 0 1,0 2.2,0 a1.1,1.1 0 1,0 -2.2,0 M271.0,1012.0 m-1.1,0 a1.1,1.1 0 1,0 2.2,0 a1.1,1.1 0 1,0 -2.2,0 M274.0,1040.0 m-1.1,0 a1.1,1.1 0 1,0 2.2,0 a1.1,1.1 0 1,0 -2.2,0 M274.0,1189.0 m-1.1,0 a1.1,1.1 0 1,0 2.2,0 a1.1,1.1 0 1,0 -2.2,0 M287.0,866.0 m-1.1,0 a1.1,1.1 0 1,0 2.2,0 a1.1,1.1 0 1,0 -2.2,0 M284.0,875.0 m-1.1,0 a1.1,1.1 0 1,0 2.2,0 a1.1,1.1 0 1,0 -2.2,0 M284.0,928.0 m-1.1,0 a1.1,1.1 0 1,0 2.2,0 a1.1,1.1 0 1,0 -2.2,0 M287.0,946.0 m-1.1,0 a1.1,1.1 0 1,0 2.2,0 a1.1,1.1 0 1,0 -2.2,0 M287.0,1040.0 m-1.1,0 a1.1,1.1 0 1,0 2.2,0 a1.1,1.1 0 1,0 -2.2,0 M284.0,1070.0 m-1.1,0 a1.1,1.1 0 1,0 2.2,0 a1.1,1.1 0 1,0 -2.2,0 M296.0,842.0 m-1.1,0 a1.1,1.1 0 1,0 2.2,0 a1.1,1.1 0 1,0 -2.2,0 M296.0,875.0 m-1.1,0 a1.1,1.1 0 1,0 2.2,0 a1.1,1.1 0 1,0 -2.2,0 M299.0,886.0 m-1.1,0 a1.1,1.1 0 1,0 2.2,0 a1.1,1.1 0 1,0 -2.2,0 M299.0,946.0 m-1.1,0 a1.1,1.1 0 1,0 2.2,0 a1.1,1.1 0 1,0 -2.2,0 M296.0,966.0 m-1.1,0 a1.1,1.1 0 1,0 2.2,0 a1.1,1.1 0 1,0 -2.2,0 M296.0,1070.0 m-1.1,0 a1.1,1.1 0 1,0 2.2,0 a1.1,1.1 0 1,0 -2.2,0 M299.0,1102.0 m-1.1,0 a1.1,1.1 0 1,0 2.2,0 a1.1,1.1 0 1,0 -2.2,0 M311.0,842.0 m-1.1,0 a1.1,1.1 0 1,0 2.2,0 a1.1,1.1 0 1,0 -2.2,0 M314.0,850.0 m-1.1,0 a1.1,1.1 0 1,0 2.2,0 a1.1,1.1 0 1,0 -2.2,0 M314.0,886.0 m-1.1,0 a1.1,1.1 0 1,0 2.2,0 a1.1,1.1 0 1,0 -2.2,0 M311.0,898.0 m-1.1,0 a1.1,1.1 0 1,0 2.2,0 a1.1,1.1 0 1,0 -2.2,0 M311.0,966.0 m-1.1,0 a1.1,1.1 0 1,0 2.2,0 a1.1,1.1 0 1,0 -2.2,0 M314.0,988.0 m-1.1,0 a1.1,1.1 0 1,0 2.2,0 a1.1,1.1 0 1,0 -2.2,0 M314.0,1102.0 m-1.1,0 a1.1,1.1 0 1,0 2.2,0 a1.1,1.1 0 1,0 -2.2,0 M311.0,1140.0 m-1.1,0 a1.1,1.1 0 1,0 2.2,0 a1.1,1.1 0 1,0 -2.2,0 M325.0,850.0 m-1.1,0 a1.1,1.1 0 1,0 2.2,0 a1.1,1.1 0 1,0 -2.2,0 M322.0,858.0 m-1.1,0 a1.1,1.1 0 1,0 2.2,0 a1.1,1.1 0 1,0 -2.2,0 M322.0,898.0 m-1.1,0 a1.1,1.1 0 1,0 2.2,0 a1.1,1.1 0 1,0 -2.2,0 M325.0,912.0 m-1.1,0 a1.1,1.1 0 1,0 2.2,0 a1.1,1.1 0 1,0 -2.2,0 M325.0,988.0 m-1.1,0 a1.1,1.1 0 1,0 2.2,0 a1.1,1.1 0 1,0 -2.2,0 M322.0,1012.0 m-1.1,0 a1.1,1.1 0 1,0 2.2,0 a1.1,1.1 0 1,0 -2.2,0 M322.0,1140.0 m-1.1,0 a1.1,1.1 0 1,0 2.2,0 a1.1,1.1 0 1,0 -2.2,0 M325.0,1189.0 m-1.1,0 a1.1,1.1 0 1,0 2.2,0 a1.1,1.1 0 1,0 -2.2,0 M339.0,858.0 m-1.1,0 a1.1,1.1 0 1,0 2.2,0 a1.1,1.1 0 1,0 -2.2,0 M342.0,866.0 m-1.1,0 a1.1,1.1 0 1,0 2.2,0 a1.1,1.1 0 1,0 -2.2,0 M342.0,912.0 m-1.1,0 a1.1,1.1 0 1,0 2.2,0 a1.1,1.1 0 1,0 -2.2,0 M339.0,928.0 m-1.1,0 a1.1,1.1 0 1,0 2.2,0 a1.1,1.1 0 1,0 -2.2,0 M339.0,1012.0 m-1.1,0 a1.1,1.1 0 1,0 2.2,0 a1.1,1.1 0 1,0 -2.2,0 M342.0,1040.0 m-1.1,0 a1.1,1.1 0 1,0 2.2,0 a1.1,1.1 0 1,0 -2.2,0 M342.0,1189.0 m-1.1,0 a1.1,1.1 0 1,0 2.2,0 a1.1,1.1 0 1,0 -2.2,0 M355.0,866.0 m-1.1,0 a1.1,1.1 0 1,0 2.2,0 a1.1,1.1 0 1,0 -2.2,0 M352.0,875.0 m-1.1,0 a1.1,1.1 0 1,0 2.2,0 a1.1,1.1 0 1,0 -2.2,0 M352.0,928.0 m-1.1,0 a1.1,1.1 0 1,0 2.2,0 a1.1,1.1 0 1,0 -2.2,0 M355.0,946.0 m-1.1,0 a1.1,1.1 0 1,0 2.2,0 a1.1,1.1 0 1,0 -2.2,0 M355.0,1040.0 m-1.1,0 a1.1,1.1 0 1,0 2.2,0 a1.1,1.1 0 1,0 -2.2,0 M352.0,1070.0 m-1.1,0 a1.1,1.1 0 1,0 2.2,0 a1.1,1.1 0 1,0 -2.2,0 M362.0,842.0 m-1.1,0 a1.1,1.1 0 1,0 2.2,0 a1.1,1.1 0 1,0 -2.2,0 M362.0,875.0 m-1.1,0 a1.1,1.1 0 1,0 2.2,0 a1.1,1.1 0 1,0 -2.2,0 M365.0,886.0 m-1.1,0 a1.1,1.1 0 1,0 2.2,0 a1.1,1.1 0 1,0 -2.2,0 M365.0,946.0 m-1.1,0 a1.1,1.1 0 1,0 2.2,0 a1.1,1.1 0 1,0 -2.2,0 M362.0,966.0 m-1.1,0 a1.1,1.1 0 1,0 2.2,0 a1.1,1.1 0 1,0 -2.2,0 M362.0,1070.0 m-1.1,0 a1.1,1.1 0 1,0 2.2,0 a1.1,1.1 0 1,0 -2.2,0 M365.0,1102.0 m-1.1,0 a1.1,1.1 0 1,0 2.2,0 a1.1,1.1 0 1,0 -2.2,0 M378.0,842.0 m-1.1,0 a1.1,1.1 0 1,0 2.2,0 a1.1,1.1 0 1,0 -2.2,0 M381.0,850.0 m-1.1,0 a1.1,1.1 0 1,0 2.2,0 a1.1,1.1 0 1,0 -2.2,0 M381.0,886.0 m-1.1,0 a1.1,1.1 0 1,0 2.2,0 a1.1,1.1 0 1,0 -2.2,0 M378.0,898.0 m-1.1,0 a1.1,1.1 0 1,0 2.2,0 a1.1,1.1 0 1,0 -2.2,0 M378.0,966.0 m-1.1,0 a1.1,1.1 0 1,0 2.2,0 a1.1,1.1 0 1,0 -2.2,0 M381.0,988.0 m-1.1,0 a1.1,1.1 0 1,0 2.2,0 a1.1,1.1 0 1,0 -2.2,0 M381.0,1102.0 m-1.1,0 a1.1,1.1 0 1,0 2.2,0 a1.1,1.1 0 1,0 -2.2,0 M378.0,1140.0 m-1.1,0 a1.1,1.1 0 1,0 2.2,0 a1.1,1.1 0 1,0 -2.2,0 M395.0,850.0 m-1.1,0 a1.1,1.1 0 1,0 2.2,0 a1.1,1.1 0 1,0 -2.2,0 M392.0,858.0 m-1.1,0 a1.1,1.1 0 1,0 2.2,0 a1.1,1.1 0 1,0 -2.2,0 M392.0,898.0 m-1.1,0 a1.1,1.1 0 1,0 2.2,0 a1.1,1.1 0 1,0 -2.2,0 M395.0,912.0 m-1.1,0 a1.1,1.1 0 1,0 2.2,0 a1.1,1.1 0 1,0 -2.2,0 M395.0,988.0 m-1.1,0 a1.1,1.1 0 1,0 2.2,0 a1.1,1.1 0 1,0 -2.2,0 M392.0,1012.0 m-1.1,0 a1.1,1.1 0 1,0 2.2,0 a1.1,1.1 0 1,0 -2.2,0 M392.0,1140.0 m-1.1,0 a1.1,1.1 0 1,0 2.2,0 a1.1,1.1 0 1,0 -2.2,0 M395.0,1189.0 m-1.1,0 a1.1,1.1 0 1,0 2.2,0 a1.1,1.1 0 1,0 -2.2,0 M404.0,858.0 m-1.1,0 a1.1,1.1 0 1,0 2.2,0 a1.1,1.1 0 1,0 -2.2,0 M407.0,866.0 m-1.1,0 a1.1,1.1 0 1,0 2.2,0 a1.1,1.1 0 1,0 -2.2,0 M407.0,912.0 m-1.1,0 a1.1,1.1 0 1,0 2.2,0 a1.1,1.1 0 1,0 -2.2,0 M404.0,928.0 m-1.1,0 a1.1,1.1 0 1,0 2.2,0 a1.1,1.1 0 1,0 -2.2,0 M404.0,1012.0 m-1.1,0 a1.1,1.1 0 1,0 2.2,0 a1.1,1.1 0 1,0 -2.2,0 M407.0,1040.0 m-1.1,0 a1.1,1.1 0 1,0 2.2,0 a1.1,1.1 0 1,0 -2.2,0 M407.0,1189.0 m-1.1,0 a1.1,1.1 0 1,0 2.2,0 a1.1,1.1 0 1,0 -2.2,0 M425.0,866.0 m-1.1,0 a1.1,1.1 0 1,0 2.2,0 a1.1,1.1 0 1,0 -2.2,0 M422.0,875.0 m-1.1,0 a1.1,1.1 0 1,0 2.2,0 a1.1,1.1 0 1,0 -2.2,0 M422.0,928.0 m-1.1,0 a1.1,1.1 0 1,0 2.2,0 a1.1,1.1 0 1,0 -2.2,0 M425.0,946.0 m-1.1,0 a1.1,1.1 0 1,0 2.2,0 a1.1,1.1 0 1,0 -2.2,0 M425.0,1040.0 m-1.1,0 a1.1,1.1 0 1,0 2.2,0 a1.1,1.1 0 1,0 -2.2,0 M422.0,1070.0 m-1.1,0 a1.1,1.1 0 1,0 2.2,0 a1.1,1.1 0 1,0 -2.2,0 M433.0,842.0 m-1.1,0 a1.1,1.1 0 1,0 2.2,0 a1.1,1.1 0 1,0 -2.2,0 M433.0,875.0 m-1.1,0 a1.1,1.1 0 1,0 2.2,0 a1.1,1.1 0 1,0 -2.2,0 M436.0,886.0 m-1.1,0 a1.1,1.1 0 1,0 2.2,0 a1.1,1.1 0 1,0 -2.2,0 M436.0,946.0 m-1.1,0 a1.1,1.1 0 1,0 2.2,0 a1.1,1.1 0 1,0 -2.2,0 M433.0,966.0 m-1.1,0 a1.1,1.1 0 1,0 2.2,0 a1.1,1.1 0 1,0 -2.2,0 M433.0,1070.0 m-1.1,0 a1.1,1.1 0 1,0 2.2,0 a1.1,1.1 0 1,0 -2.2,0 M436.0,1102.0 m-1.1,0 a1.1,1.1 0 1,0 2.2,0 a1.1,1.1 0 1,0 -2.2,0 M446.0,842.0 m-1.1,0 a1.1,1.1 0 1,0 2.2,0 a1.1,1.1 0 1,0 -2.2,0 M449.0,850.0 m-1.1,0 a1.1,1.1 0 1,0 2.2,0 a1.1,1.1 0 1,0 -2.2,0 M449.0,886.0 m-1.1,0 a1.1,1.1 0 1,0 2.2,0 a1.1,1.1 0 1,0 -2.2,0 M446.0,898.0 m-1.1,0 a1.1,1.1 0 1,0 2.2,0 a1.1,1.1 0 1,0 -2.2,0 M446.0,966.0 m-1.1,0 a1.1,1.1 0 1,0 2.2,0 a1.1,1.1 0 1,0 -2.2,0 M449.0,988.0 m-1.1,0 a1.1,1.1 0 1,0 2.2,0 a1.1,1.1 0 1,0 -2.2,0 M449.0,1102.0 m-1.1,0 a1.1,1.1 0 1,0 2.2,0 a1.1,1.1 0 1,0 -2.2,0 M446.0,1140.0 m-1.1,0 a1.1,1.1 0 1,0 2.2,0 a1.1,1.1 0 1,0 -2.2,0 M461.0,850.0 m-1.1,0 a1.1,1.1 0 1,0 2.2,0 a1.1,1.1 0 1,0 -2.2,0 M458.0,858.0 m-1.1,0 a1.1,1.1 0 1,0 2.2,0 a1.1,1.1 0 1,0 -2.2,0 M458.0,898.0 m-1.1,0 a1.1,1.1 0 1,0 2.2,0 a1.1,1.1 0 1,0 -2.2,0 M461.0,912.0 m-1.1,0 a1.1,1.1 0 1,0 2.2,0 a1.1,1.1 0 1,0 -2.2,0 M461.0,988.0 m-1.1,0 a1.1,1.1 0 1,0 2.2,0 a1.1,1.1 0 1,0 -2.2,0 M458.0,1012.0 m-1.1,0 a1.1,1.1 0 1,0 2.2,0 a1.1,1.1 0 1,0 -2.2,0 M458.0,1140.0 m-1.1,0 a1.1,1.1 0 1,0 2.2,0 a1.1,1.1 0 1,0 -2.2,0 M461.0,1189.0 m-1.1,0 a1.1,1.1 0 1,0 2.2,0 a1.1,1.1 0 1,0 -2.2,0 M473.0,858.0 m-1.1,0 a1.1,1.1 0 1,0 2.2,0 a1.1,1.1 0 1,0 -2.2,0 M476.0,866.0 m-1.1,0 a1.1,1.1 0 1,0 2.2,0 a1.1,1.1 0 1,0 -2.2,0 M476.0,912.0 m-1.1,0 a1.1,1.1 0 1,0 2.2,0 a1.1,1.1 0 1,0 -2.2,0 M473.0,928.0 m-1.1,0 a1.1,1.1 0 1,0 2.2,0 a1.1,1.1 0 1,0 -2.2,0 M473.0,1012.0 m-1.1,0 a1.1,1.1 0 1,0 2.2,0 a1.1,1.1 0 1,0 -2.2,0 M476.0,1040.0 m-1.1,0 a1.1,1.1 0 1,0 2.2,0 a1.1,1.1 0 1,0 -2.2,0 M476.0,1189.0 m-1.1,0 a1.1,1.1 0 1,0 2.2,0 a1.1,1.1 0 1,0 -2.2,0 M487.0,866.0 m-1.1,0 a1.1,1.1 0 1,0 2.2,0 a1.1,1.1 0 1,0 -2.2,0 M484.0,875.0 m-1.1,0 a1.1,1.1 0 1,0 2.2,0 a1.1,1.1 0 1,0 -2.2,0 M484.0,928.0 m-1.1,0 a1.1,1.1 0 1,0 2.2,0 a1.1,1.1 0 1,0 -2.2,0 M487.0,946.0 m-1.1,0 a1.1,1.1 0 1,0 2.2,0 a1.1,1.1 0 1,0 -2.2,0 M487.0,1040.0 m-1.1,0 a1.1,1.1 0 1,0 2.2,0 a1.1,1.1 0 1,0 -2.2,0 M484.0,1070.0 m-1.1,0 a1.1,1.1 0 1,0 2.2,0 a1.1,1.1 0 1,0 -2.2,0 M501.0,842.0 m-1.1,0 a1.1,1.1 0 1,0 2.2,0 a1.1,1.1 0 1,0 -2.2,0 M501.0,875.0 m-1.1,0 a1.1,1.1 0 1,0 2.2,0 a1.1,1.1 0 1,0 -2.2,0 M504.0,886.0 m-1.1,0 a1.1,1.1 0 1,0 2.2,0 a1.1,1.1 0 1,0 -2.2,0 M504.0,946.0 m-1.1,0 a1.1,1.1 0 1,0 2.2,0 a1.1,1.1 0 1,0 -2.2,0 M501.0,966.0 m-1.1,0 a1.1,1.1 0 1,0 2.2,0 a1.1,1.1 0 1,0 -2.2,0 M501.0,1070.0 m-1.1,0 a1.1,1.1 0 1,0 2.2,0 a1.1,1.1 0 1,0 -2.2,0 M504.0,1102.0 m-1.1,0 a1.1,1.1 0 1,0 2.2,0 a1.1,1.1 0 1,0 -2.2,0 M514.0,842.0 m-1.1,0 a1.1,1.1 0 1,0 2.2,0 a1.1,1.1 0 1,0 -2.2,0 M517.0,850.0 m-1.1,0 a1.1,1.1 0 1,0 2.2,0 a1.1,1.1 0 1,0 -2.2,0 M517.0,886.0 m-1.1,0 a1.1,1.1 0 1,0 2.2,0 a1.1,1.1 0 1,0 -2.2,0 M514.0,898.0 m-1.1,0 a1.1,1.1 0 1,0 2.2,0 a1.1,1.1 0 1,0 -2.2,0 M514.0,966.0 m-1.1,0 a1.1,1.1 0 1,0 2.2,0 a1.1,1.1 0 1,0 -2.2,0 M517.0,988.0 m-1.1,0 a1.1,1.1 0 1,0 2.2,0 a1.1,1.1 0 1,0 -2.2,0 M517.0,1102.0 m-1.1,0 a1.1,1.1 0 1,0 2.2,0 a1.1,1.1 0 1,0 -2.2,0 M514.0,1140.0 m-1.1,0 a1.1,1.1 0 1,0 2.2,0 a1.1,1.1 0 1,0 -2.2,0 M527.0,850.0 m-1.1,0 a1.1,1.1 0 1,0 2.2,0 a1.1,1.1 0 1,0 -2.2,0 M524.0,858.0 m-1.1,0 a1.1,1.1 0 1,0 2.2,0 a1.1,1.1 0 1,0 -2.2,0 M524.0,898.0 m-1.1,0 a1.1,1.1 0 1,0 2.2,0 a1.1,1.1 0 1,0 -2.2,0 M527.0,912.0 m-1.1,0 a1.1,1.1 0 1,0 2.2,0 a1.1,1.1 0 1,0 -2.2,0 M527.0,988.0 m-1.1,0 a1.1,1.1 0 1,0 2.2,0 a1.1,1.1 0 1,0 -2.2,0 M524.0,1012.0 m-1.1,0 a1.1,1.1 0 1,0 2.2,0 a1.1,1.1 0 1,0 -2.2,0 M524.0,1140.0 m-1.1,0 a1.1,1.1 0 1,0 2.2,0 a1.1,1.1 0 1,0 -2.2,0 M527.0,1189.0 m-1.1,0 a1.1,1.1 0 1,0 2.2,0 a1.1,1.1 0 1,0 -2.2,0 M540.0,858.0 m-1.1,0 a1.1,1.1 0 1,0 2.2,0 a1.1,1.1 0 1,0 -2.2,0 M543.0,866.0 m-1.1,0 a1.1,1.1 0 1,0 2.2,0 a1.1,1.1 0 1,0 -2.2,0 M543.0,912.0 m-1.1,0 a1.1,1.1 0 1,0 2.2,0 a1.1,1.1 0 1,0 -2.2,0 M540.0,928.0 m-1.1,0 a1.1,1.1 0 1,0 2.2,0 a1.1,1.1 0 1,0 -2.2,0 M540.0,1012.0 m-1.1,0 a1.1,1.1 0 1,0 2.2,0 a1.1,1.1 0 1,0 -2.2,0 M543.0,1040.0 m-1.1,0 a1.1,1.1 0 1,0 2.2,0 a1.1,1.1 0 1,0 -2.2,0 M543.0,1189.0 m-1.1,0 a1.1,1.1 0 1,0 2.2,0 a1.1,1.1 0 1,0 -2.2,0 M557.0,866.0 m-1.1,0 a1.1,1.1 0 1,0 2.2,0 a1.1,1.1 0 1,0 -2.2,0 M554.0,875.0 m-1.1,0 a1.1,1.1 0 1,0 2.2,0 a1.1,1.1 0 1,0 -2.2,0 M554.0,928.0 m-1.1,0 a1.1,1.1 0 1,0 2.2,0 a1.1,1.1 0 1,0 -2.2,0 M557.0,946.0 m-1.1,0 a1.1,1.1 0 1,0 2.2,0 a1.1,1.1 0 1,0 -2.2,0 M557.0,1040.0 m-1.1,0 a1.1,1.1 0 1,0 2.2,0 a1.1,1.1 0 1,0 -2.2,0 M554.0,1070.0 m-1.1,0 a1.1,1.1 0 1,0 2.2,0 a1.1,1.1 0 1,0 -2.2,0 M566.0,842.0 m-1.1,0 a1.1,1.1 0 1,0 2.2,0 a1.1,1.1 0 1,0 -2.2,0 M566.0,875.0 m-1.1,0 a1.1,1.1 0 1,0 2.2,0 a1.1,1.1 0 1,0 -2.2,0 M569.0,886.0 m-1.1,0 a1.1,1.1 0 1,0 2.2,0 a1.1,1.1 0 1,0 -2.2,0 M569.0,946.0 m-1.1,0 a1.1,1.1 0 1,0 2.2,0 a1.1,1.1 0 1,0 -2.2,0 M566.0,966.0 m-1.1,0 a1.1,1.1 0 1,0 2.2,0 a1.1,1.1 0 1,0 -2.2,0 M566.0,1070.0 m-1.1,0 a1.1,1.1 0 1,0 2.2,0 a1.1,1.1 0 1,0 -2.2,0 M569.0,1102.0 m-1.1,0 a1.1,1.1 0 1,0 2.2,0 a1.1,1.1 0 1,0 -2.2,0 M584.0,842.0 m-1.1,0 a1.1,1.1 0 1,0 2.2,0 a1.1,1.1 0 1,0 -2.2,0 M587.0,850.0 m-1.1,0 a1.1,1.1 0 1,0 2.2,0 a1.1,1.1 0 1,0 -2.2,0 M587.0,886.0 m-1.1,0 a1.1,1.1 0 1,0 2.2,0 a1.1,1.1 0 1,0 -2.2,0 M584.0,898.0 m-1.1,0 a1.1,1.1 0 1,0 2.2,0 a1.1,1.1 0 1,0 -2.2,0 M584.0,966.0 m-1.1,0 a1.1,1.1 0 1,0 2.2,0 a1.1,1.1 0 1,0 -2.2,0 M587.0,988.0 m-1.1,0 a1.1,1.1 0 1,0 2.2,0 a1.1,1.1 0 1,0 -2.2,0 M587.0,1102.0 m-1.1,0 a1.1,1.1 0 1,0 2.2,0 a1.1,1.1 0 1,0 -2.2,0 M584.0,1140.0 m-1.1,0 a1.1,1.1 0 1,0 2.2,0 a1.1,1.1 0 1,0 -2.2,0 M598.0,850.0 m-1.1,0 a1.1,1.1 0 1,0 2.2,0 a1.1,1.1 0 1,0 -2.2,0 M595.0,858.0 m-1.1,0 a1.1,1.1 0 1,0 2.2,0 a1.1,1.1 0 1,0 -2.2,0 M595.0,898.0 m-1.1,0 a1.1,1.1 0 1,0 2.2,0 a1.1,1.1 0 1,0 -2.2,0 M598.0,912.0 m-1.1,0 a1.1,1.1 0 1,0 2.2,0 a1.1,1.1 0 1,0 -2.2,0 M598.0,988.0 m-1.1,0 a1.1,1.1 0 1,0 2.2,0 a1.1,1.1 0 1,0 -2.2,0 M595.0,1012.0 m-1.1,0 a1.1,1.1 0 1,0 2.2,0 a1.1,1.1 0 1,0 -2.2,0 M595.0,1140.0 m-1.1,0 a1.1,1.1 0 1,0 2.2,0 a1.1,1.1 0 1,0 -2.2,0 M598.0,1189.0 m-1.1,0 a1.1,1.1 0 1,0 2.2,0 a1.1,1.1 0 1,0 -2.2,0 M608.0,858.0 m-1.1,0 a1.1,1.1 0 1,0 2.2,0 a1.1,1.1 0 1,0 -2.2,0 M611.0,866.0 m-1.1,0 a1.1,1.1 0 1,0 2.2,0 a1.1,1.1 0 1,0 -2.2,0 M611.0,912.0 m-1.1,0 a1.1,1.1 0 1,0 2.2,0 a1.1,1.1 0 1,0 -2.2,0 M608.0,928.0 m-1.1,0 a1.1,1.1 0 1,0 2.2,0 a1.1,1.1 0 1,0 -2.2,0 M608.0,1012.0 m-1.1,0 a1.1,1.1 0 1,0 2.2,0 a1.1,1.1 0 1,0 -2.2,0 M611.0,1040.0 m-1.1,0 a1.1,1.1 0 1,0 2.2,0 a1.1,1.1 0 1,0 -2.2,0 M611.0,1189.0 m-1.1,0 a1.1,1.1 0 1,0 2.2,0 a1.1,1.1 0 1,0 -2.2,0 M623.0,866.0 m-1.1,0 a1.1,1.1 0 1,0 2.2,0 a1.1,1.1 0 1,0 -2.2,0 M620.0,875.0 m-1.1,0 a1.1,1.1 0 1,0 2.2,0 a1.1,1.1 0 1,0 -2.2,0 M620.0,928.0 m-1.1,0 a1.1,1.1 0 1,0 2.2,0 a1.1,1.1 0 1,0 -2.2,0 M623.0,946.0 m-1.1,0 a1.1,1.1 0 1,0 2.2,0 a1.1,1.1 0 1,0 -2.2,0 M623.0,1040.0 m-1.1,0 a1.1,1.1 0 1,0 2.2,0 a1.1,1.1 0 1,0 -2.2,0 M620.0,1070.0 m-1.1,0 a1.1,1.1 0 1,0 2.2,0 a1.1,1.1 0 1,0 -2.2,0 M635.0,842.0 m-1.1,0 a1.1,1.1 0 1,0 2.2,0 a1.1,1.1 0 1,0 -2.2,0 M635.0,875.0 m-1.1,0 a1.1,1.1 0 1,0 2.2,0 a1.1,1.1 0 1,0 -2.2,0 M638.0,886.0 m-1.1,0 a1.1,1.1 0 1,0 2.2,0 a1.1,1.1 0 1,0 -2.2,0 M638.0,946.0 m-1.1,0 a1.1,1.1 0 1,0 2.2,0 a1.1,1.1 0 1,0 -2.2,0 M635.0,966.0 m-1.1,0 a1.1,1.1 0 1,0 2.2,0 a1.1,1.1 0 1,0 -2.2,0 M635.0,1070.0 m-1.1,0 a1.1,1.1 0 1,0 2.2,0 a1.1,1.1 0 1,0 -2.2,0 M638.0,1102.0 m-1.1,0 a1.1,1.1 0 1,0 2.2,0 a1.1,1.1 0 1,0 -2.2,0 M646.0,842.0 m-1.1,0 a1.1,1.1 0 1,0 2.2,0 a1.1,1.1 0 1,0 -2.2,0 M649.0,850.0 m-1.1,0 a1.1,1.1 0 1,0 2.2,0 a1.1,1.1 0 1,0 -2.2,0 M649.0,886.0 m-1.1,0 a1.1,1.1 0 1,0 2.2,0 a1.1,1.1 0 1,0 -2.2,0 M646.0,898.0 m-1.1,0 a1.1,1.1 0 1,0 2.2,0 a1.1,1.1 0 1,0 -2.2,0 M646.0,966.0 m-1.1,0 a1.1,1.1 0 1,0 2.2,0 a1.1,1.1 0 1,0 -2.2,0 M649.0,988.0 m-1.1,0 a1.1,1.1 0 1,0 2.2,0 a1.1,1.1 0 1,0 -2.2,0 M649.0,1102.0 m-1.1,0 a1.1,1.1 0 1,0 2.2,0 a1.1,1.1 0 1,0 -2.2,0 M646.0,1140.0 m-1.1,0 a1.1,1.1 0 1,0 2.2,0 a1.1,1.1 0 1,0 -2.2,0 M666.0,850.0 m-1.1,0 a1.1,1.1 0 1,0 2.2,0 a1.1,1.1 0 1,0 -2.2,0 M663.0,858.0 m-1.1,0 a1.1,1.1 0 1,0 2.2,0 a1.1,1.1 0 1,0 -2.2,0 M663.0,898.0 m-1.1,0 a1.1,1.1 0 1,0 2.2,0 a1.1,1.1 0 1,0 -2.2,0 M666.0,912.0 m-1.1,0 a1.1,1.1 0 1,0 2.2,0 a1.1,1.1 0 1,0 -2.2,0 M666.0,988.0 m-1.1,0 a1.1,1.1 0 1,0 2.2,0 a1.1,1.1 0 1,0 -2.2,0 M663.0,1012.0 m-1.1,0 a1.1,1.1 0 1,0 2.2,0 a1.1,1.1 0 1,0 -2.2,0 M663.0,1140.0 m-1.1,0 a1.1,1.1 0 1,0 2.2,0 a1.1,1.1 0 1,0 -2.2,0 M666.0,1189.0 m-1.1,0 a1.1,1.1 0 1,0 2.2,0 a1.1,1.1 0 1,0 -2.2,0 M676.0,858.0 m-1.1,0 a1.1,1.1 0 1,0 2.2,0 a1.1,1.1 0 1,0 -2.2,0 M679.0,866.0 m-1.1,0 a1.1,1.1 0 1,0 2.2,0 a1.1,1.1 0 1,0 -2.2,0 M679.0,912.0 m-1.1,0 a1.1,1.1 0 1,0 2.2,0 a1.1,1.1 0 1,0 -2.2,0 M676.0,928.0 m-1.1,0 a1.1,1.1 0 1,0 2.2,0 a1.1,1.1 0 1,0 -2.2,0 M676.0,1012.0 m-1.1,0 a1.1,1.1 0 1,0 2.2,0 a1.1,1.1 0 1,0 -2.2,0 M679.0,1040.0 m-1.1,0 a1.1,1.1 0 1,0 2.2,0 a1.1,1.1 0 1,0 -2.2,0 M679.0,1189.0 m-1.1,0 a1.1,1.1 0 1,0 2.2,0 a1.1,1.1 0 1,0 -2.2,0 M689.0,866.0 m-1.1,0 a1.1,1.1 0 1,0 2.2,0 a1.1,1.1 0 1,0 -2.2,0 M686.0,875.0 m-1.1,0 a1.1,1.1 0 1,0 2.2,0 a1.1,1.1 0 1,0 -2.2,0 M686.0,928.0 m-1.1,0 a1.1,1.1 0 1,0 2.2,0 a1.1,1.1 0 1,0 -2.2,0 M689.0,946.0 m-1.1,0 a1.1,1.1 0 1,0 2.2,0 a1.1,1.1 0 1,0 -2.2,0 M689.0,1040.0 m-1.1,0 a1.1,1.1 0 1,0 2.2,0 a1.1,1.1 0 1,0 -2.2,0 M686.0,1070.0 m-1.1,0 a1.1,1.1 0 1,0 2.2,0 a1.1,1.1 0 1,0 -2.2,0 M702.0,842.0 m-1.1,0 a1.1,1.1 0 1,0 2.2,0 a1.1,1.1 0 1,0 -2.2,0 M702.0,875.0 m-1.1,0 a1.1,1.1 0 1,0 2.2,0 a1.1,1.1 0 1,0 -2.2,0 M705.0,886.0 m-1.1,0 a1.1,1.1 0 1,0 2.2,0 a1.1,1.1 0 1,0 -2.2,0 M705.0,946.0 m-1.1,0 a1.1,1.1 0 1,0 2.2,0 a1.1,1.1 0 1,0 -2.2,0 M702.0,966.0 m-1.1,0 a1.1,1.1 0 1,0 2.2,0 a1.1,1.1 0 1,0 -2.2,0 M702.0,1070.0 m-1.1,0 a1.1,1.1 0 1,0 2.2,0 a1.1,1.1 0 1,0 -2.2,0 M705.0,1102.0 m-1.1,0 a1.1,1.1 0 1,0 2.2,0 a1.1,1.1 0 1,0 -2.2,0 M716.0,842.0 m-1.1,0 a1.1,1.1 0 1,0 2.2,0 a1.1,1.1 0 1,0 -2.2,0 M719.0,850.0 m-1.1,0 a1.1,1.1 0 1,0 2.2,0 a1.1,1.1 0 1,0 -2.2,0 M719.0,886.0 m-1.1,0 a1.1,1.1 0 1,0 2.2,0 a1.1,1.1 0 1,0 -2.2,0 M716.0,898.0 m-1.1,0 a1.1,1.1 0 1,0 2.2,0 a1.1,1.1 0 1,0 -2.2,0 M716.0,966.0 m-1.1,0 a1.1,1.1 0 1,0 2.2,0 a1.1,1.1 0 1,0 -2.2,0 M719.0,988.0 m-1.1,0 a1.1,1.1 0 1,0 2.2,0 a1.1,1.1 0 1,0 -2.2,0 M719.0,1102.0 m-1.1,0 a1.1,1.1 0 1,0 2.2,0 a1.1,1.1 0 1,0 -2.2,0 M716.0,1140.0 m-1.1,0 a1.1,1.1 0 1,0 2.2,0 a1.1,1.1 0 1,0 -2.2,0 M731.0,850.0 m-1.1,0 a1.1,1.1 0 1,0 2.2,0 a1.1,1.1 0 1,0 -2.2,0 M728.0,858.0 m-1.1,0 a1.1,1.1 0 1,0 2.2,0 a1.1,1.1 0 1,0 -2.2,0 M728.0,898.0 m-1.1,0 a1.1,1.1 0 1,0 2.2,0 a1.1,1.1 0 1,0 -2.2,0 M731.0,912.0 m-1.1,0 a1.1,1.1 0 1,0 2.2,0 a1.1,1.1 0 1,0 -2.2,0 M731.0,988.0 m-1.1,0 a1.1,1.1 0 1,0 2.2,0 a1.1,1.1 0 1,0 -2.2,0 M728.0,1012.0 m-1.1,0 a1.1,1.1 0 1,0 2.2,0 a1.1,1.1 0 1,0 -2.2,0 M728.0,1140.0 m-1.1,0 a1.1,1.1 0 1,0 2.2,0 a1.1,1.1 0 1,0 -2.2,0 M731.0,1189.0 m-1.1,0 a1.1,1.1 0 1,0 2.2,0 a1.1,1.1 0 1,0 -2.2,0 M746.0,858.0 m-1.1,0 a1.1,1.1 0 1,0 2.2,0 a1.1,1.1 0 1,0 -2.2,0 M749.0,866.0 m-1.1,0 a1.1,1.1 0 1,0 2.2,0 a1.1,1.1 0 1,0 -2.2,0 M749.0,912.0 m-1.1,0 a1.1,1.1 0 1,0 2.2,0 a1.1,1.1 0 1,0 -2.2,0 M746.0,928.0 m-1.1,0 a1.1,1.1 0 1,0 2.2,0 a1.1,1.1 0 1,0 -2.2,0 M746.0,1012.0 m-1.1,0 a1.1,1.1 0 1,0 2.2,0 a1.1,1.1 0 1,0 -2.2,0 M749.0,1040.0 m-1.1,0 a1.1,1.1 0 1,0 2.2,0 a1.1,1.1 0 1,0 -2.2,0 M749.0,1189.0 m-1.1,0 a1.1,1.1 0 1,0 2.2,0 a1.1,1.1 0 1,0 -2.2,0 M760.0,866.0 m-1.1,0 a1.1,1.1 0 1,0 2.2,0 a1.1,1.1 0 1,0 -2.2,0 M757.0,875.0 m-1.1,0 a1.1,1.1 0 1,0 2.2,0 a1.1,1.1 0 1,0 -2.2,0 M757.0,928.0 m-1.1,0 a1.1,1.1 0 1,0 2.2,0 a1.1,1.1 0 1,0 -2.2,0 M760.0,946.0 m-1.1,0 a1.1,1.1 0 1,0 2.2,0 a1.1,1.1 0 1,0 -2.2,0 M760.0,1040.0 m-1.1,0 a1.1,1.1 0 1,0 2.2,0 a1.1,1.1 0 1,0 -2.2,0 M757.0,1070.0 m-1.1,0 a1.1,1.1 0 1,0 2.2,0 a1.1,1.1 0 1,0 -2.2,0 M770.0,842.0 m-1.1,0 a1.1,1.1 0 1,0 2.2,0 a1.1,1.1 0 1,0 -2.2,0 M770.0,875.0 m-1.1,0 a1.1,1.1 0 1,0 2.2,0 a1.1,1.1 0 1,0 -2.2,0 M773.0,886.0 m-1.1,0 a1.1,1.1 0 1,0 2.2,0 a1.1,1.1 0 1,0 -2.2,0 M773.0,946.0 m-1.1,0 a1.1,1.1 0 1,0 2.2,0 a1.1,1.1 0 1,0 -2.2,0 M770.0,966.0 m-1.1,0 a1.1,1.1 0 1,0 2.2,0 a1.1,1.1 0 1,0 -2.2,0 M770.0,1070.0 m-1.1,0 a1.1,1.1 0 1,0 2.2,0 a1.1,1.1 0 1,0 -2.2,0 M773.0,1102.0 m-1.1,0 a1.1,1.1 0 1,0 2.2,0 a1.1,1.1 0 1,0 -2.2,0 M782.0,842.0 m-1.1,0 a1.1,1.1 0 1,0 2.2,0 a1.1,1.1 0 1,0 -2.2,0 M785.0,850.0 m-1.1,0 a1.1,1.1 0 1,0 2.2,0 a1.1,1.1 0 1,0 -2.2,0 M785.0,886.0 m-1.1,0 a1.1,1.1 0 1,0 2.2,0 a1.1,1.1 0 1,0 -2.2,0 M782.0,898.0 m-1.1,0 a1.1,1.1 0 1,0 2.2,0 a1.1,1.1 0 1,0 -2.2,0 M782.0,966.0 m-1.1,0 a1.1,1.1 0 1,0 2.2,0 a1.1,1.1 0 1,0 -2.2,0 M785.0,988.0 m-1.1,0 a1.1,1.1 0 1,0 2.2,0 a1.1,1.1 0 1,0 -2.2,0 M785.0,1102.0 m-1.1,0 a1.1,1.1 0 1,0 2.2,0 a1.1,1.1 0 1,0 -2.2,0 M782.0,1140.0 m-1.1,0 a1.1,1.1 0 1,0 2.2,0 a1.1,1.1 0 1,0 -2.2,0 M800.0,850.0 m-1.1,0 a1.1,1.1 0 1,0 2.2,0 a1.1,1.1 0 1,0 -2.2,0 M797.0,858.0 m-1.1,0 a1.1,1.1 0 1,0 2.2,0 a1.1,1.1 0 1,0 -2.2,0 M797.0,898.0 m-1.1,0 a1.1,1.1 0 1,0 2.2,0 a1.1,1.1 0 1,0 -2.2,0 M800.0,912.0 m-1.1,0 a1.1,1.1 0 1,0 2.2,0 a1.1,1.1 0 1,0 -2.2,0 M800.0,988.0 m-1.1,0 a1.1,1.1 0 1,0 2.2,0 a1.1,1.1 0 1,0 -2.2,0 M797.0,1012.0 m-1.1,0 a1.1,1.1 0 1,0 2.2,0 a1.1,1.1 0 1,0 -2.2,0 M797.0,1140.0 m-1.1,0 a1.1,1.1 0 1,0 2.2,0 a1.1,1.1 0 1,0 -2.2,0 M800.0,1189.0 m-1.1,0 a1.1,1.1 0 1,0 2.2,0 a1.1,1.1 0 1,0 -2.2,0 M808.0,858.0 m-1.1,0 a1.1,1.1 0 1,0 2.2,0 a1.1,1.1 0 1,0 -2.2,0 M811.0,866.0 m-1.1,0 a1.1,1.1 0 1,0 2.2,0 a1.1,1.1 0 1,0 -2.2,0 M811.0,912.0 m-1.1,0 a1.1,1.1 0 1,0 2.2,0 a1.1,1.1 0 1,0 -2.2,0 M808.0,928.0 m-1.1,0 a1.1,1.1 0 1,0 2.2,0 a1.1,1.1 0 1,0 -2.2,0 M808.0,1012.0 m-1.1,0 a1.1,1.1 0 1,0 2.2,0 a1.1,1.1 0 1,0 -2.2,0 M811.0,1040.0 m-1.1,0 a1.1,1.1 0 1,0 2.2,0 a1.1,1.1 0 1,0 -2.2,0 M811.0,1189.0 m-1.1,0 a1.1,1.1 0 1,0 2.2,0 a1.1,1.1 0 1,0 -2.2,0 M828.0,866.0 m-1.1,0 a1.1,1.1 0 1,0 2.2,0 a1.1,1.1 0 1,0 -2.2,0 M825.0,875.0 m-1.1,0 a1.1,1.1 0 1,0 2.2,0 a1.1,1.1 0 1,0 -2.2,0 M825.0,928.0 m-1.1,0 a1.1,1.1 0 1,0 2.2,0 a1.1,1.1 0 1,0 -2.2,0 M828.0,946.0 m-1.1,0 a1.1,1.1 0 1,0 2.2,0 a1.1,1.1 0 1,0 -2.2,0 M828.0,1040.0 m-1.1,0 a1.1,1.1 0 1,0 2.2,0 a1.1,1.1 0 1,0 -2.2,0 M825.0,1070.0 m-1.1,0 a1.1,1.1 0 1,0 2.2,0 a1.1,1.1 0 1,0 -2.2,0 M838.0,842.0 m-1.1,0 a1.1,1.1 0 1,0 2.2,0 a1.1,1.1 0 1,0 -2.2,0 M838.0,875.0 m-1.1,0 a1.1,1.1 0 1,0 2.2,0 a1.1,1.1 0 1,0 -2.2,0 M841.0,886.0 m-1.1,0 a1.1,1.1 0 1,0 2.2,0 a1.1,1.1 0 1,0 -2.2,0 M841.0,946.0 m-1.1,0 a1.1,1.1 0 1,0 2.2,0 a1.1,1.1 0 1,0 -2.2,0 M838.0,966.0 m-1.1,0 a1.1,1.1 0 1,0 2.2,0 a1.1,1.1 0 1,0 -2.2,0 M838.0,1070.0 m-1.1,0 a1.1,1.1 0 1,0 2.2,0 a1.1,1.1 0 1,0 -2.2,0 M841.0,1102.0 m-1.1,0 a1.1,1.1 0 1,0 2.2,0 a1.1,1.1 0 1,0 -2.2,0 M848.0,842.0 m-1.1,0 a1.1,1.1 0 1,0 2.2,0 a1.1,1.1 0 1,0 -2.2,0 M851.0,850.0 m-1.1,0 a1.1,1.1 0 1,0 2.2,0 a1.1,1.1 0 1,0 -2.2,0 M851.0,886.0 m-1.1,0 a1.1,1.1 0 1,0 2.2,0 a1.1,1.1 0 1,0 -2.2,0 M848.0,898.0 m-1.1,0 a1.1,1.1 0 1,0 2.2,0 a1.1,1.1 0 1,0 -2.2,0 M848.0,966.0 m-1.1,0 a1.1,1.1 0 1,0 2.2,0 a1.1,1.1 0 1,0 -2.2,0 M851.0,988.0 m-1.1,0 a1.1,1.1 0 1,0 2.2,0 a1.1,1.1 0 1,0 -2.2,0 M851.0,1102.0 m-1.1,0 a1.1,1.1 0 1,0 2.2,0 a1.1,1.1 0 1,0 -2.2,0 M848.0,1140.0 m-1.1,0 a1.1,1.1 0 1,0 2.2,0 a1.1,1.1 0 1,0 -2.2,0 M867.0,850.0 m-1.1,0 a1.1,1.1 0 1,0 2.2,0 a1.1,1.1 0 1,0 -2.2,0 M864.0,858.0 m-1.1,0 a1.1,1.1 0 1,0 2.2,0 a1.1,1.1 0 1,0 -2.2,0 M864.0,898.0 m-1.1,0 a1.1,1.1 0 1,0 2.2,0 a1.1,1.1 0 1,0 -2.2,0 M867.0,912.0 m-1.1,0 a1.1,1.1 0 1,0 2.2,0 a1.1,1.1 0 1,0 -2.2,0 M867.0,988.0 m-1.1,0 a1.1,1.1 0 1,0 2.2,0 a1.1,1.1 0 1,0 -2.2,0 M864.0,1012.0 m-1.1,0 a1.1,1.1 0 1,0 2.2,0 a1.1,1.1 0 1,0 -2.2,0 M864.0,1140.0 m-1.1,0 a1.1,1.1 0 1,0 2.2,0 a1.1,1.1 0 1,0 -2.2,0 M867.0,1189.0 m-1.1,0 a1.1,1.1 0 1,0 2.2,0 a1.1,1.1 0 1,0 -2.2,0 M878.0,858.0 m-1.1,0 a1.1,1.1 0 1,0 2.2,0 a1.1,1.1 0 1,0 -2.2,0 M881.0,866.0 m-1.1,0 a1.1,1.1 0 1,0 2.2,0 a1.1,1.1 0 1,0 -2.2,0 M881.0,912.0 m-1.1,0 a1.1,1.1 0 1,0 2.2,0 a1.1,1.1 0 1,0 -2.2,0 M878.0,928.0 m-1.1,0 a1.1,1.1 0 1,0 2.2,0 a1.1,1.1 0 1,0 -2.2,0 M878.0,1012.0 m-1.1,0 a1.1,1.1 0 1,0 2.2,0 a1.1,1.1 0 1,0 -2.2,0 M881.0,1040.0 m-1.1,0 a1.1,1.1 0 1,0 2.2,0 a1.1,1.1 0 1,0 -2.2,0 M881.0,1189.0 m-1.1,0 a1.1,1.1 0 1,0 2.2,0 a1.1,1.1 0 1,0 -2.2,0 M893.0,866.0 m-1.1,0 a1.1,1.1 0 1,0 2.2,0 a1.1,1.1 0 1,0 -2.2,0 M890.0,875.0 m-1.1,0 a1.1,1.1 0 1,0 2.2,0 a1.1,1.1 0 1,0 -2.2,0 M890.0,928.0 m-1.1,0 a1.1,1.1 0 1,0 2.2,0 a1.1,1.1 0 1,0 -2.2,0 M893.0,946.0 m-1.1,0 a1.1,1.1 0 1,0 2.2,0 a1.1,1.1 0 1,0 -2.2,0 M893.0,1040.0 m-1.1,0 a1.1,1.1 0 1,0 2.2,0 a1.1,1.1 0 1,0 -2.2,0 M890.0,1070.0 m-1.1,0 a1.1,1.1 0 1,0 2.2,0 a1.1,1.1 0 1,0 -2.2,0 M908.0,842.0 m-1.1,0 a1.1,1.1 0 1,0 2.2,0 a1.1,1.1 0 1,0 -2.2,0 M908.0,875.0 m-1.1,0 a1.1,1.1 0 1,0 2.2,0 a1.1,1.1 0 1,0 -2.2,0 M911.0,886.0 m-1.1,0 a1.1,1.1 0 1,0 2.2,0 a1.1,1.1 0 1,0 -2.2,0 M911.0,946.0 m-1.1,0 a1.1,1.1 0 1,0 2.2,0 a1.1,1.1 0 1,0 -2.2,0 M908.0,966.0 m-1.1,0 a1.1,1.1 0 1,0 2.2,0 a1.1,1.1 0 1,0 -2.2,0 M908.0,1070.0 m-1.1,0 a1.1,1.1 0 1,0 2.2,0 a1.1,1.1 0 1,0 -2.2,0 M911.0,1102.0 m-1.1,0 a1.1,1.1 0 1,0 2.2,0 a1.1,1.1 0 1,0 -2.2,0 M919.0,842.0 m-1.1,0 a1.1,1.1 0 1,0 2.2,0 a1.1,1.1 0 1,0 -2.2,0 M922.0,850.0 m-1.1,0 a1.1,1.1 0 1,0 2.2,0 a1.1,1.1 0 1,0 -2.2,0 M922.0,886.0 m-1.1,0 a1.1,1.1 0 1,0 2.2,0 a1.1,1.1 0 1,0 -2.2,0 M919.0,898.0 m-1.1,0 a1.1,1.1 0 1,0 2.2,0 a1.1,1.1 0 1,0 -2.2,0 M919.0,966.0 m-1.1,0 a1.1,1.1 0 1,0 2.2,0 a1.1,1.1 0 1,0 -2.2,0 M922.0,988.0 m-1.1,0 a1.1,1.1 0 1,0 2.2,0 a1.1,1.1 0 1,0 -2.2,0 M922.0,1102.0 m-1.1,0 a1.1,1.1 0 1,0 2.2,0 a1.1,1.1 0 1,0 -2.2,0 M919.0,1140.0 m-1.1,0 a1.1,1.1 0 1,0 2.2,0 a1.1,1.1 0 1,0 -2.2,0 M935.0,850.0 m-1.1,0 a1.1,1.1 0 1,0 2.2,0 a1.1,1.1 0 1,0 -2.2,0 M932.0,858.0 m-1.1,0 a1.1,1.1 0 1,0 2.2,0 a1.1,1.1 0 1,0 -2.2,0 M932.0,898.0 m-1.1,0 a1.1,1.1 0 1,0 2.2,0 a1.1,1.1 0 1,0 -2.2,0 M935.0,912.0 m-1.1,0 a1.1,1.1 0 1,0 2.2,0 a1.1,1.1 0 1,0 -2.2,0 M935.0,988.0 m-1.1,0 a1.1,1.1 0 1,0 2.2,0 a1.1,1.1 0 1,0 -2.2,0 M932.0,1012.0 m-1.1,0 a1.1,1.1 0 1,0 2.2,0 a1.1,1.1 0 1,0 -2.2,0 M932.0,1140.0 m-1.1,0 a1.1,1.1 0 1,0 2.2,0 a1.1,1.1 0 1,0 -2.2,0 M935.0,1189.0 m-1.1,0 a1.1,1.1 0 1,0 2.2,0 a1.1,1.1 0 1,0 -2.2,0 M944.0,858.0 m-1.1,0 a1.1,1.1 0 1,0 2.2,0 a1.1,1.1 0 1,0 -2.2,0 M947.0,866.0 m-1.1,0 a1.1,1.1 0 1,0 2.2,0 a1.1,1.1 0 1,0 -2.2,0 M947.0,912.0 m-1.1,0 a1.1,1.1 0 1,0 2.2,0 a1.1,1.1 0 1,0 -2.2,0 M944.0,928.0 m-1.1,0 a1.1,1.1 0 1,0 2.2,0 a1.1,1.1 0 1,0 -2.2,0 M944.0,1012.0 m-1.1,0 a1.1,1.1 0 1,0 2.2,0 a1.1,1.1 0 1,0 -2.2,0 M947.0,1040.0 m-1.1,0 a1.1,1.1 0 1,0 2.2,0 a1.1,1.1 0 1,0 -2.2,0 M947.0,1189.0 m-1.1,0 a1.1,1.1 0 1,0 2.2,0 a1.1,1.1 0 1,0 -2.2,0 M962.0,866.0 m-1.1,0 a1.1,1.1 0 1,0 2.2,0 a1.1,1.1 0 1,0 -2.2,0 M959.0,875.0 m-1.1,0 a1.1,1.1 0 1,0 2.2,0 a1.1,1.1 0 1,0 -2.2,0 M959.0,928.0 m-1.1,0 a1.1,1.1 0 1,0 2.2,0 a1.1,1.1 0 1,0 -2.2,0 M962.0,946.0 m-1.1,0 a1.1,1.1 0 1,0 2.2,0 a1.1,1.1 0 1,0 -2.2,0 M962.0,1040.0 m-1.1,0 a1.1,1.1 0 1,0 2.2,0 a1.1,1.1 0 1,0 -2.2,0 M959.0,1070.0 m-1.1,0 a1.1,1.1 0 1,0 2.2,0 a1.1,1.1 0 1,0 -2.2,0 M970.0,842.0 m-1.1,0 a1.1,1.1 0 1,0 2.2,0 a1.1,1.1 0 1,0 -2.2,0 M970.0,875.0 m-1.1,0 a1.1,1.1 0 1,0 2.2,0 a1.1,1.1 0 1,0 -2.2,0 M973.0,886.0 m-1.1,0 a1.1,1.1 0 1,0 2.2,0 a1.1,1.1 0 1,0 -2.2,0 M973.0,946.0 m-1.1,0 a1.1,1.1 0 1,0 2.2,0 a1.1,1.1 0 1,0 -2.2,0 M970.0,966.0 m-1.1,0 a1.1,1.1 0 1,0 2.2,0 a1.1,1.1 0 1,0 -2.2,0 M970.0,1070.0 m-1.1,0 a1.1,1.1 0 1,0 2.2,0 a1.1,1.1 0 1,0 -2.2,0 M973.0,1102.0 m-1.1,0 a1.1,1.1 0 1,0 2.2,0 a1.1,1.1 0 1,0 -2.2,0 M987.0,842.0 m-1.1,0 a1.1,1.1 0 1,0 2.2,0 a1.1,1.1 0 1,0 -2.2,0 M990.0,850.0 m-1.1,0 a1.1,1.1 0 1,0 2.2,0 a1.1,1.1 0 1,0 -2.2,0 M990.0,886.0 m-1.1,0 a1.1,1.1 0 1,0 2.2,0 a1.1,1.1 0 1,0 -2.2,0 M987.0,898.0 m-1.1,0 a1.1,1.1 0 1,0 2.2,0 a1.1,1.1 0 1,0 -2.2,0 M987.0,966.0 m-1.1,0 a1.1,1.1 0 1,0 2.2,0 a1.1,1.1 0 1,0 -2.2,0 M990.0,988.0 m-1.1,0 a1.1,1.1 0 1,0 2.2,0 a1.1,1.1 0 1,0 -2.2,0 M990.0,1102.0 m-1.1,0 a1.1,1.1 0 1,0 2.2,0 a1.1,1.1 0 1,0 -2.2,0 M987.0,1140.0 m-1.1,0 a1.1,1.1 0 1,0 2.2,0 a1.1,1.1 0 1,0 -2.2,0 M1003.0,850.0 m-1.1,0 a1.1,1.1 0 1,0 2.2,0 a1.1,1.1 0 1,0 -2.2,0 M1000.0,858.0 m-1.1,0 a1.1,1.1 0 1,0 2.2,0 a1.1,1.1 0 1,0 -2.2,0 M1000.0,898.0 m-1.1,0 a1.1,1.1 0 1,0 2.2,0 a1.1,1.1 0 1,0 -2.2,0 M1003.0,912.0 m-1.1,0 a1.1,1.1 0 1,0 2.2,0 a1.1,1.1 0 1,0 -2.2,0 M1003.0,988.0 m-1.1,0 a1.1,1.1 0 1,0 2.2,0 a1.1,1.1 0 1,0 -2.2,0 M1000.0,1012.0 m-1.1,0 a1.1,1.1 0 1,0 2.2,0 a1.1,1.1 0 1,0 -2.2,0 M1000.0,1140.0 m-1.1,0 a1.1,1.1 0 1,0 2.2,0 a1.1,1.1 0 1,0 -2.2,0 M1003.0,1189.0 m-1.1,0 a1.1,1.1 0 1,0 2.2,0 a1.1,1.1 0 1,0 -2.2,0 M1010.0,858.0 m-1.1,0 a1.1,1.1 0 1,0 2.2,0 a1.1,1.1 0 1,0 -2.2,0 M1013.0,866.0 m-1.1,0 a1.1,1.1 0 1,0 2.2,0 a1.1,1.1 0 1,0 -2.2,0 M1013.0,912.0 m-1.1,0 a1.1,1.1 0 1,0 2.2,0 a1.1,1.1 0 1,0 -2.2,0 M1010.0,928.0 m-1.1,0 a1.1,1.1 0 1,0 2.2,0 a1.1,1.1 0 1,0 -2.2,0 M1010.0,1012.0 m-1.1,0 a1.1,1.1 0 1,0 2.2,0 a1.1,1.1 0 1,0 -2.2,0 M1013.0,1040.0 m-1.1,0 a1.1,1.1 0 1,0 2.2,0 a1.1,1.1 0 1,0 -2.2,0 M1013.0,1189.0 m-1.1,0 a1.1,1.1 0 1,0 2.2,0 a1.1,1.1 0 1,0 -2.2,0 M1029.0,866.0 m-1.1,0 a1.1,1.1 0 1,0 2.2,0 a1.1,1.1 0 1,0 -2.2,0 M1026.0,875.0 m-1.1,0 a1.1,1.1 0 1,0 2.2,0 a1.1,1.1 0 1,0 -2.2,0 M1026.0,928.0 m-1.1,0 a1.1,1.1 0 1,0 2.2,0 a1.1,1.1 0 1,0 -2.2,0 M1029.0,946.0 m-1.1,0 a1.1,1.1 0 1,0 2.2,0 a1.1,1.1 0 1,0 -2.2,0 M1029.0,1040.0 m-1.1,0 a1.1,1.1 0 1,0 2.2,0 a1.1,1.1 0 1,0 -2.2,0 M1026.0,1070.0 m-1.1,0 a1.1,1.1 0 1,0 2.2,0 a1.1,1.1 0 1,0 -2.2,0 M1040.0,842.0 m-1.1,0 a1.1,1.1 0 1,0 2.2,0 a1.1,1.1 0 1,0 -2.2,0 M1040.0,875.0 m-1.1,0 a1.1,1.1 0 1,0 2.2,0 a1.1,1.1 0 1,0 -2.2,0 M1043.0,886.0 m-1.1,0 a1.1,1.1 0 1,0 2.2,0 a1.1,1.1 0 1,0 -2.2,0 M1043.0,946.0 m-1.1,0 a1.1,1.1 0 1,0 2.2,0 a1.1,1.1 0 1,0 -2.2,0 M1040.0,966.0 m-1.1,0 a1.1,1.1 0 1,0 2.2,0 a1.1,1.1 0 1,0 -2.2,0 M1040.0,1070.0 m-1.1,0 a1.1,1.1 0 1,0 2.2,0 a1.1,1.1 0 1,0 -2.2,0 M1043.0,1102.0 m-1.1,0 a1.1,1.1 0 1,0 2.2,0 a1.1,1.1 0 1,0 -2.2,0 M1052.0,842.0 m-1.1,0 a1.1,1.1 0 1,0 2.2,0 a1.1,1.1 0 1,0 -2.2,0 M1055.0,850.0 m-1.1,0 a1.1,1.1 0 1,0 2.2,0 a1.1,1.1 0 1,0 -2.2,0 M1055.0,886.0 m-1.1,0 a1.1,1.1 0 1,0 2.2,0 a1.1,1.1 0 1,0 -2.2,0 M1052.0,898.0 m-1.1,0 a1.1,1.1 0 1,0 2.2,0 a1.1,1.1 0 1,0 -2.2,0 M1052.0,966.0 m-1.1,0 a1.1,1.1 0 1,0 2.2,0 a1.1,1.1 0 1,0 -2.2,0 M1055.0,988.0 m-1.1,0 a1.1,1.1 0 1,0 2.2,0 a1.1,1.1 0 1,0 -2.2,0 M1055.0,1102.0 m-1.1,0 a1.1,1.1 0 1,0 2.2,0 a1.1,1.1 0 1,0 -2.2,0 M1052.0,1140.0 m-1.1,0 a1.1,1.1 0 1,0 2.2,0 a1.1,1.1 0 1,0 -2.2,0 M1073.0,850.0 m-1.1,0 a1.1,1.1 0 1,0 2.2,0 a1.1,1.1 0 1,0 -2.2,0 M1070.0,858.0 m-1.1,0 a1.1,1.1 0 1,0 2.2,0 a1.1,1.1 0 1,0 -2.2,0 M1070.0,898.0 m-1.1,0 a1.1,1.1 0 1,0 2.2,0 a1.1,1.1 0 1,0 -2.2,0 M1073.0,912.0 m-1.1,0 a1.1,1.1 0 1,0 2.2,0 a1.1,1.1 0 1,0 -2.2,0 M1073.0,988.0 m-1.1,0 a1.1,1.1 0 1,0 2.2,0 a1.1,1.1 0 1,0 -2.2,0 M1070.0,1012.0 m-1.1,0 a1.1,1.1 0 1,0 2.2,0 a1.1,1.1 0 1,0 -2.2,0 M1070.0,1140.0 m-1.1,0 a1.1,1.1 0 1,0 2.2,0 a1.1,1.1 0 1,0 -2.2,0 M1073.0,1189.0 m-1.1,0 a1.1,1.1 0 1,0 2.2,0 a1.1,1.1 0 1,0 -2.2,0 M1081.0,858.0 m-1.1,0 a1.1,1.1 0 1,0 2.2,0 a1.1,1.1 0 1,0 -2.2,0 M1084.0,866.0 m-1.1,0 a1.1,1.1 0 1,0 2.2,0 a1.1,1.1 0 1,0 -2.2,0 M1084.0,912.0 m-1.1,0 a1.1,1.1 0 1,0 2.2,0 a1.1,1.1 0 1,0 -2.2,0 M1081.0,928.0 m-1.1,0 a1.1,1.1 0 1,0 2.2,0 a1.1,1.1 0 1,0 -2.2,0 M1081.0,1012.0 m-1.1,0 a1.1,1.1 0 1,0 2.2,0 a1.1,1.1 0 1,0 -2.2,0 M1084.0,1040.0 m-1.1,0 a1.1,1.1 0 1,0 2.2,0 a1.1,1.1 0 1,0 -2.2,0 M1084.0,1189.0 m-1.1,0 a1.1,1.1 0 1,0 2.2,0 a1.1,1.1 0 1,0 -2.2,0 M1097.0,866.0 m-1.1,0 a1.1,1.1 0 1,0 2.2,0 a1.1,1.1 0 1,0 -2.2,0 M1094.0,875.0 m-1.1,0 a1.1,1.1 0 1,0 2.2,0 a1.1,1.1 0 1,0 -2.2,0 M1094.0,928.0 m-1.1,0 a1.1,1.1 0 1,0 2.2,0 a1.1,1.1 0 1,0 -2.2,0 M1097.0,946.0 m-1.1,0 a1.1,1.1 0 1,0 2.2,0 a1.1,1.1 0 1,0 -2.2,0 M1097.0,1040.0 m-1.1,0 a1.1,1.1 0 1,0 2.2,0 a1.1,1.1 0 1,0 -2.2,0 M1094.0,1070.0 m-1.1,0 a1.1,1.1 0 1,0 2.2,0 a1.1,1.1 0 1,0 -2.2,0 M1106.0,842.0 m-1.1,0 a1.1,1.1 0 1,0 2.2,0 a1.1,1.1 0 1,0 -2.2,0 M1106.0,875.0 m-1.1,0 a1.1,1.1 0 1,0 2.2,0 a1.1,1.1 0 1,0 -2.2,0 M1109.0,886.0 m-1.1,0 a1.1,1.1 0 1,0 2.2,0 a1.1,1.1 0 1,0 -2.2,0 M1109.0,946.0 m-1.1,0 a1.1,1.1 0 1,0 2.2,0 a1.1,1.1 0 1,0 -2.2,0 M1106.0,966.0 m-1.1,0 a1.1,1.1 0 1,0 2.2,0 a1.1,1.1 0 1,0 -2.2,0 M1106.0,1070.0 m-1.1,0 a1.1,1.1 0 1,0 2.2,0 a1.1,1.1 0 1,0 -2.2,0 M1109.0,1102.0 m-1.1,0 a1.1,1.1 0 1,0 2.2,0 a1.1,1.1 0 1,0 -2.2,0 M1121.0,842.0 m-1.1,0 a1.1,1.1 0 1,0 2.2,0 a1.1,1.1 0 1,0 -2.2,0 M1124.0,850.0 m-1.1,0 a1.1,1.1 0 1,0 2.2,0 a1.1,1.1 0 1,0 -2.2,0 M1124.0,886.0 m-1.1,0 a1.1,1.1 0 1,0 2.2,0 a1.1,1.1 0 1,0 -2.2,0 M1121.0,898.0 m-1.1,0 a1.1,1.1 0 1,0 2.2,0 a1.1,1.1 0 1,0 -2.2,0 M1121.0,966.0 m-1.1,0 a1.1,1.1 0 1,0 2.2,0 a1.1,1.1 0 1,0 -2.2,0 M1124.0,988.0 m-1.1,0 a1.1,1.1 0 1,0 2.2,0 a1.1,1.1 0 1,0 -2.2,0 M1124.0,1102.0 m-1.1,0 a1.1,1.1 0 1,0 2.2,0 a1.1,1.1 0 1,0 -2.2,0 M1121.0,1140.0 m-1.1,0 a1.1,1.1 0 1,0 2.2,0 a1.1,1.1 0 1,0 -2.2,0 M1135.0,850.0 m-1.1,0 a1.1,1.1 0 1,0 2.2,0 a1.1,1.1 0 1,0 -2.2,0 M1132.0,858.0 m-1.1,0 a1.1,1.1 0 1,0 2.2,0 a1.1,1.1 0 1,0 -2.2,0 M1132.0,898.0 m-1.1,0 a1.1,1.1 0 1,0 2.2,0 a1.1,1.1 0 1,0 -2.2,0 M1135.0,912.0 m-1.1,0 a1.1,1.1 0 1,0 2.2,0 a1.1,1.1 0 1,0 -2.2,0 M1135.0,988.0 m-1.1,0 a1.1,1.1 0 1,0 2.2,0 a1.1,1.1 0 1,0 -2.2,0 M1132.0,1012.0 m-1.1,0 a1.1,1.1 0 1,0 2.2,0 a1.1,1.1 0 1,0 -2.2,0 M1132.0,1140.0 m-1.1,0 a1.1,1.1 0 1,0 2.2,0 a1.1,1.1 0 1,0 -2.2,0 M1135.0,1189.0 m-1.1,0 a1.1,1.1 0 1,0 2.2,0 a1.1,1.1 0 1,0 -2.2,0 M1149.0,858.0 m-1.1,0 a1.1,1.1 0 1,0 2.2,0 a1.1,1.1 0 1,0 -2.2,0 M1152.0,866.0 m-1.1,0 a1.1,1.1 0 1,0 2.2,0 a1.1,1.1 0 1,0 -2.2,0 M1152.0,912.0 m-1.1,0 a1.1,1.1 0 1,0 2.2,0 a1.1,1.1 0 1,0 -2.2,0 M1149.0,928.0 m-1.1,0 a1.1,1.1 0 1,0 2.2,0 a1.1,1.1 0 1,0 -2.2,0 M1149.0,1012.0 m-1.1,0 a1.1,1.1 0 1,0 2.2,0 a1.1,1.1 0 1,0 -2.2,0 M1152.0,1040.0 m-1.1,0 a1.1,1.1 0 1,0 2.2,0 a1.1,1.1 0 1,0 -2.2,0 M1152.0,1189.0 m-1.1,0 a1.1,1.1 0 1,0 2.2,0 a1.1,1.1 0 1,0 -2.2,0 M1165.0,866.0 m-1.1,0 a1.1,1.1 0 1,0 2.2,0 a1.1,1.1 0 1,0 -2.2,0 M1162.0,875.0 m-1.1,0 a1.1,1.1 0 1,0 2.2,0 a1.1,1.1 0 1,0 -2.2,0 M1162.0,928.0 m-1.1,0 a1.1,1.1 0 1,0 2.2,0 a1.1,1.1 0 1,0 -2.2,0 M1165.0,946.0 m-1.1,0 a1.1,1.1 0 1,0 2.2,0 a1.1,1.1 0 1,0 -2.2,0 M1165.0,1040.0 m-1.1,0 a1.1,1.1 0 1,0 2.2,0 a1.1,1.1 0 1,0 -2.2,0 M1162.0,1070.0 m-1.1,0 a1.1,1.1 0 1,0 2.2,0 a1.1,1.1 0 1,0 -2.2,0 M1172.0,842.0 m-1.1,0 a1.1,1.1 0 1,0 2.2,0 a1.1,1.1 0 1,0 -2.2,0 M1172.0,875.0 m-1.1,0 a1.1,1.1 0 1,0 2.2,0 a1.1,1.1 0 1,0 -2.2,0 M1175.0,886.0 m-1.1,0 a1.1,1.1 0 1,0 2.2,0 a1.1,1.1 0 1,0 -2.2,0 M1175.0,946.0 m-1.1,0 a1.1,1.1 0 1,0 2.2,0 a1.1,1.1 0 1,0 -2.2,0 M1172.0,966.0 m-1.1,0 a1.1,1.1 0 1,0 2.2,0 a1.1,1.1 0 1,0 -2.2,0 M1172.0,1070.0 m-1.1,0 a1.1,1.1 0 1,0 2.2,0 a1.1,1.1 0 1,0 -2.2,0 M1175.0,1102.0 m-1.1,0 a1.1,1.1 0 1,0 2.2,0 a1.1,1.1 0 1,0 -2.2,0 M1188.0,842.0 m-1.1,0 a1.1,1.1 0 1,0 2.2,0 a1.1,1.1 0 1,0 -2.2,0 M1191.0,850.0 m-1.1,0 a1.1,1.1 0 1,0 2.2,0 a1.1,1.1 0 1,0 -2.2,0 M1191.0,886.0 m-1.1,0 a1.1,1.1 0 1,0 2.2,0 a1.1,1.1 0 1,0 -2.2,0 M1188.0,898.0 m-1.1,0 a1.1,1.1 0 1,0 2.2,0 a1.1,1.1 0 1,0 -2.2,0 M1188.0,966.0 m-1.1,0 a1.1,1.1 0 1,0 2.2,0 a1.1,1.1 0 1,0 -2.2,0 M1191.0,988.0 m-1.1,0 a1.1,1.1 0 1,0 2.2,0 a1.1,1.1 0 1,0 -2.2,0 M1191.0,1102.0 m-1.1,0 a1.1,1.1 0 1,0 2.2,0 a1.1,1.1 0 1,0 -2.2,0 M1188.0,1140.0 m-1.1,0 a1.1,1.1 0 1,0 2.2,0 a1.1,1.1 0 1,0 -2.2,0 M1205.0,850.0 m-1.1,0 a1.1,1.1 0 1,0 2.2,0 a1.1,1.1 0 1,0 -2.2,0 M1202.0,858.0 m-1.1,0 a1.1,1.1 0 1,0 2.2,0 a1.1,1.1 0 1,0 -2.2,0 M1202.0,898.0 m-1.1,0 a1.1,1.1 0 1,0 2.2,0 a1.1,1.1 0 1,0 -2.2,0 M1205.0,912.0 m-1.1,0 a1.1,1.1 0 1,0 2.2,0 a1.1,1.1 0 1,0 -2.2,0 M1205.0,988.0 m-1.1,0 a1.1,1.1 0 1,0 2.2,0 a1.1,1.1 0 1,0 -2.2,0 M1202.0,1012.0 m-1.1,0 a1.1,1.1 0 1,0 2.2,0 a1.1,1.1 0 1,0 -2.2,0 M1202.0,1140.0 m-1.1,0 a1.1,1.1 0 1,0 2.2,0 a1.1,1.1 0 1,0 -2.2,0 M1205.0,1189.0 m-1.1,0 a1.1,1.1 0 1,0 2.2,0 a1.1,1.1 0 1,0 -2.2,0 M1214.0,858.0 m-1.1,0 a1.1,1.1 0 1,0 2.2,0 a1.1,1.1 0 1,0 -2.2,0 M1217.0,866.0 m-1.1,0 a1.1,1.1 0 1,0 2.2,0 a1.1,1.1 0 1,0 -2.2,0 M1217.0,912.0 m-1.1,0 a1.1,1.1 0 1,0 2.2,0 a1.1,1.1 0 1,0 -2.2,0 M1214.0,928.0 m-1.1,0 a1.1,1.1 0 1,0 2.2,0 a1.1,1.1 0 1,0 -2.2,0 M1214.0,1012.0 m-1.1,0 a1.1,1.1 0 1,0 2.2,0 a1.1,1.1 0 1,0 -2.2,0 M1217.0,1040.0 m-1.1,0 a1.1,1.1 0 1,0 2.2,0 a1.1,1.1 0 1,0 -2.2,0 M1217.0,1189.0 m-1.1,0 a1.1,1.1 0 1,0 2.2,0 a1.1,1.1 0 1,0 -2.2,0 M1235.0,866.0 m-1.1,0 a1.1,1.1 0 1,0 2.2,0 a1.1,1.1 0 1,0 -2.2,0 M1232.0,875.0 m-1.1,0 a1.1,1.1 0 1,0 2.2,0 a1.1,1.1 0 1,0 -2.2,0 M1232.0,928.0 m-1.1,0 a1.1,1.1 0 1,0 2.2,0 a1.1,1.1 0 1,0 -2.2,0 M1235.0,946.0 m-1.1,0 a1.1,1.1 0 1,0 2.2,0 a1.1,1.1 0 1,0 -2.2,0 M1235.0,1040.0 m-1.1,0 a1.1,1.1 0 1,0 2.2,0 a1.1,1.1 0 1,0 -2.2,0 M1232.0,1070.0 m-1.1,0 a1.1,1.1 0 1,0 2.2,0 a1.1,1.1 0 1,0 -2.2,0 M1243.0,842.0 m-1.1,0 a1.1,1.1 0 1,0 2.2,0 a1.1,1.1 0 1,0 -2.2,0 M1243.0,875.0 m-1.1,0 a1.1,1.1 0 1,0 2.2,0 a1.1,1.1 0 1,0 -2.2,0 M1246.0,886.0 m-1.1,0 a1.1,1.1 0 1,0 2.2,0 a1.1,1.1 0 1,0 -2.2,0 M1246.0,946.0 m-1.1,0 a1.1,1.1 0 1,0 2.2,0 a1.1,1.1 0 1,0 -2.2,0 M1243.0,966.0 m-1.1,0 a1.1,1.1 0 1,0 2.2,0 a1.1,1.1 0 1,0 -2.2,0 M1243.0,1070.0 m-1.1,0 a1.1,1.1 0 1,0 2.2,0 a1.1,1.1 0 1,0 -2.2,0 M1246.0,1102.0 m-1.1,0 a1.1,1.1 0 1,0 2.2,0 a1.1,1.1 0 1,0 -2.2,0 M1256.0,842.0 m-1.1,0 a1.1,1.1 0 1,0 2.2,0 a1.1,1.1 0 1,0 -2.2,0 M1259.0,850.0 m-1.1,0 a1.1,1.1 0 1,0 2.2,0 a1.1,1.1 0 1,0 -2.2,0 M1259.0,886.0 m-1.1,0 a1.1,1.1 0 1,0 2.2,0 a1.1,1.1 0 1,0 -2.2,0 M1256.0,898.0 m-1.1,0 a1.1,1.1 0 1,0 2.2,0 a1.1,1.1 0 1,0 -2.2,0 M1256.0,966.0 m-1.1,0 a1.1,1.1 0 1,0 2.2,0 a1.1,1.1 0 1,0 -2.2,0 M1259.0,988.0 m-1.1,0 a1.1,1.1 0 1,0 2.2,0 a1.1,1.1 0 1,0 -2.2,0 M1259.0,1102.0 m-1.1,0 a1.1,1.1 0 1,0 2.2,0 a1.1,1.1 0 1,0 -2.2,0 M1256.0,1140.0 m-1.1,0 a1.1,1.1 0 1,0 2.2,0 a1.1,1.1 0 1,0 -2.2,0 M1271.0,850.0 m-1.1,0 a1.1,1.1 0 1,0 2.2,0 a1.1,1.1 0 1,0 -2.2,0 M1268.0,858.0 m-1.1,0 a1.1,1.1 0 1,0 2.2,0 a1.1,1.1 0 1,0 -2.2,0 M1268.0,898.0 m-1.1,0 a1.1,1.1 0 1,0 2.2,0 a1.1,1.1 0 1,0 -2.2,0 M1271.0,912.0 m-1.1,0 a1.1,1.1 0 1,0 2.2,0 a1.1,1.1 0 1,0 -2.2,0 M1271.0,988.0 m-1.1,0 a1.1,1.1 0 1,0 2.2,0 a1.1,1.1 0 1,0 -2.2,0 M1268.0,1012.0 m-1.1,0 a1.1,1.1 0 1,0 2.2,0 a1.1,1.1 0 1,0 -2.2,0 M1268.0,1140.0 m-1.1,0 a1.1,1.1 0 1,0 2.2,0 a1.1,1.1 0 1,0 -2.2,0 M1271.0,1189.0 m-1.1,0 a1.1,1.1 0 1,0 2.2,0 a1.1,1.1 0 1,0 -2.2,0" fill="#444"/>
<line x1="150.5" y1="1013.1" x2="1274.5" y2="1013.1" stroke="#000" stroke-opacity="0.22" stroke-width="1.5"/>
<line x1="150.5" y1="1189.4" x2="1274.5" y2="1189.4" stroke="#000" stroke-opacity="0.22" stroke-width="1.5"/>
<path d="M165.0,837.0 L166.0,868.0" fill="none" stroke="#000" stroke-width="2.4" stroke-linejoin="round"/>
<path d="M172.0,896.0 C173.0,897.7 175.5,903.3 178.0,906.0 C180.5,908.7 184.0,909.8 187.0,912.0 C190.0,914.2 193.2,916.5 196.0,919.0 C198.8,921.5 201.2,924.5 204.0,927.0 C206.8,929.5 209.8,932.3 213.0,934.0 C216.2,935.7 220.2,935.3 223.0,937.0 C225.8,938.7 228.0,940.8 230.0,944.0 C232.0,947.2 232.7,953.5 235.0,956.0 C237.3,958.5 240.8,958.2 244.0,959.0 C247.2,959.8 251.2,959.7 254.0,961.0 C256.8,962.3 259.2,963.0 261.0,967.0 C262.8,971.0 264.2,977.2 265.0,985.0 C265.8,992.8 265.3,1004.5 266.0,1014.0 C266.7,1023.5 268.2,1034.3 269.0,1042.0 C269.8,1049.7 270.5,1054.0 271.0,1060.0 C271.5,1066.0 270.8,1070.2 272.0,1078.0 C273.2,1085.8 277.0,1095.2 278.0,1107.0 C279.0,1118.8 278.3,1135.0 278.0,1149.0 C277.7,1163.0 275.8,1176.8 276.0,1191.0 C276.2,1205.2 277.3,1225.0 279.0,1234.0 C280.7,1243.0 283.3,1242.5 286.0,1245.0 C288.7,1247.5 291.8,1246.7 295.0,1249.0 C298.2,1251.3 301.0,1255.5 305.0,1259.0 C309.0,1262.5 313.7,1267.2 319.0,1270.0 C324.3,1272.8 334.0,1275.0 337.0,1276.0" fill="none" stroke="#000" stroke-width="2.4" stroke-linejoin="round"/>
<path d="M456.0,1276.0 C457.5,1274.7 462.0,1271.2 465.0,1268.0 C468.0,1264.8 469.3,1260.0 474.0,1257.0 C478.7,1254.0 487.5,1252.2 493.0,1250.0 C498.5,1247.8 503.0,1247.5 507.0,1244.0 C511.0,1240.5 514.8,1236.0 517.0,1229.0 C519.2,1222.0 518.5,1211.2 520.0,1202.0 C521.5,1192.8 523.5,1182.5 526.0,1174.0 C528.5,1165.5 531.7,1156.5 535.0,1151.0 C538.3,1145.5 542.7,1143.8 546.0,1141.0 C549.3,1138.2 552.5,1137.7 555.0,1134.0 C557.5,1130.3 557.8,1131.5 561.0,1119.0 C564.2,1106.5 569.7,1072.2 574.0,1059.0 C578.3,1045.8 582.2,1045.0 587.0,1040.0 C591.8,1035.0 598.5,1031.8 603.0,1029.0 C607.5,1026.2 610.5,1026.3 614.0,1023.0 C617.5,1019.7 620.8,1014.8 624.0,1009.0 C627.2,1003.2 630.0,993.2 633.0,988.0 C636.0,982.8 639.3,981.0 642.0,978.0 C644.7,975.0 646.2,971.3 649.0,970.0 C651.8,968.7 654.3,970.7 659.0,970.0 C663.7,969.3 671.8,965.7 677.0,966.0 C682.2,966.3 685.3,970.8 690.0,972.0 C694.7,973.2 699.7,972.0 705.0,973.0 C710.3,974.0 716.5,977.5 722.0,978.0 C727.5,978.5 732.7,976.2 738.0,976.0 C743.3,975.8 749.3,976.7 754.0,977.0 C758.7,977.3 762.2,979.8 766.0,978.0 C769.8,976.2 773.7,970.3 777.0,966.0 C780.3,961.7 783.2,959.3 786.0,952.0 C788.8,944.7 790.7,928.0 794.0,922.0 C797.3,916.0 801.5,916.5 806.0,916.0 C810.5,915.5 816.0,917.3 821.0,919.0 C826.0,920.7 832.3,922.2 836.0,926.0 C839.7,929.8 840.5,936.2 843.0,942.0 C845.5,947.8 848.5,954.5 851.0,961.0 C853.5,967.5 856.2,974.5 858.0,981.0 C859.8,987.5 860.2,995.7 862.0,1000.0 C863.8,1004.3 866.0,1006.2 869.0,1007.0 C872.0,1007.8 877.2,1004.0 880.0,1005.0 C882.8,1006.0 884.3,1009.7 886.0,1013.0 C887.7,1016.3 888.3,1020.3 890.0,1025.0 C891.7,1029.7 894.0,1035.8 896.0,1041.0 C898.0,1046.2 900.2,1050.8 902.0,1056.0 C903.8,1061.2 906.0,1064.7 907.0,1072.0 C908.0,1079.3 908.0,1090.2 908.0,1100.0 C908.0,1109.8 907.0,1120.7 907.0,1131.0 C907.0,1141.3 907.0,1151.7 908.0,1162.0 C909.0,1172.3 911.3,1182.7 913.0,1193.0 C914.7,1203.3 916.2,1215.0 918.0,1224.0 C919.8,1233.0 920.5,1241.3 924.0,1247.0 C927.5,1252.7 933.3,1255.2 939.0,1258.0 C944.7,1260.8 951.7,1263.2 958.0,1264.0 C964.3,1264.8 970.0,1262.8 977.0,1263.0 C984.0,1263.2 994.0,1264.3 1000.0,1265.0 C1006.0,1265.7 1007.2,1268.2 1013.0,1267.0 C1018.8,1265.8 1028.8,1260.8 1035.0,1258.0 C1041.2,1255.2 1044.7,1250.3 1050.0,1250.0 C1055.3,1249.7 1061.5,1256.8 1067.0,1256.0 C1072.5,1255.2 1079.7,1250.5 1083.0,1245.0 C1086.3,1239.5 1086.3,1233.8 1087.0,1223.0 C1087.7,1212.2 1086.7,1190.8 1087.0,1180.0 C1087.3,1169.2 1087.5,1164.7 1089.0,1158.0 C1090.5,1151.3 1093.0,1145.2 1096.0,1140.0 C1099.0,1134.8 1102.7,1131.0 1107.0,1127.0 C1111.3,1123.0 1117.7,1118.5 1122.0,1116.0 C1126.3,1113.5 1130.5,1115.2 1133.0,1112.0 C1135.5,1108.8 1135.8,1102.5 1137.0,1097.0 C1138.2,1091.5 1138.5,1083.8 1140.0,1079.0 C1141.5,1074.2 1143.5,1071.7 1146.0,1068.0 C1148.5,1064.3 1152.5,1061.0 1155.0,1057.0 C1157.5,1053.0 1159.5,1049.0 1161.0,1044.0 C1162.5,1039.0 1163.2,1033.5 1164.0,1027.0 C1164.8,1020.5 1164.7,1010.2 1166.0,1005.0 C1167.3,999.8 1169.8,999.0 1172.0,996.0 C1174.2,993.0 1177.2,992.0 1179.0,987.0 C1180.8,982.0 1180.8,971.0 1183.0,966.0 C1185.2,961.0 1189.2,958.3 1192.0,957.0 C1194.8,955.7 1198.7,957.8 1200.0,958.0" fill="none" stroke="#000" stroke-width="2.4" stroke-linejoin="round"/>
<path d="M1218.0,970.0 C1219.2,971.8 1222.8,979.5 1225.0,981.0 C1227.2,982.5 1228.2,982.3 1231.0,979.0 C1233.8,975.7 1238.0,965.5 1242.0,961.0 C1246.0,956.5 1251.0,953.0 1255.0,952.0 C1259.0,951.0 1262.7,954.2 1266.0,955.0 C1269.3,955.8 1273.5,956.7 1275.0,957.0" fill="none" stroke="#000" stroke-width="2.4" stroke-linejoin="round"/>
<path d="M150.6,939.0 C152.7,937.8 159.8,931.3 163.0,932.0 C166.2,932.7 168.0,938.8 170.0,943.0 C172.0,947.2 174.2,954.7 175.0,957.0" fill="none" stroke="#000" stroke-width="2.4" stroke-linejoin="round"/>
<path d="M194.0,982.0 C194.0,987.3 194.0,1002.7 194.0,1014.0 C194.0,1025.3 193.8,1042.3 194.0,1050.0 C194.2,1057.7 193.8,1057.3 195.0,1060.0 C196.2,1062.7 199.2,1063.8 201.0,1066.0 C202.8,1068.2 205.2,1071.8 206.0,1073.0" fill="none" stroke="#000" stroke-width="2.4" stroke-linejoin="round"/>
<path d="M222.0,1097.0 C221.8,1105.7 221.3,1133.3 221.0,1149.0 C220.7,1164.7 220.0,1176.8 220.0,1191.0 C220.0,1205.2 219.8,1224.5 221.0,1234.0 C222.2,1243.5 225.0,1245.5 227.0,1248.0 C229.0,1250.5 231.2,1249.5 233.0,1249.0 C234.8,1248.5 236.5,1250.0 238.0,1245.0 C239.5,1240.0 241.5,1230.3 242.0,1219.0 C242.5,1207.7 241.7,1191.0 241.0,1177.0 C240.3,1163.0 238.5,1146.3 238.0,1135.0 C237.5,1123.7 237.0,1114.7 238.0,1109.0 C239.0,1103.3 241.7,1102.8 244.0,1101.0 C246.3,1099.2 249.2,1098.0 252.0,1098.0 C254.8,1098.0 258.8,1099.2 261.0,1101.0 C263.2,1102.8 264.2,1101.0 265.0,1109.0 C265.8,1117.0 265.8,1135.3 266.0,1149.0 C266.2,1162.7 265.7,1176.8 266.0,1191.0 C266.3,1205.2 267.2,1222.2 268.0,1234.0 C268.8,1245.8 270.3,1254.8 271.0,1262.0 C271.7,1269.2 271.8,1274.5 272.0,1277.0" fill="none" stroke="#000" stroke-width="2.4" stroke-linejoin="round"/>
<path d="M491.0,1276.0 C494.0,1274.2 503.8,1269.0 509.0,1265.0 C514.2,1261.0 518.3,1259.0 522.0,1252.0 C525.7,1245.0 528.8,1235.0 531.0,1223.0 C533.2,1211.0 532.8,1189.8 535.0,1180.0 C537.2,1170.2 540.3,1168.8 544.0,1164.0 C547.7,1159.2 553.3,1156.3 557.0,1151.0 C560.7,1145.7 563.5,1138.8 566.0,1132.0 C568.5,1125.2 569.2,1117.3 572.0,1110.0 C574.8,1102.7 579.0,1093.5 583.0,1088.0 C587.0,1082.5 591.7,1080.0 596.0,1077.0 C600.3,1074.0 605.0,1073.3 609.0,1070.0 C613.0,1066.7 617.2,1062.0 620.0,1057.0 C622.8,1052.0 624.3,1046.2 626.0,1040.0 C627.7,1033.8 628.2,1026.5 630.0,1020.0 C631.8,1013.5 634.2,1006.7 637.0,1001.0 C639.8,995.3 643.8,989.5 647.0,986.0 C650.2,982.5 652.8,980.8 656.0,980.0 C659.2,979.2 662.2,980.2 666.0,981.0 C669.8,981.8 675.2,983.8 679.0,985.0 C682.8,986.2 685.5,988.0 689.0,988.0 C692.5,988.0 696.0,983.7 700.0,985.0 C704.0,986.3 708.8,994.3 713.0,996.0 C717.2,997.7 720.8,995.2 725.0,995.0 C729.2,994.8 733.5,993.7 738.0,995.0 C742.5,996.3 748.5,999.8 752.0,1003.0 C755.5,1006.2 756.7,1008.5 759.0,1014.0 C761.3,1019.5 763.7,1033.5 766.0,1036.0 C768.3,1038.5 770.5,1034.7 773.0,1029.0 C775.5,1023.3 778.5,1011.2 781.0,1002.0 C783.5,992.8 785.7,983.3 788.0,974.0 C790.3,964.7 792.8,951.8 795.0,946.0 C797.2,940.2 797.8,939.8 801.0,939.0 C804.2,938.2 809.7,940.2 814.0,941.0 C818.3,941.8 823.3,942.8 827.0,944.0 C830.7,945.2 833.3,944.5 836.0,948.0 C838.7,951.5 840.5,959.2 843.0,965.0 C845.5,970.8 848.8,976.8 851.0,983.0 C853.2,989.2 854.5,995.8 856.0,1002.0 C857.5,1008.2 859.0,1011.2 860.0,1020.0 C861.0,1028.8 860.5,1048.8 862.0,1055.0 C863.5,1061.2 866.3,1058.8 869.0,1057.0 C871.7,1055.2 875.2,1044.7 878.0,1044.0 C880.8,1043.3 883.5,1048.7 886.0,1053.0 C888.5,1057.3 890.8,1064.7 893.0,1070.0 C895.2,1075.3 897.5,1076.5 899.0,1085.0 C900.5,1093.5 901.2,1108.8 902.0,1121.0 C902.8,1133.2 903.3,1145.7 904.0,1158.0 C904.7,1170.3 905.3,1179.5 906.0,1195.0 C906.7,1210.5 907.5,1237.3 908.0,1251.0 C908.5,1264.7 908.8,1272.7 909.0,1277.0" fill="none" stroke="#000" stroke-width="2.4" stroke-linejoin="round"/>
<path d="M1273.0,1153.0 C1271.2,1155.3 1264.5,1162.5 1262.0,1167.0 C1259.5,1171.5 1258.3,1174.3 1258.0,1180.0 C1257.7,1185.7 1258.7,1193.8 1260.0,1201.0 C1261.3,1208.2 1263.7,1216.7 1266.0,1223.0 C1268.3,1229.3 1272.7,1236.3 1274.0,1239.0" fill="none" stroke="#000" stroke-width="2.4" stroke-linejoin="round"/>
<path d="M214.0,1097.0 C214.3,1105.7 215.5,1133.3 216.0,1149.0 C216.5,1164.7 216.8,1176.8 217.0,1191.0 C217.2,1205.2 216.5,1224.2 217.0,1234.0 C217.5,1243.8 219.0,1245.8 220.0,1250.0 C221.0,1254.2 222.5,1257.5 223.0,1259.0" fill="none" stroke="#000" stroke-width="2.4" stroke-linejoin="round"/>
<path d="M262.0,1265.0 L265.0,1276.0" fill="none" stroke="#000" stroke-width="2.4" stroke-linejoin="round"/>
<path d="M520.0,1276.0 C522.5,1274.2 530.3,1269.0 535.0,1265.0 C539.7,1261.0 544.3,1260.8 548.0,1252.0 C551.7,1243.2 554.5,1222.7 557.0,1212.0 C559.5,1201.3 560.2,1194.8 563.0,1188.0 C565.8,1181.2 570.2,1182.0 574.0,1171.0 C577.8,1160.0 582.0,1132.3 586.0,1122.0 C590.0,1111.7 593.8,1112.8 598.0,1109.0 C602.2,1105.2 606.8,1102.7 611.0,1099.0 C615.2,1095.3 620.0,1094.2 623.0,1087.0 C626.0,1079.8 627.3,1065.8 629.0,1056.0 C630.7,1046.2 631.3,1035.8 633.0,1028.0 C634.7,1020.2 636.8,1014.0 639.0,1009.0 C641.2,1004.0 644.8,999.8 646.0,998.0" fill="none" stroke="#000" stroke-width="2.4" stroke-linejoin="round"/>
<path d="M685.0,1006.0 C687.3,1005.5 695.7,1002.5 699.0,1003.0 C702.3,1003.5 702.3,1004.3 705.0,1009.0 C707.7,1013.7 711.3,1026.0 715.0,1031.0 C718.7,1036.0 723.2,1036.3 727.0,1039.0 C730.8,1041.7 735.8,1045.3 738.0,1047.0 C740.2,1048.7 737.2,1046.8 740.0,1049.0 C742.8,1051.2 750.0,1058.2 755.0,1060.0 C760.0,1061.8 766.3,1061.5 770.0,1060.0 C773.7,1058.5 774.7,1054.8 777.0,1051.0 C779.3,1047.2 781.8,1043.7 784.0,1037.0 C786.2,1030.3 788.3,1021.5 790.0,1011.0 C791.7,1000.5 792.5,983.8 794.0,974.0 C795.5,964.2 797.2,956.3 799.0,952.0 C800.8,947.7 802.5,947.7 805.0,948.0 C807.5,948.3 810.7,952.8 814.0,954.0 C817.3,955.2 821.7,954.2 825.0,955.0 C828.3,955.8 831.3,956.5 834.0,959.0 C836.7,961.5 839.2,965.0 841.0,970.0 C842.8,975.0 843.3,982.2 845.0,989.0 C846.7,995.8 849.2,1001.2 851.0,1011.0 C852.8,1020.8 854.8,1035.7 856.0,1048.0 C857.2,1060.3 857.3,1072.8 858.0,1085.0 C858.7,1097.2 859.3,1113.0 860.0,1121.0 C860.7,1129.0 860.5,1131.7 862.0,1133.0 C863.5,1134.3 866.8,1134.0 869.0,1129.0 C871.2,1124.0 873.2,1110.3 875.0,1103.0 C876.8,1095.7 878.2,1087.8 880.0,1085.0 C881.8,1082.2 884.7,1083.0 886.0,1086.0 C887.3,1089.0 887.5,1094.0 888.0,1103.0 C888.5,1112.0 888.2,1127.7 889.0,1140.0 C889.8,1152.3 891.3,1164.7 893.0,1177.0 C894.7,1189.3 897.5,1201.7 899.0,1214.0 C900.5,1226.3 901.2,1240.5 902.0,1251.0 C902.8,1261.5 903.7,1272.7 904.0,1277.0" fill="none" stroke="#000" stroke-width="2.4" stroke-linejoin="round"/>
<path d="M206.0,1111.0 C206.4,1117.3 207.8,1135.7 208.5,1149.0 C209.2,1162.3 209.8,1176.8 210.0,1191.0 C210.2,1205.2 209.5,1223.3 210.0,1234.0 C210.5,1244.7 211.8,1249.2 213.0,1255.0 C214.2,1260.8 216.3,1266.7 217.0,1269.0" fill="none" stroke="#000" stroke-width="2.4" stroke-linejoin="round"/>
<path d="M557.0,1277.0 C558.8,1272.5 564.7,1259.2 568.0,1250.0 C571.3,1240.8 573.7,1233.7 577.0,1222.0 C580.3,1210.3 583.8,1193.2 588.0,1180.0 C592.2,1166.8 597.3,1153.8 602.0,1143.0 C606.7,1132.2 612.2,1123.0 616.0,1115.0 C619.8,1107.0 622.2,1100.7 625.0,1095.0 C627.8,1089.3 629.8,1086.3 633.0,1081.0 C636.2,1075.7 641.0,1068.8 644.0,1063.0 C647.0,1057.2 649.0,1050.0 651.0,1046.0 C653.0,1042.0 652.7,1040.5 656.0,1039.0 C659.3,1037.5 666.2,1036.5 671.0,1037.0 C675.8,1037.5 680.3,1041.5 685.0,1042.0 C689.7,1042.5 695.3,1039.3 699.0,1040.0 C702.7,1040.7 704.7,1042.8 707.0,1046.0 C709.3,1049.2 710.0,1054.7 713.0,1059.0 C716.0,1063.3 722.5,1067.0 725.0,1072.0 C727.5,1077.0 727.5,1078.0 728.0,1089.0 C728.5,1100.0 727.7,1121.5 728.0,1138.0 C728.3,1154.5 729.2,1172.5 730.0,1188.0 C730.8,1203.5 730.5,1220.5 733.0,1231.0 C735.5,1241.5 741.3,1247.7 745.0,1251.0 C748.7,1254.3 751.5,1252.7 755.0,1251.0 C758.5,1249.3 763.8,1250.3 766.0,1241.0 C768.2,1231.7 767.3,1215.0 768.0,1195.0 C768.7,1175.0 769.5,1139.3 770.0,1121.0 C770.5,1102.7 769.8,1094.2 771.0,1085.0 C772.2,1075.8 774.2,1074.7 777.0,1066.0 C779.8,1057.3 784.3,1043.5 788.0,1033.0 C791.7,1022.5 795.3,1010.7 799.0,1003.0 C802.7,995.3 807.2,991.5 810.0,987.0 C812.8,982.5 815.0,977.8 816.0,976.0" fill="none" stroke="#000" stroke-width="2.4" stroke-linejoin="round"/>
<path d="M838.0,990.0 C838.8,996.7 841.8,1015.0 843.0,1030.0 C844.2,1045.0 844.5,1063.3 845.0,1080.0 C845.5,1096.7 844.8,1118.7 846.0,1130.0 C847.2,1141.3 849.7,1143.3 852.0,1148.0 C854.3,1152.7 858.2,1153.0 860.0,1158.0 C861.8,1163.0 861.7,1169.5 863.0,1178.0 C864.3,1186.5 865.8,1198.7 868.0,1209.0 C870.2,1219.3 873.2,1228.7 876.0,1240.0 C878.8,1251.3 883.5,1270.8 885.0,1277.0" fill="none" stroke="#000" stroke-width="2.4" stroke-linejoin="round"/>
<path d="M558.0,1277.0 C560.5,1275.3 568.3,1270.8 573.0,1267.0 C577.7,1263.2 582.7,1261.7 586.0,1254.0 C589.3,1246.3 591.8,1232.0 593.0,1221.0 C594.2,1210.0 592.7,1196.3 593.0,1188.0 C593.3,1179.7 593.8,1174.7 595.0,1171.0 C596.2,1167.3 599.2,1166.8 600.0,1166.0" fill="none" stroke="#000" stroke-width="2.4" stroke-linejoin="round"/>
<path d="M631.0,1165.0 C631.3,1168.8 632.2,1178.7 633.0,1188.0 C633.8,1197.3 634.5,1211.3 636.0,1221.0 C637.5,1230.7 639.0,1238.7 642.0,1246.0 C645.0,1253.3 649.5,1262.7 654.0,1265.0 C658.5,1267.3 663.8,1261.3 669.0,1260.0 C674.2,1258.7 679.0,1257.0 685.0,1257.0 C691.0,1257.0 698.8,1258.3 705.0,1260.0 C711.2,1261.7 716.5,1265.0 722.0,1267.0 C727.5,1269.0 731.7,1271.2 738.0,1272.0 C744.3,1272.8 754.2,1271.3 760.0,1272.0 C765.8,1272.7 770.8,1275.3 773.0,1276.0" fill="none" stroke="#000" stroke-width="2.4" stroke-linejoin="round"/>
<path d="M773.0,1276.0 C776.7,1273.3 788.2,1265.8 795.0,1260.0 C801.8,1254.2 810.0,1248.7 814.0,1241.0 C818.0,1233.3 817.8,1224.7 819.0,1214.0 C820.2,1203.3 821.0,1186.8 821.0,1177.0 C821.0,1167.2 819.3,1158.7 819.0,1155.0" fill="none" stroke="#000" stroke-width="2.4" stroke-linejoin="round"/>
<path d="M836.0,1151.0 C836.7,1155.3 838.8,1166.5 840.0,1177.0 C841.2,1187.5 841.2,1201.7 843.0,1214.0 C844.8,1226.3 848.2,1240.5 851.0,1251.0 C853.8,1261.5 858.5,1272.7 860.0,1277.0" fill="none" stroke="#000" stroke-width="2.4" stroke-linejoin="round"/>
<path d="M259.0,838.5 C259.8,844.1 262.4,861.6 263.6,872.0 C264.8,882.4 265.5,891.6 266.4,900.6 C267.3,909.6 267.1,919.9 269.2,926.0 C271.3,932.1 275.5,934.2 279.0,937.0 C282.5,939.8 286.6,943.0 290.4,943.0 C294.2,943.0 298.6,937.5 301.7,937.0 C304.8,936.5 306.8,936.7 308.7,940.0 C310.6,943.3 312.1,949.5 313.0,957.0 C313.9,964.5 314.4,973.2 314.4,985.0 C314.4,996.8 314.2,1017.3 313.0,1028.0 C311.8,1038.7 309.2,1042.0 307.0,1049.0 C304.8,1056.0 301.7,1062.8 300.0,1070.0 C298.3,1077.2 296.7,1083.3 297.0,1092.0 C297.3,1100.7 300.5,1115.3 302.0,1122.0 C303.5,1128.7 304.5,1129.3 306.0,1132.0 C307.5,1134.7 309.0,1134.0 311.0,1138.0 C313.0,1142.0 314.3,1153.0 318.0,1156.0 C321.7,1159.0 328.0,1157.2 333.0,1156.0 C338.0,1154.8 343.7,1150.8 348.0,1149.0 C352.3,1147.2 356.0,1145.0 359.0,1145.0 C362.0,1145.0 363.0,1148.3 366.0,1149.0 C369.0,1149.7 373.7,1146.3 377.0,1149.0 C380.3,1151.7 383.0,1162.0 386.0,1165.0 C389.0,1168.0 391.7,1167.8 395.0,1167.0 C398.3,1166.2 401.0,1162.2 406.0,1160.0 C411.0,1157.8 418.8,1156.5 425.0,1154.0 C431.2,1151.5 440.0,1146.5 443.0,1145.0" fill="none" stroke="#000" stroke-width="2.2" stroke-linejoin="round" stroke-dasharray="9 5"/>
<path d="M465.0,1143.0 C466.8,1142.7 471.3,1141.0 476.0,1141.0 C480.7,1141.0 488.7,1144.2 493.0,1143.0 C497.3,1141.8 499.0,1136.5 502.0,1134.0 C505.0,1131.5 507.7,1130.5 511.0,1128.0 C514.3,1125.5 519.5,1123.5 522.0,1119.0 C524.5,1114.5 524.8,1106.8 526.0,1101.0 C527.2,1095.2 526.9,1088.0 529.0,1084.0 C531.1,1080.0 535.7,1079.3 538.5,1077.0 C541.3,1074.7 543.3,1073.0 546.0,1070.0 C548.7,1067.0 551.2,1065.5 554.5,1059.0 C557.8,1052.5 562.6,1037.2 565.5,1031.0 C568.4,1024.8 569.1,1025.7 572.0,1022.0 C574.9,1018.3 579.0,1013.0 583.0,1009.0 C587.0,1005.0 592.3,1001.7 596.0,998.0 C599.7,994.3 602.5,992.0 605.0,987.0 C607.5,982.0 608.5,972.3 611.0,968.0 C613.5,963.7 617.3,962.8 620.0,961.0 C622.7,959.2 623.7,958.8 627.0,957.0 C630.3,955.2 636.4,952.2 640.0,950.0 C643.6,947.8 645.3,945.0 648.5,944.0 C651.7,943.0 656.1,943.3 659.0,944.0 C661.9,944.7 664.2,948.0 666.0,948.0 C667.8,948.0 667.8,945.8 670.0,944.0 C672.2,942.2 675.3,937.5 679.0,937.0 C682.7,936.5 688.3,939.8 692.0,941.0 C695.7,942.2 697.5,944.3 701.0,944.0 C704.5,943.7 708.8,940.5 713.0,939.0 C717.2,937.5 721.7,936.0 726.0,935.0 C730.3,934.0 735.3,932.7 739.0,933.0 C742.7,933.3 745.3,935.2 748.0,937.0 C750.7,938.8 752.0,945.5 755.0,944.0 C758.0,942.5 762.8,932.5 766.0,928.0 C769.2,923.5 771.2,920.5 774.0,917.0 C776.8,913.5 780.0,910.2 783.0,907.0 C786.0,903.8 788.3,900.3 792.0,898.0 C795.7,895.7 800.7,893.3 805.0,893.0 C809.3,892.7 813.7,894.2 818.0,896.0 C822.3,897.8 828.0,902.3 831.0,904.0 C834.0,905.7 834.0,904.8 836.0,906.0 C838.0,907.2 840.5,907.3 843.0,911.0 C845.5,914.7 848.5,922.5 851.0,928.0 C853.5,933.5 856.2,936.3 858.0,944.0 C859.8,951.7 860.7,968.3 862.0,974.0 C863.3,979.7 864.2,979.0 866.0,978.0 C867.8,977.0 870.7,970.0 873.0,968.0 C875.3,966.0 877.5,965.7 880.0,966.0 C882.5,966.3 886.2,965.7 888.0,970.0 C889.8,974.3 890.2,985.2 891.0,992.0 C891.8,998.8 891.2,1005.3 893.0,1011.0 C894.8,1016.7 899.5,1019.8 902.0,1026.0 C904.5,1032.2 906.3,1041.3 908.0,1048.0 C909.7,1054.7 910.5,1059.8 912.0,1066.0 C913.5,1072.2 915.5,1078.8 917.0,1085.0 C918.5,1091.2 918.8,1098.8 921.0,1103.0 C923.2,1107.2 926.8,1109.3 930.0,1110.0 C933.2,1110.7 936.8,1106.8 940.0,1107.0 C943.2,1107.2 946.0,1109.7 949.0,1111.0 C952.0,1112.3 955.5,1115.5 958.0,1115.0 C960.5,1114.5 961.8,1112.0 964.0,1108.0 C966.2,1104.0 968.8,1095.0 971.0,1091.0 C973.2,1087.0 975.0,1084.3 977.0,1084.0 C979.0,1083.7 981.0,1086.3 983.0,1089.0 C985.0,1091.7 987.0,1096.2 989.0,1100.0 C991.0,1103.8 993.2,1108.2 995.0,1112.0 C996.8,1115.8 998.2,1122.7 1000.0,1123.0 C1001.8,1123.3 1002.0,1119.2 1006.0,1114.0 C1010.0,1108.8 1018.8,1098.5 1024.0,1092.0 C1029.2,1085.5 1033.8,1082.3 1037.0,1075.0 C1040.2,1067.7 1041.2,1054.7 1043.0,1048.0 C1044.8,1041.3 1047.2,1037.2 1048.0,1035.0" fill="none" stroke="#000" stroke-width="2.2" stroke-linejoin="round" stroke-dasharray="9 5"/>
<path d="M1067.0,1040.0 C1068.5,1042.8 1073.3,1055.5 1076.0,1057.0 C1078.7,1058.5 1081.5,1054.0 1083.0,1049.0 C1084.5,1044.0 1084.3,1034.3 1085.0,1027.0 C1085.7,1019.7 1085.5,1011.7 1087.0,1005.0 C1088.5,998.3 1091.5,990.0 1094.0,987.0 C1096.5,984.0 1099.2,985.2 1102.0,987.0 C1104.8,988.8 1107.7,994.7 1111.0,998.0 C1114.3,1001.3 1118.0,1003.7 1122.0,1007.0 C1126.0,1010.3 1132.0,1019.2 1135.0,1018.0 C1138.0,1016.8 1138.2,1007.7 1140.0,1000.0 C1141.8,992.3 1143.8,979.2 1146.0,972.0 C1148.2,964.8 1150.0,961.7 1153.0,957.0 C1156.0,952.3 1160.8,948.3 1164.0,944.0 C1167.2,939.7 1169.8,935.5 1172.0,931.0 C1174.2,926.5 1175.5,921.8 1177.0,917.0 C1178.5,912.2 1178.5,904.8 1181.0,902.0 C1183.5,899.2 1189.0,898.2 1192.0,900.0 C1195.0,901.8 1196.5,907.8 1199.0,913.0 C1201.5,918.2 1203.5,926.7 1207.0,931.0 C1210.5,935.3 1216.3,938.7 1220.0,939.0 C1223.7,939.3 1226.7,936.7 1229.0,933.0 C1231.3,929.3 1232.2,922.5 1234.0,917.0 C1235.8,911.5 1236.5,904.0 1240.0,900.0 C1243.5,896.0 1251.0,897.3 1255.0,893.0 C1259.0,888.7 1262.8,880.2 1264.0,874.0 C1265.2,867.8 1263.0,861.9 1262.0,856.0 C1261.0,850.1 1258.7,841.4 1258.0,838.5" fill="none" stroke="#000" stroke-width="2.2" stroke-linejoin="round" stroke-dasharray="9 5"/>
<path d="M279.0,838.5 C279.0,844.1 277.8,863.6 279.0,872.0 C280.2,880.4 283.7,885.7 286.0,889.0 C288.3,892.3 289.9,892.7 293.0,892.0 C296.1,891.3 301.2,885.2 304.5,885.0 C307.8,884.8 310.4,887.2 313.0,891.0 C315.6,894.8 318.2,901.7 320.0,908.0 C321.8,914.3 322.8,920.8 324.0,929.0 C325.2,937.2 326.2,947.7 327.0,957.0 C327.8,966.3 328.5,975.5 328.5,985.0 C328.5,994.5 327.9,1005.7 327.0,1014.0 C326.1,1022.3 324.2,1028.2 323.0,1035.0 C321.8,1041.8 320.8,1048.0 320.0,1055.0 C319.2,1062.0 316.8,1071.5 318.0,1077.0 C319.2,1082.5 324.3,1088.8 327.5,1088.0 C330.7,1087.2 333.9,1075.3 337.0,1072.0 C340.1,1068.7 342.0,1068.0 346.0,1068.0 C350.0,1068.0 357.3,1071.7 361.0,1072.0 C364.7,1072.3 365.0,1069.2 368.0,1070.0 C371.0,1070.8 375.0,1074.8 379.0,1077.0 C383.0,1079.2 388.7,1082.0 392.0,1083.0 C395.3,1084.0 396.3,1081.8 399.0,1083.0 C401.7,1084.2 404.7,1090.3 408.0,1090.0 C411.3,1089.7 415.0,1085.7 419.0,1081.0 C423.0,1076.3 428.3,1065.7 432.0,1062.0 C435.7,1058.3 437.0,1058.7 441.0,1059.0 C445.0,1059.3 451.3,1064.0 456.0,1064.0 C460.7,1064.0 464.4,1060.5 469.0,1059.0 C473.6,1057.5 479.5,1055.0 483.5,1055.0 C487.5,1055.0 489.9,1059.3 493.0,1059.0 C496.1,1058.7 498.7,1054.5 502.0,1053.0 C505.3,1051.5 510.0,1054.8 513.0,1050.0 C516.0,1045.2 517.6,1030.2 520.0,1024.0 C522.4,1017.8 524.7,1014.5 527.5,1013.0 C530.3,1011.5 533.9,1016.0 537.0,1015.0 C540.1,1014.0 543.0,1009.5 546.0,1007.0 C549.0,1004.5 552.8,1004.0 555.0,1000.0 C557.2,996.0 557.7,989.5 559.0,983.0 C560.3,976.5 561.2,966.5 563.0,961.0 C564.8,955.5 566.7,952.5 570.0,950.0 C573.3,947.5 578.7,947.0 583.0,946.0 C587.3,945.0 592.7,947.3 596.0,944.0 C599.3,940.7 600.5,931.2 603.0,926.0 C605.5,920.8 607.8,915.8 611.0,913.0 C614.2,910.2 619.5,910.5 622.0,909.0 C624.5,907.5 625.3,904.8 626.0,904.0" fill="none" stroke="#000" stroke-width="2.2" stroke-linejoin="round" stroke-dasharray="9 5"/>
<path d="M679.0,887.0 C681.2,887.7 688.7,889.2 692.0,891.0 C695.3,892.8 696.8,897.7 699.0,898.0 C701.2,898.3 702.5,893.3 705.0,893.0 C707.5,892.7 711.2,895.3 714.0,896.0 C716.8,896.7 718.5,897.0 722.0,897.0 C725.5,897.0 730.7,897.2 735.0,896.0 C739.3,894.8 742.9,891.2 748.0,890.0 C753.1,888.8 760.8,892.1 765.5,889.0 C770.2,885.9 772.1,876.7 776.5,871.5 C780.9,866.3 787.2,861.2 792.0,858.0 C796.8,854.8 801.0,854.0 805.0,852.0 C809.0,850.0 812.3,845.7 816.0,846.0 C819.7,846.3 823.0,850.5 827.0,854.0 C831.0,857.5 835.7,861.8 840.0,867.0 C844.3,872.2 849.3,881.0 853.0,885.0 C856.7,889.0 859.2,888.5 862.0,891.0 C864.8,893.5 866.8,896.3 870.0,900.0 C873.2,903.7 877.3,909.3 881.0,913.0 C884.7,916.7 888.3,919.2 892.0,922.0 C895.7,924.8 900.0,925.0 903.0,930.0 C906.0,935.0 908.2,943.2 910.0,952.0 C911.8,960.8 912.6,975.0 914.0,983.0 C915.4,991.0 916.0,994.5 918.5,1000.0 C921.0,1005.5 925.4,1014.5 929.0,1016.0 C932.6,1017.5 935.2,1009.8 940.0,1009.0 C944.8,1008.2 953.2,1013.2 958.0,1011.0 C962.8,1008.8 966.2,998.5 969.0,996.0 C971.8,993.5 972.5,994.8 975.0,996.0 C977.5,997.2 981.0,1001.8 984.0,1003.0 C987.0,1004.2 988.5,1001.2 993.0,1003.0 C997.5,1004.8 1005.8,1014.8 1011.0,1014.0 C1016.2,1013.2 1020.0,1003.8 1024.0,998.0 C1028.0,992.2 1032.8,988.8 1035.0,979.0 C1037.2,969.2 1036.3,952.8 1037.0,939.0 C1037.7,925.2 1038.0,909.2 1039.0,896.0 C1040.0,882.8 1042.3,866.0 1043.0,860.0" fill="none" stroke="#000" stroke-width="2.2" stroke-linejoin="round" stroke-dasharray="9 5"/>
<path d="M1054.0,854.0 C1054.8,857.3 1057.8,865.3 1059.0,874.0 C1060.2,882.7 1060.3,895.5 1061.0,906.0 C1061.7,916.5 1062.0,934.3 1063.0,937.0 C1064.0,939.7 1064.5,926.0 1067.0,922.0 C1069.5,918.0 1074.0,915.2 1078.0,913.0 C1082.0,910.8 1087.0,908.3 1091.0,909.0 C1095.0,909.7 1099.0,914.2 1102.0,917.0 C1105.0,919.8 1106.3,924.2 1109.0,926.0 C1111.7,927.8 1114.7,929.0 1118.0,928.0 C1121.3,927.0 1125.3,922.8 1129.0,920.0 C1132.7,917.2 1136.5,914.3 1140.0,911.0 C1143.5,907.7 1146.8,905.5 1150.0,900.0 C1153.2,894.5 1155.7,885.0 1159.0,878.0 C1162.3,871.0 1166.7,862.3 1170.0,858.0 C1173.3,853.7 1175.7,854.8 1179.0,852.0 C1182.3,849.2 1186.8,842.5 1190.0,841.0 C1193.2,839.5 1195.2,840.2 1198.0,843.0 C1200.8,845.8 1204.3,853.7 1207.0,858.0 C1209.7,862.3 1211.8,867.2 1214.0,869.0 C1216.2,870.8 1218.2,871.8 1220.0,869.0 C1221.8,866.2 1223.8,857.1 1225.0,852.0 C1226.2,846.9 1226.7,840.8 1227.0,838.5" fill="none" stroke="#000" stroke-width="2.2" stroke-linejoin="round" stroke-dasharray="9 5"/>
<path d="M207.0,838.5 C207.0,843.7 206.0,862.9 207.0,869.5 C208.0,876.1 210.7,875.6 213.0,878.0 C215.3,880.4 218.2,881.0 221.0,884.0 C223.8,887.0 227.7,892.5 230.0,896.0 C232.3,899.5 233.7,904.5 235.0,905.0 C236.3,905.5 237.5,902.2 238.0,899.0 C238.5,895.8 237.0,891.7 238.0,886.0 C239.0,880.3 242.5,870.5 244.0,865.0 C245.5,859.5 246.5,855.0 247.0,853.0" fill="none" stroke="#000" stroke-width="2.2" stroke-linejoin="round" stroke-dasharray="9 5"/>
<path d="M162.5,914.0 m-3.0,0 a3.0,3.0 0 1,0 6.0,0 a3.0,3.0 0 1,0 -6.0,0 M175.6,922.0 m-3.0,0 a3.0,3.0 0 1,0 6.0,0 a3.0,3.0 0 1,0 -6.0,0 M188.7,914.0 m-3.0,0 a3.0,3.0 0 1,0 6.0,0 a3.0,3.0 0 1,0 -6.0,0 M200.7,905.0 m-3.0,0 a3.0,3.0 0 1,0 6.0,0 a3.0,3.0 0 1,0 -6.0,0 M211.6,895.5 m-3.0,0 a3.0,3.0 0 1,0 6.0,0 a3.0,3.0 0 1,0 -6.0,0 M221.5,890.0 m-3.0,0 a3.0,3.0 0 1,0 6.0,0 a3.0,3.0 0 1,0 -6.0,0 M233.5,901.0 m-3.0,0 a3.0,3.0 0 1,0 6.0,0 a3.0,3.0 0 1,0 -6.0,0 M244.4,912.0 m-3.0,0 a3.0,3.0 0 1,0 6.0,0 a3.0,3.0 0 1,0 -6.0,0 M257.5,918.5 m-3.0,0 a3.0,3.0 0 1,0 6.0,0 a3.0,3.0 0 1,0 -6.0,0 M269.5,926.0 m-3.0,0 a3.0,3.0 0 1,0 6.0,0 a3.0,3.0 0 1,0 -6.0,0 M280.5,937.0 m-3.0,0 a3.0,3.0 0 1,0 6.0,0 a3.0,3.0 0 1,0 -6.0,0 M289.2,949.0 m-3.0,0 a3.0,3.0 0 1,0 6.0,0 a3.0,3.0 0 1,0 -6.0,0 M298.0,961.0 m-3.0,0 a3.0,3.0 0 1,0 6.0,0 a3.0,3.0 0 1,0 -6.0,0 M305.6,974.0 m-3.0,0 a3.0,3.0 0 1,0 6.0,0 a3.0,3.0 0 1,0 -6.0,0 M313.2,987.0 m-3.0,0 a3.0,3.0 0 1,0 6.0,0 a3.0,3.0 0 1,0 -6.0,0 M322.0,1000.0 m-3.0,0 a3.0,3.0 0 1,0 6.0,0 a3.0,3.0 0 1,0 -6.0,0 M329.6,1013.5 m-3.0,0 a3.0,3.0 0 1,0 6.0,0 a3.0,3.0 0 1,0 -6.0,0 M337.3,1025.5 m-3.0,0 a3.0,3.0 0 1,0 6.0,0 a3.0,3.0 0 1,0 -6.0,0 M347.1,1037.6 m-3.0,0 a3.0,3.0 0 1,0 6.0,0 a3.0,3.0 0 1,0 -6.0,0 M355.8,1048.5 m-3.0,0 a3.0,3.0 0 1,0 6.0,0 a3.0,3.0 0 1,0 -6.0,0 M370.0,1053.0 m-3.0,0 a3.0,3.0 0 1,0 6.0,0 a3.0,3.0 0 1,0 -6.0,0 M385.3,1055.0 m-3.0,0 a3.0,3.0 0 1,0 6.0,0 a3.0,3.0 0 1,0 -6.0,0 M398.4,1064.0 m-3.0,0 a3.0,3.0 0 1,0 6.0,0 a3.0,3.0 0 1,0 -6.0,0 M410.5,1071.4 m-3.0,0 a3.0,3.0 0 1,0 6.0,0 a3.0,3.0 0 1,0 -6.0,0 M423.6,1079.0 m-3.0,0 a3.0,3.0 0 1,0 6.0,0 a3.0,3.0 0 1,0 -6.0,0 M438.0,1080.5 m-3.0,0 a3.0,3.0 0 1,0 6.0,0 a3.0,3.0 0 1,0 -6.0,0 M454.0,1081.3 m-3.0,0 a3.0,3.0 0 1,0 6.0,0 a3.0,3.0 0 1,0 -6.0,0 M462.8,1069.2 m-3.0,0 a3.0,3.0 0 1,0 6.0,0 a3.0,3.0 0 1,0 -6.0,0 M471.5,1057.2 m-3.0,0 a3.0,3.0 0 1,0 6.0,0 a3.0,3.0 0 1,0 -6.0,0 M485.7,1055.0 m-3.0,0 a3.0,3.0 0 1,0 6.0,0 a3.0,3.0 0 1,0 -6.0,0 M500.0,1054.0 m-3.0,0 a3.0,3.0 0 1,0 6.0,0 a3.0,3.0 0 1,0 -6.0,0 M514.0,1048.5 m-3.0,0 a3.0,3.0 0 1,0 6.0,0 a3.0,3.0 0 1,0 -6.0,0 M526.0,1039.7 m-3.0,0 a3.0,3.0 0 1,0 6.0,0 a3.0,3.0 0 1,0 -6.0,0 M538.0,1030.0 m-3.0,0 a3.0,3.0 0 1,0 6.0,0 a3.0,3.0 0 1,0 -6.0,0 M549.0,1020.0 m-3.0,0 a3.0,3.0 0 1,0 6.0,0 a3.0,3.0 0 1,0 -6.0,0 M561.0,1010.0 m-3.0,0 a3.0,3.0 0 1,0 6.0,0 a3.0,3.0 0 1,0 -6.0,0 M572.0,1000.4 m-3.0,0 a3.0,3.0 0 1,0 6.0,0 a3.0,3.0 0 1,0 -6.0,0 M584.0,991.7 m-3.0,0 a3.0,3.0 0 1,0 6.0,0 a3.0,3.0 0 1,0 -6.0,0 M596.0,983.0 m-3.0,0 a3.0,3.0 0 1,0 6.0,0 a3.0,3.0 0 1,0 -6.0,0 M611.0,983.0 m-3.0,0 a3.0,3.0 0 1,0 6.0,0 a3.0,3.0 0 1,0 -6.0,0 M626.6,983.0 m-3.0,0 a3.0,3.0 0 1,0 6.0,0 a3.0,3.0 0 1,0 -6.0,0 M641.0,984.0 m-3.0,0 a3.0,3.0 0 1,0 6.0,0 a3.0,3.0 0 1,0 -6.0,0 M656.0,987.3 m-3.0,0 a3.0,3.0 0 1,0 6.0,0 a3.0,3.0 0 1,0 -6.0,0 M670.0,991.7 m-3.0,0 a3.0,3.0 0 1,0 6.0,0 a3.0,3.0 0 1,0 -6.0,0 M685.6,991.7 m-3.0,0 a3.0,3.0 0 1,0 6.0,0 a3.0,3.0 0 1,0 -6.0,0 M700.9,991.7 m-3.0,0 a3.0,3.0 0 1,0 6.0,0 a3.0,3.0 0 1,0 -6.0,0 M712.0,980.8 m-3.0,0 a3.0,3.0 0 1,0 6.0,0 a3.0,3.0 0 1,0 -6.0,0 M723.0,971.0 m-3.0,0 a3.0,3.0 0 1,0 6.0,0 a3.0,3.0 0 1,0 -6.0,0 M734.0,961.0 m-3.0,0 a3.0,3.0 0 1,0 6.0,0 a3.0,3.0 0 1,0 -6.0,0 M748.0,959.0 m-3.0,0 a3.0,3.0 0 1,0 6.0,0 a3.0,3.0 0 1,0 -6.0,0 M763.4,958.0 m-3.0,0 a3.0,3.0 0 1,0 6.0,0 a3.0,3.0 0 1,0 -6.0,0 M778.7,958.0 m-3.0,0 a3.0,3.0 0 1,0 6.0,0 a3.0,3.0 0 1,0 -6.0,0 M794.0,958.0 m-3.0,0 a3.0,3.0 0 1,0 6.0,0 a3.0,3.0 0 1,0 -6.0,0 M806.0,965.5 m-3.0,0 a3.0,3.0 0 1,0 6.0,0 a3.0,3.0 0 1,0 -6.0,0 M818.0,975.3 m-3.0,0 a3.0,3.0 0 1,0 6.0,0 a3.0,3.0 0 1,0 -6.0,0 M829.0,985.0 m-3.0,0 a3.0,3.0 0 1,0 6.0,0 a3.0,3.0 0 1,0 -6.0,0 M840.0,996.0 m-3.0,0 a3.0,3.0 0 1,0 6.0,0 a3.0,3.0 0 1,0 -6.0,0 M851.0,1006.0 m-3.0,0 a3.0,3.0 0 1,0 6.0,0 a3.0,3.0 0 1,0 -6.0,0 M863.0,1017.0 m-3.0,0 a3.0,3.0 0 1,0 6.0,0 a3.0,3.0 0 1,0 -6.0,0 M876.0,1022.0 m-3.0,0 a3.0,3.0 0 1,0 6.0,0 a3.0,3.0 0 1,0 -6.0,0 M890.0,1029.0 m-3.0,0 a3.0,3.0 0 1,0 6.0,0 a3.0,3.0 0 1,0 -6.0,0 M903.0,1034.0 m-3.0,0 a3.0,3.0 0 1,0 6.0,0 a3.0,3.0 0 1,0 -6.0,0 M917.4,1041.0 m-3.0,0 a3.0,3.0 0 1,0 6.0,0 a3.0,3.0 0 1,0 -6.0,0 M931.6,1045.0 m-3.0,0 a3.0,3.0 0 1,0 6.0,0 a3.0,3.0 0 1,0 -6.0,0 M947.0,1045.0 m-3.0,0 a3.0,3.0 0 1,0 6.0,0 a3.0,3.0 0 1,0 -6.0,0 M962.0,1045.0 m-3.0,0 a3.0,3.0 0 1,0 6.0,0 a3.0,3.0 0 1,0 -6.0,0 M977.5,1045.0 m-3.0,0 a3.0,3.0 0 1,0 6.0,0 a3.0,3.0 0 1,0 -6.0,0 M992.0,1042.0 m-3.0,0 a3.0,3.0 0 1,0 6.0,0 a3.0,3.0 0 1,0 -6.0,0 M1006.0,1036.5 m-3.0,0 a3.0,3.0 0 1,0 6.0,0 a3.0,3.0 0 1,0 -6.0,0 M1020.4,1031.0 m-3.0,0 a3.0,3.0 0 1,0 6.0,0 a3.0,3.0 0 1,0 -6.0,0 M1034.6,1025.5 m-3.0,0 a3.0,3.0 0 1,0 6.0,0 a3.0,3.0 0 1,0 -6.0,0 M1048.8,1021.0 m-3.0,0 a3.0,3.0 0 1,0 6.0,0 a3.0,3.0 0 1,0 -6.0,0 M1063.0,1017.0 m-3.0,0 a3.0,3.0 0 1,0 6.0,0 a3.0,3.0 0 1,0 -6.0,0 M1069.6,1002.6 m-3.0,0 a3.0,3.0 0 1,0 6.0,0 a3.0,3.0 0 1,0 -6.0,0 M1076.0,989.5 m-3.0,0 a3.0,3.0 0 1,0 6.0,0 a3.0,3.0 0 1,0 -6.0,0 M1082.7,976.4 m-3.0,0 a3.0,3.0 0 1,0 6.0,0 a3.0,3.0 0 1,0 -6.0,0 M1090.0,963.0 m-3.0,0 a3.0,3.0 0 1,0 6.0,0 a3.0,3.0 0 1,0 -6.0,0 M1105.6,962.0 m-3.0,0 a3.0,3.0 0 1,0 6.0,0 a3.0,3.0 0 1,0 -6.0,0 M1121.0,962.0 m-3.0,0 a3.0,3.0 0 1,0 6.0,0 a3.0,3.0 0 1,0 -6.0,0 M1136.0,962.0 m-3.0,0 a3.0,3.0 0 1,0 6.0,0 a3.0,3.0 0 1,0 -6.0,0 M1151.5,962.0 m-3.0,0 a3.0,3.0 0 1,0 6.0,0 a3.0,3.0 0 1,0 -6.0,0 M1162.4,953.4 m-3.0,0 a3.0,3.0 0 1,0 6.0,0 a3.0,3.0 0 1,0 -6.0,0 M1173.4,943.6 m-3.0,0 a3.0,3.0 0 1,0 6.0,0 a3.0,3.0 0 1,0 -6.0,0 M1185.4,934.0 m-3.0,0 a3.0,3.0 0 1,0 6.0,0 a3.0,3.0 0 1,0 -6.0,0 M1199.6,930.5 m-3.0,0 a3.0,3.0 0 1,0 6.0,0 a3.0,3.0 0 1,0 -6.0,0 M1215.0,930.5 m-3.0,0 a3.0,3.0 0 1,0 6.0,0 a3.0,3.0 0 1,0 -6.0,0 M1229.0,930.5 m-3.0,0 a3.0,3.0 0 1,0 6.0,0 a3.0,3.0 0 1,0 -6.0,0 M1244.4,930.5 m-3.0,0 a3.0,3.0 0 1,0 6.0,0 a3.0,3.0 0 1,0 -6.0,0 M1259.7,930.5 m-3.0,0 a3.0,3.0 0 1,0 6.0,0 a3.0,3.0 0 1,0 -6.0,0" fill="#fff"/>
<path d="M155.9,946.0 m-3.0,0 a3.0,3.0 0 1,0 6.0,0 a3.0,3.0 0 1,0 -6.0,0 M167.9,956.0 m-3.0,0 a3.0,3.0 0 1,0 6.0,0 a3.0,3.0 0 1,0 -6.0,0 M178.9,960.0 m-3.0,0 a3.0,3.0 0 1,0 6.0,0 a3.0,3.0 0 1,0 -6.0,0 M190.9,950.0 m-3.0,0 a3.0,3.0 0 1,0 6.0,0 a3.0,3.0 0 1,0 -6.0,0 M200.7,939.0 m-3.0,0 a3.0,3.0 0 1,0 6.0,0 a3.0,3.0 0 1,0 -6.0,0 M208.4,926.0 m-3.0,0 a3.0,3.0 0 1,0 6.0,0 a3.0,3.0 0 1,0 -6.0,0 M217.1,914.0 m-3.0,0 a3.0,3.0 0 1,0 6.0,0 a3.0,3.0 0 1,0 -6.0,0 M225.8,920.0 m-3.0,0 a3.0,3.0 0 1,0 6.0,0 a3.0,3.0 0 1,0 -6.0,0 M233.5,931.6 m-3.0,0 a3.0,3.0 0 1,0 6.0,0 a3.0,3.0 0 1,0 -6.0,0 M242.2,944.7 m-3.0,0 a3.0,3.0 0 1,0 6.0,0 a3.0,3.0 0 1,0 -6.0,0 M254.2,954.5 m-3.0,0 a3.0,3.0 0 1,0 6.0,0 a3.0,3.0 0 1,0 -6.0,0 M265.2,962.0 m-3.0,0 a3.0,3.0 0 1,0 6.0,0 a3.0,3.0 0 1,0 -6.0,0 M274.0,975.0 m-3.0,0 a3.0,3.0 0 1,0 6.0,0 a3.0,3.0 0 1,0 -6.0,0 M281.6,988.0 m-3.0,0 a3.0,3.0 0 1,0 6.0,0 a3.0,3.0 0 1,0 -6.0,0 M289.2,1001.5 m-3.0,0 a3.0,3.0 0 1,0 6.0,0 a3.0,3.0 0 1,0 -6.0,0 M294.7,1015.7 m-3.0,0 a3.0,3.0 0 1,0 6.0,0 a3.0,3.0 0 1,0 -6.0,0 M300.1,1028.8 m-3.0,0 a3.0,3.0 0 1,0 6.0,0 a3.0,3.0 0 1,0 -6.0,0 M306.7,1043.0 m-3.0,0 a3.0,3.0 0 1,0 6.0,0 a3.0,3.0 0 1,0 -6.0,0 M312.0,1057.0 m-3.0,0 a3.0,3.0 0 1,0 6.0,0 a3.0,3.0 0 1,0 -6.0,0 M317.6,1070.0 m-3.0,0 a3.0,3.0 0 1,0 6.0,0 a3.0,3.0 0 1,0 -6.0,0 M323.0,1084.5 m-3.0,0 a3.0,3.0 0 1,0 6.0,0 a3.0,3.0 0 1,0 -6.0,0 M329.6,1098.7 m-3.0,0 a3.0,3.0 0 1,0 6.0,0 a3.0,3.0 0 1,0 -6.0,0 M335.0,1113.0 m-3.0,0 a3.0,3.0 0 1,0 6.0,0 a3.0,3.0 0 1,0 -6.0,0 M341.6,1126.0 m-3.0,0 a3.0,3.0 0 1,0 6.0,0 a3.0,3.0 0 1,0 -6.0,0 M348.2,1139.0 m-3.0,0 a3.0,3.0 0 1,0 6.0,0 a3.0,3.0 0 1,0 -6.0,0 M354.7,1152.0 m-3.0,0 a3.0,3.0 0 1,0 6.0,0 a3.0,3.0 0 1,0 -6.0,0 M369.0,1157.7 m-3.0,0 a3.0,3.0 0 1,0 6.0,0 a3.0,3.0 0 1,0 -6.0,0 M383.0,1162.0 m-3.0,0 a3.0,3.0 0 1,0 6.0,0 a3.0,3.0 0 1,0 -6.0,0 M395.0,1171.0 m-3.0,0 a3.0,3.0 0 1,0 6.0,0 a3.0,3.0 0 1,0 -6.0,0 M405.0,1182.0 m-3.0,0 a3.0,3.0 0 1,0 6.0,0 a3.0,3.0 0 1,0 -6.0,0 M416.0,1192.7 m-3.0,0 a3.0,3.0 0 1,0 6.0,0 a3.0,3.0 0 1,0 -6.0,0 M429.0,1199.0 m-3.0,0 a3.0,3.0 0 1,0 6.0,0 a3.0,3.0 0 1,0 -6.0,0 M443.0,1202.5 m-3.0,0 a3.0,3.0 0 1,0 6.0,0 a3.0,3.0 0 1,0 -6.0,0 M455.0,1199.0 m-3.0,0 a3.0,3.0 0 1,0 6.0,0 a3.0,3.0 0 1,0 -6.0,0 M461.7,1186.0 m-3.0,0 a3.0,3.0 0 1,0 6.0,0 a3.0,3.0 0 1,0 -6.0,0 M468.2,1173.0 m-3.0,0 a3.0,3.0 0 1,0 6.0,0 a3.0,3.0 0 1,0 -6.0,0 M477.0,1163.0 m-3.0,0 a3.0,3.0 0 1,0 6.0,0 a3.0,3.0 0 1,0 -6.0,0 M492.3,1161.0 m-3.0,0 a3.0,3.0 0 1,0 6.0,0 a3.0,3.0 0 1,0 -6.0,0 M507.6,1159.0 m-3.0,0 a3.0,3.0 0 1,0 6.0,0 a3.0,3.0 0 1,0 -6.0,0 M517.4,1149.0 m-3.0,0 a3.0,3.0 0 1,0 6.0,0 a3.0,3.0 0 1,0 -6.0,0 M527.2,1138.0 m-3.0,0 a3.0,3.0 0 1,0 6.0,0 a3.0,3.0 0 1,0 -6.0,0 M537.0,1126.0 m-3.0,0 a3.0,3.0 0 1,0 6.0,0 a3.0,3.0 0 1,0 -6.0,0 M545.8,1114.0 m-3.0,0 a3.0,3.0 0 1,0 6.0,0 a3.0,3.0 0 1,0 -6.0,0 M555.6,1102.0 m-3.0,0 a3.0,3.0 0 1,0 6.0,0 a3.0,3.0 0 1,0 -6.0,0 M565.5,1090.0 m-3.0,0 a3.0,3.0 0 1,0 6.0,0 a3.0,3.0 0 1,0 -6.0,0 M574.2,1079.0 m-3.0,0 a3.0,3.0 0 1,0 6.0,0 a3.0,3.0 0 1,0 -6.0,0 M584.0,1067.0 m-3.0,0 a3.0,3.0 0 1,0 6.0,0 a3.0,3.0 0 1,0 -6.0,0 M592.8,1055.0 m-3.0,0 a3.0,3.0 0 1,0 6.0,0 a3.0,3.0 0 1,0 -6.0,0 M607.0,1054.0 m-3.0,0 a3.0,3.0 0 1,0 6.0,0 a3.0,3.0 0 1,0 -6.0,0 M622.3,1054.0 m-3.0,0 a3.0,3.0 0 1,0 6.0,0 a3.0,3.0 0 1,0 -6.0,0 M637.6,1055.0 m-3.0,0 a3.0,3.0 0 1,0 6.0,0 a3.0,3.0 0 1,0 -6.0,0 M651.8,1060.5 m-3.0,0 a3.0,3.0 0 1,0 6.0,0 a3.0,3.0 0 1,0 -6.0,0 M666.0,1066.0 m-3.0,0 a3.0,3.0 0 1,0 6.0,0 a3.0,3.0 0 1,0 -6.0,0 M681.3,1067.0 m-3.0,0 a3.0,3.0 0 1,0 6.0,0 a3.0,3.0 0 1,0 -6.0,0 M695.5,1067.0 m-3.0,0 a3.0,3.0 0 1,0 6.0,0 a3.0,3.0 0 1,0 -6.0,0 M706.4,1059.4 m-3.0,0 a3.0,3.0 0 1,0 6.0,0 a3.0,3.0 0 1,0 -6.0,0 M715.3,1047.4 m-3.0,0 a3.0,3.0 0 1,0 6.0,0 a3.0,3.0 0 1,0 -6.0,0 M724.0,1035.4 m-3.0,0 a3.0,3.0 0 1,0 6.0,0 a3.0,3.0 0 1,0 -6.0,0 M732.8,1022.3 m-3.0,0 a3.0,3.0 0 1,0 6.0,0 a3.0,3.0 0 1,0 -6.0,0 M745.9,1018.0 m-3.0,0 a3.0,3.0 0 1,0 6.0,0 a3.0,3.0 0 1,0 -6.0,0 M761.2,1017.0 m-3.0,0 a3.0,3.0 0 1,0 6.0,0 a3.0,3.0 0 1,0 -6.0,0 M776.5,1017.0 m-3.0,0 a3.0,3.0 0 1,0 6.0,0 a3.0,3.0 0 1,0 -6.0,0 M791.8,1017.0 m-3.0,0 a3.0,3.0 0 1,0 6.0,0 a3.0,3.0 0 1,0 -6.0,0 M802.7,1023.4 m-3.0,0 a3.0,3.0 0 1,0 6.0,0 a3.0,3.0 0 1,0 -6.0,0 M812.5,1035.4 m-3.0,0 a3.0,3.0 0 1,0 6.0,0 a3.0,3.0 0 1,0 -6.0,0 M821.3,1047.4 m-3.0,0 a3.0,3.0 0 1,0 6.0,0 a3.0,3.0 0 1,0 -6.0,0 M830.0,1059.4 m-3.0,0 a3.0,3.0 0 1,0 6.0,0 a3.0,3.0 0 1,0 -6.0,0 M838.7,1071.4 m-3.0,0 a3.0,3.0 0 1,0 6.0,0 a3.0,3.0 0 1,0 -6.0,0 M847.5,1083.4 m-3.0,0 a3.0,3.0 0 1,0 6.0,0 a3.0,3.0 0 1,0 -6.0,0 M856.2,1096.0 m-3.0,0 a3.0,3.0 0 1,0 6.0,0 a3.0,3.0 0 1,0 -6.0,0 M866.0,1107.5 m-3.0,0 a3.0,3.0 0 1,0 6.0,0 a3.0,3.0 0 1,0 -6.0,0 M879.2,1115.0 m-3.0,0 a3.0,3.0 0 1,0 6.0,0 a3.0,3.0 0 1,0 -6.0,0 M892.3,1123.0 m-3.0,0 a3.0,3.0 0 1,0 6.0,0 a3.0,3.0 0 1,0 -6.0,0 M904.3,1131.5 m-3.0,0 a3.0,3.0 0 1,0 6.0,0 a3.0,3.0 0 1,0 -6.0,0 M916.3,1139.0 m-3.0,0 a3.0,3.0 0 1,0 6.0,0 a3.0,3.0 0 1,0 -6.0,0 M929.4,1145.7 m-3.0,0 a3.0,3.0 0 1,0 6.0,0 a3.0,3.0 0 1,0 -6.0,0 M944.7,1147.0 m-3.0,0 a3.0,3.0 0 1,0 6.0,0 a3.0,3.0 0 1,0 -6.0,0 M960.0,1147.0 m-3.0,0 a3.0,3.0 0 1,0 6.0,0 a3.0,3.0 0 1,0 -6.0,0 M975.3,1147.0 m-3.0,0 a3.0,3.0 0 1,0 6.0,0 a3.0,3.0 0 1,0 -6.0,0 M989.8,1144.6 m-3.0,0 a3.0,3.0 0 1,0 6.0,0 a3.0,3.0 0 1,0 -6.0,0 M1003.0,1136.0 m-3.0,0 a3.0,3.0 0 1,0 6.0,0 a3.0,3.0 0 1,0 -6.0,0 M1016.0,1128.0 m-3.0,0 a3.0,3.0 0 1,0 6.0,0 a3.0,3.0 0 1,0 -6.0,0 M1029.0,1121.7 m-3.0,0 a3.0,3.0 0 1,0 6.0,0 a3.0,3.0 0 1,0 -6.0,0 M1043.4,1115.0 m-3.0,0 a3.0,3.0 0 1,0 6.0,0 a3.0,3.0 0 1,0 -6.0,0 M1056.5,1108.6 m-3.0,0 a3.0,3.0 0 1,0 6.0,0 a3.0,3.0 0 1,0 -6.0,0 M1065.0,1097.6 m-3.0,0 a3.0,3.0 0 1,0 6.0,0 a3.0,3.0 0 1,0 -6.0,0 M1069.6,1083.4 m-3.0,0 a3.0,3.0 0 1,0 6.0,0 a3.0,3.0 0 1,0 -6.0,0 M1075.0,1069.0 m-3.0,0 a3.0,3.0 0 1,0 6.0,0 a3.0,3.0 0 1,0 -6.0,0 M1079.4,1055.0 m-3.0,0 a3.0,3.0 0 1,0 6.0,0 a3.0,3.0 0 1,0 -6.0,0 M1084.9,1041.0 m-3.0,0 a3.0,3.0 0 1,0 6.0,0 a3.0,3.0 0 1,0 -6.0,0 M1089.2,1026.6 m-3.0,0 a3.0,3.0 0 1,0 6.0,0 a3.0,3.0 0 1,0 -6.0,0 M1103.4,1023.4 m-3.0,0 a3.0,3.0 0 1,0 6.0,0 a3.0,3.0 0 1,0 -6.0,0 M1117.6,1022.3 m-3.0,0 a3.0,3.0 0 1,0 6.0,0 a3.0,3.0 0 1,0 -6.0,0 M1133.0,1023.4 m-3.0,0 a3.0,3.0 0 1,0 6.0,0 a3.0,3.0 0 1,0 -6.0,0 M1148.0,1023.4 m-3.0,0 a3.0,3.0 0 1,0 6.0,0 a3.0,3.0 0 1,0 -6.0,0 M1158.0,1014.6 m-3.0,0 a3.0,3.0 0 1,0 6.0,0 a3.0,3.0 0 1,0 -6.0,0 M1166.8,1003.7 m-3.0,0 a3.0,3.0 0 1,0 6.0,0 a3.0,3.0 0 1,0 -6.0,0 M1175.5,991.7 m-3.0,0 a3.0,3.0 0 1,0 6.0,0 a3.0,3.0 0 1,0 -6.0,0 M1185.4,978.6 m-3.0,0 a3.0,3.0 0 1,0 6.0,0 a3.0,3.0 0 1,0 -6.0,0 M1199.6,975.3 m-3.0,0 a3.0,3.0 0 1,0 6.0,0 a3.0,3.0 0 1,0 -6.0,0 M1215.0,975.3 m-3.0,0 a3.0,3.0 0 1,0 6.0,0 a3.0,3.0 0 1,0 -6.0,0 M1229.0,975.3 m-3.0,0 a3.0,3.0 0 1,0 6.0,0 a3.0,3.0 0 1,0 -6.0,0 M1244.4,974.2 m-3.0,0 a3.0,3.0 0 1,0 6.0,0 a3.0,3.0 0 1,0 -6.0,0 M1259.7,974.2 m-3.0,0 a3.0,3.0 0 1,0 6.0,0 a3.0,3.0 0 1,0 -6.0,0" fill="#fff"/>
<text x="169.0" y="882.0" font-size="21" font-weight="bold" text-anchor="middle" dominant-baseline="central" transform="rotate(-80 169.0 882.0)">5</text>
<text x="186.0" y="970.0" font-size="21" font-weight="bold" text-anchor="middle" dominant-baseline="central" transform="rotate(0 186.0 970.0)">10</text>
<text x="190.0" y="1098.0" font-size="21" font-weight="bold" text-anchor="middle" dominant-baseline="central" transform="rotate(0 190.0 1098.0)">20</text>
<text x="240.0" y="1268.0" font-size="21" font-weight="bold" text-anchor="middle" dominant-baseline="central" transform="rotate(0 240.0 1268.0)">15</text>
<text x="648.0" y="895.0" font-size="21" font-weight="bold" text-anchor="middle" dominant-baseline="central" transform="rotate(0 648.0 895.0)">0.05</text>
<text x="454.0" y="1153.0" font-size="21" font-weight="bold" text-anchor="middle" dominant-baseline="central" transform="rotate(0 454.0 1153.0)">1</text>
<text x="664.0" y="998.0" font-size="21" font-weight="bold" text-anchor="middle" dominant-baseline="central" transform="rotate(0 664.0 998.0)">15</text>
<text x="617.0" y="1156.0" font-size="21" font-weight="bold" text-anchor="middle" dominant-baseline="central" transform="rotate(0 617.0 1156.0)">25</text>
<text x="829.0" y="969.0" font-size="21" font-weight="bold" text-anchor="middle" dominant-baseline="central" transform="rotate(-20 829.0 969.0)">20</text>
<text x="829.0" y="1143.0" font-size="21" font-weight="bold" text-anchor="middle" dominant-baseline="central" transform="rotate(0 829.0 1143.0)">25</text>
<text x="1049.0" y="846.0" font-size="21" font-weight="bold" text-anchor="middle" dominant-baseline="central" transform="rotate(-70 1049.0 846.0)">0.05</text>
<text x="1060.0" y="1025.0" font-size="21" font-weight="bold" text-anchor="middle" dominant-baseline="central" transform="rotate(-75 1060.0 1025.0)">1</text>
<text x="1210.0" y="957.0" font-size="21" font-weight="bold" text-anchor="middle" dominant-baseline="central" transform="rotate(0 1210.0 957.0)">5</text>
<text x="1268.0" y="1162.0" font-size="21" font-weight="bold" text-anchor="middle" dominant-baseline="central" transform="rotate(-60 1268.0 1162.0)">10</text>
</g>
<rect x="150.5" y="836.5" width="1124.0" height="440.5" fill="none" stroke="#000" stroke-width="2.4"/>
<line x1="140.0" y1="836.5" x2="150.5" y2="836.5" stroke="#000" stroke-width="2.2"/>
<text x="129.0" y="849.3" font-size="36.5" font-weight="bold" text-anchor="end">0</text>
<line x1="143.5" y1="924.6" x2="150.5" y2="924.6" stroke="#999" stroke-width="1.5"/>
<line x1="140.0" y1="1012.7" x2="150.5" y2="1012.7" stroke="#000" stroke-width="2.2"/>
<text x="129.0" y="1025.5" font-size="36.5" font-weight="bold" text-anchor="end">100</text>
<line x1="143.5" y1="1100.8" x2="150.5" y2="1100.8" stroke="#999" stroke-width="1.5"/>
<line x1="140.0" y1="1188.9" x2="150.5" y2="1188.9" stroke="#000" stroke-width="2.2"/>
<text x="129.0" y="1201.7" font-size="36.5" font-weight="bold" text-anchor="end">200</text>
<line x1="143.5" y1="1277.0" x2="150.5" y2="1277.0" stroke="#999" stroke-width="1.5"/>
<line x1="223.9" y1="1277.0" x2="223.9" y2="1287.5" stroke="#000" stroke-width="2.2"/>
<text x="223.9" y="1327.5" font-size="36.5" font-weight="bold" text-anchor="middle">40°S</text>
<line x1="456.3" y1="1277.0" x2="456.3" y2="1287.5" stroke="#000" stroke-width="2.2"/>
<text x="456.3" y="1327.5" font-size="36.5" font-weight="bold" text-anchor="middle">20°S</text>
<line x1="689.1" y1="1277.0" x2="689.1" y2="1287.5" stroke="#000" stroke-width="2.2"/>
<text x="689.1" y="1327.5" font-size="36.5" font-weight="bold" text-anchor="middle">EQ</text>
<line x1="921.8" y1="1277.0" x2="921.8" y2="1287.5" stroke="#000" stroke-width="2.2"/>
<text x="921.8" y="1327.5" font-size="36.5" font-weight="bold" text-anchor="middle">20°N</text>
<line x1="1154.5" y1="1277.0" x2="1154.5" y2="1287.5" stroke="#000" stroke-width="2.2"/>
<text x="1154.5" y="1327.5" font-size="36.5" font-weight="bold" text-anchor="middle">40°N</text>
<line x1="340.2" y1="1277.0" x2="340.2" y2="1284.0" stroke="#aaa" stroke-width="1.5"/>
<line x1="572.9" y1="1277.0" x2="572.9" y2="1284.0" stroke="#aaa" stroke-width="1.5"/>
<line x1="805.5" y1="1277.0" x2="805.5" y2="1284.0" stroke="#aaa" stroke-width="1.5"/>
<line x1="1038.2" y1="1277.0" x2="1038.2" y2="1284.0" stroke="#aaa" stroke-width="1.5"/>
<line x1="1270.8" y1="1277.0" x2="1270.8" y2="1284.0" stroke="#aaa" stroke-width="1.5"/>
<text x="0" y="0" font-size="42" font-weight="bold" text-anchor="middle" transform="translate(32.5 1057.0) rotate(-90) scale(1,1.045)">Depth [m]</text>
<g clip-path="url(#c3)">
<g filter="url(#b6)">
<path d="M126.7,1458.0 C245.0,1408.0 1191.7,1408.0 1310.0,1458.0 C1428.3,1508.0 1428.3,1908.5 1310.0,1958.5 C1191.7,2008.5 245.0,2008.5 126.7,1958.5 C8.4,1908.5 8.4,1508.0 126.7,1458.0 Z" fill="#4078f0"/>
<path d="M126.7,1880.0 C245.0,1870.2 1191.7,1852.2 1310.0,1860.0 C1428.3,1867.8 1428.3,1948.7 1310.0,1958.5 C1191.7,1968.3 245.0,1966.3 126.7,1958.5 C8.4,1950.7 8.4,1889.8 126.7,1880.0 Z" fill="#3e73f0"/>
</g>
<g filter="url(#b14)">
<path d="M126.7,1458.0 C145.3,1442.1 294.1,1453.8 313.0,1458.0 C331.9,1462.2 315.5,1489.8 316.0,1500.0 C316.5,1510.2 317.7,1550.1 318.0,1560.0 C318.3,1569.9 318.9,1595.1 319.0,1599.0 C319.1,1602.9 318.5,1598.2 319.0,1599.0 C319.5,1599.8 323.3,1604.1 324.0,1607.0 C324.7,1609.9 324.8,1625.0 326.0,1628.0 C327.2,1631.0 333.5,1635.7 336.0,1637.0 C338.5,1638.3 348.4,1639.8 351.0,1641.0 C353.6,1642.2 360.5,1646.9 362.0,1649.0 C363.5,1651.1 364.3,1661.3 366.0,1662.0 C367.7,1662.7 376.9,1656.6 379.0,1656.0 C381.1,1655.4 384.9,1655.2 387.0,1656.0 C389.1,1656.8 397.2,1663.4 400.0,1664.0 C402.8,1664.6 411.8,1662.8 415.0,1662.0 C418.2,1661.2 428.5,1657.3 432.0,1656.0 C435.5,1654.7 446.5,1648.6 450.0,1649.0 C453.5,1649.4 464.2,1657.6 467.0,1660.0 C469.8,1662.4 474.8,1670.7 478.0,1673.0 C481.2,1675.3 495.8,1680.5 499.0,1683.0 C502.2,1685.5 507.9,1696.3 510.0,1698.0 C512.1,1699.7 518.1,1701.0 520.0,1700.0 C521.9,1699.0 526.8,1690.9 529.0,1688.0 C531.2,1685.1 539.5,1674.9 542.0,1671.0 C544.5,1667.1 552.1,1652.4 554.0,1649.0 C555.9,1645.6 559.3,1639.5 561.0,1637.0 C562.7,1634.5 568.3,1626.8 571.0,1624.0 C573.7,1621.2 584.8,1610.7 588.0,1609.0 C591.2,1607.3 601.3,1607.8 603.0,1607.0 C604.7,1606.2 605.6,1602.3 605.0,1601.0 C604.4,1599.7 597.6,1595.3 597.0,1594.0 C596.4,1592.7 597.3,1589.0 599.0,1588.0 C600.7,1587.0 611.7,1585.5 614.0,1584.0 C616.3,1582.5 621.0,1576.6 622.0,1573.0 C623.0,1569.4 623.4,1550.9 624.0,1548.0 C624.6,1545.1 627.1,1543.8 628.0,1544.0 C628.9,1544.2 632.3,1547.5 633.0,1550.0 C633.7,1552.5 634.0,1565.4 635.0,1569.0 C636.0,1572.6 641.3,1584.5 643.0,1586.0 C644.7,1587.5 649.9,1584.9 652.0,1584.0 C654.1,1583.1 661.3,1577.4 664.0,1577.0 C666.7,1576.6 676.0,1579.7 679.0,1580.0 C682.0,1580.3 691.0,1580.3 694.0,1580.0 C697.0,1579.7 706.4,1578.9 709.0,1577.0 C711.6,1575.1 718.3,1565.4 720.0,1561.0 C721.7,1556.6 725.0,1536.9 726.0,1533.0 C727.0,1529.1 729.2,1522.4 730.0,1522.0 C730.8,1521.6 732.9,1527.3 734.0,1529.0 C735.1,1530.7 738.2,1538.0 741.0,1539.0 C743.8,1540.0 757.3,1539.4 762.0,1539.0 C766.7,1538.6 783.3,1535.6 788.0,1535.0 C792.7,1534.4 805.2,1532.8 809.0,1533.0 C812.8,1533.2 822.8,1535.5 826.0,1537.0 C829.2,1538.5 837.4,1547.1 841.0,1548.0 C844.6,1548.9 858.0,1545.0 862.0,1546.0 C866.0,1547.0 877.2,1555.1 881.0,1558.0 C884.8,1560.9 896.0,1572.2 900.0,1575.0 C904.0,1577.8 917.4,1584.5 921.0,1586.0 C924.6,1587.5 932.8,1588.5 936.0,1590.0 C939.2,1591.5 949.2,1598.9 953.0,1601.0 C956.8,1603.1 969.8,1609.3 974.0,1611.0 C978.2,1612.7 990.4,1618.0 995.0,1618.0 C999.6,1618.0 1015.5,1612.5 1020.0,1611.0 C1024.5,1609.5 1036.5,1605.2 1040.0,1603.0 C1043.5,1600.8 1052.2,1591.1 1055.0,1589.0 C1057.8,1586.9 1065.3,1583.9 1068.0,1582.0 C1070.7,1580.1 1079.0,1572.0 1082.0,1570.0 C1085.0,1568.0 1094.7,1562.4 1098.0,1562.0 C1101.3,1561.6 1111.3,1566.4 1115.0,1566.0 C1118.7,1565.6 1130.9,1560.5 1135.0,1558.0 C1139.1,1555.5 1153.1,1544.1 1156.0,1541.0 C1158.9,1537.9 1163.0,1529.9 1164.0,1527.0 C1165.0,1524.1 1165.8,1518.9 1166.0,1512.0 C1166.2,1505.1 1151.6,1463.4 1166.0,1458.0 C1180.4,1452.6 1295.6,1443.5 1310.0,1458.0 C1324.4,1472.5 1312.8,1588.5 1310.0,1603.0 C1307.2,1617.5 1286.4,1602.6 1282.0,1603.0 C1277.6,1603.4 1269.0,1605.0 1266.0,1607.0 C1263.0,1609.0 1255.3,1619.9 1252.0,1623.0 C1248.7,1626.1 1236.5,1638.0 1233.0,1638.0 C1229.5,1638.0 1220.0,1624.1 1217.0,1623.0 C1214.0,1621.9 1205.7,1625.8 1203.0,1627.0 C1200.3,1628.2 1191.8,1632.2 1190.0,1635.0 C1188.2,1637.8 1186.0,1650.5 1185.0,1655.0 C1184.0,1659.5 1181.1,1676.3 1180.0,1680.0 C1178.9,1683.7 1176.0,1688.7 1174.0,1692.0 C1172.0,1695.3 1162.7,1709.9 1160.0,1713.0 C1157.3,1716.1 1150.7,1721.6 1147.0,1723.0 C1143.3,1724.4 1126.0,1725.6 1123.0,1727.0 C1120.0,1728.4 1118.3,1736.6 1117.0,1737.0 C1115.7,1737.4 1111.7,1732.2 1110.0,1731.0 C1108.3,1729.8 1102.4,1724.0 1100.0,1725.0 C1097.6,1726.0 1088.4,1737.3 1086.0,1741.0 C1083.6,1744.7 1078.5,1758.3 1076.0,1762.0 C1073.5,1765.7 1065.3,1774.9 1061.0,1778.0 C1056.7,1781.1 1037.3,1790.3 1033.0,1793.0 C1028.7,1795.7 1021.3,1804.6 1018.0,1805.0 C1014.7,1805.4 1003.3,1798.0 1000.0,1797.0 C996.7,1796.0 988.6,1796.3 985.0,1795.0 C981.4,1793.7 967.2,1785.5 964.0,1784.0 C960.8,1782.5 955.0,1779.8 953.0,1780.0 C951.0,1780.2 946.1,1785.2 944.0,1786.0 C941.9,1786.8 934.9,1788.9 932.0,1788.0 C929.1,1787.1 917.8,1779.7 915.0,1777.0 C912.2,1774.3 905.9,1763.9 904.0,1761.0 C902.1,1758.1 898.3,1750.6 896.0,1748.0 C893.7,1745.4 884.2,1737.6 881.0,1735.0 C877.8,1732.4 867.0,1724.7 864.0,1722.0 C861.0,1719.3 853.3,1710.3 851.0,1708.0 C848.7,1705.7 843.5,1698.6 841.0,1699.0 C838.5,1699.4 829.2,1711.9 826.0,1712.0 C822.8,1712.1 812.4,1699.4 809.0,1700.0 C805.6,1700.6 795.4,1715.1 792.0,1718.0 C788.6,1720.9 779.5,1728.9 775.0,1729.0 C770.5,1729.1 752.5,1719.4 747.0,1719.0 C741.5,1718.6 723.2,1724.4 720.0,1725.0 C716.8,1725.6 717.6,1725.6 715.0,1725.0 C712.4,1724.4 698.2,1720.2 694.0,1719.0 C689.8,1717.8 676.2,1713.9 673.0,1713.0 C669.8,1712.1 665.0,1709.4 662.0,1710.0 C659.0,1710.6 646.8,1717.5 643.0,1719.0 C639.2,1720.5 627.4,1722.7 624.0,1725.0 C620.6,1727.3 612.2,1738.8 609.0,1742.0 C605.8,1745.2 594.9,1754.2 592.0,1757.0 C589.1,1759.8 582.1,1767.2 580.0,1770.0 C577.9,1772.8 573.1,1782.0 571.0,1785.0 C568.9,1788.0 561.5,1798.1 559.0,1800.0 C556.5,1801.9 548.6,1802.1 546.0,1804.0 C543.4,1805.9 535.8,1815.8 533.0,1819.0 C530.2,1822.2 522.3,1833.4 518.0,1836.0 C513.7,1838.6 495.5,1842.8 490.0,1845.0 C484.5,1847.2 467.0,1857.3 463.0,1858.0 C459.0,1858.7 452.7,1853.3 450.0,1852.0 C447.3,1850.7 439.1,1845.9 436.0,1845.0 C432.9,1844.1 422.2,1842.7 419.0,1843.0 C415.8,1843.3 406.8,1846.5 404.0,1848.0 C401.2,1849.5 393.1,1856.4 391.0,1858.0 C388.9,1859.6 385.1,1865.5 383.0,1864.0 C380.9,1862.5 372.5,1846.3 370.0,1843.0 C367.5,1839.7 360.5,1833.3 358.0,1831.0 C355.5,1828.7 347.2,1820.5 345.0,1820.0 C342.8,1819.5 337.9,1825.8 336.0,1826.0 C334.1,1826.2 327.7,1824.1 326.0,1822.0 C324.3,1819.9 319.9,1807.2 319.0,1805.0 C318.1,1802.8 317.3,1805.9 317.0,1800.0 C316.7,1794.1 316.0,1757.8 316.0,1746.0 C316.0,1734.2 317.3,1689.4 317.0,1682.0 C316.7,1674.6 314.5,1673.4 313.0,1672.0 C311.5,1670.6 304.8,1669.9 302.0,1668.0 C299.2,1666.1 287.1,1656.6 285.0,1653.0 C282.9,1649.4 281.8,1635.5 281.0,1632.0 C280.2,1628.5 278.2,1619.9 277.0,1618.0 C275.8,1616.1 271.1,1613.3 269.0,1613.0 C266.9,1612.7 258.4,1614.3 256.0,1615.0 C253.6,1615.7 247.1,1620.2 245.0,1620.0 C242.9,1619.8 237.1,1614.5 235.0,1613.0 C232.9,1611.5 226.6,1606.0 224.0,1605.0 C221.4,1604.0 212.2,1603.0 209.0,1603.0 C205.8,1603.0 195.8,1604.4 192.0,1605.0 C188.2,1605.6 177.5,1607.8 171.0,1609.0 C164.5,1610.2 131.1,1632.1 126.7,1617.0 C122.3,1601.9 108.1,1473.9 126.7,1458.0 Z" fill="#5298f4" stroke="#5298f4" stroke-width="36" stroke-linejoin="round"/>
</g>
<g filter="url(#b6)">
<path d="M126.7,1458.0 C145.3,1442.1 294.1,1453.8 313.0,1458.0 C331.9,1462.2 315.5,1489.8 316.0,1500.0 C316.5,1510.2 317.7,1550.1 318.0,1560.0 C318.3,1569.9 318.9,1595.1 319.0,1599.0 C319.1,1602.9 318.5,1598.2 319.0,1599.0 C319.5,1599.8 323.3,1604.1 324.0,1607.0 C324.7,1609.9 324.8,1625.0 326.0,1628.0 C327.2,1631.0 333.5,1635.7 336.0,1637.0 C338.5,1638.3 348.4,1639.8 351.0,1641.0 C353.6,1642.2 360.5,1646.9 362.0,1649.0 C363.5,1651.1 364.3,1661.3 366.0,1662.0 C367.7,1662.7 376.9,1656.6 379.0,1656.0 C381.1,1655.4 384.9,1655.2 387.0,1656.0 C389.1,1656.8 397.2,1663.4 400.0,1664.0 C402.8,1664.6 411.8,1662.8 415.0,1662.0 C418.2,1661.2 428.5,1657.3 432.0,1656.0 C435.5,1654.7 446.5,1648.6 450.0,1649.0 C453.5,1649.4 464.2,1657.6 467.0,1660.0 C469.8,1662.4 474.8,1670.7 478.0,1673.0 C481.2,1675.3 495.8,1680.5 499.0,1683.0 C502.2,1685.5 507.9,1696.3 510.0,1698.0 C512.1,1699.7 518.1,1701.0 520.0,1700.0 C521.9,1699.0 526.8,1690.9 529.0,1688.0 C531.2,1685.1 539.5,1674.9 542.0,1671.0 C544.5,1667.1 552.1,1652.4 554.0,1649.0 C555.9,1645.6 559.3,1639.5 561.0,1637.0 C562.7,1634.5 568.3,1626.8 571.0,1624.0 C573.7,1621.2 584.8,1610.7 588.0,1609.0 C591.2,1607.3 601.3,1607.8 603.0,1607.0 C604.7,1606.2 605.6,1602.3 605.0,1601.0 C604.4,1599.7 597.6,1595.3 597.0,1594.0 C596.4,1592.7 597.3,1589.0 599.0,1588.0 C600.7,1587.0 611.7,1585.5 614.0,1584.0 C616.3,1582.5 621.0,1576.6 622.0,1573.0 C623.0,1569.4 623.4,1550.9 624.0,1548.0 C624.6,1545.1 627.1,1543.8 628.0,1544.0 C628.9,1544.2 632.3,1547.5 633.0,1550.0 C633.7,1552.5 634.0,1565.4 635.0,1569.0 C636.0,1572.6 641.3,1584.5 643.0,1586.0 C644.7,1587.5 649.9,1584.9 652.0,1584.0 C654.1,1583.1 661.3,1577.4 664.0,1577.0 C666.7,1576.6 676.0,1579.7 679.0,1580.0 C682.0,1580.3 691.0,1580.3 694.0,1580.0 C697.0,1579.7 706.4,1578.9 709.0,1577.0 C711.6,1575.1 718.3,1565.4 720.0,1561.0 C721.7,1556.6 725.0,1536.9 726.0,1533.0 C727.0,1529.1 729.2,1522.4 730.0,1522.0 C730.8,1521.6 732.9,1527.3 734.0,1529.0 C735.1,1530.7 738.2,1538.0 741.0,1539.0 C743.8,1540.0 757.3,1539.4 762.0,1539.0 C766.7,1538.6 783.3,1535.6 788.0,1535.0 C792.7,1534.4 805.2,1532.8 809.0,1533.0 C812.8,1533.2 822.8,1535.5 826.0,1537.0 C829.2,1538.5 837.4,1547.1 841.0,1548.0 C844.6,1548.9 858.0,1545.0 862.0,1546.0 C866.0,1547.0 877.2,1555.1 881.0,1558.0 C884.8,1560.9 896.0,1572.2 900.0,1575.0 C904.0,1577.8 917.4,1584.5 921.0,1586.0 C924.6,1587.5 932.8,1588.5 936.0,1590.0 C939.2,1591.5 949.2,1598.9 953.0,1601.0 C956.8,1603.1 969.8,1609.3 974.0,1611.0 C978.2,1612.7 990.4,1618.0 995.0,1618.0 C999.6,1618.0 1015.5,1612.5 1020.0,1611.0 C1024.5,1609.5 1036.5,1605.2 1040.0,1603.0 C1043.5,1600.8 1052.2,1591.1 1055.0,1589.0 C1057.8,1586.9 1065.3,1583.9 1068.0,1582.0 C1070.7,1580.1 1079.0,1572.0 1082.0,1570.0 C1085.0,1568.0 1094.7,1562.4 1098.0,1562.0 C1101.3,1561.6 1111.3,1566.4 1115.0,1566.0 C1118.7,1565.6 1130.9,1560.5 1135.0,1558.0 C1139.1,1555.5 1153.1,1544.1 1156.0,1541.0 C1158.9,1537.9 1163.0,1529.9 1164.0,1527.0 C1165.0,1524.1 1165.8,1518.9 1166.0,1512.0 C1166.2,1505.1 1151.6,1463.4 1166.0,1458.0 C1180.4,1452.6 1295.6,1443.5 1310.0,1458.0 C1324.4,1472.5 1312.8,1588.5 1310.0,1603.0 C1307.2,1617.5 1286.4,1602.6 1282.0,1603.0 C1277.6,1603.4 1269.0,1605.0 1266.0,1607.0 C1263.0,1609.0 1255.3,1619.9 1252.0,1623.0 C1248.7,1626.1 1236.5,1638.0 1233.0,1638.0 C1229.5,1638.0 1220.0,1624.1 1217.0,1623.0 C1214.0,1621.9 1205.7,1625.8 1203.0,1627.0 C1200.3,1628.2 1191.8,1632.2 1190.0,1635.0 C1188.2,1637.8 1186.0,1650.5 1185.0,1655.0 C1184.0,1659.5 1181.1,1676.3 1180.0,1680.0 C1178.9,1683.7 1176.0,1688.7 1174.0,1692.0 C1172.0,1695.3 1162.7,1709.9 1160.0,1713.0 C1157.3,1716.1 1150.7,1721.6 1147.0,1723.0 C1143.3,1724.4 1126.0,1725.6 1123.0,1727.0 C1120.0,1728.4 1118.3,1736.6 1117.0,1737.0 C1115.7,1737.4 1111.7,1732.2 1110.0,1731.0 C1108.3,1729.8 1102.4,1724.0 1100.0,1725.0 C1097.6,1726.0 1088.4,1737.3 1086.0,1741.0 C1083.6,1744.7 1078.5,1758.3 1076.0,1762.0 C1073.5,1765.7 1065.3,1774.9 1061.0,1778.0 C1056.7,1781.1 1037.3,1790.3 1033.0,1793.0 C1028.7,1795.7 1021.3,1804.6 1018.0,1805.0 C1014.7,1805.4 1003.3,1798.0 1000.0,1797.0 C996.7,1796.0 988.6,1796.3 985.0,1795.0 C981.4,1793.7 967.2,1785.5 964.0,1784.0 C960.8,1782.5 955.0,1779.8 953.0,1780.0 C951.0,1780.2 946.1,1785.2 944.0,1786.0 C941.9,1786.8 934.9,1788.9 932.0,1788.0 C929.1,1787.1 917.8,1779.7 915.0,1777.0 C912.2,1774.3 905.9,1763.9 904.0,1761.0 C902.1,1758.1 898.3,1750.6 896.0,1748.0 C893.7,1745.4 884.2,1737.6 881.0,1735.0 C877.8,1732.4 867.0,1724.7 864.0,1722.0 C861.0,1719.3 853.3,1710.3 851.0,1708.0 C848.7,1705.7 843.5,1698.6 841.0,1699.0 C838.5,1699.4 829.2,1711.9 826.0,1712.0 C822.8,1712.1 812.4,1699.4 809.0,1700.0 C805.6,1700.6 795.4,1715.1 792.0,1718.0 C788.6,1720.9 779.5,1728.9 775.0,1729.0 C770.5,1729.1 752.5,1719.4 747.0,1719.0 C741.5,1718.6 723.2,1724.4 720.0,1725.0 C716.8,1725.6 717.6,1725.6 715.0,1725.0 C712.4,1724.4 698.2,1720.2 694.0,1719.0 C689.8,1717.8 676.2,1713.9 673.0,1713.0 C669.8,1712.1 665.0,1709.4 662.0,1710.0 C659.0,1710.6 646.8,1717.5 643.0,1719.0 C639.2,1720.5 627.4,1722.7 624.0,1725.0 C620.6,1727.3 612.2,1738.8 609.0,1742.0 C605.8,1745.2 594.9,1754.2 592.0,1757.0 C589.1,1759.8 582.1,1767.2 580.0,1770.0 C577.9,1772.8 573.1,1782.0 571.0,1785.0 C568.9,1788.0 561.5,1798.1 559.0,1800.0 C556.5,1801.9 548.6,1802.1 546.0,1804.0 C543.4,1805.9 535.8,1815.8 533.0,1819.0 C530.2,1822.2 522.3,1833.4 518.0,1836.0 C513.7,1838.6 495.5,1842.8 490.0,1845.0 C484.5,1847.2 467.0,1857.3 463.0,1858.0 C459.0,1858.7 452.7,1853.3 450.0,1852.0 C447.3,1850.7 439.1,1845.9 436.0,1845.0 C432.9,1844.1 422.2,1842.7 419.0,1843.0 C415.8,1843.3 406.8,1846.5 404.0,1848.0 C401.2,1849.5 393.1,1856.4 391.0,1858.0 C388.9,1859.6 385.1,1865.5 383.0,1864.0 C380.9,1862.5 372.5,1846.3 370.0,1843.0 C367.5,1839.7 360.5,1833.3 358.0,1831.0 C355.5,1828.7 347.2,1820.5 345.0,1820.0 C342.8,1819.5 337.9,1825.8 336.0,1826.0 C334.1,1826.2 327.7,1824.1 326.0,1822.0 C324.3,1819.9 319.9,1807.2 319.0,1805.0 C318.1,1802.8 317.3,1805.9 317.0,1800.0 C316.7,1794.1 316.0,1757.8 316.0,1746.0 C316.0,1734.2 317.3,1689.4 317.0,1682.0 C316.7,1674.6 314.5,1673.4 313.0,1672.0 C311.5,1670.6 304.8,1669.9 302.0,1668.0 C299.2,1666.1 287.1,1656.6 285.0,1653.0 C282.9,1649.4 281.8,1635.5 281.0,1632.0 C280.2,1628.5 278.2,1619.9 277.0,1618.0 C275.8,1616.1 271.1,1613.3 269.0,1613.0 C266.9,1612.7 258.4,1614.3 256.0,1615.0 C253.6,1615.7 247.1,1620.2 245.0,1620.0 C242.9,1619.8 237.1,1614.5 235.0,1613.0 C232.9,1611.5 226.6,1606.0 224.0,1605.0 C221.4,1604.0 212.2,1603.0 209.0,1603.0 C205.8,1603.0 195.8,1604.4 192.0,1605.0 C188.2,1605.6 177.5,1607.8 171.0,1609.0 C164.5,1610.2 131.1,1632.1 126.7,1617.0 C122.3,1601.9 108.1,1473.9 126.7,1458.0 Z" fill="#72d2f2"/>
<path d="M328.0,1720.0 C329.6,1718.9 337.6,1717.7 341.0,1718.0 C344.4,1718.3 358.2,1721.1 362.0,1723.0 C365.8,1724.9 375.8,1734.8 379.0,1737.0 C382.2,1739.2 391.1,1745.2 394.0,1745.0 C396.9,1744.8 405.3,1737.0 408.0,1735.0 C410.7,1733.0 416.8,1726.5 421.0,1725.0 C425.2,1723.5 443.9,1719.8 450.0,1720.0 C456.1,1720.2 475.2,1725.6 482.0,1727.0 C488.8,1728.4 513.3,1734.6 518.0,1734.0 C522.7,1733.4 527.1,1723.8 529.0,1721.0 C530.9,1718.2 534.9,1708.1 537.0,1706.0 C539.1,1703.9 547.0,1702.5 550.0,1700.0 C553.0,1697.5 564.9,1685.0 567.0,1681.0 C569.1,1677.0 570.4,1664.0 571.0,1660.0 C571.6,1656.0 571.7,1643.8 573.0,1641.0 C574.3,1638.2 581.6,1633.3 584.0,1632.0 C586.4,1630.7 594.0,1629.0 597.0,1628.0 C600.0,1627.0 611.1,1623.2 614.0,1622.0 C616.9,1620.8 623.1,1617.1 626.0,1616.0 C628.9,1614.9 638.7,1611.5 643.0,1611.0 C647.3,1610.5 665.4,1611.4 669.0,1611.0 C672.6,1610.6 676.5,1607.8 679.0,1607.0 C681.5,1606.2 690.4,1603.6 694.0,1603.0 C697.6,1602.4 712.4,1601.0 715.0,1601.0 C717.6,1601.0 716.3,1603.3 720.0,1603.0 C723.7,1602.7 746.9,1599.1 752.0,1598.0 C757.1,1596.9 767.8,1594.9 771.0,1592.0 C774.2,1589.1 781.0,1572.6 784.0,1569.0 C787.0,1565.4 798.1,1557.7 801.0,1556.0 C803.9,1554.3 810.1,1551.8 813.0,1552.0 C815.9,1552.2 827.0,1556.3 830.0,1558.0 C833.0,1559.7 840.2,1567.3 843.0,1569.0 C845.8,1570.7 855.5,1573.1 858.0,1575.0 C860.5,1576.9 865.7,1585.2 868.0,1588.0 C870.3,1590.8 877.8,1599.8 881.0,1603.0 C884.2,1606.2 896.8,1616.8 900.0,1620.0 C903.2,1623.2 910.7,1632.3 913.0,1635.0 C915.3,1637.7 920.7,1644.7 923.0,1647.0 C925.3,1649.3 933.4,1656.3 936.0,1658.0 C938.6,1659.7 946.0,1663.2 949.0,1664.0 C952.0,1664.8 962.2,1665.8 966.0,1666.0 C969.8,1666.2 983.0,1666.6 987.0,1666.0 C991.0,1665.4 1002.7,1661.2 1006.0,1660.0 C1009.3,1658.8 1017.3,1654.6 1020.0,1654.0 C1022.7,1653.4 1029.9,1655.6 1033.0,1654.0 C1036.1,1652.4 1048.6,1640.2 1051.0,1638.0 C1053.4,1635.8 1054.9,1633.1 1057.0,1632.0 C1059.1,1630.9 1069.1,1628.9 1072.0,1627.0 C1074.9,1625.1 1084.2,1616.4 1086.0,1613.0 C1087.8,1609.6 1088.8,1596.3 1090.0,1593.0 C1091.2,1589.7 1095.5,1580.7 1098.0,1580.0 C1100.5,1579.3 1110.7,1585.8 1115.0,1586.0 C1119.3,1586.2 1136.5,1583.1 1141.0,1582.0 C1145.5,1580.9 1145.9,1574.8 1160.0,1575.0 C1174.1,1575.2 1271.4,1583.1 1282.0,1584.0 C1292.6,1584.9 1269.0,1583.5 1266.0,1584.0 C1263.0,1584.5 1255.3,1587.1 1252.0,1589.0 C1248.7,1590.9 1236.5,1601.8 1233.0,1603.0 C1229.5,1604.2 1220.6,1601.4 1217.0,1601.0 C1213.4,1600.6 1200.7,1598.4 1197.0,1599.0 C1193.3,1599.6 1181.9,1602.5 1180.0,1607.0 C1178.1,1611.5 1180.0,1638.3 1178.0,1644.0 C1176.0,1649.7 1163.5,1661.0 1160.0,1664.0 C1156.5,1667.0 1146.3,1672.1 1143.0,1674.0 C1139.7,1675.9 1130.7,1680.9 1127.0,1683.0 C1123.3,1685.1 1110.9,1691.6 1106.0,1695.0 C1101.1,1698.4 1079.0,1718.5 1078.0,1717.0 C1077.0,1715.5 1094.8,1681.2 1096.0,1680.0 C1097.2,1678.8 1091.6,1701.3 1090.0,1705.0 C1088.4,1708.7 1082.2,1715.0 1080.0,1717.0 C1077.8,1719.0 1071.1,1723.6 1068.0,1725.0 C1064.9,1726.4 1052.9,1729.8 1049.0,1731.0 C1045.1,1732.2 1033.7,1735.7 1029.0,1737.0 C1024.3,1738.3 1007.5,1743.6 1002.0,1744.0 C996.5,1744.4 977.8,1741.7 974.0,1741.0 C970.2,1740.3 966.1,1738.0 964.0,1737.0 C961.9,1736.0 955.0,1730.8 953.0,1731.0 C951.0,1731.2 946.1,1737.7 944.0,1739.0 C941.9,1740.3 934.9,1744.8 932.0,1744.0 C929.1,1743.2 917.2,1734.9 915.0,1731.0 C912.8,1727.1 911.5,1709.6 910.0,1705.0 C908.5,1700.4 902.9,1687.6 900.0,1685.0 C897.1,1682.4 885.0,1680.2 881.0,1679.0 C877.0,1677.8 863.4,1674.5 860.0,1673.0 C856.6,1671.5 850.0,1665.7 847.0,1664.0 C844.0,1662.3 833.0,1657.5 830.0,1656.0 C827.0,1654.5 819.5,1649.9 817.0,1649.0 C814.5,1648.1 808.3,1645.7 805.0,1647.0 C801.7,1648.3 788.3,1660.1 784.0,1662.0 C779.7,1663.9 766.3,1665.1 762.0,1666.0 C757.7,1666.9 744.1,1669.1 741.0,1671.0 C737.9,1672.9 733.1,1683.8 731.0,1685.0 C728.9,1686.2 727.1,1682.5 720.0,1683.0 C712.9,1683.5 671.1,1687.6 660.0,1690.0 C648.9,1692.4 615.8,1704.5 609.0,1707.0 C602.2,1709.5 595.3,1712.1 592.0,1715.0 C588.7,1717.9 578.9,1732.4 576.0,1736.0 C573.1,1739.6 566.4,1749.1 563.0,1751.0 C559.6,1752.9 545.4,1752.9 542.0,1755.0 C538.6,1757.1 531.8,1768.6 529.0,1772.0 C526.2,1775.4 516.8,1786.3 514.0,1789.0 C511.2,1791.7 504.2,1798.3 501.0,1799.0 C497.8,1799.7 484.7,1795.5 482.0,1796.0 C479.3,1796.5 475.9,1802.7 474.0,1804.0 C472.1,1805.3 465.3,1809.0 463.0,1809.0 C460.7,1809.0 453.3,1805.2 451.0,1804.0 C448.7,1802.8 442.6,1799.0 440.0,1797.0 C437.4,1795.0 428.6,1784.5 425.0,1784.0 C421.4,1783.5 408.2,1790.5 404.0,1792.0 C399.8,1793.5 386.2,1799.4 383.0,1799.0 C379.8,1798.6 375.0,1790.8 372.0,1788.0 C369.0,1785.2 355.7,1772.9 353.0,1771.0 C350.3,1769.1 346.7,1767.3 345.0,1769.0 C343.3,1770.7 337.7,1786.5 336.0,1788.0 C334.3,1789.5 329.2,1787.1 328.0,1784.0 C326.8,1780.9 324.3,1762.5 324.0,1757.0 C323.7,1751.5 324.6,1732.7 325.0,1729.0 C325.4,1725.3 326.4,1721.1 328.0,1720.0 Z" fill="#a8f080"/>
<path d="M1180.0,1558.0 C1178.8,1554.6 1186.8,1546.3 1188.0,1541.0 C1189.2,1535.7 1190.5,1508.8 1192.0,1505.0 C1193.5,1501.2 1200.7,1502.8 1203.0,1503.0 C1205.3,1503.2 1212.8,1507.7 1215.0,1507.0 C1217.2,1506.3 1223.6,1500.9 1225.0,1496.0 C1226.4,1491.1 1220.5,1461.8 1229.0,1458.0 C1237.5,1454.2 1301.9,1446.6 1310.0,1458.0 C1318.1,1469.4 1315.4,1560.8 1310.0,1572.0 C1304.6,1583.2 1263.3,1570.8 1256.0,1570.0 C1248.7,1569.2 1240.5,1564.4 1237.0,1564.0 C1233.5,1563.6 1224.7,1564.9 1221.0,1566.0 C1217.3,1567.1 1204.1,1575.8 1200.0,1575.0 C1195.9,1574.2 1181.2,1561.4 1180.0,1558.0 Z" fill="#98f0b0"/>
<path d="M885.0,1612.0 C886.7,1611.7 896.5,1623.2 900.0,1627.0 C903.5,1630.8 916.0,1646.2 920.0,1650.0 C924.0,1653.8 935.5,1662.8 940.0,1665.0 C944.5,1667.2 960.0,1671.5 965.0,1672.0 C970.0,1672.5 985.5,1670.9 990.0,1670.0 C994.5,1669.1 1006.0,1664.0 1010.0,1663.0 C1014.0,1662.0 1026.0,1662.1 1030.0,1660.0 C1034.0,1657.9 1045.5,1645.3 1050.0,1642.0 C1054.5,1638.7 1071.0,1631.0 1075.0,1627.0 C1079.0,1623.0 1087.5,1605.9 1090.0,1602.0 C1092.5,1598.1 1097.5,1589.0 1100.0,1588.0 C1102.5,1587.0 1111.0,1591.8 1115.0,1592.0 C1119.0,1592.2 1135.5,1591.0 1140.0,1590.0 C1144.5,1589.0 1156.5,1582.3 1160.0,1582.0 C1163.5,1581.7 1174.0,1584.0 1175.0,1587.0 C1176.0,1590.0 1172.5,1606.7 1170.0,1612.0 C1167.5,1617.3 1155.0,1635.0 1150.0,1640.0 C1145.0,1645.0 1126.0,1657.0 1120.0,1662.0 C1114.0,1667.0 1095.0,1685.7 1090.0,1690.0 C1085.0,1694.3 1075.0,1702.0 1070.0,1705.0 C1065.0,1708.0 1047.0,1717.7 1040.0,1720.0 C1033.0,1722.3 1008.0,1727.0 1000.0,1728.0 C992.0,1729.0 966.5,1730.4 960.0,1730.0 C953.5,1729.6 939.5,1726.6 935.0,1724.0 C930.5,1721.4 918.5,1708.4 915.0,1704.0 C911.5,1699.6 902.5,1685.2 900.0,1680.0 C897.5,1674.8 891.7,1657.0 890.0,1652.0 C888.3,1647.0 883.5,1634.0 883.0,1630.0 C882.5,1626.0 883.3,1612.3 885.0,1612.0 Z" fill="#c0f05a"/>
<path d="M600.0,1640.0 C605.0,1632.5 630.0,1627.8 640.0,1625.0 C650.0,1622.2 688.0,1613.9 700.0,1612.0 C712.0,1610.1 750.0,1607.2 760.0,1606.0 C770.0,1604.8 792.0,1600.6 800.0,1600.0 C808.0,1599.4 833.0,1598.0 840.0,1600.0 C847.0,1602.0 865.0,1615.0 870.0,1620.0 C875.0,1625.0 887.0,1644.0 890.0,1650.0 C893.0,1656.0 901.0,1677.4 900.0,1680.0 C899.0,1682.6 885.0,1677.2 880.0,1676.0 C875.0,1674.8 857.0,1669.8 850.0,1668.0 C843.0,1666.2 818.0,1658.3 810.0,1658.0 C802.0,1657.7 778.0,1663.3 770.0,1665.0 C762.0,1666.7 738.0,1673.5 730.0,1675.0 C722.0,1676.5 698.0,1678.5 690.0,1680.0 C682.0,1681.5 657.5,1688.0 650.0,1690.0 C642.5,1692.0 621.0,1699.0 615.0,1700.0 C609.0,1701.0 591.5,1706.0 590.0,1700.0 C588.5,1694.0 595.0,1647.5 600.0,1640.0 Z" fill="#b4f070"/>
<path d="M552.0,1682.0 C553.2,1676.7 559.7,1656.4 562.0,1652.0 C564.3,1647.6 572.1,1640.3 575.0,1638.0 C577.9,1635.7 585.8,1631.7 591.0,1629.0 C596.2,1626.3 619.8,1613.5 627.0,1611.0 C634.2,1608.5 655.3,1605.3 663.0,1604.0 C670.7,1602.7 696.3,1599.3 704.0,1598.0 C711.7,1596.7 732.3,1593.3 740.0,1591.0 C747.7,1588.7 774.3,1577.6 781.0,1575.0 C787.7,1572.4 801.8,1566.0 807.0,1565.0 C812.2,1564.0 828.3,1563.7 833.0,1565.0 C837.7,1566.3 849.9,1574.1 854.0,1578.0 C858.1,1581.9 869.9,1599.9 874.0,1604.0 C878.1,1608.1 890.4,1614.4 895.0,1619.0 C899.6,1623.6 916.4,1644.3 920.0,1650.0 C923.6,1655.7 928.9,1671.4 931.0,1676.0 C933.1,1680.6 941.0,1693.4 941.0,1696.0 C941.0,1698.6 933.6,1703.0 931.0,1702.0 C928.4,1701.0 919.1,1689.1 915.0,1686.0 C910.9,1682.9 895.6,1674.1 890.0,1671.0 C884.4,1667.9 864.7,1657.6 859.0,1655.0 C853.3,1652.4 838.7,1646.8 833.0,1645.0 C827.3,1643.2 809.7,1637.5 802.0,1637.0 C794.3,1636.5 764.7,1639.2 756.0,1640.0 C747.3,1640.8 722.8,1644.0 715.0,1645.0 C707.2,1646.0 684.7,1647.4 678.0,1650.0 C671.3,1652.6 653.6,1667.9 648.0,1671.0 C642.4,1674.1 627.2,1679.7 622.0,1681.0 C616.8,1682.3 600.6,1683.0 596.0,1684.0 C591.4,1685.0 579.6,1688.7 576.0,1691.0 C572.4,1693.3 562.6,1705.6 560.0,1707.0 C557.4,1708.4 550.8,1707.5 550.0,1705.0 C549.2,1702.5 550.8,1687.3 552.0,1682.0 Z" fill="#cef04a"/>
<path d="M1043.0,1680.0 C1043.7,1676.4 1051.8,1665.8 1055.0,1664.0 C1058.2,1662.2 1071.9,1660.4 1075.0,1662.0 C1078.1,1663.6 1085.2,1676.2 1086.0,1680.0 C1086.8,1683.8 1085.1,1697.4 1083.0,1700.0 C1080.9,1702.6 1068.5,1706.0 1065.0,1706.0 C1061.5,1706.0 1050.2,1702.6 1048.0,1700.0 C1045.8,1697.4 1042.3,1683.6 1043.0,1680.0 Z" fill="#c6f050"/>
<path d="M1110.0,1655.0 C1110.5,1652.0 1117.0,1638.5 1120.0,1635.0 C1123.0,1631.5 1136.0,1623.7 1140.0,1620.0 C1144.0,1616.3 1156.4,1601.0 1160.0,1598.0 C1163.6,1595.0 1174.0,1588.8 1176.0,1590.0 C1178.0,1591.2 1180.6,1605.8 1180.0,1610.0 C1179.4,1614.2 1173.0,1628.0 1170.0,1632.0 C1167.0,1636.0 1154.0,1647.0 1150.0,1650.0 C1146.0,1653.0 1133.5,1660.5 1130.0,1662.0 C1126.5,1663.5 1117.0,1665.7 1115.0,1665.0 C1113.0,1664.3 1109.5,1658.0 1110.0,1655.0 Z" fill="#c6f050"/>
<path d="M1235.0,1530.0 C1235.7,1526.5 1242.0,1517.5 1245.0,1515.0 C1248.0,1512.5 1261.3,1506.5 1265.0,1505.0 C1268.7,1503.5 1280.3,1493.7 1282.0,1500.0 C1283.7,1506.3 1285.2,1561.5 1282.0,1568.0 C1278.8,1574.5 1254.4,1566.8 1250.0,1565.0 C1245.6,1563.2 1239.5,1553.5 1238.0,1550.0 C1236.5,1546.5 1234.3,1533.5 1235.0,1530.0 Z" fill="#c6f050"/>
<path d="M465.0,1765.0 C466.2,1761.8 476.5,1750.0 480.0,1748.0 C483.5,1746.0 496.8,1743.8 500.0,1745.0 C503.2,1746.2 511.5,1756.3 512.0,1760.0 C512.5,1763.7 507.7,1779.2 505.0,1782.0 C502.3,1784.8 488.7,1788.2 485.0,1788.0 C481.3,1787.8 470.0,1782.3 468.0,1780.0 C466.0,1777.7 463.8,1768.2 465.0,1765.0 Z" fill="#b8f068"/>
<path d="M596.0,1666.0 C596.6,1663.3 602.4,1651.1 604.0,1648.0 C605.6,1644.9 608.7,1637.9 612.0,1635.0 C615.3,1632.1 631.9,1620.9 637.0,1619.0 C642.1,1617.1 658.3,1615.2 663.0,1616.0 C667.7,1616.8 684.0,1625.1 684.0,1627.0 C684.0,1628.9 667.2,1633.2 663.0,1635.0 C658.8,1636.8 645.6,1641.5 642.0,1645.0 C638.4,1648.5 630.2,1666.9 627.0,1670.0 C623.8,1673.1 612.9,1675.5 610.0,1676.0 C607.1,1676.5 599.4,1676.0 598.0,1675.0 C596.6,1674.0 595.4,1668.7 596.0,1666.0 Z" fill="#f6e234"/>
<path d="M720.0,1629.0 C721.0,1626.9 734.4,1616.5 740.0,1614.0 C745.6,1611.5 769.3,1606.1 776.0,1604.0 C782.7,1601.9 801.3,1594.3 807.0,1593.0 C812.7,1591.7 828.9,1590.5 833.0,1591.0 C837.1,1591.5 844.4,1595.2 848.0,1598.0 C851.6,1600.8 864.8,1615.3 869.0,1619.0 C873.2,1622.7 886.9,1631.9 890.0,1635.0 C893.1,1638.1 900.0,1648.0 900.0,1650.0 C900.0,1652.0 893.1,1655.5 890.0,1655.0 C886.9,1654.5 873.7,1647.0 869.0,1645.0 C864.3,1643.0 849.2,1636.8 843.0,1635.0 C836.8,1633.2 814.7,1627.6 807.0,1627.0 C799.3,1626.4 773.7,1628.2 766.0,1629.0 C758.3,1629.8 734.6,1635.0 730.0,1635.0 C725.4,1635.0 719.0,1631.1 720.0,1629.0 Z" fill="#f6e234"/>
<path d="M781.0,1604.0 C781.8,1602.9 787.7,1598.4 790.0,1598.0 C792.3,1597.6 802.5,1599.0 804.0,1600.0 C805.5,1601.0 806.2,1606.9 805.0,1608.0 C803.8,1609.1 794.3,1610.9 792.0,1611.0 C789.7,1611.1 783.1,1609.7 782.0,1609.0 C780.9,1608.3 780.2,1605.1 781.0,1604.0 Z" fill="#eea828"/>
<path d="M815.0,1597.0 C815.9,1595.8 822.3,1591.5 825.0,1591.0 C827.7,1590.5 840.2,1590.9 842.0,1592.0 C843.8,1593.1 844.2,1600.7 843.0,1602.0 C841.8,1603.3 832.7,1604.9 830.0,1605.0 C827.3,1605.1 817.5,1603.8 816.0,1603.0 C814.5,1602.2 814.1,1598.2 815.0,1597.0 Z" fill="#eea828"/>
<path d="M851.0,1620.0 C851.8,1618.6 857.9,1613.3 860.0,1613.0 C862.1,1612.7 870.7,1615.6 872.0,1617.0 C873.3,1618.4 874.0,1625.7 873.0,1627.0 C872.0,1628.3 864.1,1630.0 862.0,1630.0 C859.9,1630.0 853.1,1628.0 852.0,1627.0 C850.9,1626.0 850.2,1621.4 851.0,1620.0 Z" fill="#eea828"/>
<path d="M126.7,1458.0 C144.8,1444.0 289.7,1449.8 308.0,1458.0 C326.3,1466.2 309.6,1526.8 310.0,1540.0 C310.4,1553.2 312.5,1584.0 312.0,1590.0 C311.5,1596.0 308.2,1599.2 305.0,1600.0 C301.8,1600.8 284.5,1598.6 280.0,1598.0 C275.5,1597.4 264.0,1594.2 260.0,1594.0 C256.0,1593.8 244.0,1596.4 240.0,1596.0 C236.0,1595.6 224.0,1590.4 220.0,1590.0 C216.0,1589.6 204.0,1591.6 200.0,1592.0 C196.0,1592.4 183.5,1594.2 180.0,1594.0 C176.5,1593.8 170.3,1589.6 165.0,1590.0 C159.7,1590.4 130.5,1611.2 126.7,1598.0 C122.9,1584.8 108.6,1472.0 126.7,1458.0 Z" fill="#9cf0b0"/>
<path d="M126.7,1458.0 C143.6,1444.2 278.9,1449.8 296.0,1458.0 C313.1,1466.2 298.0,1526.8 298.0,1540.0 C298.0,1553.2 297.8,1584.4 296.0,1590.0 C294.2,1595.6 296.9,1595.4 280.0,1596.0 C263.1,1596.6 142.0,1609.8 126.7,1596.0 C111.4,1582.2 109.8,1471.8 126.7,1458.0 Z" fill="#a8f090"/>
<path d="M126.7,1458.0 C141.2,1445.3 257.5,1451.8 272.0,1458.0 C286.5,1464.2 272.2,1509.8 272.0,1520.0 C271.8,1530.2 271.0,1553.8 270.0,1560.0 C269.0,1566.2 264.5,1579.6 262.0,1582.0 C259.5,1584.4 248.7,1584.4 245.0,1584.0 C241.3,1583.6 229.0,1578.4 225.0,1578.0 C221.0,1577.6 209.0,1579.5 205.0,1580.0 C201.0,1580.5 189.0,1583.0 185.0,1583.0 C181.0,1583.0 170.8,1579.8 165.0,1580.0 C159.2,1580.2 130.5,1597.2 126.7,1585.0 C122.9,1572.8 112.2,1470.7 126.7,1458.0 Z" fill="#cef04a"/>
<path d="M126.7,1458.0 C139.8,1446.8 244.5,1452.8 258.0,1458.0 C271.5,1463.2 261.4,1501.3 262.0,1510.0 C262.6,1518.7 264.6,1539.4 264.0,1545.0 C263.4,1550.6 258.4,1563.3 256.0,1566.0 C253.6,1568.7 243.6,1571.6 240.0,1572.0 C236.4,1572.4 224.0,1570.0 220.0,1570.0 C216.0,1570.0 204.0,1571.5 200.0,1572.0 C196.0,1572.5 184.0,1575.0 180.0,1575.0 C176.0,1575.0 165.3,1572.5 160.0,1572.0 C154.7,1571.5 130.0,1581.4 126.7,1570.0 C123.4,1558.6 113.6,1469.2 126.7,1458.0 Z" fill="#f6e234"/>
<path d="M208.0,1492.0 C209.7,1488.8 221.0,1488.0 225.0,1488.0 C229.0,1488.0 244.9,1489.3 248.0,1492.0 C251.1,1494.7 255.2,1509.7 256.0,1515.0 C256.8,1520.3 257.0,1540.5 256.0,1545.0 C255.0,1549.5 248.8,1558.5 246.0,1560.0 C243.2,1561.5 231.2,1561.5 228.0,1560.0 C224.8,1558.5 216.0,1549.0 214.0,1545.0 C212.0,1541.0 208.6,1525.3 208.0,1520.0 C207.4,1514.7 206.3,1495.2 208.0,1492.0 Z" fill="#f2b02a"/>
<path d="M126.7,1458.0 C133.2,1447.8 185.7,1452.8 192.0,1458.0 C198.3,1463.2 190.6,1501.8 190.0,1510.0 C189.4,1518.2 187.2,1535.0 186.0,1540.0 C184.8,1545.0 180.1,1557.7 178.0,1560.0 C175.9,1562.3 170.1,1563.0 165.0,1563.0 C159.9,1563.0 130.5,1570.5 126.7,1560.0 C122.9,1549.5 120.2,1468.2 126.7,1458.0 Z" fill="#eea028"/>
<path d="M212.0,1500.0 C213.0,1497.4 219.6,1494.2 222.0,1494.0 C224.4,1493.8 234.0,1495.9 236.0,1498.0 C238.0,1500.1 241.6,1511.3 242.0,1515.0 C242.4,1518.7 241.2,1532.0 240.0,1535.0 C238.8,1538.0 232.2,1544.7 230.0,1545.0 C227.8,1545.3 219.8,1540.5 218.0,1538.0 C216.2,1535.5 212.6,1523.8 212.0,1520.0 C211.4,1516.2 211.0,1502.6 212.0,1500.0 Z" fill="#e8681c"/>
<path d="M126.7,1458.0 C132.0,1448.3 174.7,1451.8 180.0,1458.0 C185.3,1464.2 180.5,1511.0 180.0,1520.0 C179.5,1529.0 177.0,1544.5 175.0,1548.0 C173.0,1551.5 164.8,1554.3 160.0,1555.0 C155.2,1555.7 130.0,1564.7 126.7,1555.0 C123.4,1545.3 121.4,1467.7 126.7,1458.0 Z" fill="#e04818"/>
<path d="M126.7,1490.0 C131.2,1484.2 167.3,1487.5 172.0,1490.0 C176.7,1492.5 174.2,1510.0 174.0,1515.0 C173.8,1520.0 171.4,1536.7 170.0,1540.0 C168.6,1543.3 164.3,1547.2 160.0,1548.0 C155.7,1548.8 130.0,1553.8 126.7,1548.0 C123.4,1542.2 122.2,1495.8 126.7,1490.0 Z" fill="#d81010"/>
<path d="M216.0,1506.0 C216.5,1504.0 222.5,1502.0 224.0,1502.0 C225.5,1502.0 230.2,1504.4 231.0,1506.0 C231.8,1507.6 232.4,1516.0 232.0,1518.0 C231.6,1520.0 228.3,1525.6 227.0,1526.0 C225.7,1526.4 220.1,1524.0 219.0,1522.0 C217.9,1520.0 215.5,1508.0 216.0,1506.0 Z" fill="#e02010"/>
<path d="M126.7,1502.0 C130.2,1497.6 157.9,1498.7 162.0,1500.0 C166.1,1501.3 167.6,1511.2 168.0,1515.0 C168.4,1518.8 167.0,1535.1 166.0,1538.0 C165.0,1540.9 161.9,1543.4 158.0,1544.0 C154.1,1544.6 129.8,1548.2 126.7,1544.0 C123.6,1539.8 123.2,1506.4 126.7,1502.0 Z" fill="#8a0808"/>
</g>
<path d="M162.0,1488.0 V1928.5 M172.0,1488.0 V1928.5 M188.0,1488.0 V1928.5 M202.0,1488.0 V1928.5 M214.0,1488.0 V1928.5 M232.0,1488.0 V1928.5 M243.0,1488.0 V1928.5 M256.0,1488.0 V1928.5 M268.0,1488.0 V1928.5 M283.0,1488.0 V1928.5 M294.0,1488.0 V1928.5 M311.0,1488.0 V1928.5 M324.0,1488.0 V1928.5 M334.0,1488.0 V1928.5 M350.0,1488.0 V1928.5 M364.0,1488.0 V1928.5 M376.0,1488.0 V1928.5 M394.0,1488.0 V1928.5 M405.0,1488.0 V1928.5 M418.0,1488.0 V1928.5 M430.0,1488.0 V1928.5 M445.0,1488.0 V1928.5 M456.0,1488.0 V1928.5 M473.0,1488.0 V1928.5 M486.0,1488.0 V1928.5 M496.0,1488.0 V1928.5 M512.0,1488.0 V1928.5 M526.0,1488.0 V1928.5 M538.0,1488.0 V1928.5 M556.0,1488.0 V1928.5 M567.0,1488.0 V1928.5 M580.0,1488.0 V1928.5 M592.0,1488.0 V1928.5 M607.0,1488.0 V1928.5 M618.0,1488.0 V1928.5 M635.0,1488.0 V1928.5 M648.0,1488.0 V1928.5 M658.0,1488.0 V1928.5 M674.0,1488.0 V1928.5 M688.0,1488.0 V1928.5 M700.0,1488.0 V1928.5 M718.0,1488.0 V1928.5 M729.0,1488.0 V1928.5 M742.0,1488.0 V1928.5 M754.0,1488.0 V1928.5 M769.0,1488.0 V1928.5 M780.0,1488.0 V1928.5 M797.0,1488.0 V1928.5 M810.0,1488.0 V1928.5 M820.0,1488.0 V1928.5 M836.0,1488.0 V1928.5 M850.0,1488.0 V1928.5 M862.0,1488.0 V1928.5 M880.0,1488.0 V1928.5 M891.0,1488.0 V1928.5 M904.0,1488.0 V1928.5 M916.0,1488.0 V1928.5 M931.0,1488.0 V1928.5 M942.0,1488.0 V1928.5 M959.0,1488.0 V1928.5 M972.0,1488.0 V1928.5 M982.0,1488.0 V1928.5 M998.0,1488.0 V1928.5 M1012.0,1488.0 V1928.5 M1024.0,1488.0 V1928.5 M1042.0,1488.0 V1928.5 M1053.0,1488.0 V1928.5 M1066.0,1488.0 V1928.5 M1078.0,1488.0 V1928.5 M1093.0,1488.0 V1928.5 M1104.0,1488.0 V1928.5 M1121.0,1488.0 V1928.5 M1134.0,1488.0 V1928.5 M1144.0,1488.0 V1928.5 M1160.0,1488.0 V1928.5 M1174.0,1488.0 V1928.5 M1186.0,1488.0 V1928.5 M1204.0,1488.0 V1928.5 M1215.0,1488.0 V1928.5 M1228.0,1488.0 V1928.5 M1240.0,1488.0 V1928.5 M1255.0,1488.0 V1928.5 M1266.0,1488.0 V1928.5" stroke="#000" stroke-opacity="0.30" stroke-width="1" fill="none"/>
<line x1="156.7" y1="1664.2" x2="1280.0" y2="1664.2" stroke="#000" stroke-opacity="0.22" stroke-width="1.5"/>
<line x1="156.7" y1="1840.4" x2="1280.0" y2="1840.4" stroke="#000" stroke-opacity="0.22" stroke-width="1.5"/>
<path d="M150.0,1617.0 C153.5,1615.7 164.0,1611.0 171.0,1609.0 C178.0,1607.0 185.7,1606.0 192.0,1605.0 C198.3,1604.0 203.7,1603.0 209.0,1603.0 C214.3,1603.0 219.7,1603.3 224.0,1605.0 C228.3,1606.7 231.5,1610.5 235.0,1613.0 C238.5,1615.5 241.5,1619.7 245.0,1620.0 C248.5,1620.3 252.0,1616.2 256.0,1615.0 C260.0,1613.8 265.5,1612.5 269.0,1613.0 C272.5,1613.5 275.0,1614.8 277.0,1618.0 C279.0,1621.2 279.7,1626.2 281.0,1632.0 C282.3,1637.8 281.5,1647.0 285.0,1653.0 C288.5,1659.0 297.3,1664.8 302.0,1668.0 C306.7,1671.2 310.5,1669.7 313.0,1672.0 C315.5,1674.3 316.5,1669.7 317.0,1682.0 C317.5,1694.3 316.0,1726.3 316.0,1746.0 C316.0,1765.7 316.8,1791.0 317.0,1800.0" fill="none" stroke="#000" stroke-width="1.8" stroke-linejoin="round"/>
<path d="M319.0,1599.0 C319.8,1600.3 322.8,1602.2 324.0,1607.0 C325.2,1611.8 324.0,1623.0 326.0,1628.0 C328.0,1633.0 331.8,1634.8 336.0,1637.0 C340.2,1639.2 346.7,1639.0 351.0,1641.0 C355.3,1643.0 359.5,1645.5 362.0,1649.0 C364.5,1652.5 363.2,1660.8 366.0,1662.0 C368.8,1663.2 375.5,1657.0 379.0,1656.0 C382.5,1655.0 383.5,1654.7 387.0,1656.0 C390.5,1657.3 395.3,1663.0 400.0,1664.0 C404.7,1665.0 409.7,1663.3 415.0,1662.0 C420.3,1660.7 426.2,1658.2 432.0,1656.0 C437.8,1653.8 444.2,1648.3 450.0,1649.0 C455.8,1649.7 462.3,1656.0 467.0,1660.0 C471.7,1664.0 472.7,1669.2 478.0,1673.0 C483.3,1676.8 493.7,1678.8 499.0,1683.0 C504.3,1687.2 506.5,1695.2 510.0,1698.0 C513.5,1700.8 516.8,1701.7 520.0,1700.0 C523.2,1698.3 525.3,1692.8 529.0,1688.0 C532.7,1683.2 537.8,1677.5 542.0,1671.0 C546.2,1664.5 550.8,1654.7 554.0,1649.0 C557.2,1643.3 558.2,1641.2 561.0,1637.0 C563.8,1632.8 566.5,1628.7 571.0,1624.0 C575.5,1619.3 582.7,1611.8 588.0,1609.0 C593.3,1606.2 600.2,1608.3 603.0,1607.0 C605.8,1605.7 606.0,1603.2 605.0,1601.0 C604.0,1598.8 598.0,1596.2 597.0,1594.0 C596.0,1591.8 596.2,1589.7 599.0,1588.0 C601.8,1586.3 610.2,1586.5 614.0,1584.0 C617.8,1581.5 620.3,1579.0 622.0,1573.0 C623.7,1567.0 623.0,1552.8 624.0,1548.0 C625.0,1543.2 626.5,1543.7 628.0,1544.0 C629.5,1544.3 631.8,1545.8 633.0,1550.0 C634.2,1554.2 633.3,1563.0 635.0,1569.0 C636.7,1575.0 640.2,1583.5 643.0,1586.0 C645.8,1588.5 648.5,1585.5 652.0,1584.0 C655.5,1582.5 659.5,1577.7 664.0,1577.0 C668.5,1576.3 674.0,1579.5 679.0,1580.0 C684.0,1580.5 689.0,1580.5 694.0,1580.0 C699.0,1579.5 704.7,1580.2 709.0,1577.0 C713.3,1573.8 717.2,1568.3 720.0,1561.0 C722.8,1553.7 724.3,1539.5 726.0,1533.0 C727.7,1526.5 728.7,1522.7 730.0,1522.0 C731.3,1521.3 732.2,1526.2 734.0,1529.0 C735.8,1531.8 736.3,1537.3 741.0,1539.0 C745.7,1540.7 754.2,1539.7 762.0,1539.0 C769.8,1538.3 780.2,1536.0 788.0,1535.0 C795.8,1534.0 802.7,1532.7 809.0,1533.0 C815.3,1533.3 820.7,1534.5 826.0,1537.0 C831.3,1539.5 835.0,1546.5 841.0,1548.0 C847.0,1549.5 855.3,1544.3 862.0,1546.0 C868.7,1547.7 874.7,1553.2 881.0,1558.0 C887.3,1562.8 893.3,1570.3 900.0,1575.0 C906.7,1579.7 915.0,1583.5 921.0,1586.0 C927.0,1588.5 930.7,1587.5 936.0,1590.0 C941.3,1592.5 946.7,1597.5 953.0,1601.0 C959.3,1604.5 967.0,1608.2 974.0,1611.0 C981.0,1613.8 987.3,1618.0 995.0,1618.0 C1002.7,1618.0 1012.5,1613.5 1020.0,1611.0 C1027.5,1608.5 1034.2,1606.7 1040.0,1603.0 C1045.8,1599.3 1050.3,1592.5 1055.0,1589.0 C1059.7,1585.5 1063.5,1585.2 1068.0,1582.0 C1072.5,1578.8 1077.0,1573.3 1082.0,1570.0 C1087.0,1566.7 1092.5,1562.7 1098.0,1562.0 C1103.5,1561.3 1108.8,1566.7 1115.0,1566.0 C1121.2,1565.3 1128.2,1562.2 1135.0,1558.0 C1141.8,1553.8 1151.2,1546.2 1156.0,1541.0 C1160.8,1535.8 1162.3,1531.8 1164.0,1527.0 C1165.7,1522.2 1165.7,1514.5 1166.0,1512.0" fill="none" stroke="#000" stroke-width="1.8" stroke-linejoin="round"/>
<path d="M319.0,1805.0 C320.2,1807.8 323.2,1818.5 326.0,1822.0 C328.8,1825.5 332.8,1826.3 336.0,1826.0 C339.2,1825.7 341.3,1819.2 345.0,1820.0 C348.7,1820.8 353.8,1827.2 358.0,1831.0 C362.2,1834.8 365.8,1837.5 370.0,1843.0 C374.2,1848.5 379.5,1861.5 383.0,1864.0 C386.5,1866.5 387.5,1860.7 391.0,1858.0 C394.5,1855.3 399.3,1850.5 404.0,1848.0 C408.7,1845.5 413.7,1843.5 419.0,1843.0 C424.3,1842.5 430.8,1843.5 436.0,1845.0 C441.2,1846.5 445.5,1849.8 450.0,1852.0 C454.5,1854.2 460.8,1857.0 463.0,1858.0" fill="none" stroke="#000" stroke-width="1.8" stroke-linejoin="round"/>
<path d="M518.0,1836.0 C520.5,1833.2 528.3,1824.3 533.0,1819.0 C537.7,1813.7 541.7,1807.2 546.0,1804.0 C550.3,1800.8 554.8,1803.2 559.0,1800.0 C563.2,1796.8 567.5,1790.0 571.0,1785.0 C574.5,1780.0 576.5,1774.7 580.0,1770.0 C583.5,1765.3 587.2,1761.7 592.0,1757.0 C596.8,1752.3 603.7,1747.3 609.0,1742.0 C614.3,1736.7 618.3,1728.8 624.0,1725.0 C629.7,1721.2 636.7,1721.5 643.0,1719.0 C649.3,1716.5 657.0,1711.0 662.0,1710.0 C667.0,1709.0 667.7,1711.5 673.0,1713.0 C678.3,1714.5 687.0,1717.0 694.0,1719.0 C701.0,1721.0 710.7,1724.0 715.0,1725.0 C719.3,1726.0 714.7,1726.0 720.0,1725.0 C725.3,1724.0 737.8,1718.3 747.0,1719.0 C756.2,1719.7 767.5,1729.2 775.0,1729.0 C782.5,1728.8 786.3,1722.8 792.0,1718.0 C797.7,1713.2 803.3,1701.0 809.0,1700.0 C814.7,1699.0 820.7,1712.2 826.0,1712.0 C831.3,1711.8 836.8,1699.7 841.0,1699.0 C845.2,1698.3 847.2,1704.2 851.0,1708.0 C854.8,1711.8 859.0,1717.5 864.0,1722.0 C869.0,1726.5 875.7,1730.7 881.0,1735.0 C886.3,1739.3 892.2,1743.7 896.0,1748.0 C899.8,1752.3 900.8,1756.2 904.0,1761.0 C907.2,1765.8 910.3,1772.5 915.0,1777.0 C919.7,1781.5 927.2,1786.5 932.0,1788.0 C936.8,1789.5 940.5,1787.3 944.0,1786.0 C947.5,1784.7 949.7,1780.3 953.0,1780.0 C956.3,1779.7 958.7,1781.5 964.0,1784.0 C969.3,1786.5 979.0,1792.8 985.0,1795.0 C991.0,1797.2 994.5,1795.3 1000.0,1797.0 C1005.5,1798.7 1012.5,1805.7 1018.0,1805.0 C1023.5,1804.3 1025.8,1797.5 1033.0,1793.0 C1040.2,1788.5 1053.8,1783.2 1061.0,1778.0 C1068.2,1772.8 1071.8,1768.2 1076.0,1762.0 C1080.2,1755.8 1082.0,1747.2 1086.0,1741.0 C1090.0,1734.8 1096.0,1726.7 1100.0,1725.0 C1104.0,1723.3 1107.2,1729.0 1110.0,1731.0 C1112.8,1733.0 1114.8,1737.7 1117.0,1737.0 C1119.2,1736.3 1118.0,1729.3 1123.0,1727.0 C1128.0,1724.7 1140.8,1725.3 1147.0,1723.0 C1153.2,1720.7 1155.5,1718.2 1160.0,1713.0 C1164.5,1707.8 1170.7,1697.5 1174.0,1692.0 C1177.3,1686.5 1178.2,1686.2 1180.0,1680.0 C1181.8,1673.8 1183.3,1662.5 1185.0,1655.0 C1186.7,1647.5 1187.0,1639.7 1190.0,1635.0 C1193.0,1630.3 1198.5,1629.0 1203.0,1627.0 C1207.5,1625.0 1212.0,1621.2 1217.0,1623.0 C1222.0,1624.8 1227.2,1638.0 1233.0,1638.0 C1238.8,1638.0 1246.5,1628.2 1252.0,1623.0 C1257.5,1617.8 1261.0,1610.3 1266.0,1607.0 C1271.0,1603.7 1279.3,1603.7 1282.0,1603.0" fill="none" stroke="#000" stroke-width="1.8" stroke-linejoin="round"/>
<path d="M328.0,1720.0 C330.2,1719.7 335.3,1717.5 341.0,1718.0 C346.7,1718.5 355.7,1719.8 362.0,1723.0 C368.3,1726.2 373.7,1733.3 379.0,1737.0 C384.3,1740.7 389.2,1745.3 394.0,1745.0 C398.8,1744.7 403.5,1738.3 408.0,1735.0 C412.5,1731.7 414.0,1727.5 421.0,1725.0 C428.0,1722.5 439.8,1719.7 450.0,1720.0 C460.2,1720.3 470.7,1724.7 482.0,1727.0 C493.3,1729.3 510.2,1735.0 518.0,1734.0 C525.8,1733.0 525.8,1725.7 529.0,1721.0 C532.2,1716.3 533.5,1709.5 537.0,1706.0 C540.5,1702.5 545.0,1704.2 550.0,1700.0 C555.0,1695.8 563.5,1687.7 567.0,1681.0 C570.5,1674.3 570.0,1666.7 571.0,1660.0 C572.0,1653.3 570.8,1645.7 573.0,1641.0 C575.2,1636.3 580.0,1634.2 584.0,1632.0 C588.0,1629.8 592.0,1629.7 597.0,1628.0 C602.0,1626.3 609.2,1624.0 614.0,1622.0 C618.8,1620.0 621.2,1617.8 626.0,1616.0 C630.8,1614.2 635.8,1611.8 643.0,1611.0 C650.2,1610.2 663.0,1611.7 669.0,1611.0 C675.0,1610.3 674.8,1608.3 679.0,1607.0 C683.2,1605.7 688.0,1604.0 694.0,1603.0 C700.0,1602.0 710.7,1601.0 715.0,1601.0 C719.3,1601.0 713.8,1603.5 720.0,1603.0 C726.2,1602.5 743.5,1599.8 752.0,1598.0 C760.5,1596.2 765.7,1596.8 771.0,1592.0 C776.3,1587.2 779.0,1575.0 784.0,1569.0 C789.0,1563.0 796.2,1558.8 801.0,1556.0 C805.8,1553.2 808.2,1551.7 813.0,1552.0 C817.8,1552.3 825.0,1555.2 830.0,1558.0 C835.0,1560.8 838.3,1566.2 843.0,1569.0 C847.7,1571.8 853.8,1571.8 858.0,1575.0 C862.2,1578.2 864.2,1583.3 868.0,1588.0 C871.8,1592.7 875.7,1597.7 881.0,1603.0 C886.3,1608.3 894.7,1614.7 900.0,1620.0 C905.3,1625.3 909.2,1630.5 913.0,1635.0 C916.8,1639.5 919.2,1643.2 923.0,1647.0 C926.8,1650.8 931.7,1655.2 936.0,1658.0 C940.3,1660.8 944.0,1662.7 949.0,1664.0 C954.0,1665.3 959.7,1665.7 966.0,1666.0 C972.3,1666.3 980.3,1667.0 987.0,1666.0 C993.7,1665.0 1000.5,1662.0 1006.0,1660.0 C1011.5,1658.0 1015.5,1655.0 1020.0,1654.0 C1024.5,1653.0 1027.8,1656.7 1033.0,1654.0 C1038.2,1651.3 1047.0,1641.7 1051.0,1638.0 C1055.0,1634.3 1053.5,1633.8 1057.0,1632.0 C1060.5,1630.2 1067.2,1630.2 1072.0,1627.0 C1076.8,1623.8 1083.0,1618.7 1086.0,1613.0 C1089.0,1607.3 1088.0,1598.5 1090.0,1593.0 C1092.0,1587.5 1093.8,1581.2 1098.0,1580.0 C1102.2,1578.8 1107.8,1585.7 1115.0,1586.0 C1122.2,1586.3 1136.7,1582.7 1141.0,1582.0" fill="none" stroke="#000" stroke-width="1.8" stroke-linejoin="round"/>
<path d="M1180.0,1558.0 C1181.3,1555.2 1186.0,1549.8 1188.0,1541.0 C1190.0,1532.2 1189.5,1511.3 1192.0,1505.0 C1194.5,1498.7 1199.2,1502.7 1203.0,1503.0 C1206.8,1503.3 1211.3,1508.2 1215.0,1507.0 C1218.7,1505.8 1222.7,1499.2 1225.0,1496.0 C1227.3,1492.8 1228.3,1489.3 1229.0,1488.0" fill="none" stroke="#000" stroke-width="1.8" stroke-linejoin="round"/>
<path d="M325.0,1729.0 C324.8,1733.7 323.5,1747.8 324.0,1757.0 C324.5,1766.2 326.0,1778.8 328.0,1784.0 C330.0,1789.2 333.2,1790.5 336.0,1788.0 C338.8,1785.5 342.2,1771.8 345.0,1769.0 C347.8,1766.2 348.5,1767.8 353.0,1771.0 C357.5,1774.2 367.0,1783.3 372.0,1788.0 C377.0,1792.7 377.7,1798.3 383.0,1799.0 C388.3,1799.7 397.0,1794.5 404.0,1792.0 C411.0,1789.5 419.0,1783.2 425.0,1784.0 C431.0,1784.8 435.7,1793.7 440.0,1797.0 C444.3,1800.3 447.2,1802.0 451.0,1804.0 C454.8,1806.0 459.2,1809.0 463.0,1809.0 C466.8,1809.0 470.8,1806.2 474.0,1804.0 C477.2,1801.8 477.5,1796.8 482.0,1796.0 C486.5,1795.2 495.7,1800.2 501.0,1799.0 C506.3,1797.8 509.3,1793.5 514.0,1789.0 C518.7,1784.5 524.3,1777.7 529.0,1772.0 C533.7,1766.3 536.3,1758.5 542.0,1755.0 C547.7,1751.5 557.3,1754.2 563.0,1751.0 C568.7,1747.8 571.2,1742.0 576.0,1736.0 C580.8,1730.0 586.5,1719.8 592.0,1715.0 C597.5,1710.2 606.2,1708.3 609.0,1707.0" fill="none" stroke="#000" stroke-width="1.8" stroke-linejoin="round"/>
<path d="M720.0,1683.0 C721.8,1683.3 727.5,1687.0 731.0,1685.0 C734.5,1683.0 735.8,1674.2 741.0,1671.0 C746.2,1667.8 754.8,1667.5 762.0,1666.0 C769.2,1664.5 776.8,1665.2 784.0,1662.0 C791.2,1658.8 799.5,1649.2 805.0,1647.0 C810.5,1644.8 812.8,1647.5 817.0,1649.0 C821.2,1650.5 825.0,1653.5 830.0,1656.0 C835.0,1658.5 842.0,1661.2 847.0,1664.0 C852.0,1666.8 854.3,1670.5 860.0,1673.0 C865.7,1675.5 874.3,1677.0 881.0,1679.0 C887.7,1681.0 895.2,1680.7 900.0,1685.0 C904.8,1689.3 907.5,1697.3 910.0,1705.0 C912.5,1712.7 911.3,1724.5 915.0,1731.0 C918.7,1737.5 927.2,1742.7 932.0,1744.0 C936.8,1745.3 940.5,1741.2 944.0,1739.0 C947.5,1736.8 949.7,1731.3 953.0,1731.0 C956.3,1730.7 960.5,1735.3 964.0,1737.0 C967.5,1738.7 967.7,1739.8 974.0,1741.0 C980.3,1742.2 992.8,1744.7 1002.0,1744.0 C1011.2,1743.3 1021.2,1739.2 1029.0,1737.0 C1036.8,1734.8 1042.5,1733.0 1049.0,1731.0 C1055.5,1729.0 1062.8,1727.3 1068.0,1725.0 C1073.2,1722.7 1076.3,1720.3 1080.0,1717.0 C1083.7,1713.7 1087.3,1711.2 1090.0,1705.0 C1092.7,1698.8 1095.0,1684.2 1096.0,1680.0" fill="none" stroke="#000" stroke-width="1.8" stroke-linejoin="round"/>
<path d="M1078.0,1717.0 C1082.7,1713.3 1097.8,1700.7 1106.0,1695.0 C1114.2,1689.3 1120.8,1686.5 1127.0,1683.0 C1133.2,1679.5 1137.5,1677.2 1143.0,1674.0 C1148.5,1670.8 1154.2,1669.0 1160.0,1664.0 C1165.8,1659.0 1174.7,1653.5 1178.0,1644.0 C1181.3,1634.5 1176.8,1614.5 1180.0,1607.0 C1183.2,1599.5 1190.8,1600.0 1197.0,1599.0 C1203.2,1598.0 1211.0,1600.3 1217.0,1601.0 C1223.0,1601.7 1227.2,1605.0 1233.0,1603.0 C1238.8,1601.0 1246.5,1592.2 1252.0,1589.0 C1257.5,1585.8 1261.0,1584.8 1266.0,1584.0 C1271.0,1583.2 1279.3,1584.0 1282.0,1584.0" fill="none" stroke="#000" stroke-width="1.8" stroke-linejoin="round"/>
<path d="M552.0,1682.0 C554.0,1673.2 558.2,1659.3 562.0,1652.0 C565.8,1644.7 570.2,1641.8 575.0,1638.0 C579.8,1634.2 582.3,1633.5 591.0,1629.0 C599.7,1624.5 615.0,1615.2 627.0,1611.0 C639.0,1606.8 650.2,1606.2 663.0,1604.0 C675.8,1601.8 691.2,1600.2 704.0,1598.0 C716.8,1595.8 727.2,1594.8 740.0,1591.0 C752.8,1587.2 769.8,1579.3 781.0,1575.0 C792.2,1570.7 798.3,1566.7 807.0,1565.0 C815.7,1563.3 825.2,1562.8 833.0,1565.0 C840.8,1567.2 847.2,1571.5 854.0,1578.0 C860.8,1584.5 867.2,1597.2 874.0,1604.0 C880.8,1610.8 887.3,1611.3 895.0,1619.0 C902.7,1626.7 914.0,1640.5 920.0,1650.0 C926.0,1659.5 927.5,1668.3 931.0,1676.0 C934.5,1683.7 941.0,1691.7 941.0,1696.0 C941.0,1700.3 935.3,1703.7 931.0,1702.0 C926.7,1700.3 921.8,1691.2 915.0,1686.0 C908.2,1680.8 899.3,1676.2 890.0,1671.0 C880.7,1665.8 868.5,1659.3 859.0,1655.0 C849.5,1650.7 842.5,1648.0 833.0,1645.0 C823.5,1642.0 814.8,1637.8 802.0,1637.0 C789.2,1636.2 770.5,1638.7 756.0,1640.0 C741.5,1641.3 728.0,1643.3 715.0,1645.0 C702.0,1646.7 689.2,1645.7 678.0,1650.0 C666.8,1654.3 657.3,1665.8 648.0,1671.0 C638.7,1676.2 630.7,1678.8 622.0,1681.0 C613.3,1683.2 603.7,1682.3 596.0,1684.0 C588.3,1685.7 582.0,1687.2 576.0,1691.0 C570.0,1694.8 564.3,1704.7 560.0,1707.0 C555.7,1709.3 551.3,1709.2 550.0,1705.0 C548.7,1700.8 550.0,1690.8 552.0,1682.0 Z" fill="none" stroke="#000" stroke-width="1.8" stroke-linejoin="round"/>
<path d="M596.0,1666.0 C597.0,1661.5 601.3,1653.2 604.0,1648.0 C606.7,1642.8 606.5,1639.8 612.0,1635.0 C617.5,1630.2 628.5,1622.2 637.0,1619.0 C645.5,1615.8 655.2,1614.7 663.0,1616.0 C670.8,1617.3 684.0,1623.8 684.0,1627.0 C684.0,1630.2 670.0,1632.0 663.0,1635.0 C656.0,1638.0 648.0,1639.2 642.0,1645.0 C636.0,1650.8 632.3,1664.8 627.0,1670.0 C621.7,1675.2 614.8,1675.2 610.0,1676.0 C605.2,1676.8 600.3,1676.7 598.0,1675.0 C595.7,1673.3 595.0,1670.5 596.0,1666.0 Z" fill="none" stroke="#000" stroke-width="1.8" stroke-linejoin="round"/>
<path d="M720.0,1629.0 C721.7,1625.5 730.7,1618.2 740.0,1614.0 C749.3,1609.8 764.8,1607.5 776.0,1604.0 C787.2,1600.5 797.5,1595.2 807.0,1593.0 C816.5,1590.8 826.2,1590.2 833.0,1591.0 C839.8,1591.8 842.0,1593.3 848.0,1598.0 C854.0,1602.7 862.0,1612.8 869.0,1619.0 C876.0,1625.2 884.8,1629.8 890.0,1635.0 C895.2,1640.2 900.0,1646.7 900.0,1650.0 C900.0,1653.3 895.2,1655.8 890.0,1655.0 C884.8,1654.2 876.8,1648.3 869.0,1645.0 C861.2,1641.7 853.3,1638.0 843.0,1635.0 C832.7,1632.0 819.8,1628.0 807.0,1627.0 C794.2,1626.0 778.8,1627.7 766.0,1629.0 C753.2,1630.3 737.7,1635.0 730.0,1635.0 C722.3,1635.0 718.3,1632.5 720.0,1629.0 Z" fill="none" stroke="#000" stroke-width="1.8" stroke-linejoin="round"/>
<path d="M157.0,1602.0 C158.7,1600.7 164.0,1596.7 167.0,1594.0 C170.0,1591.3 172.2,1586.0 175.0,1586.0 C177.8,1586.0 180.0,1593.3 184.0,1594.0 C188.0,1594.7 194.5,1591.0 199.0,1590.0 C203.5,1589.0 207.2,1589.0 211.0,1588.0 C214.8,1587.0 217.5,1583.7 222.0,1584.0 C226.5,1584.3 233.3,1587.8 238.0,1590.0 C242.7,1592.2 246.0,1596.3 250.0,1597.0 C254.0,1597.7 257.8,1595.2 262.0,1594.0 C266.2,1592.8 272.8,1590.7 275.0,1590.0" fill="none" stroke="#000" stroke-width="1.8" stroke-linejoin="round"/>
<path d="M157.0,1588.0 C159.2,1587.5 165.7,1586.8 170.0,1585.0 C174.3,1583.2 178.8,1577.8 183.0,1577.0 C187.2,1576.2 190.5,1580.5 195.0,1580.0 C199.5,1579.5 204.5,1575.7 210.0,1574.0 C215.5,1572.3 225.0,1570.7 228.0,1570.0" fill="none" stroke="#000" stroke-width="1.8" stroke-linejoin="round"/>
<path d="M185.0,1488.0 C185.2,1493.3 187.2,1509.3 186.0,1520.0 C184.8,1530.7 182.7,1545.7 178.0,1552.0 C173.3,1558.3 161.3,1557.0 158.0,1558.0" fill="none" stroke="#000" stroke-width="1.8" stroke-linejoin="round"/>
<path d="M197.0,1488.0 C195.8,1495.0 192.8,1518.0 190.0,1530.0 C187.2,1542.0 181.7,1555.0 180.0,1560.0" fill="none" stroke="#000" stroke-width="1.8" stroke-linejoin="round"/>
<path d="M247.0,1489.0 C249.5,1491.7 258.5,1496.5 262.0,1505.0 C265.5,1513.5 268.0,1529.5 268.0,1540.0 C268.0,1550.5 263.0,1563.3 262.0,1568.0" fill="none" stroke="#000" stroke-width="1.8" stroke-linejoin="round"/>
<path d="M275.0,1489.0 C276.2,1492.5 279.2,1499.8 282.0,1510.0 C284.8,1520.2 289.3,1537.5 292.0,1550.0 C294.7,1562.5 296.7,1576.7 298.0,1585.0 C299.3,1593.3 299.7,1597.5 300.0,1600.0" fill="none" stroke="#000" stroke-width="1.8" stroke-linejoin="round"/>
<path d="M280.0,1505.0 C282.0,1506.2 289.0,1506.2 292.0,1512.0 C295.0,1517.8 296.0,1528.7 298.0,1540.0 C300.0,1551.3 302.0,1566.7 304.0,1580.0 C306.0,1593.3 309.0,1613.3 310.0,1620.0" fill="none" stroke="#000" stroke-width="1.8" stroke-linejoin="round"/>
<path d="M219.0,1500.0 C220.2,1499.7 223.8,1497.0 226.0,1498.0 C228.2,1499.0 231.2,1502.3 232.0,1506.0 C232.8,1509.7 232.3,1516.7 231.0,1520.0 C229.7,1523.3 226.0,1526.7 224.0,1526.0 C222.0,1525.3 219.8,1520.3 219.0,1516.0 C218.2,1511.7 219.0,1502.7 219.0,1500.0 C219.0,1497.3 217.8,1500.3 219.0,1500.0 Z" fill="none" stroke="#000" stroke-width="1.8" stroke-linejoin="round"/>
<path d="M240.0,1489.0 C241.3,1491.7 246.0,1498.2 248.0,1505.0 C250.0,1511.8 251.7,1521.5 252.0,1530.0 C252.3,1538.5 250.3,1551.7 250.0,1556.0" fill="none" stroke="#000" stroke-width="1.8" stroke-linejoin="round"/>
<path d="M160.0,1500.0 C162.0,1500.8 169.0,1500.8 172.0,1505.0 C175.0,1509.2 178.0,1518.3 178.0,1525.0 C178.0,1531.7 175.0,1540.8 172.0,1545.0 C169.0,1549.2 162.0,1549.2 160.0,1550.0" fill="none" stroke="#000" stroke-width="1.8" stroke-linejoin="round"/>
<path d="M265.2,1485.2 h5.5 v5.5 h-5.5 z M265.8,1495.2 h5.5 v5.5 h-5.5 z M266.3,1505.2 h5.5 v5.5 h-5.5 z M266.8,1515.2 h5.5 v5.5 h-5.5 z M267.3,1525.2 h5.5 v5.5 h-5.5 z M267.8,1535.2 h5.5 v5.5 h-5.5 z M268.7,1545.1 h5.5 v5.5 h-5.5 z M269.9,1555.1 h5.5 v5.5 h-5.5 z M271.9,1564.8 h5.5 v5.5 h-5.5 z M276.0,1573.9 h5.5 v5.5 h-5.5 z M282.7,1581.1 h5.5 v5.5 h-5.5 z M291.4,1585.9 h5.5 v5.5 h-5.5 z M301.4,1587.1 h5.5 v5.5 h-5.5 z M310.8,1590.2 h5.5 v5.5 h-5.5 z M314.8,1598.2 h5.5 v5.5 h-5.5 z M316.6,1608.1 h5.5 v5.5 h-5.5 z M318.2,1617.9 h5.5 v5.5 h-5.5 z M318.2,1627.9 h5.5 v5.5 h-5.5 z M318.2,1637.9 h5.5 v5.5 h-5.5 z M318.2,1647.9 h5.5 v5.5 h-5.5 z M318.2,1657.9 h5.5 v5.5 h-5.5 z M318.2,1667.9 h5.5 v5.5 h-5.5 z M317.2,1677.8 h5.5 v5.5 h-5.5 z M315.9,1687.8 h5.5 v5.5 h-5.5 z M314.7,1697.7 h5.5 v5.5 h-5.5 z M311.5,1707.0 h5.5 v5.5 h-5.5 z M307.2,1716.1 h5.5 v5.5 h-5.5 z M303.5,1725.3 h5.5 v5.5 h-5.5 z M301.2,1735.1 h5.5 v5.5 h-5.5 z M299.6,1744.8 h5.5 v5.5 h-5.5 z M301.9,1754.5 h5.5 v5.5 h-5.5 z M304.2,1764.2 h5.5 v5.5 h-5.5 z M307.3,1773.8 h5.5 v5.5 h-5.5 z M310.3,1783.3 h5.5 v5.5 h-5.5 z M313.8,1792.7 h5.5 v5.5 h-5.5 z M319.7,1800.1 h5.5 v5.5 h-5.5 z M328.6,1804.1 h5.5 v5.5 h-5.5 z M338.6,1803.2 h5.5 v5.5 h-5.5 z M348.5,1802.1 h5.5 v5.5 h-5.5 z M357.3,1797.4 h5.5 v5.5 h-5.5 z M366.4,1795.2 h5.5 v5.5 h-5.5 z M375.9,1798.2 h5.5 v5.5 h-5.5 z M382.8,1805.3 h5.5 v5.5 h-5.5 z M390.0,1812.1 h5.5 v5.5 h-5.5 z M399.1,1816.3 h5.5 v5.5 h-5.5 z M407.8,1813.2 h5.5 v5.5 h-5.5 z M416.3,1808.0 h5.5 v5.5 h-5.5 z M425.0,1803.2 h5.5 v5.5 h-5.5 z M434.3,1799.4 h5.5 v5.5 h-5.5 z M443.2,1795.0 h5.5 v5.5 h-5.5 z M452.5,1791.8 h5.5 v5.5 h-5.5 z M462.5,1790.9 h5.5 v5.5 h-5.5 z M472.4,1790.4 h5.5 v5.5 h-5.5 z M482.4,1790.7 h5.5 v5.5 h-5.5 z M492.4,1791.1 h5.5 v5.5 h-5.5 z M501.5,1788.1 h5.5 v5.5 h-5.5 z M510.1,1782.9 h5.5 v5.5 h-5.5 z M517.4,1776.1 h5.5 v5.5 h-5.5 z M524.4,1769.1 h5.5 v5.5 h-5.5 z M527.3,1759.9 h5.5 v5.5 h-5.5 z M528.7,1750.0 h5.5 v5.5 h-5.5 z M530.1,1740.1 h5.5 v5.5 h-5.5 z M536.4,1732.4 h5.5 v5.5 h-5.5 z M543.5,1725.4 h5.5 v5.5 h-5.5 z M550.6,1718.5 h5.5 v5.5 h-5.5 z M556.8,1710.6 h5.5 v5.5 h-5.5 z M563.0,1702.8 h5.5 v5.5 h-5.5 z M567.1,1693.7 h5.5 v5.5 h-5.5 z M570.7,1684.4 h5.5 v5.5 h-5.5 z M575.6,1675.8 h5.5 v5.5 h-5.5 z M581.7,1667.9 h5.5 v5.5 h-5.5 z M587.9,1660.0 h5.5 v5.5 h-5.5 z M594.2,1652.2 h5.5 v5.5 h-5.5 z M600.5,1644.5 h5.5 v5.5 h-5.5 z M605.9,1636.1 h5.5 v5.5 h-5.5 z M610.9,1627.4 h5.5 v5.5 h-5.5 z M616.0,1618.8 h5.5 v5.5 h-5.5 z M622.2,1611.3 h5.5 v5.5 h-5.5 z M630.4,1605.6 h5.5 v5.5 h-5.5 z M638.6,1599.9 h5.5 v5.5 h-5.5 z M645.7,1592.8 h5.5 v5.5 h-5.5 z M654.2,1589.2 h5.5 v5.5 h-5.5 z M664.2,1589.2 h5.5 v5.5 h-5.5 z M674.0,1587.4 h5.5 v5.5 h-5.5 z M683.7,1585.5 h5.5 v5.5 h-5.5 z M692.6,1589.9 h5.5 v5.5 h-5.5 z M702.1,1589.6 h5.5 v5.5 h-5.5 z M711.9,1587.3 h5.5 v5.5 h-5.5 z M721.8,1586.8 h5.5 v5.5 h-5.5 z M731.8,1585.9 h5.5 v5.5 h-5.5 z M741.8,1584.9 h5.5 v5.5 h-5.5 z M751.7,1584.0 h5.5 v5.5 h-5.5 z M761.3,1581.9 h5.5 v5.5 h-5.5 z M769.7,1576.5 h5.5 v5.5 h-5.5 z M777.6,1570.5 h5.5 v5.5 h-5.5 z M783.8,1562.7 h5.5 v5.5 h-5.5 z M790.1,1554.9 h5.5 v5.5 h-5.5 z M796.5,1547.3 h5.5 v5.5 h-5.5 z M804.3,1541.0 h5.5 v5.5 h-5.5 z M813.0,1540.1 h5.5 v5.5 h-5.5 z M822.4,1543.7 h5.5 v5.5 h-5.5 z M831.7,1547.4 h5.5 v5.5 h-5.5 z M840.7,1551.6 h5.5 v5.5 h-5.5 z M847.2,1558.6 h5.5 v5.5 h-5.5 z M851.3,1567.7 h5.5 v5.5 h-5.5 z M854.2,1577.3 h5.5 v5.5 h-5.5 z M857.1,1586.8 h5.5 v5.5 h-5.5 z M862.3,1595.4 h5.5 v5.5 h-5.5 z M867.5,1603.9 h5.5 v5.5 h-5.5 z M872.6,1612.5 h5.5 v5.5 h-5.5 z M880.9,1616.6 h5.5 v5.5 h-5.5 z M889.2,1621.6 h5.5 v5.5 h-5.5 z M894.6,1629.6 h5.5 v5.5 h-5.5 z M897.4,1639.2 h5.5 v5.5 h-5.5 z M898.7,1649.1 h5.5 v5.5 h-5.5 z M900.7,1658.9 h5.5 v5.5 h-5.5 z M903.4,1668.5 h5.5 v5.5 h-5.5 z M906.9,1677.9 h5.5 v5.5 h-5.5 z M910.1,1687.3 h5.5 v5.5 h-5.5 z M912.7,1697.0 h5.5 v5.5 h-5.5 z M914.3,1706.9 h5.5 v5.5 h-5.5 z M915.8,1716.7 h5.5 v5.5 h-5.5 z M917.5,1726.6 h5.5 v5.5 h-5.5 z M919.1,1736.5 h5.5 v5.5 h-5.5 z M921.8,1745.9 h5.5 v5.5 h-5.5 z M926.9,1754.6 h5.5 v5.5 h-5.5 z M936.2,1757.5 h5.5 v5.5 h-5.5 z M946.1,1758.2 h5.5 v5.5 h-5.5 z M955.8,1760.0 h5.5 v5.5 h-5.5 z M964.3,1760.3 h5.5 v5.5 h-5.5 z M969.1,1751.5 h5.5 v5.5 h-5.5 z M972.5,1742.1 h5.5 v5.5 h-5.5 z M976.9,1734.7 h5.5 v5.5 h-5.5 z M986.4,1737.7 h5.5 v5.5 h-5.5 z M994.0,1744.0 h5.5 v5.5 h-5.5 z M999.3,1752.2 h5.5 v5.5 h-5.5 z M1003.2,1761.4 h5.5 v5.5 h-5.5 z M1007.5,1762.1 h5.5 v5.5 h-5.5 z M1012.2,1753.2 h5.5 v5.5 h-5.5 z M1018.7,1745.8 h5.5 v5.5 h-5.5 z M1025.8,1738.7 h5.5 v5.5 h-5.5 z M1032.0,1730.9 h5.5 v5.5 h-5.5 z M1037.9,1722.8 h5.5 v5.5 h-5.5 z M1043.9,1714.8 h5.5 v5.5 h-5.5 z M1046.2,1705.1 h5.5 v5.5 h-5.5 z M1048.3,1695.3 h5.5 v5.5 h-5.5 z M1050.7,1685.7 h5.5 v5.5 h-5.5 z M1057.1,1678.0 h5.5 v5.5 h-5.5 z M1064.4,1677.2 h5.5 v5.5 h-5.5 z M1071.8,1683.6 h5.5 v5.5 h-5.5 z M1075.5,1692.9 h5.5 v5.5 h-5.5 z M1079.2,1702.2 h5.5 v5.5 h-5.5 z M1082.4,1711.7 h5.5 v5.5 h-5.5 z" fill="#000"/>
<path d="M208.9,1487.2 h5.5 v5.5 h-5.5 z M210.5,1497.1 h5.5 v5.5 h-5.5 z M211.9,1507.0 h5.5 v5.5 h-5.5 z M212.9,1517.0 h5.5 v5.5 h-5.5 z M217.2,1526.0 h5.5 v5.5 h-5.5 z M224.6,1532.2 h5.5 v5.5 h-5.5 z M232.4,1538.5 h5.5 v5.5 h-5.5 z M238.5,1532.1 h5.5 v5.5 h-5.5 z M242.9,1523.3 h5.5 v5.5 h-5.5 z M246.1,1513.8 h5.5 v5.5 h-5.5 z M248.5,1504.1 h5.5 v5.5 h-5.5 z M250.7,1494.3 h5.5 v5.5 h-5.5 z" fill="#000"/>
<path d="M1091.2,1641.2 h5.5 v5.5 h-5.5 z M1100.6,1637.7 h5.5 v5.5 h-5.5 z M1109.2,1637.4 h5.5 v5.5 h-5.5 z M1115.9,1644.8 h5.5 v5.5 h-5.5 z M1123.5,1651.3 h5.5 v5.5 h-5.5 z M1131.4,1657.4 h5.5 v5.5 h-5.5 z M1139.8,1662.9 h5.5 v5.5 h-5.5 z M1143.2,1654.3 h5.5 v5.5 h-5.5 z M1146.4,1644.8 h5.5 v5.5 h-5.5 z M1149.1,1635.2 h5.5 v5.5 h-5.5 z M1151.8,1625.6 h5.5 v5.5 h-5.5 z M1154.1,1615.9 h5.5 v5.5 h-5.5 z M1156.1,1606.1 h5.5 v5.5 h-5.5 z M1160.5,1597.8 h5.5 v5.5 h-5.5 z M1167.2,1590.6 h5.5 v5.5 h-5.5 z M1171.9,1581.8 h5.5 v5.5 h-5.5 z M1176.4,1572.9 h5.5 v5.5 h-5.5 z M1180.9,1564.0 h5.5 v5.5 h-5.5 z M1184.2,1554.5 h5.5 v5.5 h-5.5 z M1190.7,1547.6 h5.5 v5.5 h-5.5 z M1197.1,1550.2 h5.5 v5.5 h-5.5 z M1202.1,1558.9 h5.5 v5.5 h-5.5 z M1206.5,1567.8 h5.5 v5.5 h-5.5 z M1211.7,1576.2 h5.5 v5.5 h-5.5 z M1220.0,1581.7 h5.5 v5.5 h-5.5 z M1228.8,1580.0 h5.5 v5.5 h-5.5 z M1235.3,1573.5 h5.5 v5.5 h-5.5 z M1238.0,1563.9 h5.5 v5.5 h-5.5 z M1240.9,1554.3 h5.5 v5.5 h-5.5 z M1245.3,1545.7 h5.5 v5.5 h-5.5 z M1253.3,1539.7 h5.5 v5.5 h-5.5 z M1258.1,1531.2 h5.5 v5.5 h-5.5 z M1261.8,1522.0 h5.5 v5.5 h-5.5 z M1264.4,1512.3 h5.5 v5.5 h-5.5 z M1266.2,1502.5 h5.5 v5.5 h-5.5 z M1265.8,1492.9 h5.5 v5.5 h-5.5 z" fill="#000"/>
<path d="M332.0,1649.5 m-3.0,0 a3.0,3.0 0 1,0 6.0,0 a3.0,3.0 0 1,0 -6.0,0 M339.5,1662.0 m-3.0,0 a3.0,3.0 0 1,0 6.0,0 a3.0,3.0 0 1,0 -6.0,0 M348.0,1675.0 m-3.0,0 a3.0,3.0 0 1,0 6.0,0 a3.0,3.0 0 1,0 -6.0,0 M356.4,1686.6 m-3.0,0 a3.0,3.0 0 1,0 6.0,0 a3.0,3.0 0 1,0 -6.0,0 M366.0,1698.0 m-3.0,0 a3.0,3.0 0 1,0 6.0,0 a3.0,3.0 0 1,0 -6.0,0 M380.8,1701.4 m-3.0,0 a3.0,3.0 0 1,0 6.0,0 a3.0,3.0 0 1,0 -6.0,0 M395.6,1704.6 m-3.0,0 a3.0,3.0 0 1,0 6.0,0 a3.0,3.0 0 1,0 -6.0,0 M408.3,1713.0 m-3.0,0 a3.0,3.0 0 1,0 6.0,0 a3.0,3.0 0 1,0 -6.0,0 M421.0,1721.5 m-3.0,0 a3.0,3.0 0 1,0 6.0,0 a3.0,3.0 0 1,0 -6.0,0 M433.7,1728.0 m-3.0,0 a3.0,3.0 0 1,0 6.0,0 a3.0,3.0 0 1,0 -6.0,0 M448.5,1729.6 m-3.0,0 a3.0,3.0 0 1,0 6.0,0 a3.0,3.0 0 1,0 -6.0,0 M463.3,1731.3 m-3.0,0 a3.0,3.0 0 1,0 6.0,0 a3.0,3.0 0 1,0 -6.0,0 M471.8,1719.0 m-3.0,0 a3.0,3.0 0 1,0 6.0,0 a3.0,3.0 0 1,0 -6.0,0 M480.2,1706.4 m-3.0,0 a3.0,3.0 0 1,0 6.0,0 a3.0,3.0 0 1,0 -6.0,0 M495.0,1704.2 m-3.0,0 a3.0,3.0 0 1,0 6.0,0 a3.0,3.0 0 1,0 -6.0,0 M509.9,1703.2 m-3.0,0 a3.0,3.0 0 1,0 6.0,0 a3.0,3.0 0 1,0 -6.0,0 M524.0,1695.0 m-3.0,0 a3.0,3.0 0 1,0 6.0,0 a3.0,3.0 0 1,0 -6.0,0 M536.0,1680.0 m-3.0,0 a3.0,3.0 0 1,0 6.0,0 a3.0,3.0 0 1,0 -6.0,0 M548.0,1668.0 m-3.0,0 a3.0,3.0 0 1,0 6.0,0 a3.0,3.0 0 1,0 -6.0,0 M560.0,1656.0 m-3.0,0 a3.0,3.0 0 1,0 6.0,0 a3.0,3.0 0 1,0 -6.0,0 M572.0,1646.0 m-3.0,0 a3.0,3.0 0 1,0 6.0,0 a3.0,3.0 0 1,0 -6.0,0 M586.0,1636.0 m-3.0,0 a3.0,3.0 0 1,0 6.0,0 a3.0,3.0 0 1,0 -6.0,0 M601.0,1632.0 m-3.0,0 a3.0,3.0 0 1,0 6.0,0 a3.0,3.0 0 1,0 -6.0,0 M614.0,1630.0 m-3.0,0 a3.0,3.0 0 1,0 6.0,0 a3.0,3.0 0 1,0 -6.0,0 M628.0,1630.0 m-3.0,0 a3.0,3.0 0 1,0 6.0,0 a3.0,3.0 0 1,0 -6.0,0 M643.0,1633.0 m-3.0,0 a3.0,3.0 0 1,0 6.0,0 a3.0,3.0 0 1,0 -6.0,0 M657.0,1636.0 m-3.0,0 a3.0,3.0 0 1,0 6.0,0 a3.0,3.0 0 1,0 -6.0,0 M672.0,1639.0 m-3.0,0 a3.0,3.0 0 1,0 6.0,0 a3.0,3.0 0 1,0 -6.0,0 M688.0,1640.0 m-3.0,0 a3.0,3.0 0 1,0 6.0,0 a3.0,3.0 0 1,0 -6.0,0 M702.0,1640.0 m-3.0,0 a3.0,3.0 0 1,0 6.0,0 a3.0,3.0 0 1,0 -6.0,0 M712.0,1636.0 m-3.0,0 a3.0,3.0 0 1,0 6.0,0 a3.0,3.0 0 1,0 -6.0,0 M720.0,1630.0 m-3.0,0 a3.0,3.0 0 1,0 6.0,0 a3.0,3.0 0 1,0 -6.0,0 M730.6,1622.0 m-3.0,0 a3.0,3.0 0 1,0 6.0,0 a3.0,3.0 0 1,0 -6.0,0 M741.2,1611.0 m-3.0,0 a3.0,3.0 0 1,0 6.0,0 a3.0,3.0 0 1,0 -6.0,0 M756.0,1609.0 m-3.0,0 a3.0,3.0 0 1,0 6.0,0 a3.0,3.0 0 1,0 -6.0,0 M770.8,1608.0 m-3.0,0 a3.0,3.0 0 1,0 6.0,0 a3.0,3.0 0 1,0 -6.0,0 M785.6,1608.0 m-3.0,0 a3.0,3.0 0 1,0 6.0,0 a3.0,3.0 0 1,0 -6.0,0 M801.5,1608.0 m-3.0,0 a3.0,3.0 0 1,0 6.0,0 a3.0,3.0 0 1,0 -6.0,0 M814.2,1615.5 m-3.0,0 a3.0,3.0 0 1,0 6.0,0 a3.0,3.0 0 1,0 -6.0,0 M825.9,1626.0 m-3.0,0 a3.0,3.0 0 1,0 6.0,0 a3.0,3.0 0 1,0 -6.0,0 M836.5,1635.6 m-3.0,0 a3.0,3.0 0 1,0 6.0,0 a3.0,3.0 0 1,0 -6.0,0 M847.0,1645.0 m-3.0,0 a3.0,3.0 0 1,0 6.0,0 a3.0,3.0 0 1,0 -6.0,0 M857.6,1655.7 m-3.0,0 a3.0,3.0 0 1,0 6.0,0 a3.0,3.0 0 1,0 -6.0,0 M868.2,1666.3 m-3.0,0 a3.0,3.0 0 1,0 6.0,0 a3.0,3.0 0 1,0 -6.0,0 M883.0,1672.7 m-3.0,0 a3.0,3.0 0 1,0 6.0,0 a3.0,3.0 0 1,0 -6.0,0 M896.8,1679.0 m-3.0,0 a3.0,3.0 0 1,0 6.0,0 a3.0,3.0 0 1,0 -6.0,0 M910.6,1685.4 m-3.0,0 a3.0,3.0 0 1,0 6.0,0 a3.0,3.0 0 1,0 -6.0,0 M924.3,1689.6 m-3.0,0 a3.0,3.0 0 1,0 6.0,0 a3.0,3.0 0 1,0 -6.0,0 M939.1,1694.9 m-3.0,0 a3.0,3.0 0 1,0 6.0,0 a3.0,3.0 0 1,0 -6.0,0 M954.0,1694.9 m-3.0,0 a3.0,3.0 0 1,0 6.0,0 a3.0,3.0 0 1,0 -6.0,0 M968.8,1694.9 m-3.0,0 a3.0,3.0 0 1,0 6.0,0 a3.0,3.0 0 1,0 -6.0,0 M983.6,1694.9 m-3.0,0 a3.0,3.0 0 1,0 6.0,0 a3.0,3.0 0 1,0 -6.0,0 M998.4,1691.7 m-3.0,0 a3.0,3.0 0 1,0 6.0,0 a3.0,3.0 0 1,0 -6.0,0 M1013.2,1686.4 m-3.0,0 a3.0,3.0 0 1,0 6.0,0 a3.0,3.0 0 1,0 -6.0,0 M1026.6,1680.6 m-3.0,0 a3.0,3.0 0 1,0 6.0,0 a3.0,3.0 0 1,0 -6.0,0 M1040.9,1675.5 m-3.0,0 a3.0,3.0 0 1,0 6.0,0 a3.0,3.0 0 1,0 -6.0,0 M1055.3,1671.4 m-3.0,0 a3.0,3.0 0 1,0 6.0,0 a3.0,3.0 0 1,0 -6.0,0 M1068.6,1666.2 m-3.0,0 a3.0,3.0 0 1,0 6.0,0 a3.0,3.0 0 1,0 -6.0,0 M1075.7,1653.0 m-3.0,0 a3.0,3.0 0 1,0 6.0,0 a3.0,3.0 0 1,0 -6.0,0 M1082.9,1639.6 m-3.0,0 a3.0,3.0 0 1,0 6.0,0 a3.0,3.0 0 1,0 -6.0,0 M1089.0,1626.3 m-3.0,0 a3.0,3.0 0 1,0 6.0,0 a3.0,3.0 0 1,0 -6.0,0 M1096.2,1613.0 m-3.0,0 a3.0,3.0 0 1,0 6.0,0 a3.0,3.0 0 1,0 -6.0,0 M1111.5,1612.6 m-3.0,0 a3.0,3.0 0 1,0 6.0,0 a3.0,3.0 0 1,0 -6.0,0 M1126.9,1612.6 m-3.0,0 a3.0,3.0 0 1,0 6.0,0 a3.0,3.0 0 1,0 -6.0,0 M1142.2,1612.6 m-3.0,0 a3.0,3.0 0 1,0 6.0,0 a3.0,3.0 0 1,0 -6.0,0 M1156.6,1612.6 m-3.0,0 a3.0,3.0 0 1,0 6.0,0 a3.0,3.0 0 1,0 -6.0,0 M1167.8,1602.8 m-3.0,0 a3.0,3.0 0 1,0 6.0,0 a3.0,3.0 0 1,0 -6.0,0 M1180.1,1593.6 m-3.0,0 a3.0,3.0 0 1,0 6.0,0 a3.0,3.0 0 1,0 -6.0,0 M1191.4,1583.4 m-3.0,0 a3.0,3.0 0 1,0 6.0,0 a3.0,3.0 0 1,0 -6.0,0 M1204.7,1580.3 m-3.0,0 a3.0,3.0 0 1,0 6.0,0 a3.0,3.0 0 1,0 -6.0,0 M1220.0,1580.3 m-3.0,0 a3.0,3.0 0 1,0 6.0,0 a3.0,3.0 0 1,0 -6.0,0 M1235.4,1580.3 m-3.0,0 a3.0,3.0 0 1,0 6.0,0 a3.0,3.0 0 1,0 -6.0,0 M1250.7,1580.3 m-3.0,0 a3.0,3.0 0 1,0 6.0,0 a3.0,3.0 0 1,0 -6.0,0 M1265.0,1580.3 m-3.0,0 a3.0,3.0 0 1,0 6.0,0 a3.0,3.0 0 1,0 -6.0,0" fill="#fff"/>
<path d="M175.0,1565.0 m-3.0,0 a3.0,3.0 0 1,0 6.0,0 a3.0,3.0 0 1,0 -6.0,0 M188.0,1560.0 m-3.0,0 a3.0,3.0 0 1,0 6.0,0 a3.0,3.0 0 1,0 -6.0,0 M200.0,1562.0 m-3.0,0 a3.0,3.0 0 1,0 6.0,0 a3.0,3.0 0 1,0 -6.0,0 M214.0,1566.0 m-3.0,0 a3.0,3.0 0 1,0 6.0,0 a3.0,3.0 0 1,0 -6.0,0 M228.0,1578.0 m-3.0,0 a3.0,3.0 0 1,0 6.0,0 a3.0,3.0 0 1,0 -6.0,0 M240.0,1588.0 m-3.0,0 a3.0,3.0 0 1,0 6.0,0 a3.0,3.0 0 1,0 -6.0,0 M254.0,1593.0 m-3.0,0 a3.0,3.0 0 1,0 6.0,0 a3.0,3.0 0 1,0 -6.0,0 M264.0,1605.0 m-3.0,0 a3.0,3.0 0 1,0 6.0,0 a3.0,3.0 0 1,0 -6.0,0 M278.0,1615.0 m-3.0,0 a3.0,3.0 0 1,0 6.0,0 a3.0,3.0 0 1,0 -6.0,0 M285.0,1628.0 m-3.0,0 a3.0,3.0 0 1,0 6.0,0 a3.0,3.0 0 1,0 -6.0,0 M292.0,1640.0 m-3.0,0 a3.0,3.0 0 1,0 6.0,0 a3.0,3.0 0 1,0 -6.0,0 M300.3,1650.6 m-3.0,0 a3.0,3.0 0 1,0 6.0,0 a3.0,3.0 0 1,0 -6.0,0 M305.6,1664.3 m-3.0,0 a3.0,3.0 0 1,0 6.0,0 a3.0,3.0 0 1,0 -6.0,0 M310.9,1678.0 m-3.0,0 a3.0,3.0 0 1,0 6.0,0 a3.0,3.0 0 1,0 -6.0,0 M322.6,1705.6 m-3.0,0 a3.0,3.0 0 1,0 6.0,0 a3.0,3.0 0 1,0 -6.0,0 M327.9,1720.5 m-3.0,0 a3.0,3.0 0 1,0 6.0,0 a3.0,3.0 0 1,0 -6.0,0 M334.2,1733.0 m-3.0,0 a3.0,3.0 0 1,0 6.0,0 a3.0,3.0 0 1,0 -6.0,0 M339.5,1748.0 m-3.0,0 a3.0,3.0 0 1,0 6.0,0 a3.0,3.0 0 1,0 -6.0,0 M344.8,1761.7 m-3.0,0 a3.0,3.0 0 1,0 6.0,0 a3.0,3.0 0 1,0 -6.0,0 M352.2,1774.4 m-3.0,0 a3.0,3.0 0 1,0 6.0,0 a3.0,3.0 0 1,0 -6.0,0 M358.5,1788.0 m-3.0,0 a3.0,3.0 0 1,0 6.0,0 a3.0,3.0 0 1,0 -6.0,0 M366.0,1802.0 m-3.0,0 a3.0,3.0 0 1,0 6.0,0 a3.0,3.0 0 1,0 -6.0,0 M378.7,1807.3 m-3.0,0 a3.0,3.0 0 1,0 6.0,0 a3.0,3.0 0 1,0 -6.0,0 M393.5,1811.5 m-3.0,0 a3.0,3.0 0 1,0 6.0,0 a3.0,3.0 0 1,0 -6.0,0 M404.0,1820.0 m-3.0,0 a3.0,3.0 0 1,0 6.0,0 a3.0,3.0 0 1,0 -6.0,0 M414.7,1830.6 m-3.0,0 a3.0,3.0 0 1,0 6.0,0 a3.0,3.0 0 1,0 -6.0,0 M425.3,1841.0 m-3.0,0 a3.0,3.0 0 1,0 6.0,0 a3.0,3.0 0 1,0 -6.0,0 M439.0,1848.5 m-3.0,0 a3.0,3.0 0 1,0 6.0,0 a3.0,3.0 0 1,0 -6.0,0 M453.8,1851.4 m-3.0,0 a3.0,3.0 0 1,0 6.0,0 a3.0,3.0 0 1,0 -6.0,0 M465.4,1848.2 m-3.0,0 a3.0,3.0 0 1,0 6.0,0 a3.0,3.0 0 1,0 -6.0,0 M471.8,1834.4 m-3.0,0 a3.0,3.0 0 1,0 6.0,0 a3.0,3.0 0 1,0 -6.0,0 M477.1,1821.7 m-3.0,0 a3.0,3.0 0 1,0 6.0,0 a3.0,3.0 0 1,0 -6.0,0 M486.6,1811.2 m-3.0,0 a3.0,3.0 0 1,0 6.0,0 a3.0,3.0 0 1,0 -6.0,0 M501.4,1810.0 m-3.0,0 a3.0,3.0 0 1,0 6.0,0 a3.0,3.0 0 1,0 -6.0,0 M516.2,1809.0 m-3.0,0 a3.0,3.0 0 1,0 6.0,0 a3.0,3.0 0 1,0 -6.0,0 M526.8,1798.5 m-3.0,0 a3.0,3.0 0 1,0 6.0,0 a3.0,3.0 0 1,0 -6.0,0 M536.3,1786.8 m-3.0,0 a3.0,3.0 0 1,0 6.0,0 a3.0,3.0 0 1,0 -6.0,0 M545.9,1775.2 m-3.0,0 a3.0,3.0 0 1,0 6.0,0 a3.0,3.0 0 1,0 -6.0,0 M555.4,1763.5 m-3.0,0 a3.0,3.0 0 1,0 6.0,0 a3.0,3.0 0 1,0 -6.0,0 M564.9,1751.9 m-3.0,0 a3.0,3.0 0 1,0 6.0,0 a3.0,3.0 0 1,0 -6.0,0 M574.5,1740.2 m-3.0,0 a3.0,3.0 0 1,0 6.0,0 a3.0,3.0 0 1,0 -6.0,0 M584.0,1728.6 m-3.0,0 a3.0,3.0 0 1,0 6.0,0 a3.0,3.0 0 1,0 -6.0,0 M592.4,1716.9 m-3.0,0 a3.0,3.0 0 1,0 6.0,0 a3.0,3.0 0 1,0 -6.0,0 M602.0,1705.3 m-3.0,0 a3.0,3.0 0 1,0 6.0,0 a3.0,3.0 0 1,0 -6.0,0 M615.7,1703.2 m-3.0,0 a3.0,3.0 0 1,0 6.0,0 a3.0,3.0 0 1,0 -6.0,0 M630.6,1703.2 m-3.0,0 a3.0,3.0 0 1,0 6.0,0 a3.0,3.0 0 1,0 -6.0,0 M646.4,1704.2 m-3.0,0 a3.0,3.0 0 1,0 6.0,0 a3.0,3.0 0 1,0 -6.0,0 M660.2,1709.5 m-3.0,0 a3.0,3.0 0 1,0 6.0,0 a3.0,3.0 0 1,0 -6.0,0 M674.0,1715.9 m-3.0,0 a3.0,3.0 0 1,0 6.0,0 a3.0,3.0 0 1,0 -6.0,0 M689.8,1716.9 m-3.0,0 a3.0,3.0 0 1,0 6.0,0 a3.0,3.0 0 1,0 -6.0,0 M704.6,1716.9 m-3.0,0 a3.0,3.0 0 1,0 6.0,0 a3.0,3.0 0 1,0 -6.0,0 M715.3,1709.5 m-3.0,0 a3.0,3.0 0 1,0 6.0,0 a3.0,3.0 0 1,0 -6.0,0 M725.0,1700.0 m-3.0,0 a3.0,3.0 0 1,0 6.0,0 a3.0,3.0 0 1,0 -6.0,0 M732.7,1683.3 m-3.0,0 a3.0,3.0 0 1,0 6.0,0 a3.0,3.0 0 1,0 -6.0,0 M741.2,1671.6 m-3.0,0 a3.0,3.0 0 1,0 6.0,0 a3.0,3.0 0 1,0 -6.0,0 M753.9,1667.4 m-3.0,0 a3.0,3.0 0 1,0 6.0,0 a3.0,3.0 0 1,0 -6.0,0 M768.7,1666.3 m-3.0,0 a3.0,3.0 0 1,0 6.0,0 a3.0,3.0 0 1,0 -6.0,0 M783.5,1666.3 m-3.0,0 a3.0,3.0 0 1,0 6.0,0 a3.0,3.0 0 1,0 -6.0,0 M798.3,1666.3 m-3.0,0 a3.0,3.0 0 1,0 6.0,0 a3.0,3.0 0 1,0 -6.0,0 M811.0,1672.7 m-3.0,0 a3.0,3.0 0 1,0 6.0,0 a3.0,3.0 0 1,0 -6.0,0 M819.5,1683.3 m-3.0,0 a3.0,3.0 0 1,0 6.0,0 a3.0,3.0 0 1,0 -6.0,0 M829.0,1696.9 m-3.0,0 a3.0,3.0 0 1,0 6.0,0 a3.0,3.0 0 1,0 -6.0,0 M837.5,1708.6 m-3.0,0 a3.0,3.0 0 1,0 6.0,0 a3.0,3.0 0 1,0 -6.0,0 M846.0,1721.3 m-3.0,0 a3.0,3.0 0 1,0 6.0,0 a3.0,3.0 0 1,0 -6.0,0 M855.5,1732.9 m-3.0,0 a3.0,3.0 0 1,0 6.0,0 a3.0,3.0 0 1,0 -6.0,0 M864.0,1745.6 m-3.0,0 a3.0,3.0 0 1,0 6.0,0 a3.0,3.0 0 1,0 -6.0,0 M873.5,1757.3 m-3.0,0 a3.0,3.0 0 1,0 6.0,0 a3.0,3.0 0 1,0 -6.0,0 M886.2,1764.7 m-3.0,0 a3.0,3.0 0 1,0 6.0,0 a3.0,3.0 0 1,0 -6.0,0 M898.9,1772.1 m-3.0,0 a3.0,3.0 0 1,0 6.0,0 a3.0,3.0 0 1,0 -6.0,0 M911.6,1780.6 m-3.0,0 a3.0,3.0 0 1,0 6.0,0 a3.0,3.0 0 1,0 -6.0,0 M924.3,1789.0 m-3.0,0 a3.0,3.0 0 1,0 6.0,0 a3.0,3.0 0 1,0 -6.0,0 M937.0,1795.4 m-3.0,0 a3.0,3.0 0 1,0 6.0,0 a3.0,3.0 0 1,0 -6.0,0 M951.8,1796.0 m-3.0,0 a3.0,3.0 0 1,0 6.0,0 a3.0,3.0 0 1,0 -6.0,0 M966.7,1796.0 m-3.0,0 a3.0,3.0 0 1,0 6.0,0 a3.0,3.0 0 1,0 -6.0,0 M982.5,1796.0 m-3.0,0 a3.0,3.0 0 1,0 6.0,0 a3.0,3.0 0 1,0 -6.0,0 M996.3,1793.3 m-3.0,0 a3.0,3.0 0 1,0 6.0,0 a3.0,3.0 0 1,0 -6.0,0 M1009.0,1784.8 m-3.0,0 a3.0,3.0 0 1,0 6.0,0 a3.0,3.0 0 1,0 -6.0,0 M1022.0,1772.0 m-3.0,0 a3.0,3.0 0 1,0 6.0,0 a3.0,3.0 0 1,0 -6.0,0 M1035.0,1760.0 m-3.0,0 a3.0,3.0 0 1,0 6.0,0 a3.0,3.0 0 1,0 -6.0,0 M1048.0,1748.0 m-3.0,0 a3.0,3.0 0 1,0 6.0,0 a3.0,3.0 0 1,0 -6.0,0 M1061.0,1738.0 m-3.0,0 a3.0,3.0 0 1,0 6.0,0 a3.0,3.0 0 1,0 -6.0,0 M1074.0,1728.0 m-3.0,0 a3.0,3.0 0 1,0 6.0,0 a3.0,3.0 0 1,0 -6.0,0 M1088.0,1712.0 m-3.0,0 a3.0,3.0 0 1,0 6.0,0 a3.0,3.0 0 1,0 -6.0,0 M1098.0,1695.0 m-3.0,0 a3.0,3.0 0 1,0 6.0,0 a3.0,3.0 0 1,0 -6.0,0 M1109.5,1672.4 m-3.0,0 a3.0,3.0 0 1,0 6.0,0 a3.0,3.0 0 1,0 -6.0,0 M1123.8,1672.4 m-3.0,0 a3.0,3.0 0 1,0 6.0,0 a3.0,3.0 0 1,0 -6.0,0 M1139.2,1672.4 m-3.0,0 a3.0,3.0 0 1,0 6.0,0 a3.0,3.0 0 1,0 -6.0,0 M1154.5,1673.4 m-3.0,0 a3.0,3.0 0 1,0 6.0,0 a3.0,3.0 0 1,0 -6.0,0 M1164.8,1664.2 m-3.0,0 a3.0,3.0 0 1,0 6.0,0 a3.0,3.0 0 1,0 -6.0,0 M1174.0,1652.9 m-3.0,0 a3.0,3.0 0 1,0 6.0,0 a3.0,3.0 0 1,0 -6.0,0 M1183.2,1640.7 m-3.0,0 a3.0,3.0 0 1,0 6.0,0 a3.0,3.0 0 1,0 -6.0,0 M1191.4,1628.4 m-3.0,0 a3.0,3.0 0 1,0 6.0,0 a3.0,3.0 0 1,0 -6.0,0 M1204.7,1625.3 m-3.0,0 a3.0,3.0 0 1,0 6.0,0 a3.0,3.0 0 1,0 -6.0,0 M1220.0,1625.3 m-3.0,0 a3.0,3.0 0 1,0 6.0,0 a3.0,3.0 0 1,0 -6.0,0 M1235.4,1625.3 m-3.0,0 a3.0,3.0 0 1,0 6.0,0 a3.0,3.0 0 1,0 -6.0,0 M1249.7,1625.3 m-3.0,0 a3.0,3.0 0 1,0 6.0,0 a3.0,3.0 0 1,0 -6.0,0 M1265.0,1624.3 m-3.0,0 a3.0,3.0 0 1,0 6.0,0 a3.0,3.0 0 1,0 -6.0,0" fill="#fff"/>
<text x="170.0" y="1502.0" font-size="20" font-weight="bold" text-anchor="middle" dominant-baseline="central" transform="rotate(-60 170.0 1502.0)">0.5</text>
<text x="185.0" y="1530.0" font-size="20" font-weight="bold" text-anchor="middle" dominant-baseline="central" transform="rotate(-75 185.0 1530.0)">1.25</text>
<text x="203.0" y="1554.0" font-size="20" font-weight="bold" text-anchor="middle" dominant-baseline="central" transform="rotate(-80 203.0 1554.0)">1</text>
<text x="250.0" y="1540.0" font-size="20" font-weight="bold" text-anchor="middle" dominant-baseline="central" transform="rotate(-80 250.0 1540.0)">1.25</text>
<text x="198.0" y="1582.0" font-size="20" font-weight="bold" text-anchor="middle" dominant-baseline="central" transform="rotate(-10 198.0 1582.0)">1</text>
<text x="240.0" y="1586.0" font-size="20" font-weight="bold" text-anchor="middle" dominant-baseline="central" transform="rotate(-10 240.0 1586.0)">0.75</text>
<text x="290.0" y="1565.0" font-size="20" font-weight="bold" text-anchor="middle" dominant-baseline="central" transform="rotate(-70 290.0 1565.0)">0.75</text>
<text x="272.0" y="1592.0" font-size="20" font-weight="bold" text-anchor="middle" dominant-baseline="central" transform="rotate(-70 272.0 1592.0)">0.5</text>
<text x="303.0" y="1638.0" font-size="20" font-weight="bold" text-anchor="middle" dominant-baseline="central" transform="rotate(-10 303.0 1638.0)">0.5</text>
<text x="603.0" y="1694.0" font-size="20" font-weight="bold" text-anchor="middle" dominant-baseline="central" transform="rotate(-10 603.0 1694.0)">0.75</text>
<text x="660.0" y="1619.0" font-size="20" font-weight="bold" text-anchor="middle" dominant-baseline="central" transform="rotate(-80 660.0 1619.0)">1</text>
<text x="762.0" y="1590.0" font-size="20" font-weight="bold" text-anchor="middle" dominant-baseline="central" transform="rotate(-10 762.0 1590.0)">0.5</text>
<text x="828.0" y="1588.0" font-size="20" font-weight="bold" text-anchor="middle" dominant-baseline="central" transform="rotate(0 828.0 1588.0)">1.25</text>
<text x="903.0" y="1656.0" font-size="20" font-weight="bold" text-anchor="middle" dominant-baseline="central" transform="rotate(-80 903.0 1656.0)">1</text>
<text x="500.0" y="1848.0" font-size="20" font-weight="bold" text-anchor="middle" dominant-baseline="central" transform="rotate(-5 500.0 1848.0)">0.25</text>
<text x="1022.0" y="1750.0" font-size="20" font-weight="bold" text-anchor="middle" dominant-baseline="central" transform="rotate(0 1022.0 1750.0)">0.5</text>
<text x="1075.0" y="1665.0" font-size="20" font-weight="bold" text-anchor="middle" dominant-baseline="central" transform="rotate(-5 1075.0 1665.0)">0.75</text>
<text x="1178.0" y="1578.0" font-size="20" font-weight="bold" text-anchor="middle" dominant-baseline="central" transform="rotate(0 1178.0 1578.0)">0.75</text>
<text x="1165.0" y="1500.0" font-size="20" font-weight="bold" text-anchor="middle" dominant-baseline="central" transform="rotate(-80 1165.0 1500.0)">0.2</text>
<text x="1275.0" y="1518.0" font-size="20" font-weight="bold" text-anchor="middle" dominant-baseline="central" transform="rotate(-80 1275.0 1518.0)">0.7</text>
<text x="1000.0" y="1755.0" font-size="20" font-weight="bold" text-anchor="middle" dominant-baseline="central" transform="rotate(0 1000.0 1755.0)">0.5</text>
</g>
<rect x="156.7" y="1488.0" width="1123.3" height="440.5" fill="none" stroke="#000" stroke-width="2.4"/>
<line x1="146.2" y1="1488.0" x2="156.7" y2="1488.0" stroke="#000" stroke-width="2.2"/>
<text x="135.0" y="1500.8" font-size="36.5" font-weight="bold" text-anchor="end">0</text>
<line x1="149.7" y1="1576.1" x2="156.7" y2="1576.1" stroke="#999" stroke-width="1.5"/>
<line x1="146.2" y1="1664.2" x2="156.7" y2="1664.2" stroke="#000" stroke-width="2.2"/>
<text x="135.0" y="1677.0" font-size="36.5" font-weight="bold" text-anchor="end">100</text>
<line x1="149.7" y1="1752.3" x2="156.7" y2="1752.3" stroke="#999" stroke-width="1.5"/>
<line x1="146.2" y1="1840.4" x2="156.7" y2="1840.4" stroke="#000" stroke-width="2.2"/>
<text x="135.0" y="1853.2" font-size="36.5" font-weight="bold" text-anchor="end">200</text>
<line x1="149.7" y1="1928.5" x2="156.7" y2="1928.5" stroke="#999" stroke-width="1.5"/>
<line x1="231.2" y1="1928.5" x2="231.2" y2="1939.0" stroke="#000" stroke-width="2.2"/>
<text x="231.2" y="1979.0" font-size="36.5" font-weight="bold" text-anchor="middle">40°S</text>
<line x1="465.0" y1="1928.5" x2="465.0" y2="1939.0" stroke="#000" stroke-width="2.2"/>
<text x="465.0" y="1979.0" font-size="36.5" font-weight="bold" text-anchor="middle">20°S</text>
<line x1="696.3" y1="1928.5" x2="696.3" y2="1939.0" stroke="#000" stroke-width="2.2"/>
<text x="696.3" y="1979.0" font-size="36.5" font-weight="bold" text-anchor="middle">EQ</text>
<line x1="929.2" y1="1928.5" x2="929.2" y2="1939.0" stroke="#000" stroke-width="2.2"/>
<text x="929.2" y="1979.0" font-size="36.5" font-weight="bold" text-anchor="middle">20°N</text>
<line x1="1163.0" y1="1928.5" x2="1163.0" y2="1939.0" stroke="#000" stroke-width="2.2"/>
<text x="1163.0" y="1979.0" font-size="36.5" font-weight="bold" text-anchor="middle">40°N</text>
<line x1="347.7" y1="1928.5" x2="347.7" y2="1935.5" stroke="#aaa" stroke-width="1.5"/>
<line x1="580.6" y1="1928.5" x2="580.6" y2="1935.5" stroke="#aaa" stroke-width="1.5"/>
<line x1="813.6" y1="1928.5" x2="813.6" y2="1935.5" stroke="#aaa" stroke-width="1.5"/>
<line x1="1046.5" y1="1928.5" x2="1046.5" y2="1935.5" stroke="#aaa" stroke-width="1.5"/>
<line x1="1279.5" y1="1928.5" x2="1279.5" y2="1935.5" stroke="#aaa" stroke-width="1.5"/>
<text x="0" y="0" font-size="42" font-weight="bold" text-anchor="middle" transform="translate(39.2 1708.0) rotate(-90) scale(1,1.045)">Depth [m]</text>
<path d="M1303.3,219.6 L1323.0,213.1 L1342.8,219.6 L1303.3,219.6 Z" fill="#f2bf8a"/>
<path d="M1303.3,660.5 L1323.0,667.0 L1342.8,660.5 Z" fill="#c070f8"/>
<rect x="1303.3" y="219.6" width="39.5" height="440.9" fill="url(#gT)"/>
<line x1="1302.8" y1="219.6" x2="1312.3" y2="219.6" stroke="#000" stroke-width="2.6"/>
<line x1="1333.8" y1="219.6" x2="1343.3" y2="219.6" stroke="#000" stroke-width="2.6"/>
<text x="1352.5" y="231.2" font-size="34.5" font-weight="bold" text-anchor="start">30</text>
<line x1="1302.8" y1="329.8" x2="1312.3" y2="329.8" stroke="#000" stroke-width="2.6"/>
<line x1="1333.8" y1="329.8" x2="1343.3" y2="329.8" stroke="#000" stroke-width="2.6"/>
<text x="1352.5" y="341.4" font-size="34.5" font-weight="bold" text-anchor="start">25</text>
<line x1="1302.8" y1="440.0" x2="1312.3" y2="440.0" stroke="#000" stroke-width="2.6"/>
<line x1="1333.8" y1="440.0" x2="1343.3" y2="440.0" stroke="#000" stroke-width="2.6"/>
<text x="1352.5" y="451.6" font-size="34.5" font-weight="bold" text-anchor="start">20</text>
<line x1="1302.8" y1="550.0" x2="1312.3" y2="550.0" stroke="#000" stroke-width="2.6"/>
<line x1="1333.8" y1="550.0" x2="1343.3" y2="550.0" stroke="#000" stroke-width="2.6"/>
<text x="1352.5" y="561.6" font-size="34.5" font-weight="bold" text-anchor="start">15</text>
<line x1="1302.8" y1="660.5" x2="1312.3" y2="660.5" stroke="#000" stroke-width="2.6"/>
<line x1="1333.8" y1="660.5" x2="1343.3" y2="660.5" stroke="#000" stroke-width="2.6"/>
<text x="1352.5" y="672.1" font-size="34.5" font-weight="bold" text-anchor="start">10</text>
<text x="0" y="0" font-size="23.5" font-weight="bold" text-anchor="start" textLength="235.0" lengthAdjust="spacingAndGlyphs" transform="translate(1302.3 654.0) rotate(-90)">Ocean Data View / DIVA</text>
<path d="M1303.0,836.5 L1322.7,830.0 L1342.3,836.5 L1303.0,836.5 Z" fill="#f2bf8a"/>
<path d="M1303.0,1277.0 L1322.7,1283.5 L1342.3,1277.0 Z" fill="#c070f8"/>
<rect x="1303.0" y="836.5" width="39.3" height="440.5" fill="url(#gN)"/>
<line x1="1302.5" y1="836.5" x2="1312.0" y2="836.5" stroke="#000" stroke-width="2.6"/>
<line x1="1333.3" y1="836.5" x2="1342.8" y2="836.5" stroke="#000" stroke-width="2.6"/>
<text x="1352.5" y="848.1" font-size="34.5" font-weight="bold" text-anchor="start">30</text>
<line x1="1302.5" y1="910.0" x2="1312.0" y2="910.0" stroke="#000" stroke-width="2.6"/>
<line x1="1333.3" y1="910.0" x2="1342.8" y2="910.0" stroke="#000" stroke-width="2.6"/>
<text x="1352.5" y="921.6" font-size="34.5" font-weight="bold" text-anchor="start">25</text>
<line x1="1302.5" y1="983.5" x2="1312.0" y2="983.5" stroke="#000" stroke-width="2.6"/>
<line x1="1333.3" y1="983.5" x2="1342.8" y2="983.5" stroke="#000" stroke-width="2.6"/>
<text x="1352.5" y="995.1" font-size="34.5" font-weight="bold" text-anchor="start">20</text>
<line x1="1302.5" y1="1057.0" x2="1312.0" y2="1057.0" stroke="#000" stroke-width="2.6"/>
<line x1="1333.3" y1="1057.0" x2="1342.8" y2="1057.0" stroke="#000" stroke-width="2.6"/>
<text x="1352.5" y="1068.6" font-size="34.5" font-weight="bold" text-anchor="start">15</text>
<line x1="1302.5" y1="1130.5" x2="1312.0" y2="1130.5" stroke="#000" stroke-width="2.6"/>
<line x1="1333.3" y1="1130.5" x2="1342.8" y2="1130.5" stroke="#000" stroke-width="2.6"/>
<text x="1352.5" y="1142.1" font-size="34.5" font-weight="bold" text-anchor="start">10</text>
<line x1="1302.5" y1="1204.0" x2="1312.0" y2="1204.0" stroke="#000" stroke-width="2.6"/>
<line x1="1333.3" y1="1204.0" x2="1342.8" y2="1204.0" stroke="#000" stroke-width="2.6"/>
<text x="1352.5" y="1215.6" font-size="34.5" font-weight="bold" text-anchor="start">5</text>
<line x1="1302.5" y1="1277.0" x2="1312.0" y2="1277.0" stroke="#000" stroke-width="2.6"/>
<line x1="1333.3" y1="1277.0" x2="1342.8" y2="1277.0" stroke="#000" stroke-width="2.6"/>
<text x="1352.5" y="1288.6" font-size="34.5" font-weight="bold" text-anchor="start">0</text>
<text x="0" y="0" font-size="23.5" font-weight="bold" text-anchor="start" textLength="169.0" lengthAdjust="spacingAndGlyphs" transform="translate(1302.6 1272.0) rotate(-90)">Ocean Data View</text>
<path d="M1309.0,1488.0 L1328.8,1481.5 L1348.5,1488.0 L1309.0,1488.0 Z" fill="#700000"/>
<path d="M1309.0,1928.5 L1328.8,1935.0 L1348.5,1928.5 Z" fill="#00008c"/>
<rect x="1309.0" y="1488.0" width="39.5" height="440.5" fill="url(#gC)"/>
<line x1="1308.5" y1="1488.0" x2="1318.0" y2="1488.0" stroke="#000" stroke-width="2.6"/>
<line x1="1339.5" y1="1488.0" x2="1349.0" y2="1488.0" stroke="#000" stroke-width="2.6"/>
<text x="1358.5" y="1499.6" font-size="34.5" font-weight="bold" text-anchor="start">2</text>
<line x1="1308.5" y1="1576.0" x2="1318.0" y2="1576.0" stroke="#000" stroke-width="2.6"/>
<line x1="1339.5" y1="1576.0" x2="1349.0" y2="1576.0" stroke="#000" stroke-width="2.6"/>
<text x="1358.5" y="1587.6" font-size="34.5" font-weight="bold" text-anchor="start">1.5</text>
<line x1="1308.5" y1="1664.0" x2="1318.0" y2="1664.0" stroke="#000" stroke-width="2.6"/>
<line x1="1339.5" y1="1664.0" x2="1349.0" y2="1664.0" stroke="#000" stroke-width="2.6"/>
<text x="1358.5" y="1675.6" font-size="34.5" font-weight="bold" text-anchor="start">1</text>
<line x1="1308.5" y1="1752.0" x2="1318.0" y2="1752.0" stroke="#000" stroke-width="2.6"/>
<line x1="1339.5" y1="1752.0" x2="1349.0" y2="1752.0" stroke="#000" stroke-width="2.6"/>
<text x="1358.5" y="1763.6" font-size="34.5" font-weight="bold" text-anchor="start">0.5</text>
<line x1="1308.5" y1="1840.0" x2="1318.0" y2="1840.0" stroke="#000" stroke-width="2.6"/>
<line x1="1339.5" y1="1840.0" x2="1349.0" y2="1840.0" stroke="#000" stroke-width="2.6"/>
<text x="1358.5" y="1851.6" font-size="34.5" font-weight="bold" text-anchor="start">0</text>
<line x1="1308.5" y1="1928.5" x2="1318.0" y2="1928.5" stroke="#000" stroke-width="2.6"/>
<line x1="1339.5" y1="1928.5" x2="1349.0" y2="1928.5" stroke="#000" stroke-width="2.6"/>
<text x="1358.5" y="1940.1" font-size="34.5" font-weight="bold" text-anchor="start">-0.5</text>
<text x="0" y="0" font-size="23.5" font-weight="bold" text-anchor="start" textLength="235.0" lengthAdjust="spacingAndGlyphs" transform="translate(1307.9 1921.5) rotate(-90)">Ocean Data View / DIVA</text>
<g transform="translate(229.2 31.6) scale(1,1.07)"><text x="0.0" y="0.0" font-size="42.0" text-anchor="middle">SSTC</text></g>
<g transform="translate(469.2 31.6) scale(1,1.07)"><text x="0.0" y="0.0" font-size="42.0" text-anchor="middle">SATL</text></g>
<g transform="translate(726.8 31.6) scale(1,1.07)"><text x="0.0" y="0.0" font-size="42.0" text-anchor="middle">WTRA</text></g>
<g transform="translate(1013.6 31.6) scale(1,1.07)"><text x="0.0" y="0.0" font-size="42.0" text-anchor="middle">NAG</text></g>
<g transform="translate(1226.8 31.6) scale(1,1.07)"><text x="0.0" y="0.0" font-size="42.0" text-anchor="middle">NADR</text></g>
<g transform="translate(1274 177) scale(1,1.05)"><text x="0.0" y="0.0" font-size="42.0" font-weight="bold" text-anchor="end">Temperature (ºC)</text></g>
<g transform="translate(1274 797) scale(1,1.05)"><text x="0.0" y="0.0" font-size="42.5" font-weight="bold" text-anchor="end">Nitrate (µmol L<tspan font-size="26" dy="-15">-1</tspan><tspan dy="15">)</tspan></text></g>
<g transform="translate(1279.5 1446) scale(1,1.05)"><text x="0.0" y="0.0" font-size="41.8" font-weight="bold" text-anchor="end">Chlorophyll a (µg L<tspan font-size="26" dy="-15">-1</tspan><tspan dy="15">)</tspan></text></g>
<path d="M149.5,68.3 H1269 M318.5,68.3 V2056 M626,68.3 V2056 M862,68.3 V2056 M1178,68.3 V2056 M318.5,2056 H1178" stroke="#000" stroke-width="2" fill="none"/>
</svg></body></html>
